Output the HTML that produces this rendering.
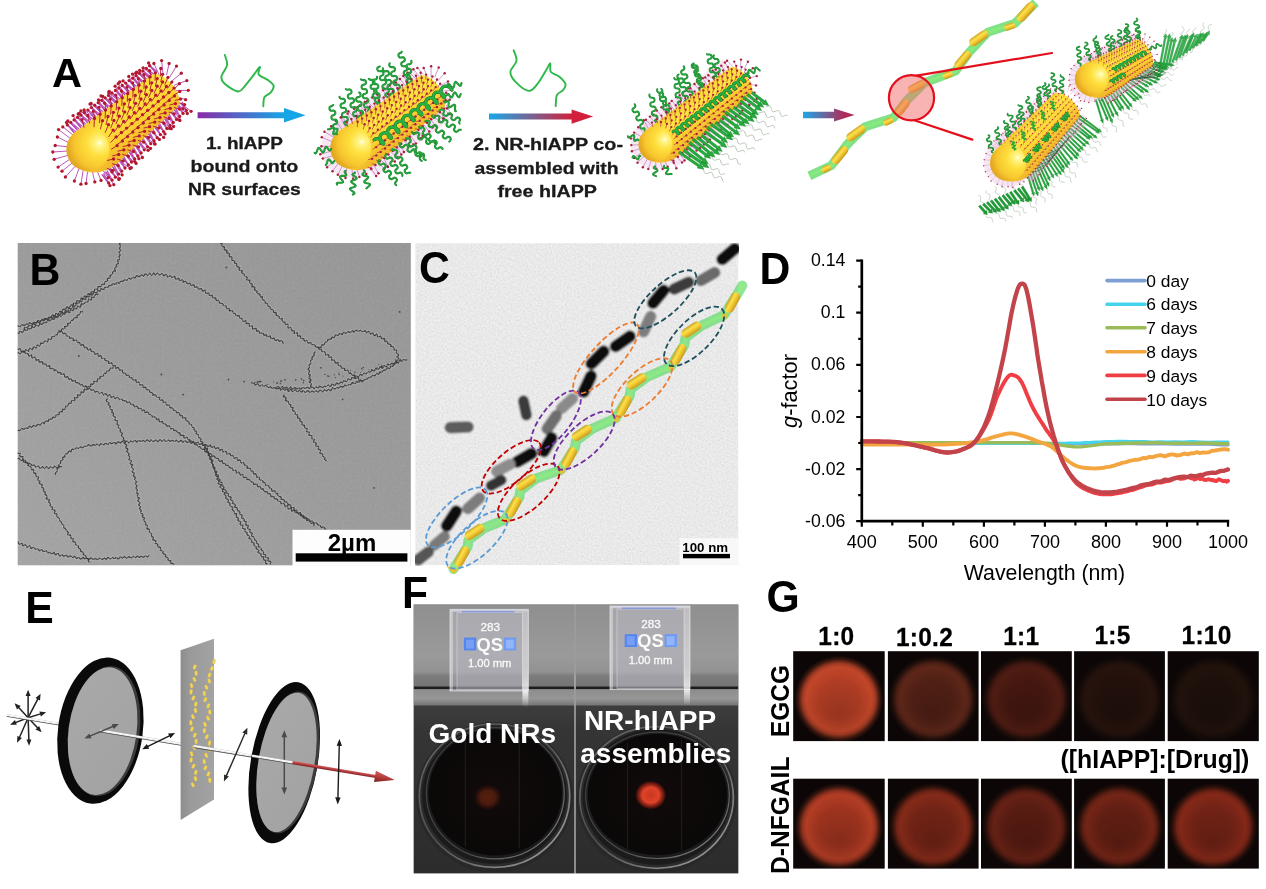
<!DOCTYPE html>
<html lang="en"><head><meta charset="utf-8"><title>Figure</title>
<style>
html,body{margin:0;padding:0;background:#fff;}
body{width:1266px;height:889px;overflow:hidden;}
svg{display:block;font-family:"Liberation Sans", Arial, Helvetica, sans-serif;}
</style></head><body>
<svg width="1266" height="889" viewBox="0 0 1266 889">
<rect width="1266" height="889" fill="#fff"/>
<g id="panelA">
<path d="M74.3,133.1 L67.3,124.9 L75.8,131.8 M77.6,130.5 L70.7,122.3 L79.2,129.2 M81,128 L74.1,119.9 L82.6,126.7 M84.4,125.5 L77.5,117.4 L86,124.2 M87.8,123 L81,115 L89.4,121.7 M91.2,120.5 L84.4,112.5 L92.8,119.2 M94.6,118 L87.9,110.1 L96.2,116.7 M98,115.5 L91.3,107.6 L99.6,114.2 M101.4,113 L94.7,105.2 L103,111.7 M104.8,110.5 L98.2,102.7 L106.4,109.2 M108.2,108 L101.6,100.3 L109.8,106.7 M111.6,105.5 L105.1,97.8 L113.2,104.2 M115,103 L108.5,95.4 L116.6,101.7 M118.4,100.5 L111.9,92.9 L120,99.2 M121.8,98 L115.4,90.4 L123.4,96.7 M125.2,95.5 L118.8,88 L126.8,94.2 M128.6,93 L122.3,85.5 L130.2,91.7 M132,90.5 L125.7,83.1 L133.6,89.2 M135.4,88 L129.1,80.6 L137,86.7 M138.9,85.5 L132.6,78.2 L140.4,84.2 M142.3,83 L136,75.7 L143.8,81.7 M145.7,80.5 L139.5,73.3 L147.2,79.2 M149.1,78 L142.9,70.8 L150.6,76.7 M152.4,75.5 L146.3,68.3 L154,74.2 M155.7,72.8 L149.6,65.7 L157.3,71.5 M102,174.5 L108.7,183 L103.6,173.2 M105.4,171.7 L112.1,180.1 L107,170.4 M108.7,168.8 L115.4,177.2 L110.3,167.5 M112,165.8 L118.6,174.1 L113.6,164.5 M115.2,162.8 L121.8,171.1 L116.8,161.5 M118.5,159.8 L125,168 L120.1,158.5 M121.8,156.8 L128.3,165 L123.3,155.5 M125,153.8 L131.5,162 L126.6,152.5 M128.3,150.8 L134.7,158.9 L129.8,149.5 M131.5,147.8 L137.9,155.9 L133.1,146.6 M134.8,144.8 L141.1,152.9 L136.3,143.6 M138,141.9 L144.3,149.8 L139.6,140.6 M141.3,138.9 L147.6,146.8 L142.8,137.6 M144.5,135.9 L150.8,143.7 L146.1,134.6 M147.8,132.9 L154,140.7 L149.4,131.6 M151,129.9 L157.2,137.7 L152.6,128.6 M154.3,126.9 L160.4,134.6 L155.9,125.6 M157.6,123.9 L163.6,131.6 L159.1,122.6 M160.8,120.9 L166.9,128.5 L162.4,119.6 M164.1,117.9 L170.1,125.5 L165.6,116.6 M167.3,114.9 L173.3,122.5 L168.9,113.6 M170.6,111.9 L176.5,119.4 L172.1,110.6 M173.8,108.9 L179.7,116.4 L175.4,107.6 M177.1,106 L183,113.4 L178.7,104.7 M180.5,103.2 L186.3,110.5 L182.1,101.9" fill="none" stroke="#b545b5" stroke-width="1.35" opacity="0.9" stroke-linejoin="round"/><path d="M74.3,133.1 L66.6,122.4 M77.6,130.5 L67.8,121 M81,128 L73.1,115.6 M84.4,125.5 L78.2,114 M87.8,123 L79.2,113.4 M91.2,120.5 L80.9,111 M94.6,118 L84.1,110 M98,115.5 L90,104.1 M101.4,113 L91.1,103.5 M104.8,110.5 L98.5,99.8 M108.2,108 L101,95.9 M111.6,105.5 L102.8,96.4 M115,103 L109.2,91.3 M118.4,100.5 L108.8,92.7 M121.8,98 L115.1,86.2 M125.2,95.5 L118.2,83.7 M128.6,93 L119.8,81.8 M132,90.5 L123.1,80.9 M135.4,88 L128.8,76.5 M138.9,85.5 L132.5,74.1 M142.3,83 L135.7,73.2 M145.7,80.5 L136.6,72.2 M149.1,78 L139.6,70.5 M152.4,75.5 L143.1,67.8 M155.7,72.8 L148.6,62.9 M102,174.5 L110,185.6 M105.4,171.7 L113.8,184.7 M108.7,168.8 L118.8,179.4 M112,165.8 L119.4,178.6 M115.2,162.8 L122.1,174.8 M118.5,159.8 L130.1,168.5 M121.8,156.8 L131.3,167.7 M125,153.8 L136.1,163.4 M128.3,150.8 L134.9,161.6 M131.5,147.8 L138.9,158.7 M134.8,144.8 L142.4,157.5 M138,141.9 L148.1,150.3 M141.3,138.9 L150.5,148.4 M144.5,135.9 L154.9,144.2 M147.8,132.9 L154.7,143.6 M151,129.9 L159.4,139.4 M154.3,126.9 L163.7,137.4 M157.6,123.9 L165,133.9 M160.8,120.9 L171.3,128.7 M164.1,117.9 L169.6,128.4 M167.3,114.9 L173.6,126.5 M170.6,111.9 L179.9,120.4 M173.8,108.9 L179.5,120 M177.1,106 L187.3,113.5 M180.5,103.2 L191.1,111.3 M103.1,163.1 L111.9,171.8 M99.9,166.1 L108.2,177.7 M96.1,168.2 L101,180.4 M92,169.6 L94.8,181.9 M87.7,170 L86.1,183.5 M83.3,169.5 L80.9,184.2 M79.2,168.1 L74.4,181 M75.5,165.9 L65.4,177 M72.3,162.9 L62,171.2 M69.8,159.3 L58.1,167.1 M68.1,155.3 L54.2,159.3 M67.4,151 L52.8,152 M67.5,146.7 L55.2,145.5 M68.5,142.5 L57.4,137 M70.5,138.6 L58.6,129.6 M73.2,135.1 L62.8,126.9 M159.8,76.3 L153.9,63.5 M163.1,74.8 L161.6,60.6 M166.5,75.1 L169.1,63.5 M169.6,77.2 L176.5,66.1 M172.2,80.7 L181.3,73.2 M173.8,85.4 L186.8,80.6 M174.5,90.7 L188.3,90.3 M174,96.1 L185.6,99.7 M172.5,100.9 L183,108.6" fill="none" stroke="#b545b5" stroke-width="0.9"/><g fill="#b3182e"><circle cx="66.6" cy="122.4" r="1.65"/><circle cx="67.3" cy="124.9" r="1.65"/><circle cx="67.8" cy="121" r="1.65"/><circle cx="70.7" cy="122.3" r="1.65"/><circle cx="73.1" cy="115.6" r="1.65"/><circle cx="74.1" cy="119.9" r="1.65"/><circle cx="78.2" cy="114" r="1.65"/><circle cx="77.5" cy="117.4" r="1.65"/><circle cx="79.2" cy="113.4" r="1.65"/><circle cx="81" cy="115" r="1.65"/><circle cx="80.9" cy="111" r="1.65"/><circle cx="84.4" cy="112.5" r="1.65"/><circle cx="84.1" cy="110" r="1.65"/><circle cx="87.9" cy="110.1" r="1.65"/><circle cx="90" cy="104.1" r="1.65"/><circle cx="91.3" cy="107.6" r="1.65"/><circle cx="91.1" cy="103.5" r="1.65"/><circle cx="94.7" cy="105.2" r="1.65"/><circle cx="98.5" cy="99.8" r="1.65"/><circle cx="98.2" cy="102.7" r="1.65"/><circle cx="101" cy="95.9" r="1.65"/><circle cx="101.6" cy="100.3" r="1.65"/><circle cx="102.8" cy="96.4" r="1.65"/><circle cx="105.1" cy="97.8" r="1.65"/><circle cx="109.2" cy="91.3" r="1.65"/><circle cx="108.5" cy="95.4" r="1.65"/><circle cx="108.8" cy="92.7" r="1.65"/><circle cx="111.9" cy="92.9" r="1.65"/><circle cx="115.1" cy="86.2" r="1.65"/><circle cx="115.4" cy="90.4" r="1.65"/><circle cx="118.2" cy="83.7" r="1.65"/><circle cx="118.8" cy="88" r="1.65"/><circle cx="119.8" cy="81.8" r="1.65"/><circle cx="122.3" cy="85.5" r="1.65"/><circle cx="123.1" cy="80.9" r="1.65"/><circle cx="125.7" cy="83.1" r="1.65"/><circle cx="128.8" cy="76.5" r="1.65"/><circle cx="129.1" cy="80.6" r="1.65"/><circle cx="132.5" cy="74.1" r="1.65"/><circle cx="132.6" cy="78.2" r="1.65"/><circle cx="135.7" cy="73.2" r="1.65"/><circle cx="136" cy="75.7" r="1.65"/><circle cx="136.6" cy="72.2" r="1.65"/><circle cx="139.5" cy="73.3" r="1.65"/><circle cx="139.6" cy="70.5" r="1.65"/><circle cx="142.9" cy="70.8" r="1.65"/><circle cx="143.1" cy="67.8" r="1.65"/><circle cx="146.3" cy="68.3" r="1.65"/><circle cx="148.6" cy="62.9" r="1.65"/><circle cx="149.6" cy="65.7" r="1.65"/><circle cx="110" cy="185.6" r="1.65"/><circle cx="108.7" cy="183" r="1.65"/><circle cx="113.8" cy="184.7" r="1.65"/><circle cx="112.1" cy="180.1" r="1.65"/><circle cx="118.8" cy="179.4" r="1.65"/><circle cx="115.4" cy="177.2" r="1.65"/><circle cx="119.4" cy="178.6" r="1.65"/><circle cx="118.6" cy="174.1" r="1.65"/><circle cx="122.1" cy="174.8" r="1.65"/><circle cx="121.8" cy="171.1" r="1.65"/><circle cx="130.1" cy="168.5" r="1.65"/><circle cx="125" cy="168" r="1.65"/><circle cx="131.3" cy="167.7" r="1.65"/><circle cx="128.3" cy="165" r="1.65"/><circle cx="136.1" cy="163.4" r="1.65"/><circle cx="131.5" cy="162" r="1.65"/><circle cx="134.9" cy="161.6" r="1.65"/><circle cx="134.7" cy="158.9" r="1.65"/><circle cx="138.9" cy="158.7" r="1.65"/><circle cx="137.9" cy="155.9" r="1.65"/><circle cx="142.4" cy="157.5" r="1.65"/><circle cx="141.1" cy="152.9" r="1.65"/><circle cx="148.1" cy="150.3" r="1.65"/><circle cx="144.3" cy="149.8" r="1.65"/><circle cx="150.5" cy="148.4" r="1.65"/><circle cx="147.6" cy="146.8" r="1.65"/><circle cx="154.9" cy="144.2" r="1.65"/><circle cx="150.8" cy="143.7" r="1.65"/><circle cx="154.7" cy="143.6" r="1.65"/><circle cx="154" cy="140.7" r="1.65"/><circle cx="159.4" cy="139.4" r="1.65"/><circle cx="157.2" cy="137.7" r="1.65"/><circle cx="163.7" cy="137.4" r="1.65"/><circle cx="160.4" cy="134.6" r="1.65"/><circle cx="165" cy="133.9" r="1.65"/><circle cx="163.6" cy="131.6" r="1.65"/><circle cx="171.3" cy="128.7" r="1.65"/><circle cx="166.9" cy="128.5" r="1.65"/><circle cx="169.6" cy="128.4" r="1.65"/><circle cx="170.1" cy="125.5" r="1.65"/><circle cx="173.6" cy="126.5" r="1.65"/><circle cx="173.3" cy="122.5" r="1.65"/><circle cx="179.9" cy="120.4" r="1.65"/><circle cx="176.5" cy="119.4" r="1.65"/><circle cx="179.5" cy="120" r="1.65"/><circle cx="179.7" cy="116.4" r="1.65"/><circle cx="187.3" cy="113.5" r="1.65"/><circle cx="183" cy="113.4" r="1.65"/><circle cx="191.1" cy="111.3" r="1.65"/><circle cx="186.3" cy="110.5" r="1.65"/><circle cx="111.9" cy="171.8" r="1.65"/><circle cx="108.2" cy="177.7" r="1.65"/><circle cx="101" cy="180.4" r="1.65"/><circle cx="94.8" cy="181.9" r="1.65"/><circle cx="86.1" cy="183.5" r="1.65"/><circle cx="80.9" cy="184.2" r="1.65"/><circle cx="74.4" cy="181" r="1.65"/><circle cx="65.4" cy="177" r="1.65"/><circle cx="62" cy="171.2" r="1.65"/><circle cx="58.1" cy="167.1" r="1.65"/><circle cx="54.2" cy="159.3" r="1.65"/><circle cx="52.8" cy="152" r="1.65"/><circle cx="55.2" cy="145.5" r="1.65"/><circle cx="57.4" cy="137" r="1.65"/><circle cx="58.6" cy="129.6" r="1.65"/><circle cx="62.8" cy="126.9" r="1.65"/><circle cx="153.9" cy="63.5" r="1.65"/><circle cx="161.6" cy="60.6" r="1.65"/><circle cx="169.1" cy="63.5" r="1.65"/><circle cx="176.5" cy="66.1" r="1.65"/><circle cx="181.3" cy="73.2" r="1.65"/><circle cx="186.8" cy="80.6" r="1.65"/><circle cx="188.3" cy="90.3" r="1.65"/><circle cx="185.6" cy="99.7" r="1.65"/><circle cx="183" cy="108.6" r="1.65"/></g>
<linearGradient id="rb1" gradientUnits="userSpaceOnUse" x1="75.1" y1="131.1" x2="107.9" y2="170.9"><stop offset="0" stop-color="#f7c832"/><stop offset="0.28" stop-color="#ffe541"/><stop offset="0.6" stop-color="#fdd334"/><stop offset="1" stop-color="#efb42a"/></linearGradient><radialGradient id="rs1" gradientUnits="userSpaceOnUse" cx="99.6" cy="143.1" r="32.2"><stop offset="0" stop-color="#fffef0"/><stop offset="0.1" stop-color="#fff68c"/><stop offset="0.4" stop-color="#fedf3c"/><stop offset="0.78" stop-color="#f7c62e"/><stop offset="1" stop-color="#e3a922"/></radialGradient><path d="M82.7,170.4 L74.1,132.9 L151.1,75.3 A10.3,20.6 -39.4 0 1 177.3,107.1 L117,163.4 Q100.4,177.1 82.7,170.4 Z" fill="url(#rb1)"/><circle cx="87.8" cy="149.5" r="21.5" fill="url(#rs1)"/>
<path d="M84.1,127.6 L82.1,119.6 M89.7,123.4 L87.7,115.5 M95.3,119.3 L93.3,111.4 M100.9,115.1 L98.9,107.3 M106.5,111 L104.6,103.2 M112.1,106.8 L110.2,99.2 M117.7,102.6 L115.8,95.1 M123.3,98.5 L121.4,91 M128.9,94.3 L127,86.9 M134.5,90.2 L132.6,82.8 M140.1,86 L138.3,78.7 M145.7,81.9 L143.9,74.6 M151.3,77.7 L149.5,70.6 M94,127.2 L94.4,118.4 M99.6,123 L100,114.2 M105.1,118.7 L105.5,110.1 M110.7,114.5 L111.1,105.9 M116.2,110.3 L116.6,101.8 M121.8,106.1 L122.1,97.7 M127.3,101.8 L127.7,93.5 M132.8,97.6 L133.2,89.4 M138.4,93.4 L138.8,85.2 M143.9,89.2 L144.3,81.1 M149.5,84.9 L149.8,76.9 M155,80.7 L155.4,72.8 M160.4,76.3 L160.8,68.5 M100.4,129.3 L102.5,120.7 M105.9,125 L108,116.5 M111.4,120.7 L113.4,112.3 M116.9,116.4 L118.9,108.1 M122.3,112.2 L124.4,103.8 M127.8,107.9 L129.8,99.6 M133.3,103.6 L135.3,95.4 M138.8,99.3 L140.8,91.2 M144.3,95 L146.2,87 M149.8,90.7 L151.7,82.8 M155.3,86.4 L157.2,78.6 M160.7,82.1 L162.6,74.3 M105.1,132.7 L108.5,124.7 M110.5,128.3 L113.9,120.4 M115.9,124 L119.3,116.2 M121.4,119.6 L124.7,111.9 M126.8,115.2 L130.1,107.6 M132.2,110.9 L135.6,103.3 M137.7,106.5 L141,99 M143.1,102.2 L146.4,94.7 M148.5,97.8 L151.8,90.4 M154,93.5 L157.2,86.2 M159.4,89.1 L162.6,81.9 M164.8,84.7 L167.9,77.5 M108.5,137 L113.1,130.1 M113.9,132.6 L118.4,125.8 M119.2,128.2 L123.7,121.4 M124.6,123.8 L129.1,117 M130,119.3 L134.4,112.7 M135.4,114.9 L139.7,108.3 M140.7,110.5 L145.1,104 M146.1,106.1 L150.4,99.6 M151.5,101.6 L155.8,95.2 M156.9,97.2 L161.1,90.9 M162.3,92.8 L166.4,86.5 M167.6,88.4 L171.8,82.1 M110.6,142.5 L116.1,136.9 M115.9,138 L121.4,132.5 M121.2,133.5 L126.6,128.1 M126.6,129 L131.9,123.6 M131.9,124.5 L137.2,119.2 M137.2,120 L142.5,114.7 M142.5,115.5 L147.7,110.3 M147.9,111 L153,105.9 M153.2,106.6 L158.3,101.4 M158.5,102.1 L163.5,97 M163.8,97.6 L168.8,92.5 M169.2,93.1 L174.1,88.1 M174.6,88.7 L179.4,83.7 M111.1,149.4 L117.2,145.6 M116.3,144.9 L122.4,141.1 M121.6,140.3 L127.6,136.6 M126.9,135.8 L132.8,132.1 M132.1,131.2 L138.1,127.6 M137.4,126.6 L143.3,123 M142.7,122.1 L148.5,118.5 M147.9,117.5 L153.7,114 M153.2,113 L158.9,109.5 M158.5,108.4 L164.1,104.9 M163.7,103.8 L169.3,100.4 M169,99.3 L174.5,95.9 M174.4,94.8 L179.8,91.5 M107,160.5 L113.6,159 M112.3,155.9 L118.7,154.4 M117.5,151.2 L123.9,149.8 M122.7,146.6 L129,145.2 M127.9,142 L134.2,140.5 M133.1,137.4 L139.3,135.9 M138.3,132.7 L144.5,131.3 M143.5,128.1 L149.6,126.7 M148.7,123.5 L154.8,122.1 M154,118.9 L160,117.5 M159.2,114.2 L165.1,112.9 M164.4,109.6 L170.3,108.3 M169.6,105 L175.4,103.6 M174.9,100.4 L180.6,99.1 M106.8,168.4 L113,170.3 M112,163.7 L118.1,165.6 M117.1,159 L123.2,160.9 M122.3,154.3 L128.3,156.2 M127.4,149.7 L133.4,151.5 M132.6,145 L138.5,146.8 M137.8,140.3 L143.6,142.1 M142.9,135.6 L148.7,137.4 M148.1,130.9 L153.8,132.7 M153.2,126.2 L158.9,127.9 M158.4,121.5 L164,123.2 M163.6,116.8 L169.1,118.5 M168.7,112.1 L174.2,113.8 M173.9,107.4 L179.3,109.1 M179.2,102.9 L184.6,104.6" fill="none" stroke="#b3182e" stroke-width="1.0" opacity="0.9"/><g fill="#b3182e"><circle cx="82.1" cy="119.6" r="1.65"/><circle cx="87.7" cy="115.5" r="1.65"/><circle cx="93.3" cy="111.4" r="1.65"/><circle cx="98.9" cy="107.3" r="1.65"/><circle cx="104.6" cy="103.2" r="1.65"/><circle cx="110.2" cy="99.2" r="1.65"/><circle cx="115.8" cy="95.1" r="1.65"/><circle cx="121.4" cy="91" r="1.65"/><circle cx="127" cy="86.9" r="1.65"/><circle cx="132.6" cy="82.8" r="1.65"/><circle cx="138.3" cy="78.7" r="1.65"/><circle cx="143.9" cy="74.6" r="1.65"/><circle cx="149.5" cy="70.6" r="1.65"/><circle cx="94.4" cy="118.4" r="1.65"/><circle cx="100" cy="114.2" r="1.65"/><circle cx="105.5" cy="110.1" r="1.65"/><circle cx="111.1" cy="105.9" r="1.65"/><circle cx="116.6" cy="101.8" r="1.65"/><circle cx="122.1" cy="97.7" r="1.65"/><circle cx="127.7" cy="93.5" r="1.65"/><circle cx="133.2" cy="89.4" r="1.65"/><circle cx="138.8" cy="85.2" r="1.65"/><circle cx="144.3" cy="81.1" r="1.65"/><circle cx="149.8" cy="76.9" r="1.65"/><circle cx="155.4" cy="72.8" r="1.65"/><circle cx="160.8" cy="68.5" r="1.65"/><circle cx="102.5" cy="120.7" r="1.65"/><circle cx="108" cy="116.5" r="1.65"/><circle cx="113.4" cy="112.3" r="1.65"/><circle cx="118.9" cy="108.1" r="1.65"/><circle cx="124.4" cy="103.8" r="1.65"/><circle cx="129.8" cy="99.6" r="1.65"/><circle cx="135.3" cy="95.4" r="1.65"/><circle cx="140.8" cy="91.2" r="1.65"/><circle cx="146.2" cy="87" r="1.65"/><circle cx="151.7" cy="82.8" r="1.65"/><circle cx="157.2" cy="78.6" r="1.65"/><circle cx="162.6" cy="74.3" r="1.65"/><circle cx="108.5" cy="124.7" r="1.65"/><circle cx="113.9" cy="120.4" r="1.65"/><circle cx="119.3" cy="116.2" r="1.65"/><circle cx="124.7" cy="111.9" r="1.65"/><circle cx="130.1" cy="107.6" r="1.65"/><circle cx="135.6" cy="103.3" r="1.65"/><circle cx="141" cy="99" r="1.65"/><circle cx="146.4" cy="94.7" r="1.65"/><circle cx="151.8" cy="90.4" r="1.65"/><circle cx="157.2" cy="86.2" r="1.65"/><circle cx="162.6" cy="81.9" r="1.65"/><circle cx="167.9" cy="77.5" r="1.65"/><circle cx="113.1" cy="130.1" r="1.65"/><circle cx="118.4" cy="125.8" r="1.65"/><circle cx="123.7" cy="121.4" r="1.65"/><circle cx="129.1" cy="117" r="1.65"/><circle cx="134.4" cy="112.7" r="1.65"/><circle cx="139.7" cy="108.3" r="1.65"/><circle cx="145.1" cy="104" r="1.65"/><circle cx="150.4" cy="99.6" r="1.65"/><circle cx="155.8" cy="95.2" r="1.65"/><circle cx="161.1" cy="90.9" r="1.65"/><circle cx="166.4" cy="86.5" r="1.65"/><circle cx="171.8" cy="82.1" r="1.65"/><circle cx="116.1" cy="136.9" r="1.65"/><circle cx="121.4" cy="132.5" r="1.65"/><circle cx="126.6" cy="128.1" r="1.65"/><circle cx="131.9" cy="123.6" r="1.65"/><circle cx="137.2" cy="119.2" r="1.65"/><circle cx="142.5" cy="114.7" r="1.65"/><circle cx="147.7" cy="110.3" r="1.65"/><circle cx="153" cy="105.9" r="1.65"/><circle cx="158.3" cy="101.4" r="1.65"/><circle cx="163.5" cy="97" r="1.65"/><circle cx="168.8" cy="92.5" r="1.65"/><circle cx="174.1" cy="88.1" r="1.65"/><circle cx="179.4" cy="83.7" r="1.65"/><circle cx="117.2" cy="145.6" r="1.65"/><circle cx="122.4" cy="141.1" r="1.65"/><circle cx="127.6" cy="136.6" r="1.65"/><circle cx="132.8" cy="132.1" r="1.65"/><circle cx="138.1" cy="127.6" r="1.65"/><circle cx="143.3" cy="123" r="1.65"/><circle cx="148.5" cy="118.5" r="1.65"/><circle cx="153.7" cy="114" r="1.65"/><circle cx="158.9" cy="109.5" r="1.65"/><circle cx="164.1" cy="104.9" r="1.65"/><circle cx="169.3" cy="100.4" r="1.65"/><circle cx="174.5" cy="95.9" r="1.65"/><circle cx="179.8" cy="91.5" r="1.65"/><circle cx="113.6" cy="159" r="1.65"/><circle cx="118.7" cy="154.4" r="1.65"/><circle cx="123.9" cy="149.8" r="1.65"/><circle cx="129" cy="145.2" r="1.65"/><circle cx="134.2" cy="140.5" r="1.65"/><circle cx="139.3" cy="135.9" r="1.65"/><circle cx="144.5" cy="131.3" r="1.65"/><circle cx="149.6" cy="126.7" r="1.65"/><circle cx="154.8" cy="122.1" r="1.65"/><circle cx="160" cy="117.5" r="1.65"/><circle cx="165.1" cy="112.9" r="1.65"/><circle cx="170.3" cy="108.3" r="1.65"/><circle cx="175.4" cy="103.6" r="1.65"/><circle cx="180.6" cy="99.1" r="1.65"/><circle cx="113" cy="170.3" r="1.65"/><circle cx="118.1" cy="165.6" r="1.65"/><circle cx="123.2" cy="160.9" r="1.65"/><circle cx="128.3" cy="156.2" r="1.65"/><circle cx="133.4" cy="151.5" r="1.65"/><circle cx="138.5" cy="146.8" r="1.65"/><circle cx="143.6" cy="142.1" r="1.65"/><circle cx="148.7" cy="137.4" r="1.65"/><circle cx="153.8" cy="132.7" r="1.65"/><circle cx="158.9" cy="127.9" r="1.65"/><circle cx="164" cy="123.2" r="1.65"/><circle cx="169.1" cy="118.5" r="1.65"/><circle cx="174.2" cy="113.8" r="1.65"/><circle cx="179.3" cy="109.1" r="1.65"/><circle cx="184.6" cy="104.6" r="1.65"/></g>
<linearGradient id="ga1" gradientUnits="userSpaceOnUse" x1="197.6" y1="0" x2="305.6" y2="0"><stop offset="0" stop-color="#8a2aa8"/><stop offset="0.8" stop-color="#16a6e6"/><stop offset="1" stop-color="#16a6e6"/></linearGradient><path d="M197.6,112.2 H284 V108.0 L305.6,115.2 L284,122.4 V118.2 H197.6 Z" fill="url(#ga1)"/>
<path d="M224.8,54.9 C225.2,56.6 227.7,61.6 227.1,65.2 C226.5,68.8 221.8,73.6 221.4,76.6 C220.9,79.7 221.6,81 224.4,83.5 C227.1,86 234.7,91.2 238.1,91.5 C241.5,91.9 242.3,88.7 245,85.8 C247.6,82.9 251.7,77.5 254.1,74.4 C256.6,71.2 259.1,67 259.9,67 C260.6,67 257.4,72.2 258.7,74.4 C260,76.5 265.4,78.2 267.9,80.1 C270.4,82 273.1,83.7 273.6,85.8 C274.1,87.9 272.1,90.8 270.6,92.7 C269.1,94.6 265.7,95 264.4,97.3 C263.2,99.6 263.5,104.9 263.3,106.4" fill="none" stroke="#2db84a" stroke-width="1.9" stroke-linecap="round"/>
<text x="244.4" y="149.2" font-size="17.2" font-weight="bold" text-anchor="middle" fill="#1a1a1a" stroke="#1a1a1a" stroke-width="0.3" textLength="77" lengthAdjust="spacingAndGlyphs">1. hIAPP</text>
<text x="244.4" y="172.0" font-size="17.2" font-weight="bold" text-anchor="middle" fill="#1a1a1a" stroke="#1a1a1a" stroke-width="0.3" textLength="107.8" lengthAdjust="spacingAndGlyphs">bound onto</text>
<text x="244.4" y="195.2" font-size="17.2" font-weight="bold" text-anchor="middle" fill="#1a1a1a" stroke="#1a1a1a" stroke-width="0.3" textLength="112.6" lengthAdjust="spacingAndGlyphs">NR surfaces</text>
<path d="M354.2,149.6 L431,92.5" stroke="#e7b7dc" stroke-width="66.8" opacity="0.33" fill="none"/><circle cx="350.7" cy="148" r="29.3" fill="#e7b7dc" opacity="0.33"/>
<path d="M341.9,129.4 L335.9,120.9 M345.5,127 L340.8,117.5 M349,124.7 L341.4,117 M352.6,122.3 L347.5,113.5 M356.1,119.9 L348.4,111.3 M359.7,117.5 L354.1,108.7 M363.3,115.1 L357.5,107.2 M366.8,112.7 L359.7,105.5 M370.4,110.3 L364.8,102.1 M373.9,107.9 L367.2,101.2 M377.5,105.6 L372.2,97.4 M381,103.2 L376.4,93.3 M384.6,100.8 L377.3,94.4 M388.1,98.4 L383.1,90.3 M391.7,96 L383.8,88.6 M395.3,93.6 L389.6,85.4 M398.8,91.2 L393.8,82 M402.4,88.9 L395.9,82.4 M405.9,86.5 L399.9,78.9 M409.5,84.1 L403.3,76 M413,81.7 L407.5,72.7 M416.6,79.3 L409.6,73 M420.1,76.9 L413.4,69.2 M423.6,74.4 L417.4,67.9 M369.9,167.1 L376.1,175.9 M373.3,164.4 L378.5,173.3 M376.6,161.7 L384.5,168.7 M379.9,159 L387.7,166.4 M383.2,156.3 L387.9,166.9 M386.5,153.6 L394.8,161.5 M389.8,150.8 L398.2,158.2 M393.1,148.1 L397.9,157.4 M396.4,145.4 L401.3,154.4 M399.7,142.7 L403.9,151.9 M403.1,140 L410.6,146.3 M406.4,137.3 L413.5,144.5 M409.7,134.5 L415.9,143.6 M413,131.8 L420.9,138.3 M416.3,129.1 L422.7,136 M419.6,126.4 L425.2,135.7 M422.9,123.7 L429.2,131.5 M426.2,121 L432.5,127.5 M429.5,118.2 L435.7,125.9 M432.9,115.5 L439.5,121.8 M436.2,112.8 L443,118.6 M439.5,110.1 L444,118.8 M442.8,107.4 L448.9,114.2 M446.2,104.9 L450.7,114 M364.4,161.9 L371.2,169.1 M360.7,164.8 L366.3,173.9 M356.3,166.7 L359.4,176.9 M351.7,167.5 L353.1,178.8 M347,167.1 L345.5,178 M342.5,165.7 L337.8,174.8 M338.4,163.2 L332.5,171.2 M335.2,159.8 L327.1,167.3 M332.8,155.7 L322.8,158.6 M331.5,151.1 L320.3,154.2 M331.3,146.4 L321.4,146.2 M332.2,141.8 L321.8,137.2 M334.3,137.5 L324.5,131.8 M337.3,133.9 L331.2,126.3 M427.4,77.6 L423.7,67.9 M431,76.5 L431.1,66.3 M434.7,77.6 L438.7,67.4 M437.8,80.8 L444.7,73.2 M440,85.5 L448,81.6 M441,91.2 L451.5,90.3 M440.6,97 L449.7,99.7 M438.9,102.3 L447,108.6" fill="none" stroke="#b973c0" stroke-width="0.7"/><g fill="#a8203c"><circle cx="335.9" cy="120.9" r="1.25"/><circle cx="340.8" cy="117.5" r="1.25"/><circle cx="341.4" cy="117" r="1.25"/><circle cx="347.5" cy="113.5" r="1.25"/><circle cx="348.4" cy="111.3" r="1.25"/><circle cx="354.1" cy="108.7" r="1.25"/><circle cx="357.5" cy="107.2" r="1.25"/><circle cx="359.7" cy="105.5" r="1.25"/><circle cx="364.8" cy="102.1" r="1.25"/><circle cx="367.2" cy="101.2" r="1.25"/><circle cx="372.2" cy="97.4" r="1.25"/><circle cx="376.4" cy="93.3" r="1.25"/><circle cx="377.3" cy="94.4" r="1.25"/><circle cx="383.1" cy="90.3" r="1.25"/><circle cx="383.8" cy="88.6" r="1.25"/><circle cx="389.6" cy="85.4" r="1.25"/><circle cx="393.8" cy="82" r="1.25"/><circle cx="395.9" cy="82.4" r="1.25"/><circle cx="399.9" cy="78.9" r="1.25"/><circle cx="403.3" cy="76" r="1.25"/><circle cx="407.5" cy="72.7" r="1.25"/><circle cx="409.6" cy="73" r="1.25"/><circle cx="413.4" cy="69.2" r="1.25"/><circle cx="417.4" cy="67.9" r="1.25"/><circle cx="376.1" cy="175.9" r="1.25"/><circle cx="378.5" cy="173.3" r="1.25"/><circle cx="384.5" cy="168.7" r="1.25"/><circle cx="387.7" cy="166.4" r="1.25"/><circle cx="387.9" cy="166.9" r="1.25"/><circle cx="394.8" cy="161.5" r="1.25"/><circle cx="398.2" cy="158.2" r="1.25"/><circle cx="397.9" cy="157.4" r="1.25"/><circle cx="401.3" cy="154.4" r="1.25"/><circle cx="403.9" cy="151.9" r="1.25"/><circle cx="410.6" cy="146.3" r="1.25"/><circle cx="413.5" cy="144.5" r="1.25"/><circle cx="415.9" cy="143.6" r="1.25"/><circle cx="420.9" cy="138.3" r="1.25"/><circle cx="422.7" cy="136" r="1.25"/><circle cx="425.2" cy="135.7" r="1.25"/><circle cx="429.2" cy="131.5" r="1.25"/><circle cx="432.5" cy="127.5" r="1.25"/><circle cx="435.7" cy="125.9" r="1.25"/><circle cx="439.5" cy="121.8" r="1.25"/><circle cx="443" cy="118.6" r="1.25"/><circle cx="444" cy="118.8" r="1.25"/><circle cx="448.9" cy="114.2" r="1.25"/><circle cx="450.7" cy="114" r="1.25"/><circle cx="371.2" cy="169.1" r="1.25"/><circle cx="366.3" cy="173.9" r="1.25"/><circle cx="359.4" cy="176.9" r="1.25"/><circle cx="353.1" cy="178.8" r="1.25"/><circle cx="345.5" cy="178" r="1.25"/><circle cx="337.8" cy="174.8" r="1.25"/><circle cx="332.5" cy="171.2" r="1.25"/><circle cx="327.1" cy="167.3" r="1.25"/><circle cx="322.8" cy="158.6" r="1.25"/><circle cx="320.3" cy="154.2" r="1.25"/><circle cx="321.4" cy="146.2" r="1.25"/><circle cx="321.8" cy="137.2" r="1.25"/><circle cx="324.5" cy="131.8" r="1.25"/><circle cx="331.2" cy="126.3" r="1.25"/><circle cx="423.7" cy="67.9" r="1.25"/><circle cx="431.1" cy="66.3" r="1.25"/><circle cx="438.7" cy="67.4" r="1.25"/><circle cx="444.7" cy="73.2" r="1.25"/><circle cx="448" cy="81.6" r="1.25"/><circle cx="451.5" cy="90.3" r="1.25"/><circle cx="449.7" cy="99.7" r="1.25"/><circle cx="447" cy="108.6" r="1.25"/></g>
<path d="M336.4,132.9 337,131.6 337.6,130 337.5,128.8 336.2,128.7 334.9,128.8 333.7,128.3 333,127 333.1,125.5 333.9,124.5 335.2,124.1 336.5,123.7 337.1,122.5 337,121 336.2,119.8 335,119.5 333.6,119.7 332.3,119.4 331.5,118.3 331.4,116.8 332,115.7 333.2,115.2 334.5,114.7 335.3,113.7 335.3,112.2 334.6,110.9 333.4,110.5 332,110.7 330.7,110.6 329.7,109.7 329.4,108.2 329.8,106.9 331,106.3 332.3,105.8 333.2,104.9 M346.8,125.7 345.8,124.9 344.7,123.6 344.2,122.4 345.1,121.7 346.4,121.4 347.5,120.7 347.8,119.4 347.5,117.9 346.5,117 345.2,117 343.9,117.1 342.7,116.7 342,115.4 342.1,113.9 342.8,112.9 344.1,112.5 345.3,112.1 346.1,111.1 346.1,109.6 345.5,108.4 344.3,107.9 343,108 341.7,107.8 340.8,106.9 340.5,105.4 341,104.1 342.1,103.5 343.5,103.2 344.5,102.6 345,101.3 344.7,99.8 343.7,98.9 342.5,98.8 341.1,98.8 340,98.2 339.5,96.8 M357,118 357.2,116.5 356.9,115.9 355.9,116.1 354.6,116.2 353.6,115.4 353.1,113.9 353.4,112.6 354.4,111.8 355.7,111.4 356.6,110.5 356.7,109.1 356.1,107.7 355,107.1 353.7,107.2 352.4,107.5 351.2,107 350.5,105.7 350.5,104.3 351.2,103.3 352.5,102.8 353.6,102.1 354.1,100.9 353.8,99.5 352.9,98.4 351.6,98.3 350.3,98.6 349,98.5 348.1,97.5 347.8,96 348.2,94.8 349.4,94.1 350.6,93.6 351.4,92.7 351.5,91.3 350.8,89.9 349.6,89.4 348.3,89.6 347,89.7 345.9,89.1 M367.5,111.8 368.1,110.8 368.7,109.2 368.8,107.8 367.8,107.4 366.4,107.5 365.1,107.3 364.3,106.3 364,104.8 364.5,103.5 365.7,103 367,102.7 368,102 368.4,100.6 368,99.2 367,98.4 365.7,98.3 364.4,98.3 363.3,97.7 362.8,96.4 363,94.9 363.8,94 365.1,93.7 366.4,93.3 367.1,92.2 367,90.7 366.3,89.5 365.1,89.1 363.8,89.2 362.6,89 361.7,87.9 361.6,86.4 362.2,85.2 363.3,84.7 364.7,84.4 365.7,83.7 366,82.3 365.6,80.9 364.6,80.1 363.2,80.1 361.9,80 360.9,79.3 M377.7,104 376.7,102.9 376.7,102.3 377.7,101.9 378.7,101.2 379,99.8 378.5,98.4 377.5,97.6 376.2,97.7 374.8,97.9 373.6,97.5 372.9,96.2 372.9,94.7 373.7,93.7 374.9,93.2 376.1,92.6 376.6,91.4 376.3,89.9 375.4,88.8 374.1,88.7 372.8,88.9 371.5,88.7 370.7,87.5 370.6,86 371.2,84.9 372.5,84.4 373.7,83.9 374.5,82.8 374.4,81.3 373.6,80.1 372.4,79.7 371.1,79.9 369.8,79.8 368.9,78.8 M388.3,97.6 387.5,97.2 386.2,96.3 385.2,95.1 385.6,93.9 386.8,93.3 388,92.8 388.7,91.8 388.7,90.3 387.9,89 386.7,88.6 385.4,88.9 384.1,89 383,88.3 382.4,86.9 382.6,85.5 383.6,84.7 384.8,84.2 385.8,83.5 386.1,82.2 385.6,80.7 384.6,79.9 383.3,79.9 382,80.2 380.8,79.9 380,78.7 379.8,77.3 380.5,76.2 381.7,75.6 382.9,75.1 383.5,74 383.3,72.5 382.5,71.3 381.3,71 380,71.3 378.7,71.3 377.7,70.5 377.2,69 377.5,67.7 378.5,67 379.8,66.5 M398.3,89.6 398.1,89.3 398.7,88.9 399.8,87.9 399.8,86.5 399.1,85.1 398,84.6 396.7,84.8 395.4,85.1 394.2,84.5 393.5,83.2 393.6,81.7 394.4,80.8 395.7,80.3 396.8,79.7 397.2,78.4 396.8,76.9 395.8,76 394.6,75.9 393.2,76.2 392,75.9 391.2,74.7 391.1,73.2 391.7,72.1 392.9,71.6 394.2,71.1 395,70.1 394.9,68.6 394.2,67.4 393.1,67 391.7,67.1 390.5,67 389.5,66.1 389.2,64.6 389.7,63.3 M409.1,83.8 408.2,83.2 407,82 406.3,80.8 407,79.9 408.3,79.4 409.4,78.8 410,77.7 409.7,76.2 408.8,75.1 407.6,74.9 406.3,75.2 405,75.1 404.1,74.1 403.8,72.6 404.2,71.4 405.3,70.7 406.6,70.3 407.4,69.4 407.5,67.9 406.8,66.6 405.7,66 404.4,66.2 403.1,66.4 402,65.9 401.3,64.6 401.3,63.1 402.1,62.2 403.3,61.7 404.4,61 404.9,59.8 404.5,58.3 403.5,57.4 402.3,57.2 401,57.6 399.7,57.5 398.8,56.6 398.4,55.1 398.7,53.9 399.8,53.2 401,52.7 401.8,51.7 M363.3,124.5 363.1,124.2 363.9,123.9 365,122.8 365.1,121.3 364.3,120.1 363.2,119.6 361.8,119.8 360.5,119.8 359.5,119 359.1,117.5 359.4,116.1 360.5,115.4 361.8,115.1 362.8,114.3 363.2,113 362.7,111.5 361.7,110.7 360.4,110.7 359.1,110.8 358,110.2 357.4,108.9 357.5,107.4 358.4,106.5 359.7,106.1 360.9,105.7 361.6,104.6 361.5,103 360.7,101.9 359.5,101.6 358.2,101.7 357,101.3 356.2,100.1 356.2,98.6 356.9,97.5 358.1,97.1 359.5,96.8 360.4,96 360.6,94.5 360.2,93.2 359.1,92.5 M379,114.5 379.7,112.9 379.9,111.8 379.2,111.5 377.8,111.6 376.7,111 376.1,109.7 376.2,108.2 377.1,107.3 378.4,107 379.6,106.6 380.5,105.7 380.6,104.2 379.9,102.9 378.8,102.4 377.4,102.4 376.2,102.2 375.3,101.2 375.1,99.7 375.7,98.4 376.9,97.9 378.2,97.7 379.2,97 379.6,95.6 379.2,94.1 378.2,93.3 376.9,93.3 375.5,93.2 374.5,92.6 374,91.1 374.3,89.7 375.2,88.9 376.6,88.6 377.7,88.2 378.4,87 378.2,85.5 377.4,84.4 376.2,84.1 374.8,84.2 373.6,83.8 372.9,82.6 372.8,81.1 373.5,80.1 374.8,79.6 376.1,79.3 376.9,78.4 377,76.9 M394.4,102.7 394.2,102.3 394.9,102.1 396,101.1 396.2,99.7 395.5,98.3 394.4,97.7 393.1,97.8 391.8,98 390.7,97.5 390,96.1 390.1,94.7 390.9,93.8 392.2,93.3 393.3,92.7 393.8,91.5 393.5,90 392.5,89 391.3,88.8 389.9,89.1 388.7,88.9 387.8,87.9 387.5,86.4 388.1,85.2 389.2,84.6 390.5,84.1 391.3,83.2 391.3,81.7 390.6,80.4 389.4,79.9 388.1,80.1 386.8,80.2 385.7,79.5 385.2,78.1 385.4,76.7 386.3,75.9 387.6,75.5 388.7,74.8 389,73.5 388.6,72 387.6,71.1 386.3,71.1 385,71.4 383.8,71 383,69.9 382.9,68.4 M410.1,91.9 410.2,91.8 411,91.4 412.1,90.2 412.2,88.7 411.4,87.6 410.3,87.2 408.9,87.2 407.7,86.9 406.9,85.8 406.9,84.3 407.5,83.1 408.7,82.7 410,82.5 411.1,81.8 411.5,80.4 411.1,79 410.2,78.2 408.9,78 407.6,77.9 406.6,77.1 406.3,75.7 406.6,74.3 407.7,73.6 409,73.4 410.2,73.1 411,72.1 411.2,70.6 410.6,69.4 409.4,68.9 408.1,68.8 406.9,68.3 406.3,67.1 406.5,65.6 407.3,64.5 408.5,64.2 409.9,64.2 410.9,63.6 411.5,62.3 411.3,60.9" fill="none" stroke="#1c8f31" stroke-width="2.1" stroke-linecap="round" stroke-linejoin="round"/><path d="M336.4,132.9 337,131.6 337.6,130 337.5,128.8 336.2,128.7 334.9,128.8 333.7,128.3 333,127 333.1,125.5 333.9,124.5 335.2,124.1 336.5,123.7 337.1,122.5 337,121 336.2,119.8 335,119.5 333.6,119.7 332.3,119.4 331.5,118.3 331.4,116.8 332,115.7 333.2,115.2 334.5,114.7 335.3,113.7 335.3,112.2 334.6,110.9 333.4,110.5 332,110.7 330.7,110.6 329.7,109.7 329.4,108.2 329.8,106.9 331,106.3 332.3,105.8 333.2,104.9 M346.8,125.7 345.8,124.9 344.7,123.6 344.2,122.4 345.1,121.7 346.4,121.4 347.5,120.7 347.8,119.4 347.5,117.9 346.5,117 345.2,117 343.9,117.1 342.7,116.7 342,115.4 342.1,113.9 342.8,112.9 344.1,112.5 345.3,112.1 346.1,111.1 346.1,109.6 345.5,108.4 344.3,107.9 343,108 341.7,107.8 340.8,106.9 340.5,105.4 341,104.1 342.1,103.5 343.5,103.2 344.5,102.6 345,101.3 344.7,99.8 343.7,98.9 342.5,98.8 341.1,98.8 340,98.2 339.5,96.8 M357,118 357.2,116.5 356.9,115.9 355.9,116.1 354.6,116.2 353.6,115.4 353.1,113.9 353.4,112.6 354.4,111.8 355.7,111.4 356.6,110.5 356.7,109.1 356.1,107.7 355,107.1 353.7,107.2 352.4,107.5 351.2,107 350.5,105.7 350.5,104.3 351.2,103.3 352.5,102.8 353.6,102.1 354.1,100.9 353.8,99.5 352.9,98.4 351.6,98.3 350.3,98.6 349,98.5 348.1,97.5 347.8,96 348.2,94.8 349.4,94.1 350.6,93.6 351.4,92.7 351.5,91.3 350.8,89.9 349.6,89.4 348.3,89.6 347,89.7 345.9,89.1 M367.5,111.8 368.1,110.8 368.7,109.2 368.8,107.8 367.8,107.4 366.4,107.5 365.1,107.3 364.3,106.3 364,104.8 364.5,103.5 365.7,103 367,102.7 368,102 368.4,100.6 368,99.2 367,98.4 365.7,98.3 364.4,98.3 363.3,97.7 362.8,96.4 363,94.9 363.8,94 365.1,93.7 366.4,93.3 367.1,92.2 367,90.7 366.3,89.5 365.1,89.1 363.8,89.2 362.6,89 361.7,87.9 361.6,86.4 362.2,85.2 363.3,84.7 364.7,84.4 365.7,83.7 366,82.3 365.6,80.9 364.6,80.1 363.2,80.1 361.9,80 360.9,79.3 M377.7,104 376.7,102.9 376.7,102.3 377.7,101.9 378.7,101.2 379,99.8 378.5,98.4 377.5,97.6 376.2,97.7 374.8,97.9 373.6,97.5 372.9,96.2 372.9,94.7 373.7,93.7 374.9,93.2 376.1,92.6 376.6,91.4 376.3,89.9 375.4,88.8 374.1,88.7 372.8,88.9 371.5,88.7 370.7,87.5 370.6,86 371.2,84.9 372.5,84.4 373.7,83.9 374.5,82.8 374.4,81.3 373.6,80.1 372.4,79.7 371.1,79.9 369.8,79.8 368.9,78.8 M388.3,97.6 387.5,97.2 386.2,96.3 385.2,95.1 385.6,93.9 386.8,93.3 388,92.8 388.7,91.8 388.7,90.3 387.9,89 386.7,88.6 385.4,88.9 384.1,89 383,88.3 382.4,86.9 382.6,85.5 383.6,84.7 384.8,84.2 385.8,83.5 386.1,82.2 385.6,80.7 384.6,79.9 383.3,79.9 382,80.2 380.8,79.9 380,78.7 379.8,77.3 380.5,76.2 381.7,75.6 382.9,75.1 383.5,74 383.3,72.5 382.5,71.3 381.3,71 380,71.3 378.7,71.3 377.7,70.5 377.2,69 377.5,67.7 378.5,67 379.8,66.5 M398.3,89.6 398.1,89.3 398.7,88.9 399.8,87.9 399.8,86.5 399.1,85.1 398,84.6 396.7,84.8 395.4,85.1 394.2,84.5 393.5,83.2 393.6,81.7 394.4,80.8 395.7,80.3 396.8,79.7 397.2,78.4 396.8,76.9 395.8,76 394.6,75.9 393.2,76.2 392,75.9 391.2,74.7 391.1,73.2 391.7,72.1 392.9,71.6 394.2,71.1 395,70.1 394.9,68.6 394.2,67.4 393.1,67 391.7,67.1 390.5,67 389.5,66.1 389.2,64.6 389.7,63.3 M409.1,83.8 408.2,83.2 407,82 406.3,80.8 407,79.9 408.3,79.4 409.4,78.8 410,77.7 409.7,76.2 408.8,75.1 407.6,74.9 406.3,75.2 405,75.1 404.1,74.1 403.8,72.6 404.2,71.4 405.3,70.7 406.6,70.3 407.4,69.4 407.5,67.9 406.8,66.6 405.7,66 404.4,66.2 403.1,66.4 402,65.9 401.3,64.6 401.3,63.1 402.1,62.2 403.3,61.7 404.4,61 404.9,59.8 404.5,58.3 403.5,57.4 402.3,57.2 401,57.6 399.7,57.5 398.8,56.6 398.4,55.1 398.7,53.9 399.8,53.2 401,52.7 401.8,51.7 M363.3,124.5 363.1,124.2 363.9,123.9 365,122.8 365.1,121.3 364.3,120.1 363.2,119.6 361.8,119.8 360.5,119.8 359.5,119 359.1,117.5 359.4,116.1 360.5,115.4 361.8,115.1 362.8,114.3 363.2,113 362.7,111.5 361.7,110.7 360.4,110.7 359.1,110.8 358,110.2 357.4,108.9 357.5,107.4 358.4,106.5 359.7,106.1 360.9,105.7 361.6,104.6 361.5,103 360.7,101.9 359.5,101.6 358.2,101.7 357,101.3 356.2,100.1 356.2,98.6 356.9,97.5 358.1,97.1 359.5,96.8 360.4,96 360.6,94.5 360.2,93.2 359.1,92.5 M379,114.5 379.7,112.9 379.9,111.8 379.2,111.5 377.8,111.6 376.7,111 376.1,109.7 376.2,108.2 377.1,107.3 378.4,107 379.6,106.6 380.5,105.7 380.6,104.2 379.9,102.9 378.8,102.4 377.4,102.4 376.2,102.2 375.3,101.2 375.1,99.7 375.7,98.4 376.9,97.9 378.2,97.7 379.2,97 379.6,95.6 379.2,94.1 378.2,93.3 376.9,93.3 375.5,93.2 374.5,92.6 374,91.1 374.3,89.7 375.2,88.9 376.6,88.6 377.7,88.2 378.4,87 378.2,85.5 377.4,84.4 376.2,84.1 374.8,84.2 373.6,83.8 372.9,82.6 372.8,81.1 373.5,80.1 374.8,79.6 376.1,79.3 376.9,78.4 377,76.9 M394.4,102.7 394.2,102.3 394.9,102.1 396,101.1 396.2,99.7 395.5,98.3 394.4,97.7 393.1,97.8 391.8,98 390.7,97.5 390,96.1 390.1,94.7 390.9,93.8 392.2,93.3 393.3,92.7 393.8,91.5 393.5,90 392.5,89 391.3,88.8 389.9,89.1 388.7,88.9 387.8,87.9 387.5,86.4 388.1,85.2 389.2,84.6 390.5,84.1 391.3,83.2 391.3,81.7 390.6,80.4 389.4,79.9 388.1,80.1 386.8,80.2 385.7,79.5 385.2,78.1 385.4,76.7 386.3,75.9 387.6,75.5 388.7,74.8 389,73.5 388.6,72 387.6,71.1 386.3,71.1 385,71.4 383.8,71 383,69.9 382.9,68.4 M410.1,91.9 410.2,91.8 411,91.4 412.1,90.2 412.2,88.7 411.4,87.6 410.3,87.2 408.9,87.2 407.7,86.9 406.9,85.8 406.9,84.3 407.5,83.1 408.7,82.7 410,82.5 411.1,81.8 411.5,80.4 411.1,79 410.2,78.2 408.9,78 407.6,77.9 406.6,77.1 406.3,75.7 406.6,74.3 407.7,73.6 409,73.4 410.2,73.1 411,72.1 411.2,70.6 410.6,69.4 409.4,68.9 408.1,68.8 406.9,68.3 406.3,67.1 406.5,65.6 407.3,64.5 408.5,64.2 409.9,64.2 410.9,63.6 411.5,62.3 411.3,60.9" fill="none" stroke="#35b84e" stroke-width="0.84" stroke-linecap="round" stroke-linejoin="round" opacity="0.7"/>
<linearGradient id="rb2" gradientUnits="userSpaceOnUse" x1="339.5" y1="129.8" x2="368.9" y2="169.3"><stop offset="0" stop-color="#f7c832"/><stop offset="0.28" stop-color="#ffe541"/><stop offset="0.6" stop-color="#fdd334"/><stop offset="1" stop-color="#efb42a"/></linearGradient><radialGradient id="rs2" gradientUnits="userSpaceOnUse" cx="362" cy="141.8" r="30.8"><stop offset="0" stop-color="#fffef0"/><stop offset="0.1" stop-color="#fff68c"/><stop offset="0.4" stop-color="#fedf3c"/><stop offset="0.78" stop-color="#f7c62e"/><stop offset="1" stop-color="#e3a922"/></radialGradient><path d="M344.9,167.7 L338.5,131.5 L419.1,76.4 A10,20 -36.6 0 1 442.9,108.6 L377.9,162.6 Q361.5,174.8 344.9,167.7 Z" fill="url(#rb2)"/><circle cx="350.7" cy="148" r="20.5" fill="url(#rs2)"/>
<path d="M347.8,127.2 L346.8,122.1 M352.5,124 L351.4,119 M357.1,120.9 L356,115.9 M361.7,117.8 L360.6,112.9 M366.3,114.7 L365.2,109.8 M370.9,111.5 L369.8,106.7 M375.5,108.4 L374.4,103.6 M380.1,105.3 L379.1,100.5 M384.7,102.2 L383.7,97.4 M389.3,99 L388.3,94.3 M393.9,95.9 L392.9,91.2 M398.5,92.8 L397.5,88.2 M403.1,89.7 L402.1,85.1 M407.7,86.5 L406.8,82 M412.4,83.4 L411.4,78.9 M417,80.3 L416,75.8 M421.5,77.1 L420.6,72.7 M357.3,127.2 L357.6,121.7 M361.9,124 L362.2,118.6 M366.4,120.9 L366.8,115.5 M371,117.7 L371.4,112.3 M375.6,114.5 L375.9,109.2 M380.2,111.4 L380.5,106.1 M384.7,108.2 L385.1,102.9 M389.3,105 L389.6,99.8 M393.9,101.8 L394.2,96.7 M398.4,98.7 L398.8,93.5 M403,95.5 L403.3,90.4 M407.6,92.3 L407.9,87.3 M412.2,89.2 L412.5,84.1 M416.7,86 L417,81 M421.3,82.8 L421.6,77.9 M425.8,79.5 L426.1,74.6 M363.3,129.6 L364.6,124.2 M367.8,126.3 L369.1,121 M372.3,123.1 L373.7,117.9 M376.9,119.9 L378.2,114.7 M381.4,116.7 L382.7,111.5 M385.9,113.5 L387.2,108.3 M390.5,110.2 L391.8,105.1 M395,107 L396.3,101.9 M399.5,103.8 L400.8,98.8 M404.1,100.6 L405.4,95.6 M408.6,97.4 L409.9,92.4 M413.1,94.1 L414.4,89.2 M417.7,90.9 L418.9,86 M422.2,87.7 L423.5,82.8 M426.7,84.5 L428,79.6 M431.2,81.1 L432.4,76.4 M367.6,133 L369.7,128.1 M372.1,129.7 L374.2,124.9 M376.6,126.5 L378.7,121.6 M381.1,123.2 L383.2,118.4 M385.6,119.9 L387.7,115.2 M390.1,116.7 L392.2,111.9 M394.6,113.4 L396.6,108.7 M399.1,110.1 L401.1,105.5 M403.6,106.9 L405.6,102.2 M408.1,103.6 L410.1,99 M412.6,100.3 L414.6,95.8 M417.1,97.1 L419.1,92.5 M421.6,93.8 L423.6,89.3 M426.1,90.5 L428,86.1 M430.6,87.2 L432.5,82.8 M435,83.9 L437,79.5 M370.6,137.4 L373.4,133.1 M375.1,134 L377.9,129.8 M379.6,130.7 L382.3,126.5 M384,127.4 L386.8,123.3 M388.5,124.1 L391.2,120 M393,120.8 L395.7,116.7 M397.4,117.5 L400.1,113.4 M401.9,114.1 L404.6,110.1 M406.3,110.8 L409,106.8 M410.8,107.5 L413.4,103.5 M415.3,104.2 L417.9,100.2 M419.7,100.9 L422.3,97 M424.2,97.6 L426.8,93.7 M428.7,94.2 L431.2,90.4 M433.1,90.9 L435.7,87.1 M437.6,87.6 L440.1,83.8 M372.4,142.7 L375.7,139.3 M376.9,139.3 L380.2,136 M381.3,135.9 L384.6,132.6 M385.7,132.6 L389,129.3 M390.1,129.2 L393.4,125.9 M394.6,125.8 L397.8,122.6 M399,122.5 L402.2,119.3 M403.4,119.1 L406.6,115.9 M407.9,115.7 L411,112.6 M412.3,112.4 L415.4,109.2 M416.7,109 L419.8,105.9 M421.1,105.6 L424.2,102.5 M425.6,102.3 L428.6,99.2 M430,98.9 L433,95.9 M434.4,95.6 L437.4,92.5 M438.9,92.2 L441.9,89.2 M372.6,149.3 L376.2,147.1 M376.9,145.9 L380.6,143.7 M381.3,142.5 L385,140.3 M385.7,139.1 L389.3,136.9 M390.1,135.7 L393.7,133.5 M394.5,132.3 L398.1,130.1 M398.9,128.8 L402.4,126.7 M403.3,125.4 L406.8,123.3 M407.7,122 L411.2,119.9 M412.1,118.6 L415.5,116.5 M416.5,115.2 L419.9,113.1 M420.9,111.8 L424.3,109.7 M425.3,108.4 L428.6,106.3 M429.7,104.9 L433,102.9 M434,101.5 L437.4,99.5 M438.5,98.2 L441.8,96.1 M442.9,94.8 L446.2,92.8 M368.2,159.6 L372.1,158.8 M372.6,156.2 L376.4,155.4 M376.9,152.7 L380.7,151.9 M381.3,149.3 L385.1,148.5 M385.6,145.8 L389.4,145 M390,142.3 L393.7,141.5 M394.3,138.9 L398,138.1 M398.7,135.4 L402.4,134.6 M403,132 L406.7,131.2 M407.4,128.5 L411,127.7 M411.8,125 L415.4,124.3 M416.1,121.6 L419.7,120.8 M420.5,118.1 L424,117.3 M424.8,114.6 L428.3,113.9 M429.2,111.2 L432.7,110.4 M433.5,107.7 L437,107 M437.9,104.3 L441.3,103.5 M442.3,100.9 L445.7,100.2 M367.6,167.2 L371.2,168.5 M371.9,163.7 L375.5,165 M376.2,160.2 L379.8,161.4 M380.6,156.7 L384.1,157.9 M384.9,153.1 L388.4,154.4 M389.2,149.6 L392.7,150.9 M393.5,146.1 L397,147.4 M397.8,142.6 L401.3,143.8 M402.2,139.1 L405.6,140.3 M406.5,135.6 L409.9,136.8 M410.8,132.1 L414.2,133.3 M415.1,128.6 L418.5,129.8 M419.4,125.1 L422.8,126.2 M423.8,121.6 L427,122.7 M428.1,118 L431.3,119.2 M432.4,114.5 L435.6,115.7 M436.7,111 L439.9,112.2 M441,107.5 L444.2,108.6" fill="none" stroke="#a8203c" stroke-width="0.7" opacity="0.9"/><g fill="#a8203c"><circle cx="346.8" cy="122.1" r="1.2"/><circle cx="351.4" cy="119" r="1.2"/><circle cx="356" cy="115.9" r="1.2"/><circle cx="360.6" cy="112.9" r="1.2"/><circle cx="365.2" cy="109.8" r="1.2"/><circle cx="369.8" cy="106.7" r="1.2"/><circle cx="374.4" cy="103.6" r="1.2"/><circle cx="379.1" cy="100.5" r="1.2"/><circle cx="383.7" cy="97.4" r="1.2"/><circle cx="388.3" cy="94.3" r="1.2"/><circle cx="392.9" cy="91.2" r="1.2"/><circle cx="397.5" cy="88.2" r="1.2"/><circle cx="402.1" cy="85.1" r="1.2"/><circle cx="406.8" cy="82" r="1.2"/><circle cx="411.4" cy="78.9" r="1.2"/><circle cx="416" cy="75.8" r="1.2"/><circle cx="420.6" cy="72.7" r="1.2"/><circle cx="357.6" cy="121.7" r="1.2"/><circle cx="362.2" cy="118.6" r="1.2"/><circle cx="366.8" cy="115.5" r="1.2"/><circle cx="371.4" cy="112.3" r="1.2"/><circle cx="375.9" cy="109.2" r="1.2"/><circle cx="380.5" cy="106.1" r="1.2"/><circle cx="385.1" cy="102.9" r="1.2"/><circle cx="389.6" cy="99.8" r="1.2"/><circle cx="394.2" cy="96.7" r="1.2"/><circle cx="398.8" cy="93.5" r="1.2"/><circle cx="403.3" cy="90.4" r="1.2"/><circle cx="407.9" cy="87.3" r="1.2"/><circle cx="412.5" cy="84.1" r="1.2"/><circle cx="417" cy="81" r="1.2"/><circle cx="421.6" cy="77.9" r="1.2"/><circle cx="426.1" cy="74.6" r="1.2"/><circle cx="364.6" cy="124.2" r="1.2"/><circle cx="369.1" cy="121" r="1.2"/><circle cx="373.7" cy="117.9" r="1.2"/><circle cx="378.2" cy="114.7" r="1.2"/><circle cx="382.7" cy="111.5" r="1.2"/><circle cx="387.2" cy="108.3" r="1.2"/><circle cx="391.8" cy="105.1" r="1.2"/><circle cx="396.3" cy="101.9" r="1.2"/><circle cx="400.8" cy="98.8" r="1.2"/><circle cx="405.4" cy="95.6" r="1.2"/><circle cx="409.9" cy="92.4" r="1.2"/><circle cx="414.4" cy="89.2" r="1.2"/><circle cx="418.9" cy="86" r="1.2"/><circle cx="423.5" cy="82.8" r="1.2"/><circle cx="428" cy="79.6" r="1.2"/><circle cx="432.4" cy="76.4" r="1.2"/><circle cx="369.7" cy="128.1" r="1.2"/><circle cx="374.2" cy="124.9" r="1.2"/><circle cx="378.7" cy="121.6" r="1.2"/><circle cx="383.2" cy="118.4" r="1.2"/><circle cx="387.7" cy="115.2" r="1.2"/><circle cx="392.2" cy="111.9" r="1.2"/><circle cx="396.6" cy="108.7" r="1.2"/><circle cx="401.1" cy="105.5" r="1.2"/><circle cx="405.6" cy="102.2" r="1.2"/><circle cx="410.1" cy="99" r="1.2"/><circle cx="414.6" cy="95.8" r="1.2"/><circle cx="419.1" cy="92.5" r="1.2"/><circle cx="423.6" cy="89.3" r="1.2"/><circle cx="428" cy="86.1" r="1.2"/><circle cx="432.5" cy="82.8" r="1.2"/><circle cx="437" cy="79.5" r="1.2"/><circle cx="373.4" cy="133.1" r="1.2"/><circle cx="377.9" cy="129.8" r="1.2"/><circle cx="382.3" cy="126.5" r="1.2"/><circle cx="386.8" cy="123.3" r="1.2"/><circle cx="391.2" cy="120" r="1.2"/><circle cx="395.7" cy="116.7" r="1.2"/><circle cx="400.1" cy="113.4" r="1.2"/><circle cx="404.6" cy="110.1" r="1.2"/><circle cx="409" cy="106.8" r="1.2"/><circle cx="413.4" cy="103.5" r="1.2"/><circle cx="417.9" cy="100.2" r="1.2"/><circle cx="422.3" cy="97" r="1.2"/><circle cx="426.8" cy="93.7" r="1.2"/><circle cx="431.2" cy="90.4" r="1.2"/><circle cx="435.7" cy="87.1" r="1.2"/><circle cx="440.1" cy="83.8" r="1.2"/><circle cx="375.7" cy="139.3" r="1.2"/><circle cx="380.2" cy="136" r="1.2"/><circle cx="384.6" cy="132.6" r="1.2"/><circle cx="389" cy="129.3" r="1.2"/><circle cx="393.4" cy="125.9" r="1.2"/><circle cx="397.8" cy="122.6" r="1.2"/><circle cx="402.2" cy="119.3" r="1.2"/><circle cx="406.6" cy="115.9" r="1.2"/><circle cx="411" cy="112.6" r="1.2"/><circle cx="415.4" cy="109.2" r="1.2"/><circle cx="419.8" cy="105.9" r="1.2"/><circle cx="424.2" cy="102.5" r="1.2"/><circle cx="428.6" cy="99.2" r="1.2"/><circle cx="433" cy="95.9" r="1.2"/><circle cx="437.4" cy="92.5" r="1.2"/><circle cx="441.9" cy="89.2" r="1.2"/><circle cx="376.2" cy="147.1" r="1.2"/><circle cx="380.6" cy="143.7" r="1.2"/><circle cx="385" cy="140.3" r="1.2"/><circle cx="389.3" cy="136.9" r="1.2"/><circle cx="393.7" cy="133.5" r="1.2"/><circle cx="398.1" cy="130.1" r="1.2"/><circle cx="402.4" cy="126.7" r="1.2"/><circle cx="406.8" cy="123.3" r="1.2"/><circle cx="411.2" cy="119.9" r="1.2"/><circle cx="415.5" cy="116.5" r="1.2"/><circle cx="419.9" cy="113.1" r="1.2"/><circle cx="424.3" cy="109.7" r="1.2"/><circle cx="428.6" cy="106.3" r="1.2"/><circle cx="433" cy="102.9" r="1.2"/><circle cx="437.4" cy="99.5" r="1.2"/><circle cx="441.8" cy="96.1" r="1.2"/><circle cx="446.2" cy="92.8" r="1.2"/><circle cx="372.1" cy="158.8" r="1.2"/><circle cx="376.4" cy="155.4" r="1.2"/><circle cx="380.7" cy="151.9" r="1.2"/><circle cx="385.1" cy="148.5" r="1.2"/><circle cx="389.4" cy="145" r="1.2"/><circle cx="393.7" cy="141.5" r="1.2"/><circle cx="398" cy="138.1" r="1.2"/><circle cx="402.4" cy="134.6" r="1.2"/><circle cx="406.7" cy="131.2" r="1.2"/><circle cx="411" cy="127.7" r="1.2"/><circle cx="415.4" cy="124.3" r="1.2"/><circle cx="419.7" cy="120.8" r="1.2"/><circle cx="424" cy="117.3" r="1.2"/><circle cx="428.3" cy="113.9" r="1.2"/><circle cx="432.7" cy="110.4" r="1.2"/><circle cx="437" cy="107" r="1.2"/><circle cx="441.3" cy="103.5" r="1.2"/><circle cx="445.7" cy="100.2" r="1.2"/><circle cx="371.2" cy="168.5" r="1.2"/><circle cx="375.5" cy="165" r="1.2"/><circle cx="379.8" cy="161.4" r="1.2"/><circle cx="384.1" cy="157.9" r="1.2"/><circle cx="388.4" cy="154.4" r="1.2"/><circle cx="392.7" cy="150.9" r="1.2"/><circle cx="397" cy="147.4" r="1.2"/><circle cx="401.3" cy="143.8" r="1.2"/><circle cx="405.6" cy="140.3" r="1.2"/><circle cx="409.9" cy="136.8" r="1.2"/><circle cx="414.2" cy="133.3" r="1.2"/><circle cx="418.5" cy="129.8" r="1.2"/><circle cx="422.8" cy="126.2" r="1.2"/><circle cx="427" cy="122.7" r="1.2"/><circle cx="431.3" cy="119.2" r="1.2"/><circle cx="435.6" cy="115.7" r="1.2"/><circle cx="439.9" cy="112.2" r="1.2"/><circle cx="444.2" cy="108.6" r="1.2"/></g>
<path d="M374.1,139.6 375.1,139 376.2,138.7 377.5,138.7 378.7,139 379.9,139.4 381.1,140.1 382,140.8 382.8,141.7 383.3,142.4 383.6,143.1 383.7,143.7 383.5,144 383.2,144.1 382.7,143.9 382.1,143.4 381.5,142.7 380.9,141.7 380.4,140.6 380.1,139.3 380,138 380,136.8 380.4,135.6 381,134.6 381.8,133.8 382.7,133.2 383.9,132.9 385.1,132.9 386.3,133.1 387.6,133.6 388.7,134.2 389.6,135 390.4,135.8 391,136.6 391.3,137.3 391.3,137.8 391.2,138.1 390.8,138.2 390.3,138 389.7,137.5 389.1,136.8 388.5,135.9 388,134.7 387.7,133.5 387.6,132.2 387.7,130.9 388,129.7 388.6,128.7 389.4,127.9 390.4,127.4 391.5,127.1 392.7,127.1 394,127.3 395.2,127.8 396.3,128.4 397.3,129.2 398,130 398.6,130.8 398.9,131.5 398.9,132 398.8,132.3 398.4,132.4 397.9,132.2 397.3,131.7 396.7,131 396.1,130 395.7,128.9 395.3,127.6 395.2,126.3 395.3,125.1 395.6,123.9 396.2,122.9 397,122.1 398,121.5 399.1,121.2 400.4,121.2 401.6,121.5 402.8,121.9 403.9,122.6 404.9,123.3 405.7,124.2 406.2,124.9 406.5,125.6 406.6,126.2 406.4,126.5 406,126.5 405.5,126.3 405,125.9 404.3,125.1 403.8,124.2 403.3,123.1 403,121.8 402.8,120.5 402.9,119.2 403.3,118.1 403.8,117.1 404.6,116.2 405.6,115.7 406.8,115.4 408,115.4 409.2,115.6 410.4,116.1 411.6,116.8 412.5,117.5 413.3,118.3 413.8,119.1 414.1,119.8 414.2,120.3 414,120.6 413.7,120.7 413.2,120.5 412.6,120 412,119.3 411.4,118.3 410.9,117.2 410.6,116 410.4,114.7 410.5,113.4 410.9,112.2 411.5,111.2 412.3,110.4 413.2,109.9 414.4,109.6 415.6,109.6 416.9,109.8 418.1,110.3 419.2,110.9 420.1,111.7 420.9,112.5 421.5,113.3 421.8,114 421.8,114.5 421.6,114.8 421.3,114.9 420.8,114.7 420.2,114.2 419.6,113.5 419,112.5 418.5,111.4 418.2,110.1 418.1,108.8 418.2,107.6 418.5,106.4 419.1,105.4 419.9,104.6 420.9,104 422,103.7 423.2,103.7 424.5,104 425.7,104.4 426.8,105.1 427.8,105.8 428.5,106.7 429.1,107.4 429.4,108.1 429.4,108.7 429.3,109 428.9,109 428.4,108.8 427.8,108.4 427.2,107.6 426.6,106.7 426.2,105.5 425.8,104.3 425.7,103 425.8,101.7 426.1,100.6 426.7,99.5 427.5,98.7 428.5,98.2 429.6,97.9 430.9,97.9 432.1,98.1 433.3,98.6 434.4,99.3 435.4,100 436.2,100.8 436.7,101.6 437,102.3 437.1,102.8 436.9,103.1 436.5,103.2 436,103 435.4,102.5 434.8,101.8 434.3,100.8 433.8,99.7 433.4,98.5 433.3,97.2 433.4,95.9 433.8,94.7 434.3,93.7 435.1,92.9 436.1,92.3 437.3,92.1 438.5,92.1 439.7,92.3 440.9,92.8 442.1,93.4 443,94.2 443.8,95 444.3,95.8 444.6,96.5 444.7,97 444.5,97.3 444.2,97.4 443.7,97.2 443.1,96.7 442.5,96 441.9,95 441.4,93.9 441.1,92.6 440.9,91.3 441,90.1 441.4,88.9 442,87.9 442.8,87.1 443.8,86.5 444.9,86.2 446.1,86.2 447.4,86.5 448.6,86.9 449.7,87.6 450.7,88.4 451.4,89.2 452,89.9" fill="none" stroke="#14762a" stroke-width="3.3" stroke-linecap="round"/><path d="M374.1,139.6 375.1,139 376.2,138.7 377.5,138.7 378.7,139 379.9,139.4 381.1,140.1 382,140.8 382.8,141.7 383.3,142.4 383.6,143.1 383.7,143.7 383.5,144 383.2,144.1 382.7,143.9 382.1,143.4 381.5,142.7 380.9,141.7 380.4,140.6 380.1,139.3 380,138 380,136.8 380.4,135.6 381,134.6 381.8,133.8 382.7,133.2 383.9,132.9 385.1,132.9 386.3,133.1 387.6,133.6 388.7,134.2 389.6,135 390.4,135.8 391,136.6 391.3,137.3 391.3,137.8 391.2,138.1 390.8,138.2 390.3,138 389.7,137.5 389.1,136.8 388.5,135.9 388,134.7 387.7,133.5 387.6,132.2 387.7,130.9 388,129.7 388.6,128.7 389.4,127.9 390.4,127.4 391.5,127.1 392.7,127.1 394,127.3 395.2,127.8 396.3,128.4 397.3,129.2 398,130 398.6,130.8 398.9,131.5 398.9,132 398.8,132.3 398.4,132.4 397.9,132.2 397.3,131.7 396.7,131 396.1,130 395.7,128.9 395.3,127.6 395.2,126.3 395.3,125.1 395.6,123.9 396.2,122.9 397,122.1 398,121.5 399.1,121.2 400.4,121.2 401.6,121.5 402.8,121.9 403.9,122.6 404.9,123.3 405.7,124.2 406.2,124.9 406.5,125.6 406.6,126.2 406.4,126.5 406,126.5 405.5,126.3 405,125.9 404.3,125.1 403.8,124.2 403.3,123.1 403,121.8 402.8,120.5 402.9,119.2 403.3,118.1 403.8,117.1 404.6,116.2 405.6,115.7 406.8,115.4 408,115.4 409.2,115.6 410.4,116.1 411.6,116.8 412.5,117.5 413.3,118.3 413.8,119.1 414.1,119.8 414.2,120.3 414,120.6 413.7,120.7 413.2,120.5 412.6,120 412,119.3 411.4,118.3 410.9,117.2 410.6,116 410.4,114.7 410.5,113.4 410.9,112.2 411.5,111.2 412.3,110.4 413.2,109.9 414.4,109.6 415.6,109.6 416.9,109.8 418.1,110.3 419.2,110.9 420.1,111.7 420.9,112.5 421.5,113.3 421.8,114 421.8,114.5 421.6,114.8 421.3,114.9 420.8,114.7 420.2,114.2 419.6,113.5 419,112.5 418.5,111.4 418.2,110.1 418.1,108.8 418.2,107.6 418.5,106.4 419.1,105.4 419.9,104.6 420.9,104 422,103.7 423.2,103.7 424.5,104 425.7,104.4 426.8,105.1 427.8,105.8 428.5,106.7 429.1,107.4 429.4,108.1 429.4,108.7 429.3,109 428.9,109 428.4,108.8 427.8,108.4 427.2,107.6 426.6,106.7 426.2,105.5 425.8,104.3 425.7,103 425.8,101.7 426.1,100.6 426.7,99.5 427.5,98.7 428.5,98.2 429.6,97.9 430.9,97.9 432.1,98.1 433.3,98.6 434.4,99.3 435.4,100 436.2,100.8 436.7,101.6 437,102.3 437.1,102.8 436.9,103.1 436.5,103.2 436,103 435.4,102.5 434.8,101.8 434.3,100.8 433.8,99.7 433.4,98.5 433.3,97.2 433.4,95.9 433.8,94.7 434.3,93.7 435.1,92.9 436.1,92.3 437.3,92.1 438.5,92.1 439.7,92.3 440.9,92.8 442.1,93.4 443,94.2 443.8,95 444.3,95.8 444.6,96.5 444.7,97 444.5,97.3 444.2,97.4 443.7,97.2 443.1,96.7 442.5,96 441.9,95 441.4,93.9 441.1,92.6 440.9,91.3 441,90.1 441.4,88.9 442,87.9 442.8,87.1 443.8,86.5 444.9,86.2 446.1,86.2 447.4,86.5 448.6,86.9 449.7,87.6 450.7,88.4 451.4,89.2 452,89.9" fill="none" stroke="#2ab040" stroke-width="2.4" stroke-linecap="round"/>
<path d="M379.3,160 379.7,160.3 379.1,160.7 378.3,161.9 378.6,163.4 379.6,164.5 380.9,164.7 382,164.1 383.2,163.6 384.4,163.9 385.4,165 385.7,166.4 385.1,167.4 384,168.3 383.4,169.3 383.6,170.7 384.6,171.8 385.9,172.2 387,171.6 388.1,170.9 389.4,170.9 390.5,171.8 391.1,173.1 390.7,174.3 389.8,175.2 389.1,176.2 389.2,177.5 390.1,178.7 391.4,179.2 392.6,178.7 393.6,177.9 394.8,177.6 396,178.2 396.9,179.5 396.8,180.7 396,181.7 395.2,182.7 395.2,184 396.2,185.2 M386,154.4 386,154.6 385.5,155.4 385.2,157 386,158.2 387.2,158.7 388.4,158.3 389.5,157.6 390.8,157.5 391.9,158.3 392.6,159.7 392.3,160.9 391.3,161.8 390.4,162.7 390.3,164 391,165.3 392.2,166 393.4,165.8 394.6,165.1 395.8,164.9 397,165.6 397.7,167 397.5,168.3 396.5,169.1 395.5,170 395.2,171.2 395.8,172.6 396.9,173.4 398.1,173.4 399.3,172.8 400.5,172.5 401.7,173.2 402.4,174.6 402.3,175.9 M392.4,148.7 392.7,150.1 393.1,150.5 394,150 395.2,149.6 396.4,150.2 397.3,151.4 397.3,152.7 396.5,153.7 395.5,154.6 395.1,155.7 395.5,157.1 396.6,158 397.8,158.1 399,157.5 400.2,157 401.4,157.4 402.3,158.6 402.5,160 401.7,161 400.7,161.8 400,162.8 400.3,164.2 401.2,165.4 402.4,165.7 403.6,165.2 404.8,164.7 406,164.9 407,166.1 407.3,167.5 406.7,168.5 405.6,169.3 404.7,170.2 404.7,171.5 405.5,172.8 406.6,173.4 407.8,173.1 409,172.6 410.3,172.7 M399.6,143.5 400.2,143.6 399.9,144.1 399.6,145.5 400.3,146.7 401.7,147.4 403,147.2 403.9,146.3 404.7,145.2 405.9,144.8 407.3,145.4 408.2,146.5 408.2,147.7 407.6,148.9 407.4,150.1 408.1,151.3 409.5,152 410.8,151.7 411.7,150.8 412.4,149.7 413.6,149.2 415,149.6 416,150.7 416.1,151.9 415.5,153.1 415.4,154.4 416.1,155.5 417.5,156.1 418.8,155.9 419.7,154.9 420.4,153.8 421.5,153.2 422.9,153.6 424,154.5 424.1,155.8 423.7,157 423.5,158.3 424.3,159.4 425.7,160 M406,138 406.3,139.1 406.7,139.1 407.8,138.4 409,138.3 410.2,139.2 410.8,140.5 410.4,141.7 409.5,142.7 408.8,143.7 409,145.1 410,146.2 411.3,146.5 412.5,146 413.6,145.3 414.8,145.2 416,146.1 416.6,147.5 416.2,148.7 415.2,149.6 414.5,150.6 414.6,151.9 415.5,153.1 416.7,153.6 417.9,153.1 419,152.4 420.3,152.4 421.4,153.3 422,154.7 421.6,155.9 420.6,156.8 419.8,157.7 419.8,159 420.6,160.3 421.8,160.9 M412,132 412.9,133.4 413.7,134.4 414.4,134.1 415.2,133 416.2,132.4 417.6,132.6 418.7,133.5 419.1,134.7 418.6,135.9 418.1,137.1 418.4,138.4 419.6,139.3 421,139.5 422.1,138.8 422.8,137.7 423.7,136.9 425.1,136.9 426.4,137.8 426.9,138.9 426.5,140.2 426,141.4 426.2,142.6 427.3,143.6 428.8,143.9 429.8,143.3 430.6,142.2 431.4,141.3 432.7,141.1 434.1,141.8 434.8,142.9 M419.2,127 419.7,128.2 420.1,128.4 421,127.7 422.2,127.3 423.5,127.9 424.4,129.1 424.4,130.4 423.6,131.4 422.8,132.5 422.8,133.7 423.7,135 425,135.5 426.2,135.1 427.2,134.2 428.4,133.8 429.7,134.3 430.6,135.6 430.6,136.8 429.8,137.9 429,138.9 428.9,140.2 429.8,141.4 431.1,142 432.3,141.7 433.3,140.8 434.5,140.4 435.8,140.9 436.7,142.1 436.7,143.4 436,144.5 435.1,145.5 434.9,146.7 435.7,148 437,148.7 438.2,148.4 439.2,147.6 440.4,147.2 441.7,147.6 442.6,148.9 M425.4,121.2 426.1,120.9 427.7,120.8 429.3,121 429.8,122.3 429.3,123.5 428.7,124.6 428.8,125.9 429.9,127 431.3,127.3 432.4,126.8 433.2,125.8 434.3,125 435.6,125.2 436.8,126.2 437.2,127.5 436.6,128.7 435.9,129.8 436,131.1 436.9,132.2 438.3,132.7 439.4,132.3 440.4,131.3 441.4,130.6 442.8,130.9 443.9,132 444.2,133.3 443.6,134.4 442.8,135.5 442.8,136.7 443.6,137.9 444.9,138.5 446.1,138.2 447.1,137.3 448.2,136.7 449.5,137 450.6,138.2 450.8,139.5 450.2,140.6 449.3,141.6 M431.9,115.7 432.9,117 434,117.9 434.7,117.7 435.3,116.5 436.2,115.7 437.6,115.7 438.9,116.4 439.5,117.6 439.1,118.9 438.7,120.1 439,121.3 440.2,122.2 441.6,122.4 442.6,121.7 443.3,120.6 444.3,119.8 445.7,119.8 447,120.7 447.5,121.9 447.1,123.1 446.5,124.3 446.7,125.6 447.8,126.6 449.2,126.9 450.3,126.3 451.1,125.2 452.1,124.5 453.4,124.6 454.7,125.5 455.1,126.7 454.7,127.9 454,129.1 454.1,130.3 455.1,131.4 456.4,131.9 457.6,131.4 458.5,130.4 459.5,129.7 460.8,129.8 M439.5,110.7 439.6,110.6 440.3,109.9 441.8,109.3 443.2,109.8 444,110.9 443.8,112.2 443.3,113.4 443.4,114.6 444.4,115.6 445.8,116 447,115.6 447.7,114.5 448.5,113.5 449.7,113.2 451.1,113.7 452,114.7 452,116 451.4,117.2 451.3,118.4 452.1,119.5 453.4,120.1 454.7,119.9 455.5,119 456.3,117.9 457.4,117.4 458.8,117.8 459.8,118.8 460,120 459.4,121.2 459.1,122.4 459.6,123.6 M331.2,148.8 330.5,149.7 329.8,150.5 329,150.1 327.9,148.6 326.9,147.2 326.1,146.8 325.4,147.5 324.7,149.1 324.2,150.9 323.5,152.2 322.7,152.4 321.8,151.5 320.8,150 319.8,148.5 318.9,147.8 318.1,148.2 317.5,149.6 316.9,151.4 316.2,152.9 315.5,153.4 314.6,152.8 M337.1,134.2 336.5,133.6 335.2,133.8 333.6,134.4 333.1,133.6 333.4,132.1 334,130.2 334.3,128.6 333.9,127.8 332.8,127.8 331,128.5 329.3,129.2 328,129.3 M345.6,170.9 344.7,171.3 344.6,172.2 345.6,173.5 346.3,174.8 346.1,175.6 344.9,175.9 343.1,175.9 341.3,175.9 340.2,176.3 340,177.1 340.7,178.3 341.9,179.8 342.9,181.1 343.1,182.1 342.2,182.6 340.6,182.7 338.7,182.7 337.2,182.8 336.7,183.5 337.1,184.6 M355,172.5 354.4,173.3 353.1,173.9 352.4,174.6 353.5,175.6 355.1,176.7 356.4,177.7 356.7,178.6 355.9,179.3 354.3,179.9 352.5,180.4 351.3,181.1 351.2,181.9 352.1,182.8 353.7,183.9 355.1,184.9 355.7,185.8 355.1,186.6 353.5,187.2 351.7,187.7 350.3,188.3 350,189.1 350.8,190 352.3,191.1 353.8,192.1 354.5,193.1 354.2,193.8 352.8,194.5 M334.3,161.1 333.6,161.9 332.9,163 332.2,163.3 331.1,162 330.1,160.4 329.1,159.4 328.3,159.5 327.6,160.7 327.1,162.5 326.5,164.2 325.8,165 M363.9,170.4 364.8,171 364.7,171.9 363.5,173 362.5,174.1 362.5,175 363.6,175.6 365.4,175.9 367.2,176.3 368.2,176.9 368.1,177.8 367,178.9 365.5,180.1 364.4,181.3 364.2,182.1 365.2,182.8 366.9,183.2 368.7,183.5 369.9,184.1 370,184.9 369.1,186 367.6,187.2 366.3,188.4 M446,87 446.8,87 447.4,85.9 447.8,84.2 448.5,83.8 449.5,84.5 450.7,85.9 451.9,87.2 452.9,87.8 453.6,87.4 454,86 454.4,84.2 454.8,82.6 455.4,81.8 456.3,82.2 457.5,83.4 458.7,84.8 459.8,85.8 460.6,85.8 461.1,84.7 461.5,83 M446.8,95.3 447.5,94.4 448.3,94.1 449.2,95 450.1,96.7 451,97.6 451.8,97.4 452.6,96.1 453.3,94.3 454.1,92.8 454.9,92.3 455.7,92.9 456.6,94.5 457.5,96.1 458.4,97.2 459.2,97.1 460,95.9 460.7,94.1 M444.1,101.7 444.6,102.4 445.7,102.2 447.3,101.1 448.3,101.1 448.7,102.1 448.6,103.9 448.5,105.8 448.6,107.2 449.4,107.5 450.7,106.9 452.3,105.7 453.8,104.9 454.8,104.8 455.2,105.8 455.1,107.6 455,109.6 455.1,110.9 455.9,111.2" fill="none" stroke="#1c8f31" stroke-width="2.1" stroke-linecap="round" stroke-linejoin="round"/><path d="M379.3,160 379.7,160.3 379.1,160.7 378.3,161.9 378.6,163.4 379.6,164.5 380.9,164.7 382,164.1 383.2,163.6 384.4,163.9 385.4,165 385.7,166.4 385.1,167.4 384,168.3 383.4,169.3 383.6,170.7 384.6,171.8 385.9,172.2 387,171.6 388.1,170.9 389.4,170.9 390.5,171.8 391.1,173.1 390.7,174.3 389.8,175.2 389.1,176.2 389.2,177.5 390.1,178.7 391.4,179.2 392.6,178.7 393.6,177.9 394.8,177.6 396,178.2 396.9,179.5 396.8,180.7 396,181.7 395.2,182.7 395.2,184 396.2,185.2 M386,154.4 386,154.6 385.5,155.4 385.2,157 386,158.2 387.2,158.7 388.4,158.3 389.5,157.6 390.8,157.5 391.9,158.3 392.6,159.7 392.3,160.9 391.3,161.8 390.4,162.7 390.3,164 391,165.3 392.2,166 393.4,165.8 394.6,165.1 395.8,164.9 397,165.6 397.7,167 397.5,168.3 396.5,169.1 395.5,170 395.2,171.2 395.8,172.6 396.9,173.4 398.1,173.4 399.3,172.8 400.5,172.5 401.7,173.2 402.4,174.6 402.3,175.9 M392.4,148.7 392.7,150.1 393.1,150.5 394,150 395.2,149.6 396.4,150.2 397.3,151.4 397.3,152.7 396.5,153.7 395.5,154.6 395.1,155.7 395.5,157.1 396.6,158 397.8,158.1 399,157.5 400.2,157 401.4,157.4 402.3,158.6 402.5,160 401.7,161 400.7,161.8 400,162.8 400.3,164.2 401.2,165.4 402.4,165.7 403.6,165.2 404.8,164.7 406,164.9 407,166.1 407.3,167.5 406.7,168.5 405.6,169.3 404.7,170.2 404.7,171.5 405.5,172.8 406.6,173.4 407.8,173.1 409,172.6 410.3,172.7 M399.6,143.5 400.2,143.6 399.9,144.1 399.6,145.5 400.3,146.7 401.7,147.4 403,147.2 403.9,146.3 404.7,145.2 405.9,144.8 407.3,145.4 408.2,146.5 408.2,147.7 407.6,148.9 407.4,150.1 408.1,151.3 409.5,152 410.8,151.7 411.7,150.8 412.4,149.7 413.6,149.2 415,149.6 416,150.7 416.1,151.9 415.5,153.1 415.4,154.4 416.1,155.5 417.5,156.1 418.8,155.9 419.7,154.9 420.4,153.8 421.5,153.2 422.9,153.6 424,154.5 424.1,155.8 423.7,157 423.5,158.3 424.3,159.4 425.7,160 M406,138 406.3,139.1 406.7,139.1 407.8,138.4 409,138.3 410.2,139.2 410.8,140.5 410.4,141.7 409.5,142.7 408.8,143.7 409,145.1 410,146.2 411.3,146.5 412.5,146 413.6,145.3 414.8,145.2 416,146.1 416.6,147.5 416.2,148.7 415.2,149.6 414.5,150.6 414.6,151.9 415.5,153.1 416.7,153.6 417.9,153.1 419,152.4 420.3,152.4 421.4,153.3 422,154.7 421.6,155.9 420.6,156.8 419.8,157.7 419.8,159 420.6,160.3 421.8,160.9 M412,132 412.9,133.4 413.7,134.4 414.4,134.1 415.2,133 416.2,132.4 417.6,132.6 418.7,133.5 419.1,134.7 418.6,135.9 418.1,137.1 418.4,138.4 419.6,139.3 421,139.5 422.1,138.8 422.8,137.7 423.7,136.9 425.1,136.9 426.4,137.8 426.9,138.9 426.5,140.2 426,141.4 426.2,142.6 427.3,143.6 428.8,143.9 429.8,143.3 430.6,142.2 431.4,141.3 432.7,141.1 434.1,141.8 434.8,142.9 M419.2,127 419.7,128.2 420.1,128.4 421,127.7 422.2,127.3 423.5,127.9 424.4,129.1 424.4,130.4 423.6,131.4 422.8,132.5 422.8,133.7 423.7,135 425,135.5 426.2,135.1 427.2,134.2 428.4,133.8 429.7,134.3 430.6,135.6 430.6,136.8 429.8,137.9 429,138.9 428.9,140.2 429.8,141.4 431.1,142 432.3,141.7 433.3,140.8 434.5,140.4 435.8,140.9 436.7,142.1 436.7,143.4 436,144.5 435.1,145.5 434.9,146.7 435.7,148 437,148.7 438.2,148.4 439.2,147.6 440.4,147.2 441.7,147.6 442.6,148.9 M425.4,121.2 426.1,120.9 427.7,120.8 429.3,121 429.8,122.3 429.3,123.5 428.7,124.6 428.8,125.9 429.9,127 431.3,127.3 432.4,126.8 433.2,125.8 434.3,125 435.6,125.2 436.8,126.2 437.2,127.5 436.6,128.7 435.9,129.8 436,131.1 436.9,132.2 438.3,132.7 439.4,132.3 440.4,131.3 441.4,130.6 442.8,130.9 443.9,132 444.2,133.3 443.6,134.4 442.8,135.5 442.8,136.7 443.6,137.9 444.9,138.5 446.1,138.2 447.1,137.3 448.2,136.7 449.5,137 450.6,138.2 450.8,139.5 450.2,140.6 449.3,141.6 M431.9,115.7 432.9,117 434,117.9 434.7,117.7 435.3,116.5 436.2,115.7 437.6,115.7 438.9,116.4 439.5,117.6 439.1,118.9 438.7,120.1 439,121.3 440.2,122.2 441.6,122.4 442.6,121.7 443.3,120.6 444.3,119.8 445.7,119.8 447,120.7 447.5,121.9 447.1,123.1 446.5,124.3 446.7,125.6 447.8,126.6 449.2,126.9 450.3,126.3 451.1,125.2 452.1,124.5 453.4,124.6 454.7,125.5 455.1,126.7 454.7,127.9 454,129.1 454.1,130.3 455.1,131.4 456.4,131.9 457.6,131.4 458.5,130.4 459.5,129.7 460.8,129.8 M439.5,110.7 439.6,110.6 440.3,109.9 441.8,109.3 443.2,109.8 444,110.9 443.8,112.2 443.3,113.4 443.4,114.6 444.4,115.6 445.8,116 447,115.6 447.7,114.5 448.5,113.5 449.7,113.2 451.1,113.7 452,114.7 452,116 451.4,117.2 451.3,118.4 452.1,119.5 453.4,120.1 454.7,119.9 455.5,119 456.3,117.9 457.4,117.4 458.8,117.8 459.8,118.8 460,120 459.4,121.2 459.1,122.4 459.6,123.6 M331.2,148.8 330.5,149.7 329.8,150.5 329,150.1 327.9,148.6 326.9,147.2 326.1,146.8 325.4,147.5 324.7,149.1 324.2,150.9 323.5,152.2 322.7,152.4 321.8,151.5 320.8,150 319.8,148.5 318.9,147.8 318.1,148.2 317.5,149.6 316.9,151.4 316.2,152.9 315.5,153.4 314.6,152.8 M337.1,134.2 336.5,133.6 335.2,133.8 333.6,134.4 333.1,133.6 333.4,132.1 334,130.2 334.3,128.6 333.9,127.8 332.8,127.8 331,128.5 329.3,129.2 328,129.3 M345.6,170.9 344.7,171.3 344.6,172.2 345.6,173.5 346.3,174.8 346.1,175.6 344.9,175.9 343.1,175.9 341.3,175.9 340.2,176.3 340,177.1 340.7,178.3 341.9,179.8 342.9,181.1 343.1,182.1 342.2,182.6 340.6,182.7 338.7,182.7 337.2,182.8 336.7,183.5 337.1,184.6 M355,172.5 354.4,173.3 353.1,173.9 352.4,174.6 353.5,175.6 355.1,176.7 356.4,177.7 356.7,178.6 355.9,179.3 354.3,179.9 352.5,180.4 351.3,181.1 351.2,181.9 352.1,182.8 353.7,183.9 355.1,184.9 355.7,185.8 355.1,186.6 353.5,187.2 351.7,187.7 350.3,188.3 350,189.1 350.8,190 352.3,191.1 353.8,192.1 354.5,193.1 354.2,193.8 352.8,194.5 M334.3,161.1 333.6,161.9 332.9,163 332.2,163.3 331.1,162 330.1,160.4 329.1,159.4 328.3,159.5 327.6,160.7 327.1,162.5 326.5,164.2 325.8,165 M363.9,170.4 364.8,171 364.7,171.9 363.5,173 362.5,174.1 362.5,175 363.6,175.6 365.4,175.9 367.2,176.3 368.2,176.9 368.1,177.8 367,178.9 365.5,180.1 364.4,181.3 364.2,182.1 365.2,182.8 366.9,183.2 368.7,183.5 369.9,184.1 370,184.9 369.1,186 367.6,187.2 366.3,188.4 M446,87 446.8,87 447.4,85.9 447.8,84.2 448.5,83.8 449.5,84.5 450.7,85.9 451.9,87.2 452.9,87.8 453.6,87.4 454,86 454.4,84.2 454.8,82.6 455.4,81.8 456.3,82.2 457.5,83.4 458.7,84.8 459.8,85.8 460.6,85.8 461.1,84.7 461.5,83 M446.8,95.3 447.5,94.4 448.3,94.1 449.2,95 450.1,96.7 451,97.6 451.8,97.4 452.6,96.1 453.3,94.3 454.1,92.8 454.9,92.3 455.7,92.9 456.6,94.5 457.5,96.1 458.4,97.2 459.2,97.1 460,95.9 460.7,94.1 M444.1,101.7 444.6,102.4 445.7,102.2 447.3,101.1 448.3,101.1 448.7,102.1 448.6,103.9 448.5,105.8 448.6,107.2 449.4,107.5 450.7,106.9 452.3,105.7 453.8,104.9 454.8,104.8 455.2,105.8 455.1,107.6 455,109.6 455.1,110.9 455.9,111.2" fill="none" stroke="#35b84e" stroke-width="0.84" stroke-linecap="round" stroke-linejoin="round" opacity="0.7"/>
<linearGradient id="ga2" gradientUnits="userSpaceOnUse" x1="489" y1="0" x2="593.2" y2="0"><stop offset="0" stop-color="#19a8e8"/><stop offset="0.8" stop-color="#d2203c"/><stop offset="1" stop-color="#d2203c"/></linearGradient><path d="M489,113.6 H571.6 V109.39999999999999 L593.2,116.6 L571.6,123.8 V119.6 H489 Z" fill="url(#ga2)"/>
<path d="M513.6,50.3 C514.1,52 517.1,57.2 516.5,60.8 C516,64.4 510.6,68.4 510.4,71.8 C510.2,75.3 512.2,78.4 515.3,81.6 C518.4,84.8 525.1,90.5 528.8,90.9 C532.4,91.3 534.5,87.5 537.3,84.1 C540.2,80.7 543.7,74.1 545.9,70.6 C548.1,67.1 549.5,63.1 550.3,63.3 C551.1,63.5 549.3,69.6 550.8,71.8 C552.3,74.1 556.9,74.7 559.4,76.7 C561.8,78.8 564.9,81.8 565.5,84.1 C566.1,86.3 564.5,88.4 563,90.2 C561.6,92 558.1,92.4 556.9,95.1 C555.7,97.7 555.9,104.3 555.7,106.1" fill="none" stroke="#2db84a" stroke-width="1.9" stroke-linecap="round"/>
<text x="548" y="150.2" font-size="17.2" font-weight="bold" text-anchor="middle" fill="#1a1a1a" stroke="#1a1a1a" stroke-width="0.3" textLength="150" lengthAdjust="spacingAndGlyphs">2. NR-hIAPP co-</text>
<text x="546.5" y="173.6" font-size="17.2" font-weight="bold" text-anchor="middle" fill="#1a1a1a" stroke="#1a1a1a" stroke-width="0.3" textLength="144.2" lengthAdjust="spacingAndGlyphs">assembled with</text>
<text x="547.2" y="196.9" font-size="17.2" font-weight="bold" text-anchor="middle" fill="#1a1a1a" stroke="#1a1a1a" stroke-width="0.3" textLength="99.6" lengthAdjust="spacingAndGlyphs">free hIAPP</text>
<path d="M658.6,145.5 L740,81.5" stroke="#e7b7dc" stroke-width="56" opacity="0.33" fill="none"/><circle cx="655.4" cy="144.5" r="24.6" fill="#e7b7dc" opacity="0.33"/>
<path d="M648.5,128.9 L643.8,120.3 M652.2,126.2 L645.9,119.7 M655.8,123.5 L649.9,116.6 M659.5,120.8 L653.5,114.6 M663.2,118.1 L656.8,110.5 M666.9,115.4 L661.5,107.2 M670.5,112.7 L665.5,105.5 M674.2,110 L669.3,103.4 M677.9,107.3 L671.7,100.9 M681.6,104.6 L676.2,97.1 M685.3,101.9 L679.7,95.1 M688.9,99.2 L682.6,93.1 M692.6,96.5 L688.4,88.2 M696.3,93.8 L690.3,88.3 M700,91.1 L694.5,84 M703.6,88.4 L697.4,81.7 M707.3,85.7 L702.8,78.1 M711,83 L705.2,77.4 M714.7,80.3 L708.3,75.2 M718.4,77.6 L712.7,70.6 M722,74.9 L715.7,69.6 M725.7,72.2 L721.3,65.7 M729.4,69.5 L724.9,62.5 M733,66.7 L727,60.7 M672.4,159.3 L676.4,168.2 M675.9,156.3 L682.1,162.4 M679.4,153.4 L684.5,160.5 M682.8,150.5 L690.1,156.3 M686.3,147.5 L690.1,155.4 M689.8,144.6 L696.6,150.6 M693.3,141.6 L700.1,148.1 M696.8,138.7 L704,144.4 M700.3,135.8 L707.8,141.8 M703.8,132.8 L709.9,139.8 M707.3,129.9 L713.1,137.3 M710.8,127 L716.8,134.3 M714.3,124 L720.5,130.2 M717.8,121.1 L722.1,128.2 M721.3,118.1 L727.4,124.9 M724.8,115.2 L730.3,122.1 M728.3,112.3 L732.4,119 M731.7,109.3 L736.1,116.3 M735.2,106.4 L739.9,113.6 M738.7,103.5 L742.5,110.6 M742.2,100.5 L748.2,106.8 M745.7,97.6 L749.3,105 M749.2,94.7 L754.4,101 M752.8,91.8 L756.8,98.8 M666.8,155.7 L673.7,162.7 M663.6,158.3 L667.6,166.7 M659.7,159.9 L662.6,169 M655.6,160.5 L656,168.6 M651.4,160 L648.3,169 M647.6,158.5 L642.9,167.2 M644.2,155.9 L637.5,162.7 M641.6,152.7 L634,157.9 M640,148.8 L631.9,151.2 M639.4,144.7 L631.3,145.1 M639.9,140.5 L630.8,138.4 M641.4,136.7 L634.1,132.6 M644,133.3 L638.2,127.3 M736.9,68.8 L734.2,61.6 M740.5,67.9 L741,59.6 M743.9,69.4 L747.9,61.7 M746.7,73.1 L752.8,68.3 M748.3,78.2 L756.8,76.1 M748.4,84 L756.1,85.4 M747,89.2 L754,94.1" fill="none" stroke="#b973c0" stroke-width="0.65"/><g fill="#a8203c"><circle cx="643.8" cy="120.3" r="1.2"/><circle cx="645.9" cy="119.7" r="1.2"/><circle cx="649.9" cy="116.6" r="1.2"/><circle cx="653.5" cy="114.6" r="1.2"/><circle cx="656.8" cy="110.5" r="1.2"/><circle cx="661.5" cy="107.2" r="1.2"/><circle cx="665.5" cy="105.5" r="1.2"/><circle cx="669.3" cy="103.4" r="1.2"/><circle cx="671.7" cy="100.9" r="1.2"/><circle cx="676.2" cy="97.1" r="1.2"/><circle cx="679.7" cy="95.1" r="1.2"/><circle cx="682.6" cy="93.1" r="1.2"/><circle cx="688.4" cy="88.2" r="1.2"/><circle cx="690.3" cy="88.3" r="1.2"/><circle cx="694.5" cy="84" r="1.2"/><circle cx="697.4" cy="81.7" r="1.2"/><circle cx="702.8" cy="78.1" r="1.2"/><circle cx="705.2" cy="77.4" r="1.2"/><circle cx="708.3" cy="75.2" r="1.2"/><circle cx="712.7" cy="70.6" r="1.2"/><circle cx="715.7" cy="69.6" r="1.2"/><circle cx="721.3" cy="65.7" r="1.2"/><circle cx="724.9" cy="62.5" r="1.2"/><circle cx="727" cy="60.7" r="1.2"/><circle cx="676.4" cy="168.2" r="1.2"/><circle cx="682.1" cy="162.4" r="1.2"/><circle cx="684.5" cy="160.5" r="1.2"/><circle cx="690.1" cy="156.3" r="1.2"/><circle cx="690.1" cy="155.4" r="1.2"/><circle cx="696.6" cy="150.6" r="1.2"/><circle cx="700.1" cy="148.1" r="1.2"/><circle cx="704" cy="144.4" r="1.2"/><circle cx="707.8" cy="141.8" r="1.2"/><circle cx="709.9" cy="139.8" r="1.2"/><circle cx="713.1" cy="137.3" r="1.2"/><circle cx="716.8" cy="134.3" r="1.2"/><circle cx="720.5" cy="130.2" r="1.2"/><circle cx="722.1" cy="128.2" r="1.2"/><circle cx="727.4" cy="124.9" r="1.2"/><circle cx="730.3" cy="122.1" r="1.2"/><circle cx="732.4" cy="119" r="1.2"/><circle cx="736.1" cy="116.3" r="1.2"/><circle cx="739.9" cy="113.6" r="1.2"/><circle cx="742.5" cy="110.6" r="1.2"/><circle cx="748.2" cy="106.8" r="1.2"/><circle cx="749.3" cy="105" r="1.2"/><circle cx="754.4" cy="101" r="1.2"/><circle cx="756.8" cy="98.8" r="1.2"/><circle cx="673.7" cy="162.7" r="1.2"/><circle cx="667.6" cy="166.7" r="1.2"/><circle cx="662.6" cy="169" r="1.2"/><circle cx="656" cy="168.6" r="1.2"/><circle cx="648.3" cy="169" r="1.2"/><circle cx="642.9" cy="167.2" r="1.2"/><circle cx="637.5" cy="162.7" r="1.2"/><circle cx="634" cy="157.9" r="1.2"/><circle cx="631.9" cy="151.2" r="1.2"/><circle cx="631.3" cy="145.1" r="1.2"/><circle cx="630.8" cy="138.4" r="1.2"/><circle cx="634.1" cy="132.6" r="1.2"/><circle cx="638.2" cy="127.3" r="1.2"/><circle cx="734.2" cy="61.6" r="1.2"/><circle cx="741" cy="59.6" r="1.2"/><circle cx="747.9" cy="61.7" r="1.2"/><circle cx="752.8" cy="68.3" r="1.2"/><circle cx="756.8" cy="76.1" r="1.2"/><circle cx="756.1" cy="85.4" r="1.2"/><circle cx="754" cy="94.1" r="1.2"/></g>
<path d="M644.6,131 644.6,129.3 644.4,128.2 643.6,128.2 642.4,128.7 641.1,128.4 640.2,127.2 640,125.8 640.7,124.7 641.8,124.1 642.8,123.2 643,121.9 642.3,120.5 641.2,119.8 640,120 638.7,120.5 637.5,120.3 636.5,119.1 636.2,117.7 636.8,116.6 638,115.9 639,115.1 639.2,113.8 638.6,112.4 637.5,111.6 636.2,111.8 635,112.3 633.8,112.2 632.8,111.1 632.4,109.6 633,108.5 634.1,107.8 635.1,107 635.4,105.8 634.8,104.3 M656.1,122 655.1,120.8 655,120.1 655.9,119.8 657,119.2 657.5,117.9 657.2,116.5 656.2,115.5 655,115.4 653.6,115.6 652.5,115.1 651.8,113.8 651.9,112.3 652.7,111.4 654,111 655.2,110.5 655.7,109.3 655.6,107.8 654.7,106.8 653.5,106.6 652.1,106.7 651,106.2 650.3,104.9 650.4,103.4 651.3,102.5 652.6,102.1 653.8,101.7 654.5,100.7 654.4,99.1 653.7,98 652.5,97.7 651.2,97.7 650,97.2 649.4,95.9 649.5,94.4 M667.9,113.6 668.2,113.1 668.7,111.7 668.9,110 667.8,109.2 666.5,109.3 665.2,109.7 664,109.4 663.2,108.1 663.1,106.6 663.8,105.6 665,105 666,104.3 666.3,102.9 665.7,101.5 664.6,100.8 663.3,100.9 662,101.2 660.8,100.8 660,99.5 660,98 660.9,97.1 662.1,96.5 663.1,95.7 663.3,94.3 662.7,92.9 661.6,92.3 660.3,92.4 658.9,92.7 657.8,92.1 657.1,90.8 657.2,89.3 M679.6,105.5 678.6,104.3 677.7,103 677.8,102.1 679,101.7 680.2,101.3 680.9,100.2 680.8,98.7 680,97.6 678.8,97.3 677.5,97.4 676.3,97 675.6,95.8 675.6,94.3 676.3,93.3 677.5,92.9 678.8,92.5 679.6,91.6 679.7,90.1 679.1,88.9 677.9,88.4 676.6,88.4 675.4,88.1 674.6,87 674.6,85.5 675.3,84.3 676.5,83.9 677.8,83.7 678.7,82.9 679,81.5 678.5,80.1 677.5,79.5 676.2,79.4 674.9,79.2 674.2,78.1 M691.1,95.9 691.2,95.8 692,95 692.8,93.5 692.3,92.1 691.2,91.4 689.9,91.5 688.6,91.7 687.4,91.1 686.8,89.8 686.9,88.3 687.8,87.5 689,87 690,86.2 690.2,84.8 689.6,83.4 688.5,82.7 687.2,82.9 685.9,83.1 684.7,82.6 684.1,81.2 684.1,79.8 685,78.9 686.3,78.4 687.2,77.6 687.4,76.2 686.7,74.8 685.6,74.2 684.3,74.4 683,74.6 681.9,74.1 681.2,72.8 681.2,71.3 682.1,70.5 683.3,69.9 684.2,69.1 684.4,67.7 683.7,66.3 M703.2,88.3 703.3,86.9 703.3,85.2 702.9,84.3 701.7,84.6 700.4,85 699.2,84.6 698.3,83.4 698.2,81.9 698.9,80.9 700.1,80.3 701.1,79.5 701.2,78.1 700.6,76.7 699.5,76 698.2,76.2 697,76.6 695.8,76.3 694.9,75 694.8,73.6 695.5,72.5 696.8,72 697.8,71.2 698,69.9 697.5,68.5 696.4,67.7 695.1,67.8 693.8,68.1 692.6,67.8 691.8,66.6 691.7,65.1 692.5,64.1 693.7,63.5 M714.7,79.5 713.5,78.3 712.9,77.2 713.3,76.7 714.6,76.2 715.4,75.4 715.5,74 714.9,72.6 713.8,72 712.5,72.2 711.3,72.3 710.2,71.6 709.6,70.2 709.8,68.8 710.8,68 712.1,67.6 713.1,66.9 713.4,65.6 713,64.2 712,63.4 710.7,63.4 709.4,63.5 708.3,63 707.7,61.6 707.8,60.2 708.7,59.3 710,58.9 711.1,58.4 711.6,57.2 711.4,55.7 710.6,54.7 709.4,54.5 708,54.6 706.9,54.2 M671.8,120.2 670.7,119.1 670.5,118.4 671.3,118 672.4,117.3 672.8,116 672.3,114.6 671.3,113.7 670.1,113.7 668.8,114 667.6,113.9 666.6,112.8 666.3,111.4 666.9,110.2 668,109.6 669.1,108.9 669.6,107.8 669.2,106.3 668.3,105.3 667,105.2 665.8,105.6 664.5,105.6 663.5,104.7 663,103.3 663.4,102.1 664.4,101.3 665.6,100.7 666.2,99.6 665.9,98.1 664.9,97 663.7,96.8 662.5,97.3 661.2,97.4 660.1,96.7 659.5,95.4 659.7,94 660.6,93.2 661.8,92.6 662.4,91.5 662.2,90.1 661.3,88.9 M687.9,108.8 688.4,107.6 688.9,106 688.8,104.8 687.6,104.6 686.3,104.8 685.2,104.4 684.4,103.2 684.4,101.7 685.1,100.7 686.4,100.2 687.6,99.7 688.2,98.6 688,97.1 687.2,96 686,95.8 684.6,96 683.4,95.8 682.6,94.7 682.4,93.2 683,92 684.1,91.5 685.4,91 686,90 685.9,88.5 685.1,87.3 683.9,87 682.6,87.3 681.3,87.2 680.4,86.3 680,84.8 680.5,83.6 681.5,82.9 682.8,82.4 683.5,81.4 683.4,79.9 682.6,78.7 681.4,78.3 680.2,78.6 678.9,78.7 677.8,77.9 677.3,76.5 677.6,75.2 678.6,74.5 M703.6,95.8 703.9,95.6 704.6,94.8 705.3,93.2 704.7,91.8 703.6,91.2 702.3,91.4 701,91.6 699.9,90.9 699.3,89.5 699.5,88.1 700.5,87.3 701.8,86.8 702.7,86 702.8,84.6 702.2,83.2 701.1,82.6 699.7,82.8 698.4,82.9 697.4,82.3 696.8,80.8 697,79.5 698,78.7 699.2,78.2 700.1,77.4 700.3,75.9 699.6,74.6 698.5,74 697.2,74.2 695.9,74.3 694.8,73.6 694.2,72.2 694.5,70.8 695.4,70 696.7,69.6 697.6,68.7 697.8,67.3 697.1,65.9 696,65.3 694.7,65.5 693.4,65.7 M719.8,84.5 718.8,83.1 718.2,82 718.7,81.4 720,81.1 720.9,80.3 721.2,78.9 720.7,77.5 719.7,76.8 718.3,76.9 717,76.9 716,76 715.7,74.5 716,73.2 717.1,72.6 718.4,72.3 719.5,71.6 719.8,70.2 719.4,68.7 718.4,68 717.1,68 715.8,67.9 714.8,67.1 714.4,65.6 714.8,64.3 715.9,63.6 717.2,63.4 718.3,62.7 718.7,61.4 718.3,59.9 717.4,59.1 716.1,59 714.8,59 713.8,58.2 713.4,56.7 713.8,55.3" fill="none" stroke="#1c8f31" stroke-width="2.0" stroke-linecap="round" stroke-linejoin="round"/><path d="M644.6,131 644.6,129.3 644.4,128.2 643.6,128.2 642.4,128.7 641.1,128.4 640.2,127.2 640,125.8 640.7,124.7 641.8,124.1 642.8,123.2 643,121.9 642.3,120.5 641.2,119.8 640,120 638.7,120.5 637.5,120.3 636.5,119.1 636.2,117.7 636.8,116.6 638,115.9 639,115.1 639.2,113.8 638.6,112.4 637.5,111.6 636.2,111.8 635,112.3 633.8,112.2 632.8,111.1 632.4,109.6 633,108.5 634.1,107.8 635.1,107 635.4,105.8 634.8,104.3 M656.1,122 655.1,120.8 655,120.1 655.9,119.8 657,119.2 657.5,117.9 657.2,116.5 656.2,115.5 655,115.4 653.6,115.6 652.5,115.1 651.8,113.8 651.9,112.3 652.7,111.4 654,111 655.2,110.5 655.7,109.3 655.6,107.8 654.7,106.8 653.5,106.6 652.1,106.7 651,106.2 650.3,104.9 650.4,103.4 651.3,102.5 652.6,102.1 653.8,101.7 654.5,100.7 654.4,99.1 653.7,98 652.5,97.7 651.2,97.7 650,97.2 649.4,95.9 649.5,94.4 M667.9,113.6 668.2,113.1 668.7,111.7 668.9,110 667.8,109.2 666.5,109.3 665.2,109.7 664,109.4 663.2,108.1 663.1,106.6 663.8,105.6 665,105 666,104.3 666.3,102.9 665.7,101.5 664.6,100.8 663.3,100.9 662,101.2 660.8,100.8 660,99.5 660,98 660.9,97.1 662.1,96.5 663.1,95.7 663.3,94.3 662.7,92.9 661.6,92.3 660.3,92.4 658.9,92.7 657.8,92.1 657.1,90.8 657.2,89.3 M679.6,105.5 678.6,104.3 677.7,103 677.8,102.1 679,101.7 680.2,101.3 680.9,100.2 680.8,98.7 680,97.6 678.8,97.3 677.5,97.4 676.3,97 675.6,95.8 675.6,94.3 676.3,93.3 677.5,92.9 678.8,92.5 679.6,91.6 679.7,90.1 679.1,88.9 677.9,88.4 676.6,88.4 675.4,88.1 674.6,87 674.6,85.5 675.3,84.3 676.5,83.9 677.8,83.7 678.7,82.9 679,81.5 678.5,80.1 677.5,79.5 676.2,79.4 674.9,79.2 674.2,78.1 M691.1,95.9 691.2,95.8 692,95 692.8,93.5 692.3,92.1 691.2,91.4 689.9,91.5 688.6,91.7 687.4,91.1 686.8,89.8 686.9,88.3 687.8,87.5 689,87 690,86.2 690.2,84.8 689.6,83.4 688.5,82.7 687.2,82.9 685.9,83.1 684.7,82.6 684.1,81.2 684.1,79.8 685,78.9 686.3,78.4 687.2,77.6 687.4,76.2 686.7,74.8 685.6,74.2 684.3,74.4 683,74.6 681.9,74.1 681.2,72.8 681.2,71.3 682.1,70.5 683.3,69.9 684.2,69.1 684.4,67.7 683.7,66.3 M703.2,88.3 703.3,86.9 703.3,85.2 702.9,84.3 701.7,84.6 700.4,85 699.2,84.6 698.3,83.4 698.2,81.9 698.9,80.9 700.1,80.3 701.1,79.5 701.2,78.1 700.6,76.7 699.5,76 698.2,76.2 697,76.6 695.8,76.3 694.9,75 694.8,73.6 695.5,72.5 696.8,72 697.8,71.2 698,69.9 697.5,68.5 696.4,67.7 695.1,67.8 693.8,68.1 692.6,67.8 691.8,66.6 691.7,65.1 692.5,64.1 693.7,63.5 M714.7,79.5 713.5,78.3 712.9,77.2 713.3,76.7 714.6,76.2 715.4,75.4 715.5,74 714.9,72.6 713.8,72 712.5,72.2 711.3,72.3 710.2,71.6 709.6,70.2 709.8,68.8 710.8,68 712.1,67.6 713.1,66.9 713.4,65.6 713,64.2 712,63.4 710.7,63.4 709.4,63.5 708.3,63 707.7,61.6 707.8,60.2 708.7,59.3 710,58.9 711.1,58.4 711.6,57.2 711.4,55.7 710.6,54.7 709.4,54.5 708,54.6 706.9,54.2 M671.8,120.2 670.7,119.1 670.5,118.4 671.3,118 672.4,117.3 672.8,116 672.3,114.6 671.3,113.7 670.1,113.7 668.8,114 667.6,113.9 666.6,112.8 666.3,111.4 666.9,110.2 668,109.6 669.1,108.9 669.6,107.8 669.2,106.3 668.3,105.3 667,105.2 665.8,105.6 664.5,105.6 663.5,104.7 663,103.3 663.4,102.1 664.4,101.3 665.6,100.7 666.2,99.6 665.9,98.1 664.9,97 663.7,96.8 662.5,97.3 661.2,97.4 660.1,96.7 659.5,95.4 659.7,94 660.6,93.2 661.8,92.6 662.4,91.5 662.2,90.1 661.3,88.9 M687.9,108.8 688.4,107.6 688.9,106 688.8,104.8 687.6,104.6 686.3,104.8 685.2,104.4 684.4,103.2 684.4,101.7 685.1,100.7 686.4,100.2 687.6,99.7 688.2,98.6 688,97.1 687.2,96 686,95.8 684.6,96 683.4,95.8 682.6,94.7 682.4,93.2 683,92 684.1,91.5 685.4,91 686,90 685.9,88.5 685.1,87.3 683.9,87 682.6,87.3 681.3,87.2 680.4,86.3 680,84.8 680.5,83.6 681.5,82.9 682.8,82.4 683.5,81.4 683.4,79.9 682.6,78.7 681.4,78.3 680.2,78.6 678.9,78.7 677.8,77.9 677.3,76.5 677.6,75.2 678.6,74.5 M703.6,95.8 703.9,95.6 704.6,94.8 705.3,93.2 704.7,91.8 703.6,91.2 702.3,91.4 701,91.6 699.9,90.9 699.3,89.5 699.5,88.1 700.5,87.3 701.8,86.8 702.7,86 702.8,84.6 702.2,83.2 701.1,82.6 699.7,82.8 698.4,82.9 697.4,82.3 696.8,80.8 697,79.5 698,78.7 699.2,78.2 700.1,77.4 700.3,75.9 699.6,74.6 698.5,74 697.2,74.2 695.9,74.3 694.8,73.6 694.2,72.2 694.5,70.8 695.4,70 696.7,69.6 697.6,68.7 697.8,67.3 697.1,65.9 696,65.3 694.7,65.5 693.4,65.7 M719.8,84.5 718.8,83.1 718.2,82 718.7,81.4 720,81.1 720.9,80.3 721.2,78.9 720.7,77.5 719.7,76.8 718.3,76.9 717,76.9 716,76 715.7,74.5 716,73.2 717.1,72.6 718.4,72.3 719.5,71.6 719.8,70.2 719.4,68.7 718.4,68 717.1,68 715.8,67.9 714.8,67.1 714.4,65.6 714.8,64.3 715.9,63.6 717.2,63.4 718.3,62.7 718.7,61.4 718.3,59.9 717.4,59.1 716.1,59 714.8,59 713.8,58.2 713.4,56.7 713.8,55.3" fill="none" stroke="#35b84e" stroke-width="0.80" stroke-linecap="round" stroke-linejoin="round" opacity="0.7"/>
<linearGradient id="rb3" gradientUnits="userSpaceOnUse" x1="646" y1="129.5" x2="671.2" y2="161.5"><stop offset="0" stop-color="#f7c832"/><stop offset="0.28" stop-color="#ffe541"/><stop offset="0.6" stop-color="#fdd334"/><stop offset="1" stop-color="#efb42a"/></linearGradient><radialGradient id="rs3" gradientUnits="userSpaceOnUse" cx="664.8" cy="139.4" r="25.5"><stop offset="0" stop-color="#fffef0"/><stop offset="0.1" stop-color="#fff68c"/><stop offset="0.4" stop-color="#fedf3c"/><stop offset="0.78" stop-color="#f7c62e"/><stop offset="1" stop-color="#e3a922"/></radialGradient><path d="M651,160.9 L644.9,131.1 L729.5,68.1 A8.5,17 -38.2 0 1 750.5,94.9 L678.6,155.7 Q665.2,166.3 651,160.9 Z" fill="url(#rb3)"/><circle cx="655.4" cy="144.5" r="17" fill="url(#rs3)"/>
<path d="M652.9,126.9 L651.9,122.6 M657.7,123.4 L656.7,119.1 M662.4,119.9 L661.4,115.6 M667.2,116.4 L666.2,112.2 M671.9,112.8 L670.9,108.7 M676.6,109.3 L675.7,105.2 M681.4,105.8 L680.4,101.7 M686.1,102.3 L685.2,98.2 M690.9,98.8 L689.9,94.8 M695.6,95.3 L694.6,91.3 M700.3,91.8 L699.4,87.8 M705.1,88.3 L704.1,84.3 M709.8,84.8 L708.9,80.9 M714.6,81.3 L713.6,77.4 M719.3,77.8 L718.4,73.9 M724.1,74.3 L723.1,70.4 M728.8,70.8 L727.9,66.9 M660.7,126.7 L661,122 M665.5,123.1 L665.7,118.5 M670.2,119.6 L670.4,115 M674.9,116.1 L675.1,111.4 M679.6,112.5 L679.8,107.9 M684.3,109 L684.6,104.4 M689,105.4 L689.3,100.9 M693.7,101.9 L694,97.4 M698.5,98.4 L698.7,93.9 M703.2,94.8 L703.4,90.4 M707.9,91.3 L708.1,86.9 M712.6,87.7 L712.8,83.4 M717.3,84.2 L717.5,79.9 M722,80.6 L722.3,76.4 M726.7,77.1 L727,72.8 M731.5,73.6 L731.7,69.3 M736.1,70 L736.3,65.8 M665.7,128.5 L666.9,123.9 M670.4,124.9 L671.6,120.4 M675.1,121.4 L676.3,116.8 M679.8,117.8 L680.9,113.3 M684.5,114.2 L685.6,109.7 M689.2,110.6 L690.3,106.2 M693.9,107.1 L695,102.6 M698.6,103.5 L699.7,99.1 M703.2,99.9 L704.3,95.6 M707.9,96.3 L709,92 M712.6,92.8 L713.7,88.5 M717.3,89.2 L718.4,84.9 M722,85.6 L723.1,81.4 M726.7,82 L727.7,77.8 M731.4,78.5 L732.4,74.3 M736.1,74.9 L737.1,70.7 M740.7,71.2 L741.7,67.1 M669.4,131.3 L671.3,127.1 M674.1,127.7 L675.9,123.5 M678.8,124.1 L680.6,119.9 M683.4,120.5 L685.2,116.3 M688.1,116.9 L689.9,112.7 M692.7,113.3 L694.5,109.2 M697.4,109.7 L699.2,105.6 M702.1,106 L703.8,102 M706.7,102.4 L708.5,98.4 M711.4,98.8 L713.1,94.8 M716,95.2 L717.8,91.3 M720.7,91.6 L722.4,87.7 M725.4,88 L727.1,84.1 M730,84.4 L731.7,80.5 M734.7,80.8 L736.4,76.9 M739.3,77.2 L741,73.3 M744,73.5 L745.6,69.7 M672.1,134.9 L674.5,131.2 M676.7,131.2 L679.2,127.6 M681.4,127.6 L683.8,124 M686,124 L688.4,120.4 M690.6,120.3 L693,116.7 M695.3,116.7 L697.6,113.1 M699.9,113 L702.2,109.5 M704.5,109.4 L706.9,105.9 M709.2,105.7 L711.5,102.3 M713.8,102.1 L716.1,98.6 M718.4,98.4 L720.7,95 M723.1,94.8 L725.3,91.4 M727.7,91.2 L730,87.8 M732.3,87.5 L734.6,84.2 M737,83.9 L739.2,80.5 M741.6,80.2 L743.8,76.9 M746.3,76.6 L748.4,73.3 M673.7,139.3 L676.6,136.4 M678.3,135.6 L681.2,132.7 M683,131.9 L685.8,129 M687.6,128.3 L690.4,125.4 M692.2,124.6 L695,121.7 M696.8,120.9 L699.6,118.1 M701.4,117.2 L704.2,114.4 M706,113.5 L708.8,110.8 M710.6,109.9 L713.3,107.1 M715.2,106.2 L717.9,103.4 M719.8,102.5 L722.5,99.8 M724.4,98.8 L727.1,96.1 M729,95.2 L731.7,92.5 M733.6,91.5 L736.3,88.8 M738.2,87.8 L740.9,85.1 M742.9,84.1 L745.5,81.5 M747.5,80.5 L750.1,77.9 M674,144.8 L677.2,142.8 M678.6,141.1 L681.8,139.1 M683.2,137.4 L686.4,135.4 M687.8,133.7 L690.9,131.7 M692.3,130 L695.5,128.1 M696.9,126.3 L700,124.4 M701.5,122.6 L704.6,120.7 M706.1,118.8 L709.2,117 M710.7,115.1 L713.7,113.3 M715.2,111.4 L718.3,109.6 M719.8,107.7 L722.8,105.9 M724.4,104 L727.4,102.2 M729,100.3 L731.9,98.5 M733.6,96.6 L736.5,94.8 M738.1,92.9 L741.1,91.1 M742.7,89.1 L745.6,87.4 M747.3,85.5 L750.2,83.7 M670.6,153.5 L674,152.7 M675.2,149.7 L678.5,149 M679.7,146 L683.1,145.2 M684.3,142.2 L687.6,141.5 M688.8,138.5 L692.1,137.7 M693.4,134.7 L696.7,134 M697.9,131 L701.2,130.3 M702.5,127.2 L705.7,126.5 M707,123.5 L710.3,122.8 M711.6,119.7 L714.8,119 M716.1,116 L719.3,115.3 M720.7,112.2 L723.8,111.5 M725.3,108.5 L728.4,107.8 M729.8,104.7 L732.9,104.1 M734.4,101 L737.4,100.3 M738.9,97.3 L742,96.6 M743.5,93.5 L746.5,92.8 M748,89.8 L751,89.1 M670.3,159.7 L673.5,160.7 M674.8,155.9 L678,156.9 M679.3,152.1 L682.5,153.2 M683.8,148.3 L687,149.4 M688.4,144.6 L691.5,145.6 M692.9,140.8 L696,141.8 M697.4,137 L700.5,138 M701.9,133.2 L705,134.2 M706.5,129.4 L709.5,130.4 M711,125.7 L714,126.6 M715.5,121.9 L718.5,122.9 M720,118.1 L723,119.1 M724.6,114.3 L727.5,115.3 M729.1,110.5 L732,111.5 M733.6,106.8 L736.5,107.7 M738.2,103 L741,103.9 M742.7,99.2 L745.5,100.1 M747.2,95.4 L750,96.3 M751.8,91.7 L754.6,92.6" fill="none" stroke="#a8203c" stroke-width="0.65" opacity="0.9"/><g fill="#a8203c"><circle cx="651.9" cy="122.6" r="1.15"/><circle cx="656.7" cy="119.1" r="1.15"/><circle cx="661.4" cy="115.6" r="1.15"/><circle cx="666.2" cy="112.2" r="1.15"/><circle cx="670.9" cy="108.7" r="1.15"/><circle cx="675.7" cy="105.2" r="1.15"/><circle cx="680.4" cy="101.7" r="1.15"/><circle cx="685.2" cy="98.2" r="1.15"/><circle cx="689.9" cy="94.8" r="1.15"/><circle cx="694.6" cy="91.3" r="1.15"/><circle cx="699.4" cy="87.8" r="1.15"/><circle cx="704.1" cy="84.3" r="1.15"/><circle cx="708.9" cy="80.9" r="1.15"/><circle cx="713.6" cy="77.4" r="1.15"/><circle cx="718.4" cy="73.9" r="1.15"/><circle cx="723.1" cy="70.4" r="1.15"/><circle cx="727.9" cy="66.9" r="1.15"/><circle cx="661" cy="122" r="1.15"/><circle cx="665.7" cy="118.5" r="1.15"/><circle cx="670.4" cy="115" r="1.15"/><circle cx="675.1" cy="111.4" r="1.15"/><circle cx="679.8" cy="107.9" r="1.15"/><circle cx="684.6" cy="104.4" r="1.15"/><circle cx="689.3" cy="100.9" r="1.15"/><circle cx="694" cy="97.4" r="1.15"/><circle cx="698.7" cy="93.9" r="1.15"/><circle cx="703.4" cy="90.4" r="1.15"/><circle cx="708.1" cy="86.9" r="1.15"/><circle cx="712.8" cy="83.4" r="1.15"/><circle cx="717.5" cy="79.9" r="1.15"/><circle cx="722.3" cy="76.4" r="1.15"/><circle cx="727" cy="72.8" r="1.15"/><circle cx="731.7" cy="69.3" r="1.15"/><circle cx="736.3" cy="65.8" r="1.15"/><circle cx="666.9" cy="123.9" r="1.15"/><circle cx="671.6" cy="120.4" r="1.15"/><circle cx="676.3" cy="116.8" r="1.15"/><circle cx="680.9" cy="113.3" r="1.15"/><circle cx="685.6" cy="109.7" r="1.15"/><circle cx="690.3" cy="106.2" r="1.15"/><circle cx="695" cy="102.6" r="1.15"/><circle cx="699.7" cy="99.1" r="1.15"/><circle cx="704.3" cy="95.6" r="1.15"/><circle cx="709" cy="92" r="1.15"/><circle cx="713.7" cy="88.5" r="1.15"/><circle cx="718.4" cy="84.9" r="1.15"/><circle cx="723.1" cy="81.4" r="1.15"/><circle cx="727.7" cy="77.8" r="1.15"/><circle cx="732.4" cy="74.3" r="1.15"/><circle cx="737.1" cy="70.7" r="1.15"/><circle cx="741.7" cy="67.1" r="1.15"/><circle cx="671.3" cy="127.1" r="1.15"/><circle cx="675.9" cy="123.5" r="1.15"/><circle cx="680.6" cy="119.9" r="1.15"/><circle cx="685.2" cy="116.3" r="1.15"/><circle cx="689.9" cy="112.7" r="1.15"/><circle cx="694.5" cy="109.2" r="1.15"/><circle cx="699.2" cy="105.6" r="1.15"/><circle cx="703.8" cy="102" r="1.15"/><circle cx="708.5" cy="98.4" r="1.15"/><circle cx="713.1" cy="94.8" r="1.15"/><circle cx="717.8" cy="91.3" r="1.15"/><circle cx="722.4" cy="87.7" r="1.15"/><circle cx="727.1" cy="84.1" r="1.15"/><circle cx="731.7" cy="80.5" r="1.15"/><circle cx="736.4" cy="76.9" r="1.15"/><circle cx="741" cy="73.3" r="1.15"/><circle cx="745.6" cy="69.7" r="1.15"/><circle cx="674.5" cy="131.2" r="1.15"/><circle cx="679.2" cy="127.6" r="1.15"/><circle cx="683.8" cy="124" r="1.15"/><circle cx="688.4" cy="120.4" r="1.15"/><circle cx="693" cy="116.7" r="1.15"/><circle cx="697.6" cy="113.1" r="1.15"/><circle cx="702.2" cy="109.5" r="1.15"/><circle cx="706.9" cy="105.9" r="1.15"/><circle cx="711.5" cy="102.3" r="1.15"/><circle cx="716.1" cy="98.6" r="1.15"/><circle cx="720.7" cy="95" r="1.15"/><circle cx="725.3" cy="91.4" r="1.15"/><circle cx="730" cy="87.8" r="1.15"/><circle cx="734.6" cy="84.2" r="1.15"/><circle cx="739.2" cy="80.5" r="1.15"/><circle cx="743.8" cy="76.9" r="1.15"/><circle cx="748.4" cy="73.3" r="1.15"/><circle cx="676.6" cy="136.4" r="1.15"/><circle cx="681.2" cy="132.7" r="1.15"/><circle cx="685.8" cy="129" r="1.15"/><circle cx="690.4" cy="125.4" r="1.15"/><circle cx="695" cy="121.7" r="1.15"/><circle cx="699.6" cy="118.1" r="1.15"/><circle cx="704.2" cy="114.4" r="1.15"/><circle cx="708.8" cy="110.8" r="1.15"/><circle cx="713.3" cy="107.1" r="1.15"/><circle cx="717.9" cy="103.4" r="1.15"/><circle cx="722.5" cy="99.8" r="1.15"/><circle cx="727.1" cy="96.1" r="1.15"/><circle cx="731.7" cy="92.5" r="1.15"/><circle cx="736.3" cy="88.8" r="1.15"/><circle cx="740.9" cy="85.1" r="1.15"/><circle cx="745.5" cy="81.5" r="1.15"/><circle cx="750.1" cy="77.9" r="1.15"/><circle cx="677.2" cy="142.8" r="1.15"/><circle cx="681.8" cy="139.1" r="1.15"/><circle cx="686.4" cy="135.4" r="1.15"/><circle cx="690.9" cy="131.7" r="1.15"/><circle cx="695.5" cy="128.1" r="1.15"/><circle cx="700" cy="124.4" r="1.15"/><circle cx="704.6" cy="120.7" r="1.15"/><circle cx="709.2" cy="117" r="1.15"/><circle cx="713.7" cy="113.3" r="1.15"/><circle cx="718.3" cy="109.6" r="1.15"/><circle cx="722.8" cy="105.9" r="1.15"/><circle cx="727.4" cy="102.2" r="1.15"/><circle cx="731.9" cy="98.5" r="1.15"/><circle cx="736.5" cy="94.8" r="1.15"/><circle cx="741.1" cy="91.1" r="1.15"/><circle cx="745.6" cy="87.4" r="1.15"/><circle cx="750.2" cy="83.7" r="1.15"/><circle cx="674" cy="152.7" r="1.15"/><circle cx="678.5" cy="149" r="1.15"/><circle cx="683.1" cy="145.2" r="1.15"/><circle cx="687.6" cy="141.5" r="1.15"/><circle cx="692.1" cy="137.7" r="1.15"/><circle cx="696.7" cy="134" r="1.15"/><circle cx="701.2" cy="130.3" r="1.15"/><circle cx="705.7" cy="126.5" r="1.15"/><circle cx="710.3" cy="122.8" r="1.15"/><circle cx="714.8" cy="119" r="1.15"/><circle cx="719.3" cy="115.3" r="1.15"/><circle cx="723.8" cy="111.5" r="1.15"/><circle cx="728.4" cy="107.8" r="1.15"/><circle cx="732.9" cy="104.1" r="1.15"/><circle cx="737.4" cy="100.3" r="1.15"/><circle cx="742" cy="96.6" r="1.15"/><circle cx="746.5" cy="92.8" r="1.15"/><circle cx="751" cy="89.1" r="1.15"/><circle cx="673.5" cy="160.7" r="1.15"/><circle cx="678" cy="156.9" r="1.15"/><circle cx="682.5" cy="153.2" r="1.15"/><circle cx="687" cy="149.4" r="1.15"/><circle cx="691.5" cy="145.6" r="1.15"/><circle cx="696" cy="141.8" r="1.15"/><circle cx="700.5" cy="138" r="1.15"/><circle cx="705" cy="134.2" r="1.15"/><circle cx="709.5" cy="130.4" r="1.15"/><circle cx="714" cy="126.6" r="1.15"/><circle cx="718.5" cy="122.9" r="1.15"/><circle cx="723" cy="119.1" r="1.15"/><circle cx="727.5" cy="115.3" r="1.15"/><circle cx="732" cy="111.5" r="1.15"/><circle cx="736.5" cy="107.7" r="1.15"/><circle cx="741" cy="103.9" r="1.15"/><circle cx="745.5" cy="100.1" r="1.15"/><circle cx="750" cy="96.3" r="1.15"/><circle cx="754.6" cy="92.6" r="1.15"/></g>
<path d="M673,131.4 674,130.8 675.3,130.7 676.5,130.9 677.5,131.5 678.3,132.2 678.7,132.9 678.7,133.5 678.4,133.7 677.8,133.6 677.2,133 676.7,132.1 676.4,131 676.5,129.7 676.9,128.6 677.7,127.7 678.8,127.1 680,127 681.2,127.2 682.2,127.8 683,128.5 683.4,129.2 683.4,129.7 683.1,130 682.6,129.8 682,129.3 681.4,128.4 681.2,127.2 681.2,126 681.6,124.9 682.4,124 683.5,123.4 684.7,123.3 685.9,123.5 686.9,124.1 687.7,124.8 688.1,125.5 688.1,126 687.8,126.3 687.3,126.1 686.7,125.6 686.2,124.7 685.9,123.5 685.9,122.3 686.3,121.2 687.1,120.3 688.2,119.7 689.4,119.6 690.6,119.8 691.6,120.4 692.4,121.1 692.8,121.8 692.8,122.3 692.5,122.6 692,122.4 691.4,121.9 690.9,121 690.6,119.8 690.6,118.6 691.1,117.4 691.8,116.5 692.9,116 694.1,115.9 695.3,116.1 696.4,116.6 697.1,117.4 697.5,118.1 697.5,118.6 697.2,118.9 696.7,118.7 696.1,118.2 695.6,117.2 695.3,116.1 695.4,114.9 695.8,113.7 696.6,112.8 697.6,112.3 698.8,112.1 700,112.4 701.1,112.9 701.8,113.6 702.2,114.4 702.2,114.9 701.9,115.1 701.4,115 700.8,114.4 700.3,113.5 700,112.4 700.1,111.2 700.5,110 701.3,109.1 702.3,108.6 703.5,108.4 704.7,108.7 705.8,109.2 706.5,109.9 706.9,110.6 707,111.2 706.7,111.4 706.1,111.3 705.5,110.7 705,109.8 704.7,108.7 704.8,107.5 705.2,106.3 706,105.4 707,104.9 708.3,104.7 709.5,105 710.5,105.5 711.3,106.2 711.7,106.9 711.7,107.5 711.4,107.7 710.8,107.6 710.2,107 709.7,106.1 709.4,105 709.5,103.7 709.9,102.6 710.7,101.7 711.8,101.2 713,101 714.2,101.3 715.2,101.8 716,102.5 716.4,103.2 716.4,103.8 716.1,104 715.6,103.9 715,103.3 714.4,102.4 714.2,101.3 714.2,100 714.6,98.9 715.4,98 716.5,97.4 717.7,97.3 718.9,97.5 719.9,98.1 720.7,98.8 721.1,99.5 721.1,100.1 720.8,100.3 720.3,100.1 719.7,99.6 719.2,98.7 718.9,97.5 718.9,96.3 719.3,95.2 720.1,94.3 721.2,93.7 722.4,93.6 723.6,93.8 724.6,94.4 725.4,95.1 725.8,95.8 725.8,96.3 725.5,96.6 725,96.4 724.4,95.9 723.9,95 723.6,93.8 723.6,92.6 724.1,91.5 724.8,90.6 725.9,90 727.1,89.9 728.3,90.1 729.4,90.7 730.1,91.4 730.5,92.1 730.5,92.6 730.2,92.9 729.7,92.7 729.1,92.2 728.6,91.3 728.3,90.1 728.4,88.9 728.8,87.8 729.6,86.9 730.6,86.3 731.8,86.2 733,86.4 734.1,87 734.8,87.7 735.2,88.4 735.2,88.9 734.9,89.2 734.4,89 733.8,88.5 733.3,87.6 733,86.4 733.1,85.2 733.5,84 734.3,83.1 735.3,82.6 736.5,82.4 737.7,82.7 738.8,83.2 739.5,84 739.9,84.7 740,85.2 739.7,85.4 739.1,85.3 738.5,84.7 738,83.8 737.7,82.7 737.8,81.5 738.2,80.3 739,79.4 740,78.9 741.3,78.7 742.5,79 743.5,79.5 744.3,80.2 744.7,80.9 744.7,81.5 744.4,81.7 743.8,81.6 743.2,81 742.7,80.1 742.4,79 742.5,77.8 742.9,76.6 743.7,75.7 744.8,75.2 746,75 747.2,75.3 748.2,75.8 749,76.5" fill="none" stroke="#14762a" stroke-width="2.9" stroke-linecap="round"/><path d="M673,131.4 674,130.8 675.3,130.7 676.5,130.9 677.5,131.5 678.3,132.2 678.7,132.9 678.7,133.5 678.4,133.7 677.8,133.6 677.2,133 676.7,132.1 676.4,131 676.5,129.7 676.9,128.6 677.7,127.7 678.8,127.1 680,127 681.2,127.2 682.2,127.8 683,128.5 683.4,129.2 683.4,129.7 683.1,130 682.6,129.8 682,129.3 681.4,128.4 681.2,127.2 681.2,126 681.6,124.9 682.4,124 683.5,123.4 684.7,123.3 685.9,123.5 686.9,124.1 687.7,124.8 688.1,125.5 688.1,126 687.8,126.3 687.3,126.1 686.7,125.6 686.2,124.7 685.9,123.5 685.9,122.3 686.3,121.2 687.1,120.3 688.2,119.7 689.4,119.6 690.6,119.8 691.6,120.4 692.4,121.1 692.8,121.8 692.8,122.3 692.5,122.6 692,122.4 691.4,121.9 690.9,121 690.6,119.8 690.6,118.6 691.1,117.4 691.8,116.5 692.9,116 694.1,115.9 695.3,116.1 696.4,116.6 697.1,117.4 697.5,118.1 697.5,118.6 697.2,118.9 696.7,118.7 696.1,118.2 695.6,117.2 695.3,116.1 695.4,114.9 695.8,113.7 696.6,112.8 697.6,112.3 698.8,112.1 700,112.4 701.1,112.9 701.8,113.6 702.2,114.4 702.2,114.9 701.9,115.1 701.4,115 700.8,114.4 700.3,113.5 700,112.4 700.1,111.2 700.5,110 701.3,109.1 702.3,108.6 703.5,108.4 704.7,108.7 705.8,109.2 706.5,109.9 706.9,110.6 707,111.2 706.7,111.4 706.1,111.3 705.5,110.7 705,109.8 704.7,108.7 704.8,107.5 705.2,106.3 706,105.4 707,104.9 708.3,104.7 709.5,105 710.5,105.5 711.3,106.2 711.7,106.9 711.7,107.5 711.4,107.7 710.8,107.6 710.2,107 709.7,106.1 709.4,105 709.5,103.7 709.9,102.6 710.7,101.7 711.8,101.2 713,101 714.2,101.3 715.2,101.8 716,102.5 716.4,103.2 716.4,103.8 716.1,104 715.6,103.9 715,103.3 714.4,102.4 714.2,101.3 714.2,100 714.6,98.9 715.4,98 716.5,97.4 717.7,97.3 718.9,97.5 719.9,98.1 720.7,98.8 721.1,99.5 721.1,100.1 720.8,100.3 720.3,100.1 719.7,99.6 719.2,98.7 718.9,97.5 718.9,96.3 719.3,95.2 720.1,94.3 721.2,93.7 722.4,93.6 723.6,93.8 724.6,94.4 725.4,95.1 725.8,95.8 725.8,96.3 725.5,96.6 725,96.4 724.4,95.9 723.9,95 723.6,93.8 723.6,92.6 724.1,91.5 724.8,90.6 725.9,90 727.1,89.9 728.3,90.1 729.4,90.7 730.1,91.4 730.5,92.1 730.5,92.6 730.2,92.9 729.7,92.7 729.1,92.2 728.6,91.3 728.3,90.1 728.4,88.9 728.8,87.8 729.6,86.9 730.6,86.3 731.8,86.2 733,86.4 734.1,87 734.8,87.7 735.2,88.4 735.2,88.9 734.9,89.2 734.4,89 733.8,88.5 733.3,87.6 733,86.4 733.1,85.2 733.5,84 734.3,83.1 735.3,82.6 736.5,82.4 737.7,82.7 738.8,83.2 739.5,84 739.9,84.7 740,85.2 739.7,85.4 739.1,85.3 738.5,84.7 738,83.8 737.7,82.7 737.8,81.5 738.2,80.3 739,79.4 740,78.9 741.3,78.7 742.5,79 743.5,79.5 744.3,80.2 744.7,80.9 744.7,81.5 744.4,81.7 743.8,81.6 743.2,81 742.7,80.1 742.4,79 742.5,77.8 742.9,76.6 743.7,75.7 744.8,75.2 746,75 747.2,75.3 748.2,75.8 749,76.5" fill="none" stroke="#2ab040" stroke-width="2.0" stroke-linecap="round"/>
<path d="M700.4,168.4 701.4,168.1 702.3,168.2 703,168.6 703.5,169.5 703.8,170.6 704.2,171.7 704.6,172.7 705.2,173.4 705.9,173.7 706.9,173.6 707.9,173.3 709,172.8 710.1,172.4 711,172.3 711.8,172.5 712.3,173.2 712.8,174.2 713.1,175.4 713.5,176.4 714,177.3 714.7,177.8 715.5,177.9 716.5,177.6 717.6,177.2 718.7,176.7 719.7,176.4 720.5,176.5 721.2,177 721.7,177.9 722.1,179 722.4,180.1 722.9,181.1 723.4,181.8 M704.2,165 705.2,164.7 706.4,164.3 707.5,164 708.5,163.9 709.3,164.1 709.9,164.8 710.3,165.8 710.6,167 710.9,168.2 711.3,169.1 712,169.6 712.8,169.8 713.9,169.6 715,169.2 716.2,168.8 717.2,168.6 718,168.9 718.6,169.5 719,170.5 719.3,171.7 719.6,172.9 720,173.8 720.6,174.4 721.5,174.6 722.5,174.4 723.7,174 724.8,173.6 M712,156.1 712.3,157.3 712.6,158.5 713,159.4 713.6,160 714.4,160.2 715.5,160.1 716.6,159.7 717.8,159.3 718.8,159.1 719.7,159.3 720.3,159.9 720.7,160.9 721,162 721.3,163.2 721.7,164.2 722.3,164.9 723.1,165.1 724.1,165 725.3,164.6 726.5,164.2 727.5,164 728.4,164.2 729,164.7 M719.5,150.8 719.8,151.9 720.1,153.1 720.5,154 721.2,154.6 722,154.8 723,154.7 724.1,154.3 725.3,153.9 726.3,153.7 727.2,153.8 727.8,154.3 728.3,155.2 728.6,156.4 728.9,157.6 729.2,158.6 729.8,159.3 730.6,159.5 731.6,159.5 732.7,159.1 733.8,158.7 734.9,158.4 735.8,158.5 736.5,158.9 737,159.7 737.3,160.8 737.6,162 738,163.1 738.5,163.9 739.2,164.3 740.1,164.2 741.2,163.9 M725.3,141.2 726.1,141.5 726.6,142.3 727,143.3 727.3,144.5 727.7,145.6 728.2,146.5 728.9,146.9 729.8,147 730.8,146.7 732,146.2 733.1,145.9 734.1,145.8 734.9,146.1 735.5,146.8 735.9,147.8 736.2,149 736.5,150.1 737,151 737.7,151.5 738.6,151.6 739.7,151.3 740.8,150.8 741.9,150.5 742.9,150.3 743.7,150.6 744.3,151.3 744.7,152.3 M730,138.9 730.8,139.2 731.8,139.1 732.9,138.8 734,138.4 735.1,138.1 736,138.2 736.7,138.6 737.1,139.5 737.5,140.6 737.7,141.8 738.1,142.8 738.6,143.6 739.3,144 740.2,144 741.3,143.8 742.4,143.4 743.5,143 744.5,143 745.2,143.3 745.8,144 746.1,145.1 746.4,146.2 746.7,147.4 747.1,148.3 747.8,148.8 748.6,148.9 749.7,148.7 750.8,148.3 751.9,148 753,147.8 753.8,148 754.4,148.6 754.8,149.6 M737,131.2 737.6,131.7 738.5,131.9 739.5,131.7 740.6,131.2 741.7,130.8 742.7,130.6 743.6,130.7 744.2,131.1 744.7,132 745,133.1 745.4,134.3 745.8,135.3 746.3,136 747,136.3 748,136.2 749,135.9 750.2,135.4 751.2,135.1 752.2,135 752.9,135.3 753.5,136 753.9,137 754.2,138.2 754.5,139.3 755,140.1 755.7,140.6 756.5,140.7 757.5,140.5 758.6,140.1 759.7,139.6 760.7,139.4 761.6,139.5 762.2,140.1 M745.4,125.8 746.3,125.9 747.3,125.7 748.4,125.2 749.5,124.8 750.5,124.6 751.3,124.7 752,125.3 752.4,126.2 752.8,127.3 753.1,128.5 753.5,129.4 754.1,130.1 754.9,130.3 755.8,130.2 756.9,129.8 758,129.3 759.1,129 760,129 760.7,129.4 761.2,130.2 761.6,131.2 761.9,132.4 762.3,133.5 762.8,134.3 763.5,134.7 764.4,134.7 765.5,134.4 766.6,133.9 767.7,133.5 768.7,133.4 769.4,133.6 M754.8,117.1 755.5,117.5 756,118.4 756.4,119.5 756.8,120.6 757.2,121.7 757.8,122.4 758.6,122.7 759.5,122.6 760.6,122.2 761.7,121.7 762.8,121.3 763.7,121.2 764.5,121.6 765,122.3 765.5,123.3 765.8,124.5 766.2,125.6 766.8,126.4 767.5,126.8 768.4,126.8 769.4,126.5 770.5,126 771.6,125.6 772.6,125.4 773.4,125.6 774,126.2 774.5,127.2 774.8,128.4 M758,112.6 758.7,113 759.7,112.9 760.8,112.6 761.9,112.1 763,111.8 764,111.7 764.7,112.1 765.3,112.9 765.6,113.9 766,115.1 766.3,116.2 766.8,117 767.5,117.5 768.5,117.5 769.5,117.2 770.7,116.7 771.8,116.4 772.8,116.3 773.5,116.5 774.1,117.3 774.5,118.3 774.8,119.5 775.2,120.6 M765.7,107 766.8,106.6 767.9,106.2 768.9,105.9 769.8,106 770.5,106.5 770.9,107.3 771.3,108.4 771.6,109.6 771.9,110.6 772.5,111.4 773.2,111.7 774.1,111.7 775.1,111.4 776.3,111 777.4,110.6 778.3,110.5 779.1,110.8 779.6,111.5 780,112.5 780.3,113.7 780.6,114.8 781.1,115.7 781.7,116.2 782.5,116.4 783.5,116.2 784.6,115.8 785.8,115.4 786.8,115.2 787.6,115.3" fill="none" stroke="#aebcae" stroke-width="0.85"/>
<path d="M678.5,153.3 L698.1,166.8 L697.3,168 L703.8,169.2 L700.4,163.5 L699.6,164.7 L679.9,151.2Z M683,151.5 L703.1,165.4 L702.3,166.6 L708.8,167.8 L705.4,162.1 L704.6,163.3 L684.5,149.3Z M686.1,147.8 L702.5,161 L701.7,162.1 L708,163.7 L705,157.9 L704.2,159 L687.7,145.8Z M688.6,143.4 L705.1,155.8 L704.2,156.9 L710.6,158.4 L707.5,152.6 L706.6,153.7 L690.1,141.3Z M692,140.1 L709.4,154.3 L708.5,155.4 L714.9,157.1 L711.9,151.2 L711.1,152.3 L693.6,138.1Z M696.6,138.4 L714.1,152 L713.3,153.1 L719.7,154.7 L716.6,148.8 L715.7,150 L698.2,136.4Z M701,136.4 L716.7,148.7 L715.8,149.8 L722.2,151.4 L719.1,145.6 L718.3,146.7 L702.6,134.3Z M704,132.6 L721.3,144.9 L720.4,146.1 L726.9,147.4 L723.6,141.7 L722.8,142.8 L705.5,130.4Z M706.5,128.2 L722,139.9 L721.1,141 L727.5,142.5 L724.4,136.7 L723.6,137.9 L708.1,126.1Z M710.2,125.3 L727,137.3 L726.2,138.4 L732.6,139.7 L729.3,134 L728.5,135.2 L711.7,123.1Z M714.8,123.6 L728.1,134.3 L727.2,135.4 L733.6,137 L730.6,131.2 L729.7,132.3 L716.5,121.6Z M719,121.2 L734.1,132.5 L733.2,133.6 L739.7,135.1 L736.5,129.3 L735.6,130.4 L720.6,119.2Z M721.8,117.2 L734.8,126.7 L734,127.9 L740.4,129.2 L737.2,123.5 L736.3,124.6 L723.4,115.1Z M724.5,113 L739.9,123.9 L739.1,125.1 L745.5,126.3 L742.2,120.6 L741.4,121.8 L726,110.9Z M728.4,110.4 L743.6,121.4 L742.7,122.6 L749.2,123.9 L745.9,118.2 L745.1,119.3 L729.9,108.3Z M733.1,108.8 L748.5,119.2 L747.7,120.3 L754.2,121.5 L750.8,115.9 L750,117 L734.6,106.6Z M737,106.1 L751.3,115.9 L750.5,117.1 L757,118.2 L753.5,112.6 L752.7,113.8 L738.5,103.9Z M739.6,101.9 L752.7,112.2 L751.9,113.3 L758.3,114.8 L755.2,109 L754.3,110.1 L741.2,99.8Z M742.5,97.9 L756,108 L755.1,109.2 L761.5,110.6 L758.4,104.8 L757.5,106 L744.1,95.9Z M746.6,95.5 L758.1,104.6 L757.3,105.7 L763.6,107.3 L760.6,101.4 L759.7,102.5 L748.2,93.5Z M751.3,93.8 L763.1,102.9 L762.2,104 L768.6,105.5 L765.5,99.7 L764.6,100.8 L752.8,91.8Z" fill="#25aa3b" stroke="#15852a" stroke-width="0.5"/>
<path d="M638.3,140.1 637.7,139.4 636.5,139.9 635.1,140.9 634.3,140.5 634.1,139 634.2,137 634.1,135.4 633.4,134.9 632.1,135.5 630.6,136.7 629.1,137.6 628.2,137.5 627.9,136.2 M640.4,156 639.5,155.8 638.9,156.5 638.7,158.2 638.2,159.3 637.4,159.2 636.1,158.2 634.8,156.9 633.7,156.1 632.9,156.3 632.5,157.5 M655,166.2 654.2,167 653.8,167.9 654.8,168.7 656.5,169.4 657.5,170.2 657.3,171.1 655.9,172 654.2,172.9 653.1,173.8 653.1,174.6 654.4,175.4 656.1,176.1 M664.1,165.8 663.8,166.9 663.8,167.9 665.1,168.1 667,168 668.2,168.2 668.3,169.1 667.5,170.6 666.4,172.2 665.9,173.5 666.5,174.1 668.1,174.2 670.1,174 671.6,174.1 M746,73.5 747,74 747.9,73.9 748.3,72.5 748.5,70.7 749,69.8 750,70.1 751.3,71.3 752.7,72.6 753.8,73.2 754.4,72.6 754.8,71.1 754.9,69.1 755.3,67.7 756.1,67.4 757.2,68.2 758.6,69.6 759.8,70.6" fill="none" stroke="#1c8f31" stroke-width="2.0" stroke-linecap="round" stroke-linejoin="round"/><path d="M638.3,140.1 637.7,139.4 636.5,139.9 635.1,140.9 634.3,140.5 634.1,139 634.2,137 634.1,135.4 633.4,134.9 632.1,135.5 630.6,136.7 629.1,137.6 628.2,137.5 627.9,136.2 M640.4,156 639.5,155.8 638.9,156.5 638.7,158.2 638.2,159.3 637.4,159.2 636.1,158.2 634.8,156.9 633.7,156.1 632.9,156.3 632.5,157.5 M655,166.2 654.2,167 653.8,167.9 654.8,168.7 656.5,169.4 657.5,170.2 657.3,171.1 655.9,172 654.2,172.9 653.1,173.8 653.1,174.6 654.4,175.4 656.1,176.1 M664.1,165.8 663.8,166.9 663.8,167.9 665.1,168.1 667,168 668.2,168.2 668.3,169.1 667.5,170.6 666.4,172.2 665.9,173.5 666.5,174.1 668.1,174.2 670.1,174 671.6,174.1 M746,73.5 747,74 747.9,73.9 748.3,72.5 748.5,70.7 749,69.8 750,70.1 751.3,71.3 752.7,72.6 753.8,73.2 754.4,72.6 754.8,71.1 754.9,69.1 755.3,67.7 756.1,67.4 757.2,68.2 758.6,69.6 759.8,70.6" fill="none" stroke="#35b84e" stroke-width="0.80" stroke-linecap="round" stroke-linejoin="round" opacity="0.7"/>
<linearGradient id="ga3" gradientUnits="userSpaceOnUse" x1="803" y1="0" x2="854.6" y2="0"><stop offset="0" stop-color="#19a8e8"/><stop offset="0.8" stop-color="#b22a5a"/><stop offset="1" stop-color="#b22a5a"/></linearGradient><path d="M803,111.7 H834 V108.4 L854.6,115 L834,121.6 V118.3 H803 Z" fill="url(#ga3)"/>
<path d="M809.4,175.8 L831.4,165.5 L846.9,144.8 L865,126.7 L893.4,117.7 L906.4,100.9 L924.5,82.8 L955.5,71.1 L969.7,51.7 L987.8,32.3 L1015,23.3 L1035.7,2.6" fill="none" stroke="#4fd657" stroke-width="9" stroke-linejoin="round" opacity="0.72"/>
<path d="M809.4,175.8 L831.4,165.5 L846.9,144.8 L865,126.7 L893.4,117.7 L906.4,100.9 L924.5,82.8 L955.5,71.1 L969.7,51.7 L987.8,32.3 L1015,23.3 L1035.7,2.6" fill="none" stroke="#8af07a" stroke-width="3.2" stroke-linejoin="round" opacity="0.6"/>
<linearGradient id="hgold" x1="0" y1="0" x2="0" y2="1"><stop offset="0" stop-color="#d0a524"/><stop offset="0.35" stop-color="#fbe24c"/><stop offset="0.65" stop-color="#f0c431"/><stop offset="1" stop-color="#c4961c"/></linearGradient>
<rect x="-10.6" y="-4.3" width="21.2" height="8.5" rx="4.3" transform="translate(839.9,155.2) rotate(-50)" fill="url(#hgold)"/>
<rect x="-10.9" y="-4.3" width="21.7" height="8.5" rx="4.3" transform="translate(855.9,133.2) rotate(-36)" fill="url(#hgold)"/>
<rect x="-9.1" y="-4.3" width="18.1" height="8.5" rx="4.3" transform="translate(902.5,107.3) rotate(-52)" fill="url(#hgold)"/>
<rect x="-9.3" y="-4" width="18.6" height="8" rx="4" transform="translate(916.7,86.6) rotate(-28)" fill="url(#hgold)"/>
<rect x="-10.6" y="-4.3" width="21.2" height="8.5" rx="4.3" transform="translate(962.7,60) rotate(-50)" fill="url(#hgold)"/>
<rect x="-10.9" y="-4.3" width="21.7" height="8.5" rx="4.3" transform="translate(978.8,38.3) rotate(-35)" fill="url(#hgold)"/>
<rect x="-11.6" y="-4.6" width="23.3" height="9.1" rx="4.6" transform="translate(1025.8,12.2) rotate(-48)" fill="url(#hgold)"/>
<rect x="-5.7" y="-3.1" width="11.4" height="6.3" rx="3.1" transform="translate(1009.8,26.6) rotate(-18)" fill="url(#hgold)"/>
<rect x="-5.2" y="-3.1" width="10.3" height="6.3" rx="3.1" transform="translate(826.2,168.6) rotate(-25)" fill="url(#hgold)"/>
<rect x="-5.2" y="-3.1" width="10.3" height="6.3" rx="3.1" transform="translate(888.3,121.5) rotate(-25)" fill="url(#hgold)"/>
<rect x="-5.2" y="-3.1" width="10.3" height="6.3" rx="3.1" transform="translate(947.7,75) rotate(-20)" fill="url(#hgold)"/>
<circle cx="911.5" cy="97.7" r="22.6" fill="#f26d6d" fill-opacity="0.52" stroke="#e3101c" stroke-width="2.2"/>
<path d="M916.7,75.6 L1052,53 M914.2,120.2 L972.3,139.6" stroke="#e3101c" stroke-width="2.2" fill="none" stroke-linecap="round"/>
<path d="M1166.5,39 1166.4,38.2 1165.9,37.3 1165,36.5 1164.3,35.6 1163.9,34.8 1164.1,33.9 1164.8,33.1 1165.6,32.3 1166.3,31.4 1166.5,30.6 1166.2,29.7 1165.5,28.9 M1162.4,69.6 1162.7,70.7 1162.8,71.7 1162.3,72.4 1161.4,72.9 1160.3,73.3 1159.2,73.7 1158.6,74.3 1158.4,75.2 1158.6,76.3 1159,77.4 1159.2,78.5 1159,79.3 1158.2,79.9 1157.2,80.3 M1172.8,42.1 1172.7,41.2 1172.1,40.3 1171.3,39.5 1170.6,38.6 1170.3,37.7 1170.6,36.9 1171.4,36.1 1172.2,35.3 1172.9,34.4 1173.1,33.6 1172.7,32.7 1172,31.9 M1168,64.2 1167.9,65.1 1168.1,66.1 1168.5,67.2 1168.6,68.2 1168.4,69 1167.7,69.6 1166.7,69.9 1165.6,70.3 1164.7,70.7 1164.2,71.3 1164.1,72.2 1164.4,73.3 M1182.3,39.3 1182.8,38.5 1182.8,37.7 1182.4,36.8 1181.7,35.8 1181.1,34.9 1180.9,34 1181.3,33.2 1182.1,32.5 1183,31.9 1183.8,31.2 1184.2,30.4 1184,29.5 1183.5,28.6 1182.8,27.7 1182.4,26.7 1182.3,25.9 M1176.2,60.3 1176.3,61.3 1176,62.2 1175.3,62.7 1174.3,62.9 1173.2,63.1 1172.2,63.4 1171.6,63.9 1171.3,64.8 1171.4,65.8 1171.6,67 1171.6,68 1171.3,68.7 1170.6,69.2 1169.5,69.5 M1187.3,38.4 1188.1,37.7 1188.5,36.9 1188.3,36 1187.7,35 1187,34 1186.6,33.1 1186.7,32.3 1187.3,31.5 1188.2,30.8 1189.1,30.1 1189.7,29.4 1189.8,28.6 M1182,54.8 1182.1,55.9 1182.2,57.1 1182,58.1 1181.5,58.7 1180.5,59 1179.3,59.1 1178.2,59.3 1177.3,59.8 1177,60.6 1177,61.7 1177.1,62.9 1177,63.9 1176.6,64.7 M1194,36.5 1194.5,35.7 1194.4,34.9 1193.8,33.9 1193.2,32.9 1192.7,31.9 1192.7,31.1 1193.3,30.3 1194.2,29.6 1195.2,29 1195.9,28.2 1196,27.4 M1188.8,50 1187.9,50.4 1187.5,51.1 1187.4,52.1 1187.5,53.3 1187.5,54.5 1187.1,55.3 1186.3,55.7 1185.2,55.9 1184,56 1183,56.3 1182.4,56.9 1182.2,57.8 1182.2,59 1182.3,60.2 M1201.5,36.3 1201.7,35.5 1201.4,34.6 1200.9,33.6 1200.5,32.6 1200.4,31.7 1200.7,31 1201.5,30.4 1202.5,29.9 1203.5,29.3 1204.1,28.7 1204.2,27.9 1203.9,26.9 1203.4,25.9 1203,24.9 1202.9,24 1203.3,23.3 1204.2,22.7 M1197.1,46.6 1196.1,46.8 1194.9,46.8 1193.8,46.9 1193,47.3 1192.6,48.1 1192.5,49.1 1192.5,50.3 1192.4,51.4 1192,52.1 1191.1,52.5 1190,52.6 M1205.2,35.2 1205,34.2 1205.3,33.4 1206.1,32.8 1207.2,32.4 1208.2,31.9 1209,31.3 1209.2,30.5 1209,29.5 1208.5,28.3 1208.2,27.3 1208.3,26.4 1208.9,25.7 1209.8,25.2 1211,24.8 1211.9,24.2 M1202.2,40.1 1201.6,40.6 1201.3,41.5 1201.2,42.6 1201.1,43.7 1200.8,44.6 1200.2,45.1 1199.3,45.3 1198.2,45.2 1197.1,45.2 1196.2,45.4" fill="none" stroke="#b4c2b4" stroke-width="0.7"/><path d="M1159.9,72.2 L1166.2,37.3 L1167.2,37.5 L1165.9,33.7 L1163.4,36.8 L1164.4,37 L1158.1,71.8Z M1163.3,69.8 L1170,37.4 L1170.9,37.6 L1169.7,33.8 L1167.2,36.8 L1168.1,37 L1161.5,69.4Z M1166.7,67.4 L1172.3,41.2 L1173.3,41.4 L1172.1,37.5 L1169.5,40.6 L1170.5,40.8 L1164.8,67Z M1170.1,65.1 L1175.7,41.2 L1176.6,41.4 L1175.5,37.6 L1172.9,40.6 L1173.8,40.8 L1168.2,64.6Z M1173.4,62.8 L1182.1,38.5 L1183,38.8 L1182.4,34.9 L1179.4,37.5 L1180.3,37.8 L1171.6,62.1Z M1176.8,60.4 L1185.1,38.5 L1186,38.8 L1185.4,34.9 L1182.4,37.5 L1183.3,37.8 L1175,59.7Z M1180.2,58 L1187.4,38.1 L1188.3,38.4 L1187.7,34.5 L1184.8,37.1 L1185.7,37.4 L1178.4,57.4Z M1183.6,55.7 L1191.6,38 L1192.5,38.4 L1192.2,34.5 L1189,36.9 L1189.9,37.3 L1181.8,54.9Z M1187,53.3 L1193.4,36.4 L1194.3,36.8 L1193.8,32.8 L1190.8,35.4 L1191.7,35.7 L1185.2,52.6Z M1190.3,50.9 L1196.7,37.6 L1197.6,38.1 L1197.4,34.1 L1194.1,36.4 L1195,36.8 L1188.6,50.1Z M1193.7,48.6 L1200.3,36.4 L1201.1,36.9 L1201.1,32.9 L1197.8,35.1 L1198.6,35.5 L1192,47.7Z M1197.1,46.2 L1202.5,36.3 L1203.4,36.7 L1203.4,32.7 L1200,34.9 L1200.9,35.4 L1195.4,45.3Z M1200.4,43.9 L1205.3,36.4 L1206.1,36.9 L1206.5,32.9 L1203,34.8 L1203.8,35.3 L1198.8,42.9Z M1203.8,41.5 L1208.5,34.4 L1209.3,35 L1209.6,31 L1206.1,32.9 L1206.9,33.4 L1202.2,40.5Z" fill="#3cb354" stroke="#17882c" stroke-width="0.35"/>
<path d="M986.2,215.8 986.5,216.8 987.1,217.4 988,217.6 989.1,217.5 990.3,217.4 991.2,217.6 991.9,218.1 992.2,219 992.3,220.2 992.5,221.3 992.9,222.1 993.6,222.6 M984.4,203.3 983.6,202.8 982.6,202.4 981.5,202.1 980.6,201.6 980.2,200.9 980.2,199.9 980.5,198.8 980.7,197.7 980.7,196.8 980.2,196.1 979.3,195.7 978.2,195.3 M995.4,213.5 996.5,213.4 997.6,213.3 998.5,213.6 999,214.3 999.2,215.3 999.4,216.5 999.6,217.5 1000.1,218.2 1001,218.4 1002.1,218.4 1003.2,218.2 1004.3,218.2 1005,218.6 1005.4,219.4 1005.6,220.5 1005.8,221.7 M990.4,200.8 989.6,200.2 989.2,199.4 989.4,198.5 989.8,197.4 990.2,196.3 990.2,195.4 989.7,194.6 988.8,194.1 987.6,193.7 986.7,193.2 986.1,192.6 986,191.7 986.3,190.6 M1003.6,210.9 1004.7,210.9 1005.6,211.2 1006.1,211.8 1006.3,212.8 1006.4,214 1006.5,215.1 1007,215.9 1007.7,216.2 1008.8,216.3 1009.9,216.2 1011,216.3 1011.8,216.6 1012.2,217.4 1012.3,218.5 M999.3,196.8 999.5,195.8 999.3,195 998.6,194.4 997.5,193.9 996.4,193.4 995.6,192.8 995.4,192 995.6,191 996,189.9 996.4,188.8 996.3,187.9 995.8,187.2 994.8,186.7 M1011.1,206.2 1012.2,206.3 1013,206.6 1013.4,207.4 1013.6,208.5 1013.7,209.6 1014,210.6 1014.6,211.3 1015.5,211.5 1016.6,211.4 1017.8,211.3 1018.8,211.5 1019.4,212.1 1019.7,213 1019.8,214.2 1020,215.3 1020.4,216.1 M1005.5,194.1 1005.1,193.4 1005,192.5 1005.4,191.5 1005.8,190.5 1006,189.5 1005.8,188.7 1005.2,188.1 1004.2,187.6 1003.1,187.2 1002.3,186.7 1001.8,186.1 1001.8,185.2 1002.1,184.2 M1017.7,205.1 1017.9,206.1 1018.4,206.8 1019.4,207.1 1020.5,207.1 1021.7,207.2 1022.6,207.5 1023.1,208.2 1023.3,209.2 1023.3,210.4 1023.4,211.5 1023.8,212.3 1024.6,212.7 1025.7,212.9 1026.9,212.9 M1015.5,189.7 1014.9,189 1014,188.5 1012.8,188 1011.9,187.5 1011.4,186.8 1011.4,185.8 1011.8,184.7 1012.2,183.6 1012.3,182.6 1011.9,181.8 M1028,201.8 1029.1,201.9 1029.8,202.3 1030.3,203 1030.4,204.1 1030.5,205.3 1030.7,206.3 1031.2,207 1032,207.2 1033.1,207.2 1034.3,207.2 1035.3,207.3 1035.9,207.8 1036.3,208.7 1036.4,209.8 1036.5,210.9 1036.7,211.9 1037.3,212.4 M1023.3,186.4 1022.8,185.6 1021.8,185 1020.7,184.5 1019.9,183.8 1019.6,183 1019.8,182 1020.4,181 1020.9,179.9 1021,179 1020.6,178.2 1019.7,177.6 1018.6,177" fill="none" stroke="#b4c2b4" stroke-width="0.7"/><path d="M978.5,206.4 L984.1,212.9 L983.2,213.7 L987.3,214.8 L986.9,210.6 L986,211.3 L980.3,204.9Z M982.4,204.8 L989.2,211.7 L988.3,212.5 L992.5,213.3 L991.7,209.1 L990.9,210 L984.1,203.1Z M986.3,203 L993.4,210.9 L992.5,211.7 L996.7,212.6 L996.1,208.4 L995.2,209.2 L988,201.4Z M990.1,201.2 L997.3,210.2 L996.4,210.9 L1000.5,212.1 L1000.1,207.9 L999.2,208.7 L992,199.7Z M994,199.5 L1001.3,208.8 L1000.4,209.5 L1004.4,210.8 L1004.2,206.5 L1003.2,207.3 L995.9,198Z M997.9,197.8 L1005.3,207.3 L1004.3,208 L1008.4,209.3 L1008.1,205.1 L1007.1,205.8 L999.7,196.3Z M1001.8,196.1 L1008.6,204.2 L1007.7,205 L1011.8,206.1 L1011.3,201.9 L1010.4,202.6 L1003.6,194.6Z M1005.6,194.4 L1012.1,202.4 L1011.1,203.1 L1015.2,204.4 L1014.9,200.1 L1013.9,200.9 L1007.5,192.9Z M1009.4,192.6 L1016,202.2 L1015,202.9 L1019,204.5 L1019,200.2 L1018,200.9 L1011.4,191.2Z M1013.4,190.9 L1020.8,200.1 L1019.9,200.8 L1023.9,202 L1023.6,197.8 L1022.6,198.6 L1015.3,189.4Z M1017.3,189.2 L1025.7,200 L1024.7,200.7 L1028.8,202 L1028.5,197.8 L1027.6,198.5 L1019.1,187.7Z M1021.1,187.4 L1028.6,199.3 L1027.6,200 L1031.5,201.6 L1031.6,197.4 L1030.6,198 L1023.1,186.1Z" fill="#1f9a35" stroke="#17882c" stroke-width="0.35"/>
<path d="M1103.3,121.8 1103.6,122.6 1103.5,123.5 1103.1,124.7 1102.9,125.7 1102.9,126.6 1103.4,127.3 1104.4,127.8 1105.5,128.1 1106.5,128.6 1107.1,129.2 1107.2,130 1107,131.1 1106.6,132.2 M1112.2,121.3 1112,122.4 1111.8,123.5 1111.8,124.5 1112.1,125.2 1112.9,125.7 1114,125.9 1115.1,126.2 1116,126.6 1116.5,127.2 1116.6,128.1 1116.4,129.2 1116.2,130.3 1116.2,131.3 1116.6,132 1117.5,132.4 M1117.8,114.5 1118.2,115.1 1118.3,116.1 1118.2,117.2 1118.1,118.3 1118.2,119.2 1118.8,119.8 1119.8,120.1 1120.9,120.3 1122,120.5 1122.8,120.9 1123.1,121.6 1123.1,122.7 1123,123.8 1122.9,124.9 1123.2,125.7 1123.8,126.2 1124.8,126.5 M1123.2,108.3 1123.4,109.3 1123.3,110.5 1123.3,111.6 1123.6,112.4 1124.3,112.9 1125.3,113.1 1126.5,113.1 1127.6,113.3 1128.3,113.7 1128.7,114.5 1128.7,115.5 1128.7,116.7 1128.8,117.7 1129.2,118.5 1130,118.9 1131,119 1132.2,119.1 1133.2,119.3 M1131.4,105.5 1131.8,106.3 1132,107.4 1132,108.6 1132.3,109.6 1132.9,110.3 1133.9,110.5 1135,110.4 1136.2,110.4 1137.1,110.7 1137.7,111.3 1137.9,112.4 1138,113.6 1138.1,114.7 M1137.5,99.5 1138.5,99.4 1139.3,99.7 1139.8,100.4 1140.1,101.5 1140.4,102.6 1140.7,103.5 1141.3,104.1 1142.2,104.2 1143.3,104.1 1144.4,103.8 1145.4,103.8 1146.2,104.2 1146.6,104.9 1146.9,106 1147.1,107.1 1147.5,108 M1142.6,91.9 1143.1,92.9 1143.5,94 1144,94.9 1144.6,95.5 1145.5,95.5 1146.6,95.2 1147.7,94.9 1148.7,94.7 1149.5,94.9 1150.1,95.6 1150.5,96.7 M1147.4,86.6 1147.9,87.6 1148.4,88.6 1148.9,89.4 1149.7,89.8 1150.6,89.7 1151.6,89.3 1152.7,88.9 1153.6,88.6 1154.4,88.9 1155,89.6 1155.5,90.6 1156,91.6 1156.6,92.3 1157.4,92.6 1158.3,92.4 1159.4,92 1160.4,91.5 M1155.5,83.8 1156.5,83.2 1157.5,82.9 1158.3,83 1159,83.6 1159.6,84.5 1160.2,85.5 1160.9,86.2 1161.7,86.4 1162.7,86.1 1163.7,85.5 1164.7,85 1165.6,84.8 1166.3,85.1 M1159.1,76.3 1159.9,76.5 1160.7,77.1 1161.3,78 1162,78.9 1162.8,79.4 1163.6,79.4 1164.5,79 1165.4,78.3 1166.3,77.7 1167.2,77.4 1168,77.7 1168.7,78.4 1169.4,79.3 1170.1,80.1 1170.8,80.6 1171.7,80.5 M1162.5,73.9 1163.2,74.4 1164,74.5 1164.9,74.1 1165.8,73.4 1166.7,72.8 1167.6,72.4 1168.4,72.5 1169.1,73.2 1169.9,74.1 1170.6,74.9 1171.4,75.4 1172.2,75.3 1173.1,74.8 1174,74.1 M1167,69.1 1167.8,68.3 1168.6,67.6 1169.4,67.3 1170.2,67.4 1171,68 1171.8,68.8 1172.6,69.6 1173.4,70 1174.2,69.9 1175,69.3 1175.8,68.5 1176.6,67.8 1177.4,67.5 1178.2,67.7" fill="none" stroke="#b4c2b4" stroke-width="0.7"/><path d="M1095.1,99.7 L1101.2,120.1 L1100.4,120.3 L1102.9,123.2 L1103.5,119.4 L1102.7,119.6 L1096.6,99.2Z M1097.7,98.3 L1105.9,117.8 L1105.2,118.2 L1108,120.8 L1108.1,116.9 L1107.4,117.2 L1099.2,97.7Z M1100.3,96.9 L1110.4,120 L1109.7,120.4 L1112.5,122.9 L1112.6,119.1 L1111.9,119.4 L1101.8,96.2Z M1102.9,95.3 L1111.8,114.6 L1111,114.9 L1113.9,117.5 L1113.9,113.6 L1113.2,113.9 L1104.4,94.7Z M1105.5,93.7 L1115.6,113.3 L1114.9,113.6 L1118,116 L1117.8,112.1 L1117.1,112.5 L1106.9,93Z M1108,92.1 L1118.9,108.7 L1118.2,109.1 L1121.5,111.2 L1120.9,107.4 L1120.2,107.8 L1109.3,91.3Z M1110.5,90.5 L1121,107.1 L1120.4,107.5 L1123.6,109.6 L1123.1,105.8 L1122.4,106.2 L1111.9,89.6Z M1113.1,88.9 L1127.1,107.7 L1126.4,108.1 L1129.8,110 L1129,106.2 L1128.4,106.7 L1114.4,87.9Z M1115.6,87.3 L1129.3,104.7 L1128.7,105.2 L1132.1,107 L1131.2,103.2 L1130.6,103.7 L1116.9,86.3Z M1118.2,85.7 L1133.2,99.8 L1132.6,100.4 L1136.3,101.6 L1134.8,98 L1134.3,98.6 L1119.3,84.5Z M1120.7,84.1 L1135.9,98.3 L1135.4,98.9 L1139,100.1 L1137.6,96.5 L1137,97.1 L1121.8,82.9Z M1123.2,82.4 L1139.3,97 L1138.7,97.6 L1142.4,98.8 L1140.9,95.3 L1140.4,95.9 L1124.3,81.2Z M1125.8,80.8 L1140.6,91.3 L1140.2,91.9 L1143.9,92.6 L1142,89.3 L1141.5,90 L1126.7,79.5Z M1128.3,79.2 L1145.4,91.2 L1144.9,91.8 L1148.7,92.5 L1146.8,89.2 L1146.3,89.8 L1129.3,77.9Z M1130.9,77.6 L1145.4,86 L1145,86.6 L1148.8,87 L1146.6,83.9 L1146.2,84.6 L1131.7,76.2Z M1133.5,75.9 L1149.3,84.3 L1148.9,85 L1152.8,85.2 L1150.4,82.1 L1150,82.8 L1134.2,74.5Z M1136,74.3 L1154.2,82.4 L1153.8,83.1 L1157.7,83 L1155.1,80.2 L1154.8,80.9 L1136.7,72.8Z M1138.6,72.7 L1156.5,79.5 L1156.3,80.2 L1160.1,80 L1157.4,77.3 L1157.1,78 L1139.1,71.2Z M1141.1,71 L1157.3,76.4 L1157.1,77.1 L1160.9,76.7 L1158.1,74.1 L1157.8,74.8 L1141.6,69.5Z M1143.6,69.4 L1159.2,75.1 L1158.9,75.8 L1162.7,75.5 L1160,72.8 L1159.7,73.6 L1144.2,67.9Z M1146.2,67.8 L1160.8,71.9 L1160.5,72.7 L1164.3,72.1 L1161.4,69.6 L1161.2,70.4 L1146.6,66.2Z M1148.8,66.1 L1164.3,69.3 L1164.1,70.1 L1167.9,69.2 L1164.8,67 L1164.6,67.8 L1149.1,64.6Z M1151.4,64.6 L1165.1,67.4 L1165,68.2 L1168.7,67.3 L1165.6,65.1 L1165.4,65.9 L1151.7,63Z M1154,63.2 L1170.7,65.7 L1170.5,66.5 L1174.3,65.4 L1171,63.3 L1170.9,64.1 L1154.3,61.6Z" fill="#24a53b" stroke="#17882c" stroke-width="0.35"/>
<path d="M1094.5,80.7 L1143,53.5" stroke="#e7b7dc" stroke-width="52.1" opacity="0.36" fill="none"/><circle cx="1091.5" cy="79.2" r="22.7" fill="#e7b7dc" opacity="0.36"/>
<path d="M1086.1,63.7 L1080.9,57.9 M1088,62.8 L1084.2,56.3 M1089.8,62 L1087.7,55.4 M1091.7,61.1 L1088.3,54.4 M1093.5,60.3 L1090.2,54.4 M1095.4,59.4 L1091.5,53.6 M1097.2,58.6 L1094.1,51.6 M1099.1,57.7 L1094.9,51.6 M1101,56.9 L1096.5,50.6 M1102.8,56 L1100.3,49.3 M1104.7,55.2 L1101.2,49.3 M1106.5,54.3 L1102.2,48 M1108.4,53.5 L1104.6,47.5 M1110.2,52.6 L1108.3,45.7 M1112.1,51.8 L1108.9,45.7 M1113.9,50.9 L1109.8,45.6 M1115.8,50.1 L1113.2,43.5 M1117.7,49.2 L1115.2,43.2 M1119.5,48.4 L1116.1,41.9 M1121.4,47.5 L1117.7,41.5 M1123.2,46.7 L1118.5,41 M1125.1,45.8 L1122.3,40.1 M1126.9,45 L1122.7,39.7 M1128.8,44.1 L1125.9,38.7 M1130.6,43.3 L1128.8,36.4 M1132.5,42.4 L1129.4,37.1 M1134.4,41.6 L1132.1,35.4 M1136.2,40.7 L1133.6,34.7 M1138,39.7 L1134,34.1 M1139.8,38.7 L1138.1,32.8 M1104.6,96.7 L1108.3,103 M1106.3,95.6 L1111.2,101.2 M1108,94.5 L1113.1,100.5 M1109.7,93.3 L1112.7,100.4 M1111.4,92.2 L1115,99.2 M1113.1,91 L1116.9,97.7 M1114.8,89.9 L1117.5,96.3 M1116.5,88.8 L1120.6,95.4 M1118.2,87.6 L1121.4,93.5 M1119.9,86.5 L1123.4,92.4 M1121.6,85.3 L1125.2,91.5 M1123.3,84.2 L1126.5,90.2 M1125,83.1 L1127.5,89.9 M1126.7,81.9 L1130.1,87.6 M1128.4,80.8 L1132.2,85.9 M1130,79.6 L1134.3,85.4 M1131.7,78.5 L1135.9,83.8 M1133.4,77.4 L1137.5,83.4 M1135.1,76.2 L1139.8,81.2 M1136.8,75.1 L1138.7,81.6 M1138.5,73.9 L1142.3,80.1 M1140.2,72.8 L1144.5,77.9 M1141.9,71.7 L1145.2,77.4 M1143.6,70.5 L1147.4,75.8 M1145.3,69.4 L1148.7,74.5 M1147,68.2 L1150.4,74.5 M1148.7,67.1 L1151.5,73.3 M1150.4,66 L1154.2,71.8 M1152.2,65 L1156.5,70.3 M1153.9,64 L1156.7,69.6 M1101,91.7 L1105.2,97.9 M1097.7,93.6 L1101.5,100.3 M1094.1,94.7 L1094.9,101.1 M1090.3,94.9 L1088.8,102.5 M1086.5,94.1 L1084.3,101.2 M1083.1,92.5 L1079.4,97.9 M1080.2,90.1 L1074.7,95.4 M1077.9,87 L1071.1,90.1 M1076.4,83.5 L1070.1,84.8 M1075.8,79.7 L1069,80.2 M1076.1,75.9 L1069.7,74.5 M1077.4,72.3 L1071.1,68.7 M1079.4,69.1 L1074,65.4 M1082.2,66.5 L1077.9,60.2 M1141.2,41.5 L1139.7,35.2 M1144,41.2 L1145,33.9 M1146.7,42.6 L1149.8,37.2 M1148.9,45.5 L1154.1,41.2 M1150.3,49.5 L1156.4,47.5 M1150.7,54.1 L1157.2,54.4 M1150.1,58.5 L1155.6,61 M1148.5,62.3 L1153.6,67.4" fill="none" stroke="#cf9ccf" stroke-width="0.4"/><g fill="#ad2d48"><circle cx="1080.9" cy="57.9" r="0.7"/><circle cx="1084.2" cy="56.3" r="0.7"/><circle cx="1087.7" cy="55.4" r="0.7"/><circle cx="1088.3" cy="54.4" r="0.7"/><circle cx="1090.2" cy="54.4" r="0.7"/><circle cx="1091.5" cy="53.6" r="0.7"/><circle cx="1094.1" cy="51.6" r="0.7"/><circle cx="1094.9" cy="51.6" r="0.7"/><circle cx="1096.5" cy="50.6" r="0.7"/><circle cx="1100.3" cy="49.3" r="0.7"/><circle cx="1101.2" cy="49.3" r="0.7"/><circle cx="1102.2" cy="48" r="0.7"/><circle cx="1104.6" cy="47.5" r="0.7"/><circle cx="1108.3" cy="45.7" r="0.7"/><circle cx="1108.9" cy="45.7" r="0.7"/><circle cx="1109.8" cy="45.6" r="0.7"/><circle cx="1113.2" cy="43.5" r="0.7"/><circle cx="1115.2" cy="43.2" r="0.7"/><circle cx="1116.1" cy="41.9" r="0.7"/><circle cx="1117.7" cy="41.5" r="0.7"/><circle cx="1118.5" cy="41" r="0.7"/><circle cx="1122.3" cy="40.1" r="0.7"/><circle cx="1122.7" cy="39.7" r="0.7"/><circle cx="1125.9" cy="38.7" r="0.7"/><circle cx="1128.8" cy="36.4" r="0.7"/><circle cx="1129.4" cy="37.1" r="0.7"/><circle cx="1132.1" cy="35.4" r="0.7"/><circle cx="1133.6" cy="34.7" r="0.7"/><circle cx="1134" cy="34.1" r="0.7"/><circle cx="1138.1" cy="32.8" r="0.7"/><circle cx="1108.3" cy="103" r="0.7"/><circle cx="1111.2" cy="101.2" r="0.7"/><circle cx="1113.1" cy="100.5" r="0.7"/><circle cx="1112.7" cy="100.4" r="0.7"/><circle cx="1115" cy="99.2" r="0.7"/><circle cx="1116.9" cy="97.7" r="0.7"/><circle cx="1117.5" cy="96.3" r="0.7"/><circle cx="1120.6" cy="95.4" r="0.7"/><circle cx="1121.4" cy="93.5" r="0.7"/><circle cx="1123.4" cy="92.4" r="0.7"/><circle cx="1125.2" cy="91.5" r="0.7"/><circle cx="1126.5" cy="90.2" r="0.7"/><circle cx="1127.5" cy="89.9" r="0.7"/><circle cx="1130.1" cy="87.6" r="0.7"/><circle cx="1132.2" cy="85.9" r="0.7"/><circle cx="1134.3" cy="85.4" r="0.7"/><circle cx="1135.9" cy="83.8" r="0.7"/><circle cx="1137.5" cy="83.4" r="0.7"/><circle cx="1139.8" cy="81.2" r="0.7"/><circle cx="1138.7" cy="81.6" r="0.7"/><circle cx="1142.3" cy="80.1" r="0.7"/><circle cx="1144.5" cy="77.9" r="0.7"/><circle cx="1145.2" cy="77.4" r="0.7"/><circle cx="1147.4" cy="75.8" r="0.7"/><circle cx="1148.7" cy="74.5" r="0.7"/><circle cx="1150.4" cy="74.5" r="0.7"/><circle cx="1151.5" cy="73.3" r="0.7"/><circle cx="1154.2" cy="71.8" r="0.7"/><circle cx="1156.5" cy="70.3" r="0.7"/><circle cx="1156.7" cy="69.6" r="0.7"/><circle cx="1105.2" cy="97.9" r="0.7"/><circle cx="1101.5" cy="100.3" r="0.7"/><circle cx="1094.9" cy="101.1" r="0.7"/><circle cx="1088.8" cy="102.5" r="0.7"/><circle cx="1084.3" cy="101.2" r="0.7"/><circle cx="1079.4" cy="97.9" r="0.7"/><circle cx="1074.7" cy="95.4" r="0.7"/><circle cx="1071.1" cy="90.1" r="0.7"/><circle cx="1070.1" cy="84.8" r="0.7"/><circle cx="1069" cy="80.2" r="0.7"/><circle cx="1069.7" cy="74.5" r="0.7"/><circle cx="1071.1" cy="68.7" r="0.7"/><circle cx="1074" cy="65.4" r="0.7"/><circle cx="1077.9" cy="60.2" r="0.7"/><circle cx="1139.7" cy="35.2" r="0.7"/><circle cx="1145" cy="33.9" r="0.7"/><circle cx="1149.8" cy="37.2" r="0.7"/><circle cx="1154.1" cy="41.2" r="0.7"/><circle cx="1156.4" cy="47.5" r="0.7"/><circle cx="1157.2" cy="54.4" r="0.7"/><circle cx="1155.6" cy="61" r="0.7"/><circle cx="1153.6" cy="67.4" r="0.7"/></g>
<path d="M1080.4,66 1080.8,64.7 1080.8,63.7 1079.7,63.4 1078.4,63 1077.8,61.8 1078.4,60.7 1079.8,60.1 1081.1,59.4 1081.4,58.2 1080.7,57.2 1079.2,56.9 1077.8,56.5 1077.1,55.4 1077.6,54.2 1078.9,53.6 1080.3,53 1080.8,51.9 1080.3,50.8 1078.9,50.3 1077.4,50 1076.6,49 1076.9,47.8 1078.1,47.1 1079.5,46.6 M1090.2,61 1089.3,60.1 1088.8,59.1 1089.6,58.3 1090.8,57.4 1090.9,56.2 1090,55.3 1088.4,55.3 1087,55.1 1086.2,54.1 1086.6,52.8 1087.9,52 1089,51.1 1089.2,49.8 1088.3,49 1086.8,48.9 1085.3,48.7 1084.5,47.7 1084.9,46.4 1086.2,45.6 1087.4,44.8 1087.6,43.5 1086.7,42.6 1085.2,42.5 M1100.3,56.3 1100.4,54.9 1100.1,54.2 1098.8,54.3 1097.5,53.8 1097.1,52.6 1097.9,51.5 1099.2,50.7 1100,49.7 1099.8,48.4 1098.6,47.9 1097,48 1095.7,47.6 1095.2,46.5 1095.8,45.3 1097.1,44.5 1098.1,43.6 1098,42.3 1096.9,41.6 1095.4,41.6 1094,41.4 1093.3,40.3 1093.8,39.1 1095.1,38.3 1096.2,37.4 1096.3,36.2 M1110.3,51.8 1109.5,51.1 1108.6,50 1108.9,49.1 1110.3,48.4 1111.1,47.3 1110.8,46.1 1109.6,45.6 1108,45.5 1106.8,44.9 1106.6,43.7 1107.4,42.7 1108.9,42 1109.8,41 1109.6,39.8 1108.4,39.1 1106.9,39 1105.6,38.5 1105.3,37.2 1106.2,36.2 1107.6,35.6 1108.7,34.7 M1120.2,46.8 1120.6,46.4 1121.4,45.2 1121.6,44 1120.2,43.5 1118.7,43.2 1117.9,42.2 1118.2,40.9 1119.6,40.2 1121,39.7 1121.6,38.6 1121.1,37.4 1119.7,36.9 1118.2,36.5 1117.6,35.4 1118.1,34.2 1119.5,33.6 1120.9,33.1 1121.5,32 1121,30.8 1119.6,30.3 1118.2,29.8 M1130.4,42.6 1129.4,41.5 1129.2,40.7 1130.3,40 1131.2,38.9 1130.9,37.7 1129.7,37.1 1128.1,37.2 1126.8,36.7 1126.4,35.5 1127.2,34.4 1128.6,33.7 1129.6,32.7 1129.4,31.5 1128.3,30.8 1126.8,30.7 1125.5,30.2 1125.1,29 1125.8,27.9 1127.2,27.3 1128.3,26.4 1128.3,25.1 1127.3,24.3 1125.8,24.2 M1140.1,37.3 1139.5,37 1138.3,36.3 1137.8,35.2 1139,34.2 1140.2,33.3 1140.4,32.1 1139.5,31.1 1138,31.1 1136.5,31 1135.6,30 1135.9,28.7 1137.1,27.9 1138.4,27.1 1138.7,25.8 1137.9,24.8 1136.4,24.7 1134.9,24.5 1134.1,23.4 1134.5,22.1 1135.8,21.4 1137.1,20.7 1137.5,19.5 1136.7,18.4 M1101.2,64.3 1100.4,63.4 1099.7,62.3 1100.3,61.6 1101.6,60.8 1102.2,59.7 1101.6,58.5 1100.2,58.2 1098.7,58.2 1097.6,57.4 1097.6,56.1 1098.7,55.2 1100,54.5 1100.7,53.4 1100.2,52.2 1098.9,51.8 1097.4,51.7 1096.3,51 1096.1,49.8 1097.1,48.8 1098.5,48.2 1099.3,47.1 1099,45.9 1097.7,45.3 1096.2,45.3 1095,44.7 1094.7,43.4 1095.6,42.4 1097,41.8 M1113.7,58 1113,56.8 1112.9,55.9 1113.9,55.4 1115.1,54.6 1115.2,53.4 1114.2,52.5 1112.7,52.3 1111.4,51.8 1111,50.6 1111.7,49.5 1113.1,49 1114.4,48.3 1114.8,47.2 1114.1,46.1 1112.6,45.7 1111.3,45.3 1110.7,44.1 1111.2,43 1112.6,42.4 1114,42 1114.7,40.9 1114.2,39.8 1112.9,39.2 1111.5,38.7 1110.8,37.7 1111.2,36.5 1112.5,35.9 M1126.3,51.8 1125.5,50.7 1125.1,49.6 1126,49 1127.4,48.4 1127.8,47.2 1127.2,46.1 1125.7,45.7 1124.3,45.3 1123.7,44.2 1124.2,43 1125.6,42.4 1127,41.9 1127.6,40.8 1127,39.7 1125.7,39.1 1124.3,38.6 1123.7,37.4 1124.3,36.3 1125.7,35.8 1127.2,35.5 1127.9,34.4 1127.4,33.2 1126.1,32.6 1124.7,32 1124.2,30.7 1124.9,29.6 1126.4,29.3 1127.9,29 M1138.8,45 1138.4,44.7 1137.4,43.9 1136.6,42.7 1137.6,41.8 1139.1,41.3 1140.1,40.3 1139.9,39 1138.7,38.3 1137.2,38.1 1136,37.3 1136,36 1137.1,35.2 1138.6,34.7 1139.6,33.8 1139.4,32.5 1138.2,31.8 1136.7,31.5 1135.6,30.7 1135.6,29.4 1136.8,28.5 1138.3,28.1 1139.3,27.2 1139.1,25.9 1138,25.2" fill="none" stroke="#1b8a30" stroke-width="1.7" stroke-linecap="round" stroke-linejoin="round"/><path d="M1080.4,66 1080.8,64.7 1080.8,63.7 1079.7,63.4 1078.4,63 1077.8,61.8 1078.4,60.7 1079.8,60.1 1081.1,59.4 1081.4,58.2 1080.7,57.2 1079.2,56.9 1077.8,56.5 1077.1,55.4 1077.6,54.2 1078.9,53.6 1080.3,53 1080.8,51.9 1080.3,50.8 1078.9,50.3 1077.4,50 1076.6,49 1076.9,47.8 1078.1,47.1 1079.5,46.6 M1090.2,61 1089.3,60.1 1088.8,59.1 1089.6,58.3 1090.8,57.4 1090.9,56.2 1090,55.3 1088.4,55.3 1087,55.1 1086.2,54.1 1086.6,52.8 1087.9,52 1089,51.1 1089.2,49.8 1088.3,49 1086.8,48.9 1085.3,48.7 1084.5,47.7 1084.9,46.4 1086.2,45.6 1087.4,44.8 1087.6,43.5 1086.7,42.6 1085.2,42.5 M1100.3,56.3 1100.4,54.9 1100.1,54.2 1098.8,54.3 1097.5,53.8 1097.1,52.6 1097.9,51.5 1099.2,50.7 1100,49.7 1099.8,48.4 1098.6,47.9 1097,48 1095.7,47.6 1095.2,46.5 1095.8,45.3 1097.1,44.5 1098.1,43.6 1098,42.3 1096.9,41.6 1095.4,41.6 1094,41.4 1093.3,40.3 1093.8,39.1 1095.1,38.3 1096.2,37.4 1096.3,36.2 M1110.3,51.8 1109.5,51.1 1108.6,50 1108.9,49.1 1110.3,48.4 1111.1,47.3 1110.8,46.1 1109.6,45.6 1108,45.5 1106.8,44.9 1106.6,43.7 1107.4,42.7 1108.9,42 1109.8,41 1109.6,39.8 1108.4,39.1 1106.9,39 1105.6,38.5 1105.3,37.2 1106.2,36.2 1107.6,35.6 1108.7,34.7 M1120.2,46.8 1120.6,46.4 1121.4,45.2 1121.6,44 1120.2,43.5 1118.7,43.2 1117.9,42.2 1118.2,40.9 1119.6,40.2 1121,39.7 1121.6,38.6 1121.1,37.4 1119.7,36.9 1118.2,36.5 1117.6,35.4 1118.1,34.2 1119.5,33.6 1120.9,33.1 1121.5,32 1121,30.8 1119.6,30.3 1118.2,29.8 M1130.4,42.6 1129.4,41.5 1129.2,40.7 1130.3,40 1131.2,38.9 1130.9,37.7 1129.7,37.1 1128.1,37.2 1126.8,36.7 1126.4,35.5 1127.2,34.4 1128.6,33.7 1129.6,32.7 1129.4,31.5 1128.3,30.8 1126.8,30.7 1125.5,30.2 1125.1,29 1125.8,27.9 1127.2,27.3 1128.3,26.4 1128.3,25.1 1127.3,24.3 1125.8,24.2 M1140.1,37.3 1139.5,37 1138.3,36.3 1137.8,35.2 1139,34.2 1140.2,33.3 1140.4,32.1 1139.5,31.1 1138,31.1 1136.5,31 1135.6,30 1135.9,28.7 1137.1,27.9 1138.4,27.1 1138.7,25.8 1137.9,24.8 1136.4,24.7 1134.9,24.5 1134.1,23.4 1134.5,22.1 1135.8,21.4 1137.1,20.7 1137.5,19.5 1136.7,18.4 M1101.2,64.3 1100.4,63.4 1099.7,62.3 1100.3,61.6 1101.6,60.8 1102.2,59.7 1101.6,58.5 1100.2,58.2 1098.7,58.2 1097.6,57.4 1097.6,56.1 1098.7,55.2 1100,54.5 1100.7,53.4 1100.2,52.2 1098.9,51.8 1097.4,51.7 1096.3,51 1096.1,49.8 1097.1,48.8 1098.5,48.2 1099.3,47.1 1099,45.9 1097.7,45.3 1096.2,45.3 1095,44.7 1094.7,43.4 1095.6,42.4 1097,41.8 M1113.7,58 1113,56.8 1112.9,55.9 1113.9,55.4 1115.1,54.6 1115.2,53.4 1114.2,52.5 1112.7,52.3 1111.4,51.8 1111,50.6 1111.7,49.5 1113.1,49 1114.4,48.3 1114.8,47.2 1114.1,46.1 1112.6,45.7 1111.3,45.3 1110.7,44.1 1111.2,43 1112.6,42.4 1114,42 1114.7,40.9 1114.2,39.8 1112.9,39.2 1111.5,38.7 1110.8,37.7 1111.2,36.5 1112.5,35.9 M1126.3,51.8 1125.5,50.7 1125.1,49.6 1126,49 1127.4,48.4 1127.8,47.2 1127.2,46.1 1125.7,45.7 1124.3,45.3 1123.7,44.2 1124.2,43 1125.6,42.4 1127,41.9 1127.6,40.8 1127,39.7 1125.7,39.1 1124.3,38.6 1123.7,37.4 1124.3,36.3 1125.7,35.8 1127.2,35.5 1127.9,34.4 1127.4,33.2 1126.1,32.6 1124.7,32 1124.2,30.7 1124.9,29.6 1126.4,29.3 1127.9,29 M1138.8,45 1138.4,44.7 1137.4,43.9 1136.6,42.7 1137.6,41.8 1139.1,41.3 1140.1,40.3 1139.9,39 1138.7,38.3 1137.2,38.1 1136,37.3 1136,36 1137.1,35.2 1138.6,34.7 1139.6,33.8 1139.4,32.5 1138.2,31.8 1136.7,31.5 1135.6,30.7 1135.6,29.4 1136.8,28.5 1138.3,28.1 1139.3,27.2 1139.1,25.9 1138,25.2" fill="none" stroke="#35b84e" stroke-width="0.68" stroke-linecap="round" stroke-linejoin="round" opacity="0.7"/>
<linearGradient id="rb5" gradientUnits="userSpaceOnUse" x1="1084.7" y1="63.2" x2="1104.3" y2="98.2"><stop offset="0" stop-color="#f7c832"/><stop offset="0.28" stop-color="#ffe541"/><stop offset="0.6" stop-color="#fdd334"/><stop offset="1" stop-color="#efb42a"/></linearGradient><radialGradient id="rs5" gradientUnits="userSpaceOnUse" cx="1100.7" cy="74.2" r="25"><stop offset="0" stop-color="#fffef0"/><stop offset="0.1" stop-color="#fff68c"/><stop offset="0.4" stop-color="#fedf3c"/><stop offset="0.78" stop-color="#f7c62e"/><stop offset="1" stop-color="#e3a922"/></radialGradient><path d="M1084.7,94.5 L1083.3,64.6 L1135.4,40 A7.8,15.5 -29.3 0 1 1150.6,67 L1112.3,93.7 Q1097.7,101.9 1084.7,94.5 Z" fill="url(#rb5)"/><circle cx="1091.5" cy="79.2" r="16.7" fill="url(#rs5)"/>
<path d="M1090.8,62.5 L1090.4,59.3 M1093.5,61.3 L1093,58.1 M1096.1,60.1 L1095.7,56.9 M1098.7,58.9 L1098.3,55.7 M1101.3,57.6 L1100.9,54.5 M1103.9,56.4 L1103.5,53.3 M1106.5,55.2 L1106.1,52.1 M1109.2,54 L1108.8,50.9 M1111.8,52.8 L1111.4,49.7 M1114.4,51.5 L1114,48.5 M1117,50.3 L1116.6,47.3 M1119.6,49.1 L1119.2,46.1 M1122.2,47.9 L1121.9,44.9 M1124.8,46.6 L1124.5,43.7 M1127.5,45.4 L1127.1,42.5 M1130.1,44.2 L1129.7,41.2 M1132.7,43 L1132.3,40 M1135.3,41.7 L1134.9,38.8 M1137.9,40.4 L1137.5,37.5 M1098.5,63.7 L1098.9,60.2 M1101.1,62.4 L1101.5,59 M1103.7,61.1 L1104.1,57.7 M1106.3,59.9 L1106.7,56.5 M1108.9,58.6 L1109.3,55.2 M1111.5,57.3 L1111.9,54 M1114.1,56.1 L1114.4,52.7 M1116.6,54.8 L1117,51.5 M1119.2,53.5 L1119.6,50.2 M1121.8,52.2 L1122.2,49 M1124.4,51 L1124.8,47.7 M1127,49.7 L1127.4,46.5 M1129.6,48.4 L1130,45.2 M1132.2,47.2 L1132.6,44 M1134.8,45.9 L1135.1,42.7 M1137.4,44.6 L1137.7,41.5 M1139.9,43.2 L1140.3,40.1 M1142.4,41.8 L1142.8,38.7 M1103.1,66.2 L1104,62.8 M1105.6,64.8 L1106.6,61.5 M1108.2,63.5 L1109.1,60.2 M1110.8,62.2 L1111.7,58.9 M1113.3,60.9 L1114.3,57.6 M1115.9,59.6 L1116.8,56.3 M1118.5,58.3 L1119.4,55.1 M1121,56.9 L1121.9,53.8 M1123.6,55.6 L1124.5,52.5 M1126.1,54.3 L1127.1,51.2 M1128.7,53 L1129.6,49.9 M1131.3,51.7 L1132.2,48.6 M1133.8,50.4 L1134.7,47.3 M1136.4,49 L1137.3,46 M1139,47.7 L1139.8,44.7 M1141.5,46.3 L1142.4,43.3 M1144,44.9 L1144.9,41.9 M1106.2,69.3 L1107.5,66.3 M1108.7,68 L1110.1,64.9 M1111.2,66.6 L1112.6,63.6 M1113.8,65.2 L1115.1,62.3 M1116.3,63.9 L1117.7,60.9 M1118.9,62.5 L1120.2,59.6 M1121.4,61.1 L1122.7,58.2 M1123.9,59.8 L1125.2,56.9 M1126.5,58.4 L1127.8,55.5 M1129,57.1 L1130.3,54.2 M1131.5,55.7 L1132.8,52.9 M1134.1,54.3 L1135.4,51.5 M1136.6,53 L1137.9,50.2 M1139.2,51.6 L1140.4,48.8 M1141.7,50.2 L1142.9,47.5 M1144.2,48.8 L1145.5,46.1 M1146.7,47.4 L1148,44.7 M1108.1,73.1 L1109.8,70.5 M1110.6,71.6 L1112.3,69.1 M1113.1,70.2 L1114.8,67.7 M1115.7,68.8 L1117.3,66.3 M1118.2,67.4 L1119.8,64.9 M1120.7,66 L1122.3,63.5 M1123.2,64.6 L1124.8,62.1 M1125.7,63.2 L1127.3,60.7 M1128.2,61.8 L1129.8,59.3 M1130.7,60.4 L1132.3,57.9 M1133.2,59 L1134.9,56.5 M1135.8,57.6 L1137.4,55.2 M1138.3,56.1 L1139.9,53.8 M1140.8,54.7 L1142.4,52.4 M1143.3,53.3 L1144.9,51 M1145.8,51.9 L1147.4,49.6 M1148.3,50.5 L1149.9,48.2 M1109,77.4 L1110.9,75.4 M1111.5,76 L1113.4,74 M1113.9,74.5 L1115.9,72.6 M1116.4,73.1 L1118.4,71.1 M1118.9,71.6 L1120.8,69.7 M1121.4,70.2 L1123.3,68.2 M1123.9,68.7 L1125.8,66.8 M1126.4,67.3 L1128.3,65.3 M1128.9,65.8 L1130.7,63.9 M1131.4,64.4 L1133.2,62.5 M1133.8,62.9 L1135.7,61 M1136.3,61.4 L1138.1,59.6 M1138.8,60 L1140.6,58.1 M1141.3,58.5 L1143.1,56.7 M1143.8,57.1 L1145.6,55.2 M1146.3,55.7 L1148.1,53.8 M1148.8,54.2 L1150.6,52.4 M1108.4,82.8 L1110.5,81.5 M1110.8,81.3 L1112.9,80 M1113.3,79.8 L1115.4,78.5 M1115.7,78.3 L1117.8,77 M1118.2,76.8 L1120.3,75.5 M1120.7,75.3 L1122.7,74 M1123.1,73.8 L1125.2,72.5 M1125.6,72.3 L1127.6,71 M1128,70.8 L1130.1,69.6 M1130.5,69.3 L1132.5,68.1 M1133,67.8 L1135,66.6 M1135.4,66.3 L1137.4,65.1 M1137.9,64.8 L1139.8,63.6 M1140.3,63.3 L1142.3,62.1 M1142.8,61.8 L1144.7,60.6 M1145.3,60.3 L1147.2,59.1 M1147.8,58.8 L1149.7,57.7 M1150.3,57.4 L1152.2,56.3 M1103.8,90.8 L1106,90.4 M1106.2,89.2 L1108.4,88.8 M1108.7,87.7 L1110.8,87.3 M1111.1,86.1 L1113.3,85.8 M1113.6,84.6 L1115.7,84.2 M1116,83 L1118.1,82.7 M1118.4,81.5 L1120.5,81.1 M1120.9,79.9 L1122.9,79.6 M1123.3,78.4 L1125.4,78 M1125.7,76.8 L1127.8,76.5 M1128.2,75.3 L1130.2,74.9 M1130.6,73.8 L1132.6,73.4 M1133,72.2 L1135.1,71.9 M1135.5,70.7 L1137.5,70.3 M1137.9,69.1 L1139.9,68.8 M1140.3,67.6 L1142.3,67.2 M1142.8,66 L1144.7,65.7 M1145.2,64.5 L1147.2,64.1 M1147.6,62.9 L1149.6,62.6 M1150.1,61.5 L1152.1,61.2 M1152.7,60.1 L1154.6,59.8 M1102.6,96.8 L1104.5,97.8 M1105,95.3 L1107,96.3 M1107.4,93.7 L1109.4,94.7 M1109.8,92.1 L1111.7,93.1 M1112.2,90.5 L1114.1,91.5 M1114.6,88.9 L1116.5,89.9 M1117,87.3 L1118.9,88.3 M1119.5,85.7 L1121.3,86.7 M1121.9,84.2 L1123.7,85.1 M1124.3,82.6 L1126.1,83.5 M1126.7,81 L1128.5,81.9 M1129.1,79.4 L1130.9,80.3 M1131.5,77.8 L1133.3,78.7 M1133.9,76.2 L1135.7,77.1 M1136.3,74.6 L1138.1,75.5 M1138.7,73 L1140.5,73.9 M1141.1,71.4 L1142.9,72.3 M1143.5,69.8 L1145.3,70.7 M1146,68.2 L1147.7,69.1 M1148.4,66.6 L1150.1,67.5 M1150.8,65.1 L1152.5,65.9" fill="none" stroke="#ad2d48" stroke-width="0.4" opacity="0.9"/><g fill="#ad2d48"><circle cx="1090.4" cy="59.3" r="0.7"/><circle cx="1093" cy="58.1" r="0.7"/><circle cx="1095.7" cy="56.9" r="0.7"/><circle cx="1098.3" cy="55.7" r="0.7"/><circle cx="1100.9" cy="54.5" r="0.7"/><circle cx="1103.5" cy="53.3" r="0.7"/><circle cx="1106.1" cy="52.1" r="0.7"/><circle cx="1108.8" cy="50.9" r="0.7"/><circle cx="1111.4" cy="49.7" r="0.7"/><circle cx="1114" cy="48.5" r="0.7"/><circle cx="1116.6" cy="47.3" r="0.7"/><circle cx="1119.2" cy="46.1" r="0.7"/><circle cx="1121.9" cy="44.9" r="0.7"/><circle cx="1124.5" cy="43.7" r="0.7"/><circle cx="1127.1" cy="42.5" r="0.7"/><circle cx="1129.7" cy="41.2" r="0.7"/><circle cx="1132.3" cy="40" r="0.7"/><circle cx="1134.9" cy="38.8" r="0.7"/><circle cx="1137.5" cy="37.5" r="0.7"/><circle cx="1098.9" cy="60.2" r="0.7"/><circle cx="1101.5" cy="59" r="0.7"/><circle cx="1104.1" cy="57.7" r="0.7"/><circle cx="1106.7" cy="56.5" r="0.7"/><circle cx="1109.3" cy="55.2" r="0.7"/><circle cx="1111.9" cy="54" r="0.7"/><circle cx="1114.4" cy="52.7" r="0.7"/><circle cx="1117" cy="51.5" r="0.7"/><circle cx="1119.6" cy="50.2" r="0.7"/><circle cx="1122.2" cy="49" r="0.7"/><circle cx="1124.8" cy="47.7" r="0.7"/><circle cx="1127.4" cy="46.5" r="0.7"/><circle cx="1130" cy="45.2" r="0.7"/><circle cx="1132.6" cy="44" r="0.7"/><circle cx="1135.1" cy="42.7" r="0.7"/><circle cx="1137.7" cy="41.5" r="0.7"/><circle cx="1140.3" cy="40.1" r="0.7"/><circle cx="1142.8" cy="38.7" r="0.7"/><circle cx="1104" cy="62.8" r="0.7"/><circle cx="1106.6" cy="61.5" r="0.7"/><circle cx="1109.1" cy="60.2" r="0.7"/><circle cx="1111.7" cy="58.9" r="0.7"/><circle cx="1114.3" cy="57.6" r="0.7"/><circle cx="1116.8" cy="56.3" r="0.7"/><circle cx="1119.4" cy="55.1" r="0.7"/><circle cx="1121.9" cy="53.8" r="0.7"/><circle cx="1124.5" cy="52.5" r="0.7"/><circle cx="1127.1" cy="51.2" r="0.7"/><circle cx="1129.6" cy="49.9" r="0.7"/><circle cx="1132.2" cy="48.6" r="0.7"/><circle cx="1134.7" cy="47.3" r="0.7"/><circle cx="1137.3" cy="46" r="0.7"/><circle cx="1139.8" cy="44.7" r="0.7"/><circle cx="1142.4" cy="43.3" r="0.7"/><circle cx="1144.9" cy="41.9" r="0.7"/><circle cx="1107.5" cy="66.3" r="0.7"/><circle cx="1110.1" cy="64.9" r="0.7"/><circle cx="1112.6" cy="63.6" r="0.7"/><circle cx="1115.1" cy="62.3" r="0.7"/><circle cx="1117.7" cy="60.9" r="0.7"/><circle cx="1120.2" cy="59.6" r="0.7"/><circle cx="1122.7" cy="58.2" r="0.7"/><circle cx="1125.2" cy="56.9" r="0.7"/><circle cx="1127.8" cy="55.5" r="0.7"/><circle cx="1130.3" cy="54.2" r="0.7"/><circle cx="1132.8" cy="52.9" r="0.7"/><circle cx="1135.4" cy="51.5" r="0.7"/><circle cx="1137.9" cy="50.2" r="0.7"/><circle cx="1140.4" cy="48.8" r="0.7"/><circle cx="1142.9" cy="47.5" r="0.7"/><circle cx="1145.5" cy="46.1" r="0.7"/><circle cx="1148" cy="44.7" r="0.7"/><circle cx="1109.8" cy="70.5" r="0.7"/><circle cx="1112.3" cy="69.1" r="0.7"/><circle cx="1114.8" cy="67.7" r="0.7"/><circle cx="1117.3" cy="66.3" r="0.7"/><circle cx="1119.8" cy="64.9" r="0.7"/><circle cx="1122.3" cy="63.5" r="0.7"/><circle cx="1124.8" cy="62.1" r="0.7"/><circle cx="1127.3" cy="60.7" r="0.7"/><circle cx="1129.8" cy="59.3" r="0.7"/><circle cx="1132.3" cy="57.9" r="0.7"/><circle cx="1134.9" cy="56.5" r="0.7"/><circle cx="1137.4" cy="55.2" r="0.7"/><circle cx="1139.9" cy="53.8" r="0.7"/><circle cx="1142.4" cy="52.4" r="0.7"/><circle cx="1144.9" cy="51" r="0.7"/><circle cx="1147.4" cy="49.6" r="0.7"/><circle cx="1149.9" cy="48.2" r="0.7"/><circle cx="1110.9" cy="75.4" r="0.7"/><circle cx="1113.4" cy="74" r="0.7"/><circle cx="1115.9" cy="72.6" r="0.7"/><circle cx="1118.4" cy="71.1" r="0.7"/><circle cx="1120.8" cy="69.7" r="0.7"/><circle cx="1123.3" cy="68.2" r="0.7"/><circle cx="1125.8" cy="66.8" r="0.7"/><circle cx="1128.3" cy="65.3" r="0.7"/><circle cx="1130.7" cy="63.9" r="0.7"/><circle cx="1133.2" cy="62.5" r="0.7"/><circle cx="1135.7" cy="61" r="0.7"/><circle cx="1138.1" cy="59.6" r="0.7"/><circle cx="1140.6" cy="58.1" r="0.7"/><circle cx="1143.1" cy="56.7" r="0.7"/><circle cx="1145.6" cy="55.2" r="0.7"/><circle cx="1148.1" cy="53.8" r="0.7"/><circle cx="1150.6" cy="52.4" r="0.7"/><circle cx="1110.5" cy="81.5" r="0.7"/><circle cx="1112.9" cy="80" r="0.7"/><circle cx="1115.4" cy="78.5" r="0.7"/><circle cx="1117.8" cy="77" r="0.7"/><circle cx="1120.3" cy="75.5" r="0.7"/><circle cx="1122.7" cy="74" r="0.7"/><circle cx="1125.2" cy="72.5" r="0.7"/><circle cx="1127.6" cy="71" r="0.7"/><circle cx="1130.1" cy="69.6" r="0.7"/><circle cx="1132.5" cy="68.1" r="0.7"/><circle cx="1135" cy="66.6" r="0.7"/><circle cx="1137.4" cy="65.1" r="0.7"/><circle cx="1139.8" cy="63.6" r="0.7"/><circle cx="1142.3" cy="62.1" r="0.7"/><circle cx="1144.7" cy="60.6" r="0.7"/><circle cx="1147.2" cy="59.1" r="0.7"/><circle cx="1149.7" cy="57.7" r="0.7"/><circle cx="1152.2" cy="56.3" r="0.7"/><circle cx="1106" cy="90.4" r="0.7"/><circle cx="1108.4" cy="88.8" r="0.7"/><circle cx="1110.8" cy="87.3" r="0.7"/><circle cx="1113.3" cy="85.8" r="0.7"/><circle cx="1115.7" cy="84.2" r="0.7"/><circle cx="1118.1" cy="82.7" r="0.7"/><circle cx="1120.5" cy="81.1" r="0.7"/><circle cx="1122.9" cy="79.6" r="0.7"/><circle cx="1125.4" cy="78" r="0.7"/><circle cx="1127.8" cy="76.5" r="0.7"/><circle cx="1130.2" cy="74.9" r="0.7"/><circle cx="1132.6" cy="73.4" r="0.7"/><circle cx="1135.1" cy="71.9" r="0.7"/><circle cx="1137.5" cy="70.3" r="0.7"/><circle cx="1139.9" cy="68.8" r="0.7"/><circle cx="1142.3" cy="67.2" r="0.7"/><circle cx="1144.7" cy="65.7" r="0.7"/><circle cx="1147.2" cy="64.1" r="0.7"/><circle cx="1149.6" cy="62.6" r="0.7"/><circle cx="1152.1" cy="61.2" r="0.7"/><circle cx="1154.6" cy="59.8" r="0.7"/><circle cx="1104.5" cy="97.8" r="0.7"/><circle cx="1107" cy="96.3" r="0.7"/><circle cx="1109.4" cy="94.7" r="0.7"/><circle cx="1111.7" cy="93.1" r="0.7"/><circle cx="1114.1" cy="91.5" r="0.7"/><circle cx="1116.5" cy="89.9" r="0.7"/><circle cx="1118.9" cy="88.3" r="0.7"/><circle cx="1121.3" cy="86.7" r="0.7"/><circle cx="1123.7" cy="85.1" r="0.7"/><circle cx="1126.1" cy="83.5" r="0.7"/><circle cx="1128.5" cy="81.9" r="0.7"/><circle cx="1130.9" cy="80.3" r="0.7"/><circle cx="1133.3" cy="78.7" r="0.7"/><circle cx="1135.7" cy="77.1" r="0.7"/><circle cx="1138.1" cy="75.5" r="0.7"/><circle cx="1140.5" cy="73.9" r="0.7"/><circle cx="1142.9" cy="72.3" r="0.7"/><circle cx="1145.3" cy="70.7" r="0.7"/><circle cx="1147.7" cy="69.1" r="0.7"/><circle cx="1150.1" cy="67.5" r="0.7"/><circle cx="1152.5" cy="65.9" r="0.7"/></g>
<path d="M1112.8,68.5 1114,68.2 1115.1,68.4 1116,69.1 1116.4,69.8 1116.4,70.3 1116,70.4 1115.5,69.9 1115.3,68.9 1115.4,67.8 1116,66.8 1117.1,66.2 1118.2,66.2 1119.3,66.7 1120,67.4 1120.1,68.1 1119.9,68.4 1119.4,68.1 1119,67.4 1118.9,66.3 1119.3,65.2 1120.2,64.3 1121.3,64.1 1122.5,64.3 1123.3,65 1123.8,65.7 1123.7,66.2 1123.4,66.3 1122.9,65.8 1122.6,64.8 1122.7,63.6 1123.4,62.6 1124.4,62.1 1125.6,62.1 1126.6,62.5 1127.3,63.3 1127.5,64 1127.2,64.3 1126.8,64 1126.4,63.3 1126.3,62.2 1126.7,61.1 1127.5,60.2 1128.6,59.9 1129.8,60.2 1130.7,60.8 1131.1,61.6 1131.1,62.1 1130.7,62.2 1130.2,61.6 1129.9,60.7 1130.1,59.5 1130.7,58.5 1131.7,58 1132.9,58 1133.9,58.4 1134.6,59.2 1134.8,59.9 1134.6,60.2 1134.1,59.9 1133.7,59.2 1133.6,58.1 1134,56.9 1134.8,56.1 1136,55.8 1137.1,56.1 1138,56.7 1138.4,57.5 1138.4,58 1138,58.1 1137.5,57.5 1137.3,56.6 1137.4,55.4 1138,54.4 1139,53.9 1140.2,53.8 1141.3,54.3 1141.9,55.1 1142.1,55.7 1141.9,56 1141.4,55.8 1141,55 1140.9,54 1141.3,52.8 1142.2,52 1143.3,51.7 1144.4,52 1145.3,52.6 1145.8,53.4 1145.7,53.9 1145.3,53.9" fill="none" stroke="#14762a" stroke-width="2.4" stroke-linecap="round"/><path d="M1112.8,68.5 1114,68.2 1115.1,68.4 1116,69.1 1116.4,69.8 1116.4,70.3 1116,70.4 1115.5,69.9 1115.3,68.9 1115.4,67.8 1116,66.8 1117.1,66.2 1118.2,66.2 1119.3,66.7 1120,67.4 1120.1,68.1 1119.9,68.4 1119.4,68.1 1119,67.4 1118.9,66.3 1119.3,65.2 1120.2,64.3 1121.3,64.1 1122.5,64.3 1123.3,65 1123.8,65.7 1123.7,66.2 1123.4,66.3 1122.9,65.8 1122.6,64.8 1122.7,63.6 1123.4,62.6 1124.4,62.1 1125.6,62.1 1126.6,62.5 1127.3,63.3 1127.5,64 1127.2,64.3 1126.8,64 1126.4,63.3 1126.3,62.2 1126.7,61.1 1127.5,60.2 1128.6,59.9 1129.8,60.2 1130.7,60.8 1131.1,61.6 1131.1,62.1 1130.7,62.2 1130.2,61.6 1129.9,60.7 1130.1,59.5 1130.7,58.5 1131.7,58 1132.9,58 1133.9,58.4 1134.6,59.2 1134.8,59.9 1134.6,60.2 1134.1,59.9 1133.7,59.2 1133.6,58.1 1134,56.9 1134.8,56.1 1136,55.8 1137.1,56.1 1138,56.7 1138.4,57.5 1138.4,58 1138,58.1 1137.5,57.5 1137.3,56.6 1137.4,55.4 1138,54.4 1139,53.9 1140.2,53.8 1141.3,54.3 1141.9,55.1 1142.1,55.7 1141.9,56 1141.4,55.8 1141,55 1140.9,54 1141.3,52.8 1142.2,52 1143.3,51.7 1144.4,52 1145.3,52.6 1145.8,53.4 1145.7,53.9 1145.3,53.9" fill="none" stroke="#2ab040" stroke-width="1.5" stroke-linecap="round"/>
<path d="M1110.5,80.7 1111.6,80.4 1112.7,80.5 1113.6,81.1 1114,81.8 1114,82.3 1113.6,82.4 1113.2,81.9 1112.9,81 1113,79.9 1113.6,78.9 1114.6,78.3 1115.8,78.2 1116.8,78.6 1117.5,79.3 1117.7,79.9 1117.4,80.2 1117,80 1116.5,79.3 1116.5,78.2 1116.8,77.1 1117.6,76.3 1118.8,76 1119.9,76.1 1120.8,76.7 1121.2,77.4 1121.2,77.9 1120.8,78 1120.3,77.5 1120,76.6 1120.2,75.5 1120.8,74.5 1121.8,73.9 1122.9,73.8 1124,74.2 1124.6,74.9 1124.8,75.5 1124.6,75.8 1124.1,75.6 1123.7,74.9 1123.6,73.8" fill="none" stroke="#14762a" stroke-width="2.3" stroke-linecap="round"/><path d="M1110.5,80.7 1111.6,80.4 1112.7,80.5 1113.6,81.1 1114,81.8 1114,82.3 1113.6,82.4 1113.2,81.9 1112.9,81 1113,79.9 1113.6,78.9 1114.6,78.3 1115.8,78.2 1116.8,78.6 1117.5,79.3 1117.7,79.9 1117.4,80.2 1117,80 1116.5,79.3 1116.5,78.2 1116.8,77.1 1117.6,76.3 1118.8,76 1119.9,76.1 1120.8,76.7 1121.2,77.4 1121.2,77.9 1120.8,78 1120.3,77.5 1120,76.6 1120.2,75.5 1120.8,74.5 1121.8,73.9 1122.9,73.8 1124,74.2 1124.6,74.9 1124.8,75.5 1124.6,75.8 1124.1,75.6 1123.7,74.9 1123.6,73.8" fill="none" stroke="#2ab040" stroke-width="1.4" stroke-linecap="round"/>
<path d="M1149,49.5 1150,49.7 1150.9,49.7 1151.1,48.3 1151.2,46.6 1151.9,46.1 1153.2,46.9 1154.6,48.1 1155.7,48.6 1156.2,47.6 1156.2,45.7 1156.3,44.1 1157.1,43.7 1158.4,44.6 1159.9,45.9 1160.9,46.2 1161.3,45.1" fill="none" stroke="#1b8a30" stroke-width="1.5" stroke-linecap="round" stroke-linejoin="round"/><path d="M1149,49.5 1150,49.7 1150.9,49.7 1151.1,48.3 1151.2,46.6 1151.9,46.1 1153.2,46.9 1154.6,48.1 1155.7,48.6 1156.2,47.6 1156.2,45.7 1156.3,44.1 1157.1,43.7 1158.4,44.6 1159.9,45.9 1160.9,46.2 1161.3,45.1" fill="none" stroke="#35b84e" stroke-width="0.60" stroke-linecap="round" stroke-linejoin="round" opacity="0.7"/>
<path d="M1128.8,80.6 Q1148.4,78.3 1160,62 M1131.7,79.5 Q1150.6,79 1161.5,64.5 M1134.5,78.5 Q1152.7,79.7 1163,67 M1137.3,77.4 Q1154.9,80.4 1164.5,69.5 M1140.1,76.2 Q1157.1,81.1 1166,72" fill="none" stroke="#23552d" stroke-width="0.7" opacity="0.8"/>
<path d="M1032.2,195.8 1032.6,196.5 1033.3,197.1 1034.4,197.4 1035.5,197.8 1036.2,198.4 1036.6,199.1 1036.5,200.1 1036.1,201.2 1035.8,202.3 1035.8,203.2 1036.2,203.9 1037.1,204.4 M1038.6,190.1 1039.7,190.4 1040.6,190.8 1041.1,191.4 1041.2,192.3 1041,193.4 1040.7,194.5 1040.6,195.4 1040.9,196.2 1041.6,196.7 1042.6,197.1 1043.7,197.3 1044.6,197.8 1045.1,198.4 1045.2,199.3 1045,200.3 1044.7,201.4 1044.6,202.4 M1046.5,187.6 1047.3,188 1047.7,188.7 1047.7,189.7 1047.5,190.8 1047.4,191.9 1047.5,192.8 1048.1,193.4 1049.1,193.8 1050.2,194 1051.3,194.3 1052,194.8 1052.3,195.6 1052.2,196.6 1052,197.8 1051.9,198.9 M1048.7,180.3 1049.9,180.5 1051,180.8 1051.7,181.3 1052,182.1 1052,183.2 1051.8,184.4 1051.8,185.5 1052.2,186.2 1053,186.7 1054.2,186.9 1055.3,187.1 M1055.9,176 1057.1,176.1 1058.2,176.2 1059,176.6 1059.4,177.4 1059.5,178.5 1059.4,179.6 1059.5,180.7 1059.9,181.4 1060.8,181.8 1061.9,181.9 1063,182 1064,182.2 1064.6,182.8 M1063,171.3 1063.9,171.5 1064.6,172.1 1064.8,173 1064.9,174.2 1064.9,175.3 1065.2,176.2 1065.8,176.7 1066.8,176.9 1068,176.9 1069.1,177 1069.9,177.3 1070.4,178 1070.6,179 1070.6,180.2 1070.7,181.3 1071.1,182 1071.9,182.4 M1066.2,167.4 1067.4,167.4 1068.5,167.5 1069.3,167.8 1069.7,168.6 1069.8,169.7 1069.8,170.9 1070,171.9 1070.5,172.6 1071.4,172.9 1072.6,173 1073.7,173 1074.7,173.2 1075.3,173.8 1075.5,174.7 1075.6,175.9 1075.7,177.1 1076,177.9 M1071,160.5 1071.2,161.5 1071.8,162.2 1072.6,162.4 1073.7,162.4 1074.9,162.3 1075.9,162.4 1076.6,162.8 1077,163.7 1077.1,164.8 1077.2,165.9 1077.5,166.9 1078.2,167.4 M1076.6,156.5 1077.1,157.1 1077.9,157.4 1079,157.3 1080.1,157.1 1081.1,157.1 1081.9,157.5 1082.3,158.2 1082.5,159.2 1082.7,160.4 1083,161.3 1083.5,161.9 1084.4,162.1 1085.4,162.1 1086.5,161.9 1087.5,161.9 M1081,150.5 1082.1,150.4 1083.2,150.2 1084.2,150.1 1085,150.5 1085.5,151.2 1085.8,152.3 1086,153.5 1086.4,154.4 1087,154.9 1088,155 1089.1,154.8 1090.2,154.6 M1087.6,143.5 1088.5,143.5 1089.1,144 1089.5,144.9 1089.8,146 1090.1,147.1 1090.6,147.8 1091.4,148.1 1092.4,148 1093.5,147.7 1094.6,147.5 1095.4,147.6 1096,148.2 1096.4,149.1 1096.7,150.2 1097.1,151.2 1097.6,151.9 1098.4,152.2 M1090.9,137.5 1091.8,137.6 1092.4,138.2 1092.8,139.2 1093.2,140.3 1093.5,141.3 1094.1,141.9 1095,142.1 1096.1,141.9 1097.2,141.6 1098.2,141.5 1099,141.7 1099.6,142.5 1099.9,143.6 1100.3,144.7 1100.7,145.6 1101.4,146 M1096.7,133.9 1097.7,133.7 1098.8,133.3 1099.8,133 1100.7,133.1 1101.4,133.6 1101.8,134.6 1102.2,135.7 1102.7,136.6 1103.4,137.2 1104.2,137.2 1105.3,136.9 1106.4,136.5" fill="none" stroke="#b4c2b4" stroke-width="0.7"/><path d="M1026.6,173.5 L1032.2,192.9 L1031.5,193.1 L1034,196 L1034.5,192.2 L1033.8,192.4 L1028.2,173Z M1028.7,171.2 L1036.1,192.8 L1035.3,193.1 L1038,195.9 L1038.4,192.1 L1037.6,192.3 L1030.2,170.6Z M1030.7,168.8 L1037.6,187.7 L1036.9,188 L1039.6,190.7 L1039.9,186.9 L1039.1,187.2 L1032.2,168.3Z M1032.8,166.5 L1041.1,188.1 L1040.3,188.4 L1043.1,191.1 L1043.3,187.3 L1042.6,187.6 L1034.2,165.9Z M1034.8,164.2 L1044.8,186.2 L1044,186.5 L1046.9,189 L1047,185.2 L1046.2,185.5 L1036.3,163.5Z M1036.8,161.9 L1046.9,183.6 L1046.2,183.9 L1049.1,186.4 L1049.1,182.6 L1048.4,182.9 L1038.3,161.2Z M1038.9,159.5 L1047.9,177.8 L1047.2,178.2 L1050.2,180.6 L1050.1,176.8 L1049.4,177.1 L1040.3,158.8Z M1040.9,157.2 L1051.5,175.6 L1050.8,176 L1053.9,178.2 L1053.5,174.4 L1052.9,174.8 L1042.3,156.4Z M1043,154.9 L1055.2,173.8 L1054.5,174.3 L1057.7,176.3 L1057.2,172.5 L1056.5,173 L1044.3,154Z M1045,152.6 L1058.7,172.7 L1058.1,173.1 L1061.4,175.1 L1060.7,171.3 L1060.1,171.8 L1046.3,151.7Z M1047.1,150.3 L1061.4,170.2 L1060.8,170.7 L1064.1,172.6 L1063.4,168.8 L1062.7,169.3 L1048.4,149.3Z M1049.1,147.9 L1062,166.5 L1061.3,167 L1064.6,168.9 L1063.9,165.1 L1063.3,165.6 L1050.4,147Z M1051.1,145.6 L1065.5,165.4 L1064.9,165.9 L1068.2,167.8 L1067.4,164 L1066.8,164.5 L1052.4,144.6Z M1053.2,143.2 L1067.2,162.6 L1066.5,163 L1069.9,164.9 L1069.1,161.2 L1068.5,161.6 L1054.5,142.3Z M1055.2,140.9 L1070.2,158.5 L1069.6,159 L1073,160.6 L1072,156.9 L1071.4,157.5 L1056.5,139.9Z M1057.3,138.6 L1074.7,157.2 L1074.1,157.7 L1077.7,159.2 L1076.5,155.5 L1075.9,156.1 L1058.5,137.5Z M1059.3,136.3 L1076.2,154.2 L1075.6,154.7 L1079.2,156.2 L1077.9,152.5 L1077.3,153.1 L1060.5,135.2Z M1061.4,133.9 L1077.9,150.3 L1077.3,150.8 L1080.9,152.1 L1079.6,148.5 L1079,149.1 L1062.5,132.8Z M1063.4,131.6 L1080.4,148.2 L1079.9,148.8 L1083.5,150.1 L1082.1,146.5 L1081.6,147.1 L1064.5,130.5Z M1065.5,129.3 L1082.8,144.8 L1082.3,145.4 L1086,146.5 L1084.4,143 L1083.9,143.6 L1066.5,128.1Z M1067.5,126.9 L1086.1,142.9 L1085.5,143.5 L1089.2,144.5 L1087.6,141 L1087.1,141.6 L1068.6,125.7Z M1069.6,124.6 L1086.9,137.9 L1086.4,138.5 L1090.1,139.4 L1088.3,136 L1087.8,136.6 L1070.6,123.4Z M1071.6,122.3 L1089.3,136.9 L1088.8,137.5 L1092.5,138.5 L1090.8,135.1 L1090.3,135.7 L1072.6,121Z M1073.6,119.9 L1094,136.7 L1093.4,137.3 L1097.2,138.3 L1095.5,134.8 L1095,135.4 L1074.6,118.7Z M1075.7,117.6 L1096.2,131.7 L1095.7,132.4 L1099.5,133 L1097.5,129.7 L1097.1,130.4 L1076.6,116.3Z M1077.8,115.3 L1098.3,130.7 L1097.8,131.3 L1101.6,132.1 L1099.7,128.7 L1099.3,129.4 L1078.7,114Z" fill="#24a53b" stroke="#17882c" stroke-width="0.35"/>
<path d="M1011.4,163.7 L1066,106" stroke="#e7b7dc" stroke-width="55.2" opacity="0.36" fill="none"/><circle cx="1008" cy="163" r="24" fill="#e7b7dc" opacity="0.36"/>
<path d="M997.5,148.5 L991,144.4 M999.6,146.5 L993.9,140.9 M1001.6,144.6 L996.1,140 M1003.7,142.6 L998.1,138.7 M1005.8,140.6 L1001.5,134.8 M1007.8,138.7 L1002.9,133.1 M1009.9,136.7 L1005.3,131.9 M1012,134.7 L1007.7,129.4 M1014,132.8 L1008,128.8 M1016.1,130.8 L1009.7,126.9 M1018.2,128.8 L1012.7,125 M1020.2,126.9 L1016.2,121.3 M1022.3,124.9 L1016,120.7 M1024.4,122.9 L1017.9,119.3 M1026.4,120.9 L1021,117.4 M1028.5,119 L1023.2,115.1 M1030.6,117 L1026.4,112.3 M1032.6,115 L1026.4,111.4 M1034.7,113.1 L1029.3,109.2 M1036.8,111.1 L1031.6,107.6 M1038.8,109.1 L1034.5,103.9 M1040.9,107.2 L1036.6,102 M1043,105.2 L1038.8,99.9 M1045,103.2 L1039.4,99.7 M1047.1,101.3 L1043.7,96.2 M1049.2,99.3 L1044.8,93.8 M1051.2,97.3 L1046.5,92.8 M1053.3,95.3 L1050,90.3 M1055.3,93.3 L1050.6,89 M1057.2,91.2 L1053,86.4 M1027.3,176.7 L1033.1,180.3 M1029.2,174.6 L1033.5,180.7 M1031,172.4 L1035,178.2 M1032.9,170.2 L1038.6,174.9 M1034.7,168 L1040,174 M1036.6,165.9 L1041.9,170.7 M1038.4,163.7 L1043.5,168 M1040.3,161.5 L1046.4,166.2 M1042.1,159.4 L1048,164.1 M1044,157.2 L1049.4,161.3 M1045.9,155 L1050.6,159.8 M1047.7,152.8 L1052.4,158 M1049.6,150.7 L1054.1,155.3 M1051.4,148.5 L1056.5,153.6 M1053.3,146.3 L1057.7,151.1 M1055.1,144.2 L1060.6,147.5 M1057,142 L1062.3,145.6 M1058.8,139.8 L1062.9,145.7 M1060.7,137.6 L1066.4,141.6 M1062.5,135.5 L1067.7,140 M1064.4,133.3 L1068.6,138 M1066.2,131.1 L1070.9,136.3 M1068.1,129 L1073.8,133.2 M1069.9,126.8 L1075.7,131.2 M1071.8,124.6 L1076.7,128.8 M1073.6,122.4 L1078.3,126.6 M1075.5,120.3 L1080.3,124.2 M1077.3,118.1 L1081.4,123.8 M1079.3,116 L1083.9,121 M1081.2,113.9 L1086.4,118.4 M1021.9,172.8 L1027.5,177.9 M1019.1,175.9 L1023.9,181.8 M1015.7,178.2 L1019.7,184.3 M1011.8,179.6 L1012.9,187.3 M1007.7,180 L1008.1,186.8 M1003.6,179.4 L1002,186.7 M999.8,177.9 L997.2,184.3 M996.4,175.5 L991.1,181 M993.8,172.3 L988.3,176.6 M992,168.6 L985.4,171.8 M991.1,164.6 L983.7,165.8 M991.2,160.5 L984.2,159.7 M992.3,156.5 L986,153.5 M994.3,152.9 L988.3,148.3 M1061.5,94 L1058.3,88.7 M1064.5,92.2 L1063.5,86.2 M1067.8,92.3 L1069,86.1 M1070.7,94.2 L1074.5,88.4 M1073.1,97.8 L1078.8,93.7 M1074.5,102.4 L1080.7,100.8 M1074.7,107.6 L1081.6,108.4 M1073.7,112.5 L1079.7,115.7" fill="none" stroke="#cf9ccf" stroke-width="0.4"/><g fill="#ad2d48"><circle cx="991" cy="144.4" r="0.7"/><circle cx="993.9" cy="140.9" r="0.7"/><circle cx="996.1" cy="140" r="0.7"/><circle cx="998.1" cy="138.7" r="0.7"/><circle cx="1001.5" cy="134.8" r="0.7"/><circle cx="1002.9" cy="133.1" r="0.7"/><circle cx="1005.3" cy="131.9" r="0.7"/><circle cx="1007.7" cy="129.4" r="0.7"/><circle cx="1008" cy="128.8" r="0.7"/><circle cx="1009.7" cy="126.9" r="0.7"/><circle cx="1012.7" cy="125" r="0.7"/><circle cx="1016.2" cy="121.3" r="0.7"/><circle cx="1016" cy="120.7" r="0.7"/><circle cx="1017.9" cy="119.3" r="0.7"/><circle cx="1021" cy="117.4" r="0.7"/><circle cx="1023.2" cy="115.1" r="0.7"/><circle cx="1026.4" cy="112.3" r="0.7"/><circle cx="1026.4" cy="111.4" r="0.7"/><circle cx="1029.3" cy="109.2" r="0.7"/><circle cx="1031.6" cy="107.6" r="0.7"/><circle cx="1034.5" cy="103.9" r="0.7"/><circle cx="1036.6" cy="102" r="0.7"/><circle cx="1038.8" cy="99.9" r="0.7"/><circle cx="1039.4" cy="99.7" r="0.7"/><circle cx="1043.7" cy="96.2" r="0.7"/><circle cx="1044.8" cy="93.8" r="0.7"/><circle cx="1046.5" cy="92.8" r="0.7"/><circle cx="1050" cy="90.3" r="0.7"/><circle cx="1050.6" cy="89" r="0.7"/><circle cx="1053" cy="86.4" r="0.7"/><circle cx="1033.1" cy="180.3" r="0.7"/><circle cx="1033.5" cy="180.7" r="0.7"/><circle cx="1035" cy="178.2" r="0.7"/><circle cx="1038.6" cy="174.9" r="0.7"/><circle cx="1040" cy="174" r="0.7"/><circle cx="1041.9" cy="170.7" r="0.7"/><circle cx="1043.5" cy="168" r="0.7"/><circle cx="1046.4" cy="166.2" r="0.7"/><circle cx="1048" cy="164.1" r="0.7"/><circle cx="1049.4" cy="161.3" r="0.7"/><circle cx="1050.6" cy="159.8" r="0.7"/><circle cx="1052.4" cy="158" r="0.7"/><circle cx="1054.1" cy="155.3" r="0.7"/><circle cx="1056.5" cy="153.6" r="0.7"/><circle cx="1057.7" cy="151.1" r="0.7"/><circle cx="1060.6" cy="147.5" r="0.7"/><circle cx="1062.3" cy="145.6" r="0.7"/><circle cx="1062.9" cy="145.7" r="0.7"/><circle cx="1066.4" cy="141.6" r="0.7"/><circle cx="1067.7" cy="140" r="0.7"/><circle cx="1068.6" cy="138" r="0.7"/><circle cx="1070.9" cy="136.3" r="0.7"/><circle cx="1073.8" cy="133.2" r="0.7"/><circle cx="1075.7" cy="131.2" r="0.7"/><circle cx="1076.7" cy="128.8" r="0.7"/><circle cx="1078.3" cy="126.6" r="0.7"/><circle cx="1080.3" cy="124.2" r="0.7"/><circle cx="1081.4" cy="123.8" r="0.7"/><circle cx="1083.9" cy="121" r="0.7"/><circle cx="1086.4" cy="118.4" r="0.7"/><circle cx="1027.5" cy="177.9" r="0.7"/><circle cx="1023.9" cy="181.8" r="0.7"/><circle cx="1019.7" cy="184.3" r="0.7"/><circle cx="1012.9" cy="187.3" r="0.7"/><circle cx="1008.1" cy="186.8" r="0.7"/><circle cx="1002" cy="186.7" r="0.7"/><circle cx="997.2" cy="184.3" r="0.7"/><circle cx="991.1" cy="181" r="0.7"/><circle cx="988.3" cy="176.6" r="0.7"/><circle cx="985.4" cy="171.8" r="0.7"/><circle cx="983.7" cy="165.8" r="0.7"/><circle cx="984.2" cy="159.7" r="0.7"/><circle cx="986" cy="153.5" r="0.7"/><circle cx="988.3" cy="148.3" r="0.7"/><circle cx="1058.3" cy="88.7" r="0.7"/><circle cx="1063.5" cy="86.2" r="0.7"/><circle cx="1069" cy="86.1" r="0.7"/><circle cx="1074.5" cy="88.4" r="0.7"/><circle cx="1078.8" cy="93.7" r="0.7"/><circle cx="1080.7" cy="100.8" r="0.7"/><circle cx="1081.6" cy="108.4" r="0.7"/><circle cx="1079.7" cy="115.7" r="0.7"/></g>
<path d="M992.3,152.4 991.6,151.4 991.9,150.9 993.2,150 993.4,148.7 992.4,147.8 990.9,147.7 989.4,147.6 988.6,146.6 988.9,145.3 990.2,144.5 991.4,143.6 991.5,142.3 990.6,141.4 989,141.4 987.6,141.3 986.7,140.3 987,139 988.3,138.2 989.4,137.2 989.5,135.9 988.5,135.1 M1000.2,144.9 999.2,143.8 999.1,143 1000.2,142.3 1001.1,141.2 1000.8,140 999.6,139.4 998,139.4 996.8,138.9 996.4,137.6 997.3,136.6 998.7,135.9 999.6,134.8 999.3,133.6 998.1,133 996.5,133 995.3,132.4 995,131.1 995.9,130.1 997.3,129.4 998.2,128.4 997.9,127.1 M1008,136.7 1007.9,136.4 1006.8,136 1005.7,135 1006.1,133.8 1007.5,133.1 1008.7,132.3 1009,131.1 1008.3,130.1 1006.8,129.9 1005.4,129.6 1004.6,128.6 1005,127.3 1006.3,126.6 1007.6,126 1008.2,124.8 1007.6,123.7 1006.2,123.3 1004.7,123.1 1003.9,122.1 1004.1,120.8 M1016.1,129.6 1016.2,128.2 1015.6,127.7 1014.2,127.8 1013,127.2 1012.8,126 1013.7,124.9 1015,123.9 1015.4,122.6 1014.6,121.6 1013.1,121.5 1011.6,121.8 1010.4,121.1 1010.3,119.8 1011.3,118.7 1012.5,117.7 1012.7,116.4 1011.8,115.5 1010.3,115.5 1008.8,115.7 1007.7,115 1007.6,113.7 M1024,121.9 1024.3,121.3 1024.8,120 1024.6,118.9 1023.2,118.7 1021.7,118.7 1020.8,117.8 1020.9,116.6 1022,115.7 1023.3,114.9 1023.8,113.8 1023.2,112.7 1021.9,112.3 1020.4,112.3 1019.3,111.6 1019.2,110.3 1020.2,109.4 1021.6,108.7 1022.4,107.7 1022.2,106.5 1021,105.9 1019.5,105.8 1018.3,105.2 M1032.1,114.4 1031.1,113.4 1031,112.7 1032.1,111.9 1032.8,110.8 1032.3,109.6 1031.1,109.2 1029.5,109.3 1028.3,108.9 1027.9,107.6 1028.7,106.5 1030,105.8 1030.8,104.7 1030.5,103.5 1029.3,102.9 1027.7,103 1026.4,102.6 1026,101.4 1026.7,100.3 1028,99.5 1029,98.5 1028.8,97.3 1027.7,96.6 M1040,106.9 1040.5,106 1040.9,104.7 1040.4,104 1038.9,103.8 1037.7,103.1 1037.5,101.9 1038.4,100.9 1039.8,100.4 1040.9,99.7 1041.1,98.4 1040.2,97.5 1038.7,97.2 1037.5,96.7 1037.1,95.5 1037.8,94.4 1039.2,93.9 1040.5,93.4 1041,92.3 1040.4,91.2 1039.1,90.7 1037.7,90.2 1037.1,89 1037.7,87.9 1039.1,87.4 1040.5,87.1 M1047.8,98.8 1047.9,98.4 1048.5,97.4 1048.8,96 1047.8,95.4 1046.3,95.5 1044.9,95.3 1044.2,94.3 1044.6,93 1045.9,92.2 1047,91.3 1047.1,90.1 1046.2,89.2 1044.7,89.1 1043.3,89 1042.4,88 1042.7,86.8 1043.9,86 1045.2,85.2 1045.7,84.1 1045,83 M1055.8,91.5 1055,90.4 1055.1,89.6 1056.3,89 1057,87.9 1056.6,86.7 1055.2,86.2 1053.7,86.2 1052.6,85.5 1052.4,84.2 1053.4,83.3 1054.9,82.6 1055.7,81.5 1055.3,80.3 1054,79.8 1052.5,79.7 1051.3,79 1051.2,77.8 1052.1,76.8 1053.6,76.2 1054.4,75.1 1054.1,73.9 1052.9,73.3 1051.3,73.2 M1011.9,144.6 1011.9,143.8 1011,143.7 1009.6,143.2 1009.3,141.9 1010.3,140.8 1011.7,140.1 1012.4,139.1 1012.1,137.8 1010.8,137.3 1009.2,137.3 1008.1,136.6 1007.9,135.3 1008.9,134.3 1010.4,133.7 1011.2,132.7 1011,131.5 1009.7,130.9 1008.2,130.7 1007,130 1007,128.7 1008,127.8 1009.5,127.3 M1021.9,134.7 1022,134.3 1022.8,133.5 1023.4,132.1 1022.4,131.3 1020.8,131.2 1019.5,130.7 1019.1,129.5 1019.8,128.4 1021.3,127.8 1022.4,126.9 1022.4,125.6 1021.3,124.8 1019.8,124.7 1018.4,124.3 1017.9,123.1 1018.6,122 1020,121.3 1021.1,120.4 1021.2,119.1 1020.1,118.3 1018.6,118.2 1017.2,117.9 1016.6,116.7 1017.3,115.5 1018.6,114.8 1019.7,114 1019.8,112.7 1018.8,111.8 M1031.9,125.4 1031.2,124.5 1030.6,123.3 1031.1,122.6 1032.6,122.1 1033.5,121.2 1033.3,119.9 1032.1,119.2 1030.6,119 1029.5,118.1 1029.6,116.9 1030.6,116 1032.1,115.6 1033.2,114.8 1033.1,113.5 1032.1,112.7 1030.6,112.4 1029.5,111.6 1029.3,110.4 1030.3,109.5 1031.8,109.1 1033,108.4 1033.2,107.2 1032.3,106.2 1030.8,105.8 M1041.7,115 1041.7,114.3 1040.8,114.1 1039.4,113.4 1039.4,112.1 1040.5,111.2 1041.9,110.5 1042.6,109.3 1042.1,108.1 1040.7,107.8 1039.1,107.7 1038.1,106.8 1038.1,105.5 1039.3,104.7 1040.7,104 1041.3,102.8 1040.8,101.7 1039.4,101.3 1037.8,101.2 1036.8,100.3 1036.9,99 1038.1,98.2 1039.5,97.5 1040.1,96.3 1039.5,95.2 M1051.8,105.7 1052.1,104.5 1052.2,103.3 1051.3,102.9 1049.8,102.9 1048.8,102 1048.9,100.8 1050,99.9 1051.3,99.1 1051.9,98 1051.3,96.9 1050,96.5 1048.4,96.5 1047.3,95.7 1047.3,94.5 1048.3,93.5 1049.7,92.9 1050.4,91.8 1050.1,90.6 1048.8,90.1 1047.3,90 1046.1,89.4 1045.9,88.1 1046.8,87.1 1048.2,86.5 1049.2,85.6 1049,84.3 M1061.6,95.5 1061,94.3 1061.2,93.7 1062.5,93.3 1063.4,92.3 1063.1,91.1 1061.9,90.4 1060.4,90.1 1059.5,89.2 1059.6,87.9 1060.8,87.2 1062.3,86.9 1063.3,86.1 1063.4,84.8 1062.4,84 1061,83.5 1059.9,82.7 1059.9,81.4 1060.9,80.6 1062.4,80.4 1063.7,79.8 1064,78.7 1063.3,77.6 1061.9,77 1060.8,76.3 1060.6,75" fill="none" stroke="#1b8a30" stroke-width="1.7" stroke-linecap="round" stroke-linejoin="round"/><path d="M992.3,152.4 991.6,151.4 991.9,150.9 993.2,150 993.4,148.7 992.4,147.8 990.9,147.7 989.4,147.6 988.6,146.6 988.9,145.3 990.2,144.5 991.4,143.6 991.5,142.3 990.6,141.4 989,141.4 987.6,141.3 986.7,140.3 987,139 988.3,138.2 989.4,137.2 989.5,135.9 988.5,135.1 M1000.2,144.9 999.2,143.8 999.1,143 1000.2,142.3 1001.1,141.2 1000.8,140 999.6,139.4 998,139.4 996.8,138.9 996.4,137.6 997.3,136.6 998.7,135.9 999.6,134.8 999.3,133.6 998.1,133 996.5,133 995.3,132.4 995,131.1 995.9,130.1 997.3,129.4 998.2,128.4 997.9,127.1 M1008,136.7 1007.9,136.4 1006.8,136 1005.7,135 1006.1,133.8 1007.5,133.1 1008.7,132.3 1009,131.1 1008.3,130.1 1006.8,129.9 1005.4,129.6 1004.6,128.6 1005,127.3 1006.3,126.6 1007.6,126 1008.2,124.8 1007.6,123.7 1006.2,123.3 1004.7,123.1 1003.9,122.1 1004.1,120.8 M1016.1,129.6 1016.2,128.2 1015.6,127.7 1014.2,127.8 1013,127.2 1012.8,126 1013.7,124.9 1015,123.9 1015.4,122.6 1014.6,121.6 1013.1,121.5 1011.6,121.8 1010.4,121.1 1010.3,119.8 1011.3,118.7 1012.5,117.7 1012.7,116.4 1011.8,115.5 1010.3,115.5 1008.8,115.7 1007.7,115 1007.6,113.7 M1024,121.9 1024.3,121.3 1024.8,120 1024.6,118.9 1023.2,118.7 1021.7,118.7 1020.8,117.8 1020.9,116.6 1022,115.7 1023.3,114.9 1023.8,113.8 1023.2,112.7 1021.9,112.3 1020.4,112.3 1019.3,111.6 1019.2,110.3 1020.2,109.4 1021.6,108.7 1022.4,107.7 1022.2,106.5 1021,105.9 1019.5,105.8 1018.3,105.2 M1032.1,114.4 1031.1,113.4 1031,112.7 1032.1,111.9 1032.8,110.8 1032.3,109.6 1031.1,109.2 1029.5,109.3 1028.3,108.9 1027.9,107.6 1028.7,106.5 1030,105.8 1030.8,104.7 1030.5,103.5 1029.3,102.9 1027.7,103 1026.4,102.6 1026,101.4 1026.7,100.3 1028,99.5 1029,98.5 1028.8,97.3 1027.7,96.6 M1040,106.9 1040.5,106 1040.9,104.7 1040.4,104 1038.9,103.8 1037.7,103.1 1037.5,101.9 1038.4,100.9 1039.8,100.4 1040.9,99.7 1041.1,98.4 1040.2,97.5 1038.7,97.2 1037.5,96.7 1037.1,95.5 1037.8,94.4 1039.2,93.9 1040.5,93.4 1041,92.3 1040.4,91.2 1039.1,90.7 1037.7,90.2 1037.1,89 1037.7,87.9 1039.1,87.4 1040.5,87.1 M1047.8,98.8 1047.9,98.4 1048.5,97.4 1048.8,96 1047.8,95.4 1046.3,95.5 1044.9,95.3 1044.2,94.3 1044.6,93 1045.9,92.2 1047,91.3 1047.1,90.1 1046.2,89.2 1044.7,89.1 1043.3,89 1042.4,88 1042.7,86.8 1043.9,86 1045.2,85.2 1045.7,84.1 1045,83 M1055.8,91.5 1055,90.4 1055.1,89.6 1056.3,89 1057,87.9 1056.6,86.7 1055.2,86.2 1053.7,86.2 1052.6,85.5 1052.4,84.2 1053.4,83.3 1054.9,82.6 1055.7,81.5 1055.3,80.3 1054,79.8 1052.5,79.7 1051.3,79 1051.2,77.8 1052.1,76.8 1053.6,76.2 1054.4,75.1 1054.1,73.9 1052.9,73.3 1051.3,73.2 M1011.9,144.6 1011.9,143.8 1011,143.7 1009.6,143.2 1009.3,141.9 1010.3,140.8 1011.7,140.1 1012.4,139.1 1012.1,137.8 1010.8,137.3 1009.2,137.3 1008.1,136.6 1007.9,135.3 1008.9,134.3 1010.4,133.7 1011.2,132.7 1011,131.5 1009.7,130.9 1008.2,130.7 1007,130 1007,128.7 1008,127.8 1009.5,127.3 M1021.9,134.7 1022,134.3 1022.8,133.5 1023.4,132.1 1022.4,131.3 1020.8,131.2 1019.5,130.7 1019.1,129.5 1019.8,128.4 1021.3,127.8 1022.4,126.9 1022.4,125.6 1021.3,124.8 1019.8,124.7 1018.4,124.3 1017.9,123.1 1018.6,122 1020,121.3 1021.1,120.4 1021.2,119.1 1020.1,118.3 1018.6,118.2 1017.2,117.9 1016.6,116.7 1017.3,115.5 1018.6,114.8 1019.7,114 1019.8,112.7 1018.8,111.8 M1031.9,125.4 1031.2,124.5 1030.6,123.3 1031.1,122.6 1032.6,122.1 1033.5,121.2 1033.3,119.9 1032.1,119.2 1030.6,119 1029.5,118.1 1029.6,116.9 1030.6,116 1032.1,115.6 1033.2,114.8 1033.1,113.5 1032.1,112.7 1030.6,112.4 1029.5,111.6 1029.3,110.4 1030.3,109.5 1031.8,109.1 1033,108.4 1033.2,107.2 1032.3,106.2 1030.8,105.8 M1041.7,115 1041.7,114.3 1040.8,114.1 1039.4,113.4 1039.4,112.1 1040.5,111.2 1041.9,110.5 1042.6,109.3 1042.1,108.1 1040.7,107.8 1039.1,107.7 1038.1,106.8 1038.1,105.5 1039.3,104.7 1040.7,104 1041.3,102.8 1040.8,101.7 1039.4,101.3 1037.8,101.2 1036.8,100.3 1036.9,99 1038.1,98.2 1039.5,97.5 1040.1,96.3 1039.5,95.2 M1051.8,105.7 1052.1,104.5 1052.2,103.3 1051.3,102.9 1049.8,102.9 1048.8,102 1048.9,100.8 1050,99.9 1051.3,99.1 1051.9,98 1051.3,96.9 1050,96.5 1048.4,96.5 1047.3,95.7 1047.3,94.5 1048.3,93.5 1049.7,92.9 1050.4,91.8 1050.1,90.6 1048.8,90.1 1047.3,90 1046.1,89.4 1045.9,88.1 1046.8,87.1 1048.2,86.5 1049.2,85.6 1049,84.3 M1061.6,95.5 1061,94.3 1061.2,93.7 1062.5,93.3 1063.4,92.3 1063.1,91.1 1061.9,90.4 1060.4,90.1 1059.5,89.2 1059.6,87.9 1060.8,87.2 1062.3,86.9 1063.3,86.1 1063.4,84.8 1062.4,84 1061,83.5 1059.9,82.7 1059.9,81.4 1060.9,80.6 1062.4,80.4 1063.7,79.8 1064,78.7 1063.3,77.6 1061.9,77 1060.8,76.3 1060.6,75" fill="none" stroke="#35b84e" stroke-width="0.68" stroke-linecap="round" stroke-linejoin="round" opacity="0.7"/>
<linearGradient id="rb4" gradientUnits="userSpaceOnUse" x1="995.8" y1="148.8" x2="1027.1" y2="178.5"><stop offset="0" stop-color="#f7c832"/><stop offset="0.28" stop-color="#ffe541"/><stop offset="0.6" stop-color="#fdd334"/><stop offset="1" stop-color="#efb42a"/></linearGradient><radialGradient id="rs4" gradientUnits="userSpaceOnUse" cx="1017.9" cy="157.6" r="27"><stop offset="0" stop-color="#fffef0"/><stop offset="0.1" stop-color="#fff68c"/><stop offset="0.4" stop-color="#fedf3c"/><stop offset="0.78" stop-color="#f7c62e"/><stop offset="1" stop-color="#e3a922"/></radialGradient><path d="M1005.9,180.9 L994.9,150.6 L1053.3,94 A8.8,17.5 -46.6 0 1 1078.7,118 L1033.9,171.3 Q1021.6,184.4 1005.9,180.9 Z" fill="url(#rb4)"/><circle cx="1008" cy="163" r="18" fill="url(#rs4)"/>
<path d="M1002.1,145.7 L1001.1,142.9 M1005,142.9 L1004,140.1 M1007.9,140.1 L1006.9,137.3 M1010.8,137.3 L1009.8,134.6 M1013.7,134.5 L1012.7,131.8 M1016.6,131.8 L1015.6,129 M1019.5,129 L1018.5,126.3 M1022.3,126.2 L1021.4,123.5 M1025.2,123.4 L1024.3,120.7 M1028.1,120.6 L1027.2,118 M1031,117.9 L1030.1,115.2 M1033.9,115.1 L1033,112.5 M1036.8,112.3 L1035.9,109.7 M1039.7,109.5 L1038.8,106.9 M1042.6,106.7 L1041.7,104.2 M1045.5,103.9 L1044.6,101.4 M1048.3,101.2 L1047.5,98.6 M1051.2,98.4 L1050.3,95.9 M1054.1,95.6 L1053.2,93.1 M1056.9,92.7 L1056,90.2 M1010.3,144.3 L1010.3,141.1 M1013.2,141.5 L1013.2,138.3 M1016,138.7 L1016,135.6 M1018.9,135.9 L1018.9,132.8 M1021.7,133 L1021.7,130 M1024.6,130.2 L1024.6,127.2 M1027.4,127.4 L1027.4,124.4 M1030.3,124.6 L1030.3,121.6 M1033.2,121.8 L1033.1,118.8 M1036,119 L1036,116 M1038.9,116.2 L1038.8,113.2 M1041.7,113.4 L1041.7,110.4 M1044.6,110.5 L1044.6,107.6 M1047.4,107.7 L1047.4,104.8 M1050.3,104.9 L1050.3,102 M1053.1,102.1 L1053.1,99.2 M1056,99.3 L1056,96.4 M1058.8,96.4 L1058.8,93.6 M1061.5,93.5 L1061.5,90.7 M1015.8,145.4 L1016.5,142.3 M1018.7,142.6 L1019.3,139.5 M1021.5,139.7 L1022.1,136.6 M1024.3,136.9 L1025,133.8 M1027.1,134 L1027.8,131 M1029.9,131.2 L1030.6,128.2 M1032.8,128.4 L1033.4,125.3 M1035.6,125.5 L1036.2,122.5 M1038.4,122.7 L1039,119.7 M1041.2,119.8 L1041.9,116.9 M1044,117 L1044.7,114 M1046.9,114.1 L1047.5,111.2 M1049.7,111.3 L1050.3,108.4 M1052.5,108.4 L1053.1,105.5 M1055.3,105.6 L1055.9,102.7 M1058.1,102.7 L1058.8,99.9 M1060.9,99.9 L1061.6,97.1 M1063.7,97 L1064.3,94.2 M1020.1,147.7 L1021.3,144.8 M1022.9,144.9 L1024.1,141.9 M1025.7,142 L1026.9,139.1 M1028.4,139.1 L1029.7,136.2 M1031.2,136.2 L1032.5,133.4 M1034,133.4 L1035.2,130.5 M1036.8,130.5 L1038,127.6 M1039.6,127.6 L1040.8,124.8 M1042.4,124.7 L1043.6,121.9 M1045.2,121.8 L1046.3,119.1 M1048,119 L1049.1,116.2 M1050.7,116.1 L1051.9,113.4 M1053.5,113.2 L1054.7,110.5 M1056.3,110.3 L1057.5,107.6 M1059.1,107.5 L1060.2,104.8 M1061.9,104.6 L1063,101.9 M1064.7,101.7 L1065.8,99 M1067.4,98.8 L1068.5,96.1 M1023.4,151 L1025.1,148.4 M1026.1,148.1 L1027.9,145.5 M1028.9,145.2 L1030.6,142.6 M1031.6,142.3 L1033.3,139.8 M1034.4,139.4 L1036.1,136.9 M1037.1,136.5 L1038.8,134 M1039.9,133.6 L1041.6,131.1 M1042.7,130.7 L1044.3,128.2 M1045.4,127.8 L1047,125.3 M1048.2,124.9 L1049.8,122.4 M1050.9,121.9 L1052.5,119.5 M1053.7,119 L1055.3,116.6 M1056.4,116.1 L1058,113.7 M1059.2,113.2 L1060.8,110.8 M1061.9,110.3 L1063.5,107.9 M1064.7,107.4 L1066.2,105 M1067.4,104.5 L1069,102.1 M1070.2,101.6 L1071.7,99.2 M1025.7,155.4 L1027.9,153.2 M1028.5,152.4 L1030.6,150.3 M1031.2,149.5 L1033.3,147.4 M1033.9,146.5 L1036,144.4 M1036.6,143.6 L1038.7,141.5 M1039.3,140.6 L1041.4,138.6 M1042.1,137.7 L1044.1,135.6 M1044.8,134.8 L1046.8,132.7 M1047.5,131.8 L1049.5,129.8 M1050.2,128.9 L1052.2,126.9 M1052.9,125.9 L1054.9,123.9 M1055.7,123 L1057.6,121 M1058.4,120.1 L1060.3,118.1 M1061.1,117.1 L1063,115.2 M1063.8,114.2 L1065.7,112.2 M1066.5,111.2 L1068.4,109.3 M1069.3,108.3 L1071.2,106.4 M1072,105.4 L1073.9,103.5 M1026.9,161.1 L1029.3,159.6 M1029.5,158.1 L1031.9,156.6 M1032.2,155.1 L1034.6,153.6 M1034.9,152.2 L1037.3,150.7 M1037.6,149.2 L1040,147.7 M1040.3,146.2 L1042.6,144.7 M1043,143.2 L1045.3,141.8 M1045.7,140.3 L1048,138.8 M1048.3,137.3 L1050.6,135.9 M1051,134.3 L1053.3,132.9 M1053.7,131.4 L1056,129.9 M1056.4,128.4 L1058.7,127 M1059.1,125.4 L1061.3,124 M1061.8,122.4 L1064,121 M1064.5,119.5 L1066.7,118.1 M1067.1,116.5 L1069.3,115.1 M1069.8,113.5 L1072,112.1 M1072.5,110.6 L1074.7,109.2 M1075.3,107.6 L1077.4,106.3 M1024.7,170.7 L1027.3,170 M1027.3,167.7 L1029.9,167 M1030,164.7 L1032.6,164 M1032.6,161.7 L1035.2,161 M1035.3,158.7 L1037.8,158 M1037.9,155.7 L1040.5,155 M1040.6,152.7 L1043.1,152 M1043.2,149.7 L1045.7,149 M1045.9,146.6 L1048.4,146 M1048.5,143.6 L1051,143 M1051.2,140.6 L1053.6,140 M1053.8,137.6 L1056.3,137 M1056.5,134.6 L1058.9,134 M1059.1,131.6 L1061.5,131 M1061.8,128.6 L1064.2,128 M1064.4,125.6 L1066.8,125 M1067.1,122.6 L1069.5,122 M1069.7,119.6 L1072.1,119 M1072.4,116.6 L1074.7,116 M1075.1,113.6 L1077.4,113 M1077.8,110.7 L1080.1,110.1 M1025.3,177.3 L1027.8,177.8 M1027.9,174.3 L1030.4,174.8 M1030.5,171.2 L1033,171.7 M1033.2,168.2 L1035.7,168.7 M1035.8,165.2 L1038.3,165.7 M1038.4,162.1 L1040.9,162.6 M1041,159.1 L1043.5,159.6 M1043.6,156.1 L1046.1,156.5 M1046.2,153 L1048.7,153.5 M1048.9,150 L1051.3,150.5 M1051.5,146.9 L1053.9,147.4 M1054.1,143.9 L1056.5,144.4 M1056.7,140.9 L1059.1,141.3 M1059.3,137.8 L1061.7,138.3 M1062,134.8 L1064.3,135.3 M1064.6,131.8 L1066.9,132.2 M1067.2,128.7 L1069.5,129.2 M1069.8,125.7 L1072.1,126.1 M1072.4,122.6 L1074.7,123.1 M1075,119.6 L1077.3,120.1 M1077.7,116.6 L1079.9,117" fill="none" stroke="#ad2d48" stroke-width="0.4" opacity="0.9"/><g fill="#ad2d48"><circle cx="1001.1" cy="142.9" r="0.7"/><circle cx="1004" cy="140.1" r="0.7"/><circle cx="1006.9" cy="137.3" r="0.7"/><circle cx="1009.8" cy="134.6" r="0.7"/><circle cx="1012.7" cy="131.8" r="0.7"/><circle cx="1015.6" cy="129" r="0.7"/><circle cx="1018.5" cy="126.3" r="0.7"/><circle cx="1021.4" cy="123.5" r="0.7"/><circle cx="1024.3" cy="120.7" r="0.7"/><circle cx="1027.2" cy="118" r="0.7"/><circle cx="1030.1" cy="115.2" r="0.7"/><circle cx="1033" cy="112.5" r="0.7"/><circle cx="1035.9" cy="109.7" r="0.7"/><circle cx="1038.8" cy="106.9" r="0.7"/><circle cx="1041.7" cy="104.2" r="0.7"/><circle cx="1044.6" cy="101.4" r="0.7"/><circle cx="1047.5" cy="98.6" r="0.7"/><circle cx="1050.3" cy="95.9" r="0.7"/><circle cx="1053.2" cy="93.1" r="0.7"/><circle cx="1056" cy="90.2" r="0.7"/><circle cx="1010.3" cy="141.1" r="0.7"/><circle cx="1013.2" cy="138.3" r="0.7"/><circle cx="1016" cy="135.6" r="0.7"/><circle cx="1018.9" cy="132.8" r="0.7"/><circle cx="1021.7" cy="130" r="0.7"/><circle cx="1024.6" cy="127.2" r="0.7"/><circle cx="1027.4" cy="124.4" r="0.7"/><circle cx="1030.3" cy="121.6" r="0.7"/><circle cx="1033.1" cy="118.8" r="0.7"/><circle cx="1036" cy="116" r="0.7"/><circle cx="1038.8" cy="113.2" r="0.7"/><circle cx="1041.7" cy="110.4" r="0.7"/><circle cx="1044.6" cy="107.6" r="0.7"/><circle cx="1047.4" cy="104.8" r="0.7"/><circle cx="1050.3" cy="102" r="0.7"/><circle cx="1053.1" cy="99.2" r="0.7"/><circle cx="1056" cy="96.4" r="0.7"/><circle cx="1058.8" cy="93.6" r="0.7"/><circle cx="1061.5" cy="90.7" r="0.7"/><circle cx="1016.5" cy="142.3" r="0.7"/><circle cx="1019.3" cy="139.5" r="0.7"/><circle cx="1022.1" cy="136.6" r="0.7"/><circle cx="1025" cy="133.8" r="0.7"/><circle cx="1027.8" cy="131" r="0.7"/><circle cx="1030.6" cy="128.2" r="0.7"/><circle cx="1033.4" cy="125.3" r="0.7"/><circle cx="1036.2" cy="122.5" r="0.7"/><circle cx="1039" cy="119.7" r="0.7"/><circle cx="1041.9" cy="116.9" r="0.7"/><circle cx="1044.7" cy="114" r="0.7"/><circle cx="1047.5" cy="111.2" r="0.7"/><circle cx="1050.3" cy="108.4" r="0.7"/><circle cx="1053.1" cy="105.5" r="0.7"/><circle cx="1055.9" cy="102.7" r="0.7"/><circle cx="1058.8" cy="99.9" r="0.7"/><circle cx="1061.6" cy="97.1" r="0.7"/><circle cx="1064.3" cy="94.2" r="0.7"/><circle cx="1021.3" cy="144.8" r="0.7"/><circle cx="1024.1" cy="141.9" r="0.7"/><circle cx="1026.9" cy="139.1" r="0.7"/><circle cx="1029.7" cy="136.2" r="0.7"/><circle cx="1032.5" cy="133.4" r="0.7"/><circle cx="1035.2" cy="130.5" r="0.7"/><circle cx="1038" cy="127.6" r="0.7"/><circle cx="1040.8" cy="124.8" r="0.7"/><circle cx="1043.6" cy="121.9" r="0.7"/><circle cx="1046.3" cy="119.1" r="0.7"/><circle cx="1049.1" cy="116.2" r="0.7"/><circle cx="1051.9" cy="113.4" r="0.7"/><circle cx="1054.7" cy="110.5" r="0.7"/><circle cx="1057.5" cy="107.6" r="0.7"/><circle cx="1060.2" cy="104.8" r="0.7"/><circle cx="1063" cy="101.9" r="0.7"/><circle cx="1065.8" cy="99" r="0.7"/><circle cx="1068.5" cy="96.1" r="0.7"/><circle cx="1025.1" cy="148.4" r="0.7"/><circle cx="1027.9" cy="145.5" r="0.7"/><circle cx="1030.6" cy="142.6" r="0.7"/><circle cx="1033.3" cy="139.8" r="0.7"/><circle cx="1036.1" cy="136.9" r="0.7"/><circle cx="1038.8" cy="134" r="0.7"/><circle cx="1041.6" cy="131.1" r="0.7"/><circle cx="1044.3" cy="128.2" r="0.7"/><circle cx="1047" cy="125.3" r="0.7"/><circle cx="1049.8" cy="122.4" r="0.7"/><circle cx="1052.5" cy="119.5" r="0.7"/><circle cx="1055.3" cy="116.6" r="0.7"/><circle cx="1058" cy="113.7" r="0.7"/><circle cx="1060.8" cy="110.8" r="0.7"/><circle cx="1063.5" cy="107.9" r="0.7"/><circle cx="1066.2" cy="105" r="0.7"/><circle cx="1069" cy="102.1" r="0.7"/><circle cx="1071.7" cy="99.2" r="0.7"/><circle cx="1027.9" cy="153.2" r="0.7"/><circle cx="1030.6" cy="150.3" r="0.7"/><circle cx="1033.3" cy="147.4" r="0.7"/><circle cx="1036" cy="144.4" r="0.7"/><circle cx="1038.7" cy="141.5" r="0.7"/><circle cx="1041.4" cy="138.6" r="0.7"/><circle cx="1044.1" cy="135.6" r="0.7"/><circle cx="1046.8" cy="132.7" r="0.7"/><circle cx="1049.5" cy="129.8" r="0.7"/><circle cx="1052.2" cy="126.9" r="0.7"/><circle cx="1054.9" cy="123.9" r="0.7"/><circle cx="1057.6" cy="121" r="0.7"/><circle cx="1060.3" cy="118.1" r="0.7"/><circle cx="1063" cy="115.2" r="0.7"/><circle cx="1065.7" cy="112.2" r="0.7"/><circle cx="1068.4" cy="109.3" r="0.7"/><circle cx="1071.2" cy="106.4" r="0.7"/><circle cx="1073.9" cy="103.5" r="0.7"/><circle cx="1029.3" cy="159.6" r="0.7"/><circle cx="1031.9" cy="156.6" r="0.7"/><circle cx="1034.6" cy="153.6" r="0.7"/><circle cx="1037.3" cy="150.7" r="0.7"/><circle cx="1040" cy="147.7" r="0.7"/><circle cx="1042.6" cy="144.7" r="0.7"/><circle cx="1045.3" cy="141.8" r="0.7"/><circle cx="1048" cy="138.8" r="0.7"/><circle cx="1050.6" cy="135.9" r="0.7"/><circle cx="1053.3" cy="132.9" r="0.7"/><circle cx="1056" cy="129.9" r="0.7"/><circle cx="1058.7" cy="127" r="0.7"/><circle cx="1061.3" cy="124" r="0.7"/><circle cx="1064" cy="121" r="0.7"/><circle cx="1066.7" cy="118.1" r="0.7"/><circle cx="1069.3" cy="115.1" r="0.7"/><circle cx="1072" cy="112.1" r="0.7"/><circle cx="1074.7" cy="109.2" r="0.7"/><circle cx="1077.4" cy="106.3" r="0.7"/><circle cx="1027.3" cy="170" r="0.7"/><circle cx="1029.9" cy="167" r="0.7"/><circle cx="1032.6" cy="164" r="0.7"/><circle cx="1035.2" cy="161" r="0.7"/><circle cx="1037.8" cy="158" r="0.7"/><circle cx="1040.5" cy="155" r="0.7"/><circle cx="1043.1" cy="152" r="0.7"/><circle cx="1045.7" cy="149" r="0.7"/><circle cx="1048.4" cy="146" r="0.7"/><circle cx="1051" cy="143" r="0.7"/><circle cx="1053.6" cy="140" r="0.7"/><circle cx="1056.3" cy="137" r="0.7"/><circle cx="1058.9" cy="134" r="0.7"/><circle cx="1061.5" cy="131" r="0.7"/><circle cx="1064.2" cy="128" r="0.7"/><circle cx="1066.8" cy="125" r="0.7"/><circle cx="1069.5" cy="122" r="0.7"/><circle cx="1072.1" cy="119" r="0.7"/><circle cx="1074.7" cy="116" r="0.7"/><circle cx="1077.4" cy="113" r="0.7"/><circle cx="1080.1" cy="110.1" r="0.7"/><circle cx="1027.8" cy="177.8" r="0.7"/><circle cx="1030.4" cy="174.8" r="0.7"/><circle cx="1033" cy="171.7" r="0.7"/><circle cx="1035.7" cy="168.7" r="0.7"/><circle cx="1038.3" cy="165.7" r="0.7"/><circle cx="1040.9" cy="162.6" r="0.7"/><circle cx="1043.5" cy="159.6" r="0.7"/><circle cx="1046.1" cy="156.5" r="0.7"/><circle cx="1048.7" cy="153.5" r="0.7"/><circle cx="1051.3" cy="150.5" r="0.7"/><circle cx="1053.9" cy="147.4" r="0.7"/><circle cx="1056.5" cy="144.4" r="0.7"/><circle cx="1059.1" cy="141.3" r="0.7"/><circle cx="1061.7" cy="138.3" r="0.7"/><circle cx="1064.3" cy="135.3" r="0.7"/><circle cx="1066.9" cy="132.2" r="0.7"/><circle cx="1069.5" cy="129.2" r="0.7"/><circle cx="1072.1" cy="126.1" r="0.7"/><circle cx="1074.7" cy="123.1" r="0.7"/><circle cx="1077.3" cy="120.1" r="0.7"/><circle cx="1079.9" cy="117" r="0.7"/></g>
<path d="M1024,160.4 1025.3,160 1026.6,160.6 1027.1,161.4 1026.6,161.5 1025.7,160.5 1025.5,159.1 1026.3,158.2 1027.7,158.3 1028.8,159.1 1028.7,159.6 1027.9,159.2 1027.2,157.9 1027.5,156.6 1028.8,156.2 1030.1,156.7 1030.6,157.5 1030.1,157.6 1029.2,156.6 1029,155.2 1029.8,154.3" fill="none" stroke="#14762a" stroke-width="2.4" stroke-linecap="round"/><path d="M1024,160.4 1025.3,160 1026.6,160.6 1027.1,161.4 1026.6,161.5 1025.7,160.5 1025.5,159.1 1026.3,158.2 1027.7,158.3 1028.8,159.1 1028.7,159.6 1027.9,159.2 1027.2,157.9 1027.5,156.6 1028.8,156.2 1030.1,156.7 1030.6,157.5 1030.1,157.6 1029.2,156.6 1029,155.2 1029.8,154.3" fill="none" stroke="#2ab040" stroke-width="1.5" stroke-linecap="round"/>
<path d="M1033.4,150.1 1034.7,149.7 1036,150.2 1036.6,151 1036,151.1 1035.1,150.1 1034.9,148.7 1035.7,147.8 1037.1,147.9 1038.2,148.7 1038.1,149.3 1037.3,148.8 1036.6,147.5 1036.9,146.2 1038.2,145.8 1039.5,146.4 1040.1,147.2 1039.5,147.2 1038.6,146.3 1038.4,144.9 1039.2,143.9" fill="none" stroke="#14762a" stroke-width="2.4" stroke-linecap="round"/><path d="M1033.4,150.1 1034.7,149.7 1036,150.2 1036.6,151 1036,151.1 1035.1,150.1 1034.9,148.7 1035.7,147.8 1037.1,147.9 1038.2,148.7 1038.1,149.3 1037.3,148.8 1036.6,147.5 1036.9,146.2 1038.2,145.8 1039.5,146.4 1040.1,147.2 1039.5,147.2 1038.6,146.3 1038.4,144.9 1039.2,143.9" fill="none" stroke="#2ab040" stroke-width="1.5" stroke-linecap="round"/>
<path d="M1042.8,139.7 1044.1,139.3 1045.4,139.9 1046,140.6 1045.4,140.7 1044.6,139.8 1044.3,138.3 1045.1,137.4 1046.6,137.6 1047.6,138.4 1047.6,138.9 1046.7,138.4 1046,137.1 1046.3,135.8 1047.6,135.4 1048.9,136 1049.5,136.8 1048.9,136.9 1048,135.9 1047.8,134.5 1048.6,133.6" fill="none" stroke="#14762a" stroke-width="2.4" stroke-linecap="round"/><path d="M1042.8,139.7 1044.1,139.3 1045.4,139.9 1046,140.6 1045.4,140.7 1044.6,139.8 1044.3,138.3 1045.1,137.4 1046.6,137.6 1047.6,138.4 1047.6,138.9 1046.7,138.4 1046,137.1 1046.3,135.8 1047.6,135.4 1048.9,136 1049.5,136.8 1048.9,136.9 1048,135.9 1047.8,134.5 1048.6,133.6" fill="none" stroke="#2ab040" stroke-width="1.5" stroke-linecap="round"/>
<path d="M1052.2,129.3 1053.5,128.9 1054.9,129.5 1055.4,130.3 1054.9,130.4 1054,129.4 1053.7,128 1054.5,127.1 1056,127.2 1057,128 1057,128.5 1056.1,128.1 1055.5,126.8 1055.7,125.5 1057,125.1 1058.3,125.6 1058.9,126.4 1058.4,126.5 1057.5,125.5 1057.2,124.1 1058,123.2" fill="none" stroke="#14762a" stroke-width="2.4" stroke-linecap="round"/><path d="M1052.2,129.3 1053.5,128.9 1054.9,129.5 1055.4,130.3 1054.9,130.4 1054,129.4 1053.7,128 1054.5,127.1 1056,127.2 1057,128 1057,128.5 1056.1,128.1 1055.5,126.8 1055.7,125.5 1057,125.1 1058.3,125.6 1058.9,126.4 1058.4,126.5 1057.5,125.5 1057.2,124.1 1058,123.2" fill="none" stroke="#2ab040" stroke-width="1.5" stroke-linecap="round"/>
<path d="M1061.7,119 1062.9,118.6 1064.3,119.1 1064.8,119.9 1064.3,120 1063.4,119 1063.1,117.6 1063.9,116.7 1065.4,116.8 1066.4,117.6 1066.4,118.2 1065.5,117.7 1064.9,116.4 1065.2,115.1 1066.4,114.7 1067.8,115.3 1068.3,116.1 1067.8,116.1 1066.9,115.2 1066.6,113.8 1067.4,112.8" fill="none" stroke="#14762a" stroke-width="2.4" stroke-linecap="round"/><path d="M1061.7,119 1062.9,118.6 1064.3,119.1 1064.8,119.9 1064.3,120 1063.4,119 1063.1,117.6 1063.9,116.7 1065.4,116.8 1066.4,117.6 1066.4,118.2 1065.5,117.7 1064.9,116.4 1065.2,115.1 1066.4,114.7 1067.8,115.3 1068.3,116.1 1067.8,116.1 1066.9,115.2 1066.6,113.8 1067.4,112.8" fill="none" stroke="#2ab040" stroke-width="1.5" stroke-linecap="round"/>
<path d="M1014.4,149.9 1015.8,148.8 1014,148.3 1012.4,147.7 1014,146.6 1015.2,145.6 1013.2,145.1 1011.8,144.5 1013.7,143.4 1014.6,142.4 1012.4,141.9 1011.3,141.3 M1024.2,139.9 1025.6,138.8 1023.8,138.3 1022.2,137.8 1023.8,136.6 1025,135.6 1023,135.1 1021.6,134.5 1023.5,133.4 1024.4,132.4 1022.2,131.9 1021.1,131.3 M1034,129.9 1035.4,128.8 1033.6,128.3 1032,127.8 1033.6,126.6 1034.8,125.6 1032.8,125.1 1031.5,124.5 1033.3,123.4 1034.2,122.4 1032,121.9 1031,121.3 M1043.8,119.9 1045.2,118.8 1043.4,118.3 1041.8,117.8 1043.4,116.6 1044.6,115.6 1042.6,115.1 1041.3,114.5 1043.1,113.4 1044,112.4 1041.8,111.9 1040.8,111.3 M1053.6,109.9 1055,108.8 1053.2,108.3 1051.6,107.8 1053.2,106.6 1054.4,105.6 1052.4,105.1 1051.1,104.5 1052.9,103.4 1053.8,102.4 1051.6,101.9 1050.6,101.3" fill="none" stroke="#1fa336" stroke-width="1.5" stroke-linecap="round" stroke-linejoin="round"/><path d="M1014.4,149.9 1015.8,148.8 1014,148.3 1012.4,147.7 1014,146.6 1015.2,145.6 1013.2,145.1 1011.8,144.5 1013.7,143.4 1014.6,142.4 1012.4,141.9 1011.3,141.3 M1024.2,139.9 1025.6,138.8 1023.8,138.3 1022.2,137.8 1023.8,136.6 1025,135.6 1023,135.1 1021.6,134.5 1023.5,133.4 1024.4,132.4 1022.2,131.9 1021.1,131.3 M1034,129.9 1035.4,128.8 1033.6,128.3 1032,127.8 1033.6,126.6 1034.8,125.6 1032.8,125.1 1031.5,124.5 1033.3,123.4 1034.2,122.4 1032,121.9 1031,121.3 M1043.8,119.9 1045.2,118.8 1043.4,118.3 1041.8,117.8 1043.4,116.6 1044.6,115.6 1042.6,115.1 1041.3,114.5 1043.1,113.4 1044,112.4 1041.8,111.9 1040.8,111.3 M1053.6,109.9 1055,108.8 1053.2,108.3 1051.6,107.8 1053.2,106.6 1054.4,105.6 1052.4,105.1 1051.1,104.5 1052.9,103.4 1053.8,102.4 1051.6,101.9 1050.6,101.3" fill="none" stroke="#35b84e" stroke-width="0.60" stroke-linecap="round" stroke-linejoin="round" opacity="0.7"/>
<path d="M1032.3,172.4 Q1044.3,170.7 1050.3,159.1 M1035.6,168.6 Q1047.8,166.5 1054.1,154.5 M1038.8,164.8 Q1051.4,162.3 1058,149.8 M1042.1,161 Q1054.9,158.1 1061.8,145.2 M1045.3,157.2 Q1058.5,153.9 1065.6,140.6 M1048.6,153.4 Q1062,149.7 1069.5,136" fill="none" stroke="#23552d" stroke-width="0.7" opacity="0.8"/>
</g>
<g id="panelB">
<defs><filter id="bnoise" x="0" y="0" width="100%" height="100%"><feTurbulence type="fractalNoise" baseFrequency="0.4" numOctaves="2" seed="3" result="n"/><feColorMatrix type="matrix" values="0 0 0 0 0.6  0 0 0 0 0.6  0 0 0 0 0.6  0.5 0.5 0 0 -0.32"/></filter>
<linearGradient id="bbg" x1="1" y1="0" x2="0" y2="1"><stop offset="0" stop-color="#959595"/><stop offset="0.5" stop-color="#9a9a9a"/><stop offset="1" stop-color="#a3a3a3"/></linearGradient>
<clipPath id="bclip"><rect x="17.7" y="243" width="393.1" height="322.3"/></clipPath></defs>
<rect x="17.7" y="243.0" width="393.1" height="322.3" fill="url(#bbg)"/>
<g clip-path="url(#bclip)">
<defs><path id="bfib" d="M17.5,325.7 18.9,326.5 20.1,326.7 20.9,325.7 21.8,324.6 23,324.9 24.3,325.8 25.2,324.5 26.2,323.9 27.3,324.1 28.5,324.5 29.3,322.7 30.5,323.1 31.8,324 32.7,323 33.7,322.5 34.8,322.4 36.1,323 37.1,322.3 37.7,320.4 38.9,320.5 40.4,321.9 41.1,320.4 42,319.2 43.3,319.9 44.5,320.2 45.4,319.3 46.2,318.3 47.7,319.5 48.9,319.4 49.6,318 50.4,317.1 52,318.1 53,317.8 53.5,316 54.8,316.3 56.3,317.2 57.2,316.4 57.7,314.6 58.7,314.2 60.1,314.7 60.9,313.8 61.3,312.1 63,312.9 64.2,313 65,312.1 65.3,310.3 67,311.2 68.3,311.2 68.2,308.9 68.9,308 70.9,309.1 71.8,308.4 72.4,307.2 72.8,305.9 74.3,306.1 75.5,306 75.8,304.5 76.5,303.6 78,303.8 78.9,303.1 79.5,302.1 80.6,301.7 81.8,301.5 82.3,300.4 82.6,298.8 84,298.9 85.8,299.7 85.8,297.7 86.6,296.8 88.1,297.1 89.1,296.7 89.7,295.6 90.1,294.2 92,295.2 92.8,294.3 93.3,292.9 94.1,292.2 95.7,292.8 97,292.8 97.3,291 98.2,290.4 100,291.5 100.4,289.9 101,288.6 102.5,289.3 103.9,289.6 104.3,287.8 105.3,287.4 106.4,287.2 107.7,287.5 108.5,286.5 109.1,285.1 110.6,285.8 111.7,285.5 112.2,283.9 113.4,283.8 114.8,284.3 115.9,284.3 116.4,282.4 117.5,282.3 119.2,283.6 119.9,282.4 120.5,280.9 121.9,281.4 123,281.4 123.8,280.3 124.8,279.8 126.1,280.2 127.2,280.1 127.9,278.7 128.9,278.2 130.4,279.2 131.4,278.7 132.3,278 133.2,277.2 134.6,277.9 135.6,277.6 136.3,275.7 137.3,275.4 139,277.4 139.8,276.2 140.7,275.2 141.8,274.8 143.2,276.4 144.1,275.5 145,273.8 146.2,274.3 147.5,275.7 148.4,274 149.4,273.2 150.6,274.5 151.8,275.5 152.8,274 153.9,273 155,275 156.1,274.6 157.2,273.1 158.4,273.3 159.3,274.9 160.5,274.6 161.7,273.6 162.8,274.1 163.6,275.8 164.8,275.1 166.1,274.4 167,275.7 167.7,277.2 169,276.4 170.4,275.7 171.2,276.7 172.2,277.4 173.5,276.7 174.8,276.3 175.2,278.6 176.2,279.3 177.5,278.8 179,277.9 179.4,280.1 180.4,280.5 181.8,280 183,279.9 183.2,282.3 184.7,281.6 186,281.3 186.7,282.3 187.2,284 188.5,283.8 190,283.2 190.6,284.4 191.1,285.9 192.8,285 194,285 194.5,286.6 195.2,287.7 196.8,286.7 197.9,287 198.3,288.7 199.3,289.2 200.8,288.7 202,288.8 202.2,290.6 203.1,291.2 205,290.1 205.6,291.4 205.6,293.4 206.8,293.6 208.5,293.1 209.3,293.8 209.3,295.7 210.7,295.6 212.3,295.3 212.4,297 213.3,297.7 214.3,298.2 216.1,297.6 215.9,299.7 216.5,300.7 218.3,300.2 219.1,301 219.3,302.5 220,303.4 221.4,303.3 222.8,303.4 223,304.9 223.8,305.7 225.2,305.7 226.1,306.2 226.3,307.8 227.1,308.7 228.8,308.2 229.4,309.2 229.4,311.1 231.1,310.5 232.3,310.8 232.9,311.9 233.2,313.3 234.5,313.4 235.6,313.7 235.8,315.3 236.7,315.9 238.2,315.7 239.4,316 239.6,317.6 240.2,318.6 241.7,318.5 242.4,319.4 242.5,320.9 243.5,321.5 245.6,320.7 246.2,321.7 246.1,323.5 247.6,323.5 249.1,323.3 249.3,324.8 249.5,326.4 251.1,326.1 252.5,326 252.4,328 252.8,329.3 254.8,328.5 256.2,328.4 256.4,330.1 256.6,331.6 258.8,330.4 259.3,331.6 259.6,333.1 260.8,333.3 262.2,333.2 263.4,333.3 263.7,335 264.8,335.3 266.5,334.3 266.8,336.2 267.6,337 269,336.5 270.4,336 270.8,338 271.6,338.9 273,338.4 274.2,338.3 274.8,339.9 275.7,340.9 277.2,339.7 278.5,339.4 279,341.2 280.2,341.3 281.7,340.2 282.5,341.3 283,343.1 M220.5,243 222,243.3 221.8,244.8 221.7,246.2 223,246.6 224.3,247 224.5,248.3 224.1,249.9 225.6,250.2 227.5,250.2 226.4,252.3 226.9,253.3 229.1,253.1 229.7,254 229.1,255.8 229.4,256.9 231.6,256.7 232,257.7 231.4,259.6 232.3,260.2 233.9,260.5 234.6,261.3 234.1,263 235.7,263.2 236.8,263.8 236.7,265.2 236.7,266.6 238.1,266.9 239.9,267 239.1,269 239.1,270.3 240.8,270.4 242.2,270.7 241.6,272.5 242.5,273.3 243.7,273.8 244.4,274.6 244.5,275.9 245.5,276.5 246.8,276.9 247.2,278 246.6,279.8 247.9,280.2 249.9,280.1 249.4,281.9 249.8,282.9 250.5,283.8 252.5,283.7 252.2,285.2 251.8,286.9 253.9,286.7 255.1,287.2 254.5,289 254.6,290.3 256.2,290.5 257.2,291.1 256.6,292.9 257.6,293.5 259,293.9 260.3,294.2 259.8,296 260.5,296.9 262.4,296.8 262.3,298.3 262.2,299.8 263.5,300.1 264.8,300.5 265.1,301.7 265.3,303 266.7,303.2 267.6,303.9 267.5,305.4 268.3,306.2 269.4,306.7 270.4,307.3 270.5,308.6 271,309.7 273,309.3 273.6,310.3 273.4,312 274.1,312.8 276.3,312.3 276.1,314 276.3,315.3 277.5,315.7 278.8,316 279.3,317 279.3,318.5 280.5,318.9 282.5,318.5 282.2,320.3 282.5,321.6 283.6,322 284.8,322.3 285.3,323.4 285.6,324.7 287.5,324.3 288.3,325.1 287.9,327.1 288.5,328 290.6,327.5 291.4,328.2 291.4,329.8 292.1,330.7 293.5,330.7 294.6,331.2 294.1,333.3 295.9,333 297.4,333 297.6,334.4 297.5,336.2 299.2,335.9 300.5,336 300.5,337.8 301.3,338.5 302.5,338.8 304.1,338.5 304,340.5 305,341.1 306.6,340.4 307.5,341.2 307.9,342.8 308.9,343.1 310.5,342.4 311.3,343.3 311.9,344.5 313.1,344.6 314.4,344.5 315.1,345.6 315.5,347 316.7,347.1 318.3,346.7 318.5,348.4 319.3,349.1 320.5,349.4 321.7,349.6 321.8,351.3 322.7,351.8 324.4,351.5 325,352.5 325.5,353.6 325.7,355.1 327.5,354.7 328.8,354.9 328.7,356.7 329.4,357.6 331.4,356.9 332,357.9 331.5,360.1 333.1,360 334.4,360.2 335.1,361 335.1,362.7 336.4,362.9 338.2,362.4 338.2,364.1 338.3,365.7 339.8,365.7 340.9,366.1 341.5,367 342,368.3 343.5,368.1 344.6,368.5 344.5,370.4 345.8,370.5 347.5,370 348.2,370.9 348.4,372.5 349.3,373.2 350.9,372.8 351.4,374.1 351.9,375.2 353.3,375.2 354.7,375 354.7,377 355.1,378.4 356.6,378.1 358.4,377.4 358.7,379 358.8,380.8 360.7,379.9 361.6,380.6 362,381.9 M318.4,347.4 319.8,347.4 321.3,347.6 321.1,345.6 321.9,344.8 323.6,345.1 324.4,344.3 324.6,342.9 325.4,342.1 326.8,342.1 327.7,341.4 327.7,339.7 328.8,339.3 330.1,339.2 331.5,339.3 331.6,337.5 332.7,337.1 334.4,337.7 334.9,336.6 335.2,334.8 336.6,335.1 338,335.6 338.9,334.9 339.6,333.5 340.7,333.5 342.2,334.6 342.9,333.1 343.8,332.3 345.2,333.2 346.3,333 347.2,332.1 348.2,331.6 349.5,332.5 350.6,332.5 351.5,331 352.6,330.6 353.8,332.2 354.8,331.1 355.9,330 357,330.6 358.1,331.3 359.2,331 360.3,330.2 361.4,331.1 362.5,331.7 363.6,331.6 364.8,330.6 365.8,331.6 366.7,332.8 368,331.7 369.2,331.5 369.9,332.9 370.7,334.2 372.3,333 373.3,333.4 373.8,335.1 374.7,335.6 376.7,334 377.3,335.3 377.6,337.1 379,336.7 380.5,336.3 381.3,337.1 381.6,338.8 382.9,338.8 384.5,338.4 384.8,340 384.8,341.9 386.5,341.3 387.8,341.4 387.6,343.4 388.5,344.2 389.8,344.3 391.1,344.5 390.8,346.4 392.1,346.6 393.4,346.9 393.9,348 394.2,349.1 394.3,350.4 396.7,350.1 396.6,351.5 396.4,352.9 397.1,353.7 398.4,354.4 398.5,355.6 396.8,357 398.3,357.9 398.9,359.1 397.4,360 396.5,360.7 397,362.2 396.3,363.2 394.7,363.2 393.9,363.9 393.6,365.2 393,366.3 391.5,366.2 390.5,366.6 390.4,368.5 389.2,368.7 387.3,367.6 386.8,368.9 386.1,370 384.9,370.1 383.8,370.3 382.7,370.7 382.2,372.1 381.2,372.6 379.5,371.5 379.2,373.4 378.5,374.5 376.8,373.4 375.9,374.2 375.3,375.5 374.2,375.8 372.8,375.3 371.9,375.9 371.2,377 370.2,377.5 368.8,377 368,378.1 367.3,379.2 366.2,379.3 364.8,378.9 364.1,380 363.2,381 362.1,381 360.6,380.1 359.8,381.2 359.1,382.5 357.8,382.1 356.4,381.5 355.8,383.1 354.8,383.5 353.4,383 352.1,382.5 351.5,384.1 350.6,384.8 349.3,384.4 348.3,384.9 347.4,385.6 346.3,385.8 344.9,385 344,386 343.3,387.6 342,386.8 340.7,386.1 339.8,387.1 338.9,388.3 337.6,387.5 336.5,387.6 335.7,388.8 334.6,388.9 333.2,388.1 332.1,387.8 331.4,390.2 330.4,390.7 329,389.4 327.9,389.3 327,390.6 326,391.2 324.6,389.6 323.7,390.6 322.7,391.9 321.5,391 320.3,390.1 319.3,390.7 318.3,392.2 317.1,391.4 316,390.8 314.9,391.7 313.8,392.1 312.7,391 311.6,391.2 310.5,392.3 309.4,392.1 308.3,391 307.2,390.5 306.1,392.4 305,392.3 303.9,391.1 302.9,390.5 301.7,392.3 300.6,391.6 299.6,389.9 298.4,391 297.3,391.8 296.2,390.9 295.3,389.5 294,390.7 292.8,391.6 291.8,390.9 290.9,389.1 289.6,390.9 288.4,391.4 287.5,389.6 286.5,389 285.3,389.9 284.1,390.5 283.2,388.6 282.1,389.1 280.8,390.1 279.8,389.3 278.8,388.5 277.7,388.4 276.5,389 275.5,388.4 274.5,387.4 273.3,388 272.1,388.7 271.2,387.3 270.3,386.5 268.9,387.5 267.8,387.5 266.9,386.4 266,385.1 264.7,386 263.6,386.3 262.6,385.4 261.7,384.5 260.2,386 259.1,385.9 258.4,384.3 257.4,383.6 256,384.7 254.9,384.9 254.1,383.3 252.9,383.5 M406.6,359.9 405.6,360.2 404.2,359.5 403.1,359.7 402.3,361 401.2,361.2 399.7,360 399,361.3 398.4,363.1 396.9,362.1 395.5,361.3 395,363.2 394.3,364.6 392.7,363.4 391.4,363.1 390.8,364.5 389.7,364.9 388.4,364.4 387.2,364.3 386.8,366.6 385.7,366.6 384.1,365.5 383.4,366.6 382.7,368.2 381.4,367.7 379.9,366.7 379.3,368.3 378.4,369.2 377.4,369.5 375.7,368.2 375,369.4 374.5,371.2 373.1,370.7 371.6,369.7 371,371.4 370.2,372.2 368.9,371.9 367.7,371.8 366.9,372.8 366.1,373.8 364.6,373.2 363.6,373.4 362.9,374.8 361.9,375.2 360.3,374.2 359.6,375.3 358.9,376.5 357.7,376.6 356.2,375.7 355.4,376.8 354.8,378.2 353.5,377.8 352.1,377.2 351.5,378.7 350.8,380.1 349.3,379.2 348,378.9 347.5,380.7 346.7,381.6 345.3,381.1 343.9,380.5 343.2,381.8 342.4,382.9 341.1,382.2 340,382.6 339.3,383.9 338.2,384.1 336.6,382.5 335.9,384.2 335.1,385.4 333.9,385.2 332.4,383.8 331.5,384.7 330.8,386.5 329.5,386 328.2,384.9 327.3,386 326.3,386.5 325.1,386.5 324,386.1 323,387.4 322,387.8 320.7,386.6 319.5,386.1 318.6,387.7 317.6,388.1 316.3,387 315.3,387.2 314.3,388.7 313.1,387.7 311.9,387.1 310.9,387.5 309.8,388.4 308.7,388 307.6,387.3 306.5,387.6 305.4,388.5 304.3,388.1 303.2,387.2 302.1,388 301,389.1 299.9,388.2 298.8,388 297.7,388.4 296.6,388.7 295.5,387.8 294.4,387.7 293.3,389 292.2,389 291.2,386.9 290,387.6 288.8,389.2 287.7,388.8 286.8,387 285.6,387.8 284.5,388.3 283.5,387.3 282.4,386.4 281.2,387.9 280,388.4 279.1,387 278,386.4 276.9,386.8 275.7,387.5 M315,352.1 314.1,352.9 313.7,353.9 314.7,355.6 313.2,356.1 312.4,356.9 311.8,357.8 312.3,359.3 311.1,359.9 310.5,360.9 310.9,362.2 310.8,363.4 310.1,364.3 308.8,365.1 309.7,366.4 309.5,367.5 308.5,368.5 307.9,369.6 309.8,370.7 309.4,371.8 308.5,373 308.2,374.1 310.5,375 309.5,376.2 309,377.4 309.3,378.4 310.7,379.4 310.6,380.5 308.9,381.8 310.5,382.7 311.6,383.6 311.1,384.8 310.2,386.1 311.3,387 M283.8,395.2 283.2,396.9 285.1,397 286.2,397.6 285.9,399.1 285.4,400.7 287.1,400.9 288.3,401.4 288.5,402.6 288.5,404 289.8,404.4 291.1,404.9 290.3,406.7 291,407.6 293.1,407.5 292.6,409.1 292.4,410.6 293.8,411 295.1,411.5 295.5,412.5 295.1,414.1 296.2,414.7 297.9,414.9 297.7,416.3 297.5,417.8 298.7,418.3 300.3,418.5 300,420.1 299.7,421.6 301.7,421.6 302.1,422.7 302,424.1 302.3,425.2 304.3,425.1 304.5,426.3 304.7,427.5 305.4,428.4 307.2,428.5 306.9,430 306.5,431.6 308.1,431.9 309.4,432.3 309,433.9 309,435.3 310.8,435.4 312,435.9 311.8,437.3 311.9,438.6 313.2,439.1 314.5,439.5 313.3,441.6 314.1,442.4 315.7,442.7 316.3,443.6 315.6,445.3 316.2,446.3 318.3,446.3 318.7,447.3 318.1,449 319.4,449.5 320.7,450 320.4,451.4 319.8,453.1 321.1,453.5 322.7,453.9 322.5,455.3 322.9,456.3 324,456.9 325.2,457.5 324.5,459.2 325.1,460.2 326.4,460.6 327.2,461.5 M17.4,348.7 18.2,349.5 20,348.6 20.8,349.4 21,351.2 22.1,351.6 23.8,350.8 24.7,351.5 25.1,352.9 25.9,353.8 27.3,353.5 28.3,354 28.5,355.8 29.7,356 31.6,354.9 31.7,356.9 32.3,358 34,357.4 35.4,357.1 35.8,358.7 36.2,360.2 37.6,359.9 39.1,359.6 39,361.8 40.1,362.1 41.7,361.7 42.9,361.7 42.7,364.2 44.1,364 45.3,364.1 46.4,364.5 46.7,366.2 47.8,366.4 49.5,365.6 49.8,367.3 50.2,368.9 51.6,368.6 53.2,368.1 54,369 54.1,370.9 55.8,370.1 56.8,370.6 57.6,371.5 58,372.9 59.5,372.6 61,372.3 61,374.3 62.2,374.6 63.8,373.9 64.7,374.7 64.5,377.1 65.6,377.4 67.3,376.6 68.3,377.2 68.4,379.2 69.6,379.3 71.3,378.5 71.8,379.9 72.1,381.5 74,380.5 75.2,380.4 75.6,382.1 76.4,383 77.8,382.7 78.9,382.9 79.5,384.1 80.1,385.3 81.8,384.4 82.7,385 83.3,386.4 84.1,387.2 86,385.9 86.6,387.1 87.3,388.2 88.1,389.1 89.8,388.1 90.6,388.9 91.2,390.3 92.5,390.2 93.8,389.7 94.5,391 95.3,392.2 96.7,391.3 97.8,391.5 98.6,392.8 99.4,393.6 101,392.4 102.2,392.4 102.8,394.1 103.7,394.9 105.2,393.6 106.3,394 107,395.5 107.9,396.1 109.5,394.6 110.6,395 111,397.2 112.2,397.2 113.6,396.3 114.5,397.2 115.1,398.7 116.6,397.7 117.9,397.5 118.7,398.4 119.5,399.5 120.8,399.1 122,399 122.7,400.5 123.7,400.8 124.9,400.7 126.1,400.8 126.7,402.2 127.7,402.7 129.2,402 130.2,402.5 130.7,404 131.4,404.9 132.9,404.4 133.8,405.1 134.2,406.8 135.7,406.2 137,406.2 137.8,407 138.1,408.8 139.6,408.2 140.8,408.5 141.6,409.2 141.9,410.9 143.8,409.8 144.7,410.4 144.8,412.5 146.2,412.3 147.6,412 148.5,412.6 148.8,414.4 150,414.5 151.1,414.8 151.9,415.6 152.4,416.9 153.7,416.9 155.1,416.8 155.9,417.5 156.3,418.9 157.2,419.6 158.9,418.9 159.2,420.5 159.4,422.1 161,421.8 162.5,421.5 162.9,422.9 163.6,423.9 164.8,423.9 165.9,424.4 166.5,425.4 167.1,426.6 169,425.6 169.7,426.5 170.1,427.9 170.9,428.8 172.4,428.5 173.5,428.8 173.5,430.8 175.1,430.3 176.2,430.7 177.1,431.3 177.5,432.7 178.6,433 180.2,432.6 180.1,434.7 180.7,435.8 182.4,435.2 183.9,435 183.7,437.2 184.4,438.2 186.4,437.3 187.5,437.6 187.6,439.4 188.6,439.9 189.9,439.8 190.9,440.3 191.2,441.9 192.4,442.1 193.7,442.2 194.1,443.5 194.7,444.6 195.9,444.8 197.2,444.8 197.7,446.1 198.4,446.9 199.9,446.7 200.8,447.4 201.1,448.8 202.1,449.4 203.5,449.2 204.8,449.2 204.5,451.7 205.7,451.8 207.3,451.4 208.1,452.2 208.6,453.4 209.4,454.2 211.2,453.5 211.8,454.6 211.8,456.6 213.6,456 214.9,455.9 215,457.7 215.8,458.6 217.3,458.3 218.4,458.6 218.9,459.8 219.1,461.5 220.6,461.2 222.3,460.6 222.3,462.7 222.9,463.7 224.8,462.9 225.4,464 225.8,465.3 227,465.5 228.4,465.3 229.1,466.4 229.5,467.7 230.6,468.1 232,467.9 232.7,468.9 233,470.4 234.3,470.5 235.8,470.2 236.2,471.6 236.4,473.2 238.5,472.1 239.3,472.8 239.9,473.9 240.4,475.2 242.2,474.4 243.1,475.1 243.1,477.1 244,477.7 245.6,477.2 246.8,477.5 246.8,479.4 248.1,479.5 249.5,479.4 250.1,480.4 250.7,481.6 251.7,482.1 253.1,481.9 253.6,483.2 253.8,484.8 255.7,484 257,484 257.4,485.4 257.7,486.9 259.3,486.5 260.4,486.8 260.7,488.4 261.1,489.6 263.2,488.6 263.6,490 263.9,491.4 265,491.8 266.5,491.6 267.5,492.1 267.7,493.7 268.8,494 270.6,493.5 270.8,495 270.9,496.7 272.4,496.5 274,496.2 274.1,498 274.9,498.8 276,499.2 277.6,498.8 277.7,500.5 278.5,501.3 279.8,501.4 280.7,502 280.9,503.7 282.2,503.6 283.7,503.5 284.5,504.2 284.7,505.8 285.4,506.8 287.6,505.5 287.9,507 288,508.8 289.2,509 291.2,507.9 291.5,509.6 291.8,511.2 293.7,510.2 294.9,510.4 294.8,512.5 295.9,512.9 297.4,512.6 298.5,512.7 298.8,514.5 299.8,514.9 301.5,514.3 301.9,515.7 302.3,517.2 303.4,517.5 305.3,516.5 306,517.4 306.2,519.3 307.6,519 309,518.7 309.4,520.4 310.2,521.2 311.6,520.9 312.6,521.3 313.3,522.4 314.2,523 315.6,522.8 316.7,523.1 317.4,524.1 318,525.2 319.4,525 320.4,525.5 320.9,526.9 321.7,527.7 323.5,526.6 324.4,527.3 324.5,529.3 325.9,529.1 M59.1,330.4 59.6,331.6 61.3,331 62.2,331.6 62.7,332.9 63.5,333.7 65.1,333.2 65.9,334 66.2,335.5 67.2,336.1 68.5,336.1 69.4,336.7 69.6,338.5 71.2,338 72.6,337.8 73.3,338.7 73.3,340.8 74.9,340.3 76.4,340 76.9,341.2 77.4,342.6 78.8,342.4 80,342.5 80,344.7 80.8,345.4 82.7,344.5 83.7,345 84,346.5 84.5,347.8 86.5,346.8 87.1,347.9 87.3,349.5 88.3,350 90.4,348.7 90.9,350 91.2,351.7 92.7,351.4 93.7,351.8 94.5,352.6 94.6,354.4 96.2,353.9 97.9,353.5 98,355.3 98.7,356.3 100.4,355.7 101.5,356 101.4,358.1 102.5,358.4 104,358.1 104.9,358.8 105,360.6 106.3,360.7 107.6,360.8 108.6,361.3 108.5,363.3 109.7,363.4 111.6,362.6 112.1,363.9 112.4,365.4 113.5,365.7 115.1,365.3 115.5,366.7 115.7,368.4 117.6,367.5 118.8,367.7 119,369.4 119.7,370.2 121.5,369.7 122.5,370.1 122.3,372.3 123.2,372.9 124.7,372.7 125.4,373.6 126,374.7 126.9,375.4 128.3,375.3 129.4,375.7 129.3,377.7 130.6,377.8 131.9,377.8 132.4,379.1 133.1,379.9 134.3,380.1 136,379.6 136,381.5 136.6,382.6 138.4,382 139.3,382.6 139.5,384.2 140.1,385.2 141.9,384.6 142.9,385.1 142.9,387 143.8,387.6 145.7,387 146,388.4 146.4,389.6 147.7,389.7 149.1,389.7 149.5,391 149.9,392.3 151.1,392.6 152.4,392.6 152.8,394 153.1,395.4 155.1,394.6 156.1,395.1 156.3,396.7 157.1,397.4 158.5,397.4 159.8,397.5 159.5,399.6 160.3,400.4 162.1,399.9 163,400.6 163.1,402.2 164.4,402.3 165.8,402.3 166,403.8 166.4,405.1 167.9,405 169.2,405.1 169.9,406 170,407.7 171.4,407.7 172.5,408 173.1,409 173.5,410.4 174.8,410.4 176.1,410.6 176.3,412.1 177,413 178.8,412.5 179.7,413.1 179.8,414.8 180.3,415.8 182,415.6 182.9,416.2 182.5,418.3 184.3,417.9 185.9,417.9 185.9,419.5 186.1,420.8 187.4,421.1 188.4,421.7 189,422.6 189.1,423.9 190.7,424.1 191.5,424.8 191.6,426.2 192.2,427.1 193.4,427.6 194.4,428.2 194.1,429.8 194.5,430.9 196.1,431.1 196.6,432 196.1,433.7 197.1,434.4 198.5,434.8 198.5,436.1 198.6,437.3 199.8,437.9 200.8,438.6 201.1,439.6 200.5,441.3 201.9,441.7 203.1,442.3 202.4,444 202.5,445.1 204.8,445.2 205.2,446.2 204.7,447.7 205,448.8 206.8,449.1 207.4,450 206.3,451.8 207.1,452.6 209.1,452.9 209.3,454 208.5,455.6 209.6,456.3 210.8,457 211,458.1 210.5,459.5 211.7,460.2 212.9,460.9 211.8,462.5 212,463.6 213.1,464.4 213.6,465.4 213.1,466.7 213.4,467.8 214.2,468.7 214.8,469.7 214.7,470.8 214.8,472 216.1,472.7 216,473.9 215.5,475.2 215.9,476.2 217.9,476.7 217.3,478.1 217,479.4 218,480.2 219,481 218.5,482.3 218.1,483.7 219.7,484.2 221.1,484.8 220.2,486.4 220.2,487.6 221.6,488.2 222.5,489 222.5,490.2 222.5,491.4 223.9,492 224.9,492.7 224.2,494.3 225,495.1 226.1,495.7 226,497.1 225.4,498.6 227.2,498.9 228.2,499.6 228.3,500.8 227.7,502.4 229.2,502.8 230,503.6 229.6,505.1 230.4,506 231.2,506.7 232.9,507.1 232.4,508.6 232.3,509.9 233.6,510.5 234.1,511.5 234.3,512.6 234.6,513.7 236.6,513.8 236.5,515.1 236,516.7 236.9,517.4 238.6,517.7 238.2,519.2 237.7,520.8 239.4,521.1 240.8,521.6 240.4,523.1 240,524.6 241.2,525.1 243,525.3 242.3,527 242.5,528.2 243.8,528.7 245.4,529 244.8,530.6 245.3,531.7 246.2,532.4 247.4,532.9 246.7,534.7 247.7,535.3 249.2,535.7 249.8,536.6 248.9,538.5 250.3,538.9 251.4,539.5 251.8,540.6 251.5,542 252.6,542.6 254.1,543 254,544.4 254.2,545.6 255.7,545.9 256.1,546.9 256.2,548.2 256.7,549.2 258.3,549.4 258.8,550.4 257.9,552.4 259.2,552.8 260.3,553.4 261.1,554.1 260.8,555.7 261.3,556.7 263.3,556.6 263.8,557.6 263.1,559.5 264.2,560.1 265.7,560.3 265.9,561.5 265.2,563.4 266.7,563.7 267.8,564.2 M17.6,430.4 18.8,430.5 20,430.7 20.7,429.4 21.6,428.3 22.9,428.9 24.2,429.3 25,428.3 26,427.8 27.3,428.2 28.5,428.5 29,426.5 30.1,426.1 31.7,427.8 32.5,426.6 33.3,425.5 34.5,425.6 36,426.5 36.9,425.8 37.4,423.9 38.8,424.4 40.2,425.2 41,424.1 41.7,423 42.7,422.4 44.4,423.8 44.9,421.9 45.7,421 46.9,421.1 48.5,421.9 48.6,419.5 49.6,419.1 50.9,419.3 52.1,419.2 52.4,417.4 53.4,417.1 55.2,417.7 55.7,416.5 56,415.1 56.9,414.4 58.5,414.7 59.4,414.1 59.1,412 60.2,411.6 62,411.9 62.5,410.9 62.3,409 64.2,409.5 65.4,409.1 65.6,407.7 65.5,406.1 67.1,406.1 68.2,405.7 68.3,404.2 69,403.3 70.4,403.2 71.6,402.9 71.4,401.1 72.2,400.3 74.1,400.7 75,400 74.4,397.8 76,397.9 77.2,397.6 77.9,396.8 77.5,394.7 79.6,395.3 80.6,394.9 81.2,393.9 81,391.9 82.7,392.2 84.2,392.3 83.9,390.2 84.5,389.2 86.4,389.8 87.6,389.5 87.2,387.3 87.9,386.4 89.7,386.9 90.9,386.6 90.3,384.2 91.7,384.2 93.2,384.2 93.9,383.3 93.7,381.4 95.3,381.5 97,381.9 97.3,380.5 97.4,378.9 98.7,378.8 100.1,378.8 100,376.9 100.9,376.3 102.4,376.4 103.4,375.8 103.6,374.3 104.1,373.2 105.7,373.5 106.5,372.7 106.8,371.3 107.7,370.7 109.3,370.9 109.6,369.6 110.1,368.4 111.1,367.9 112.8,368.2 113.2,367 113.6,365.8 M55.5,474.4 55.4,473.1 56.1,472.1 57.2,471.4 57.4,470.3 57.1,469 57.6,468 59.4,467.6 58.2,465.9 58.7,464.9 59.6,464.1 60.5,463.3 60.5,462.1 60.4,460.8 62.3,460.6 63,459.7 62.4,458.1 62.7,457 64.9,457.2 64.7,455.7 65.1,454.6 65.9,453.8 67.3,453.6 68.2,453.1 68.1,451.2 69.5,451.1 71.1,451.8 71.4,450 72,448.8 73.6,449.6 74.7,449.4 75.5,448.5 76.5,447.8 77.8,448.3 78.9,448.2 79.8,447.4 80.8,446.9 82.1,447.8 83.2,447.5 84.1,446.4 85.1,446.1 86.3,446.5 87.4,446.3 88.2,444.6 89.4,444.8 90.7,446.2 91.8,446 92.7,444.7 93.8,444.5 95.1,445.5 96.1,444.6 97.1,444.2 98.3,444.9 99.5,445.7 100.4,443.6 101.5,443.9 102.7,444.2 103.8,444.9 104.8,443.8 105.9,443.4 107.1,444 108.2,444.4 109.1,442.7 110.2,442.4 111.5,443.9 112.5,443.3 113.5,442.4 114.6,442.5 115.9,443.9 116.9,443.1 117.9,441.4 119,442.2 120.3,443.5 121.2,442.1 122.2,441 123.4,442 124.7,443.3 125.6,441.6 126.7,440.9 127.9,442 129,442.9 130,441.2 131.1,441.2 132.3,442 133.3,441.6 134.4,440.4 135.5,440.5 136.7,442.2 137.7,441.3 138.8,440.5 139.9,440.8 141,441.8 142.1,440.9 143.2,440.5 144.3,440.8 145.4,441.9 146.5,440.2 147.6,440 148.7,440.9 149.8,441.8 150.9,439.9 152,440.3 153.1,441.5 154.2,441.1 155.3,440.3 156.4,440 157.5,441.7 158.6,441.1 159.7,439.7 160.8,439.9 161.9,441.4 163,440.5 164.1,439.7 165.2,441.2 166.3,441.4 167.4,440.8 168.5,440.1 169.6,440.8 170.7,441.5 171.8,440 172.9,440.6 174,441.2 175.1,441.6 176.2,440.2 177.3,440.8 178.3,442.2 179.5,441.8 180.6,440.5 181.7,440.5 182.7,442.7 183.9,441.3 185.1,440.5 186.1,441.4 187.1,442.9 188.3,442 189.5,440.9 190.4,442.7 191.4,443.6 192.7,441.5 193.8,441.8 194.8,443.1 195.8,443.4 197.1,442.4 198.2,442.3 199,444.2 200.1,444.3 201.4,443.6 202.4,444.1 203.2,445.6 204.5,444.8 205.7,444.3 206.7,445 207.4,446.5 208.6,446.3 210.2,444.7 210.9,446.3 211.7,447.4 213,447 214.4,446.2 214.8,448.5 215.9,448.5 217.3,447.9 218.6,447.8 219,449.6 219.8,450.6 221.6,449.1 222.6,449.7 222.8,451.8 223.9,452 225.4,451.5 226.5,451.9 226.6,454 227.9,453.9 229.4,453.5 230.3,454.1 230.6,455.9 232.2,455.2 233.1,455.8 233.5,457.4 234.1,458.5 236.1,457.3 237.1,457.8 237.2,459.6 238,460.5 239.9,459.7 240.4,460.9 240.8,462.2 241.5,463 243.5,462.3 243.9,463.6 244.2,464.9 245.4,465.2 246.7,465.4 247.3,466.4 247,468.4 248.7,468.1 250.1,468.2 250.6,469.4 250.7,470.9 252,471 253.2,471.3 253.3,472.9 253.5,474.3 255.7,473.6 256.1,474.7 256.6,475.8 256.7,477.3 258.7,476.8 259.5,477.5 259.3,479.3 260.1,480.1 261.7,480 262.6,480.6 262.9,482 264,482.4 265.1,482.8 265.4,484.1 265.6,485.5 267.4,485.1 268.6,485.5 269,486.6 269.4,487.9 270.8,487.9 271.5,488.8 271.7,490.2 272.2,491.4 274.5,490.5 275.1,491.4 275.3,492.8 276,493.7 277.8,493.3 277.9,494.9 278.3,496.1 279.3,496.6 280.8,496.6 281.1,497.9 281.1,499.6 282.7,499.4 284.3,499.3 284.2,501.1 284.8,502 286.4,501.9 287.4,502.4 287.8,503.6 288.2,504.8 289.8,504.7 290.8,505.2 290.8,506.8 291.5,507.7 293.2,507.4 294.3,507.9 293.7,510.2 295.3,510.1 296.6,510.2 297.1,511.3 297.3,512.8 298.7,512.9 300.3,512.7 300.5,514.2 300.7,515.6 302,515.7 303.6,515.5 303.5,517.5 304.1,518.5 306,517.8 306.9,518.4 306.7,520.5 308,520.6 309.3,520.7 310,521.6 310.5,522.8 311.3,523.5 313.1,522.9 313.9,523.7 313.9,525.6 M107.2,398.9 106.2,400.6 106.6,401.6 108.1,402.2 109.1,402.9 108.3,404.4 109,405.4 110.5,405.8 110,407.3 109.8,408.6 110.5,409.5 112.4,409.9 112.2,411.2 111.4,412.7 113.4,413 113.6,414.1 113.2,415.5 113.6,416.5 115.2,417 115.5,418.1 114.9,419.6 115.2,420.6 117.5,420.8 117.3,422.1 117.2,423.4 117.2,424.6 118.9,425 118.6,426.3 118.2,427.7 119.8,428.3 120.3,429.2 120.3,430.4 119.9,431.8 121.7,432.2 122.2,433.2 122,434.5 121.3,435.9 122.4,436.7 123.5,437.5 123.6,438.6 122.8,440 124.7,440.5 125,441.6 124.5,442.9 124.7,444 126.3,444.6 126.8,445.6 125.7,447.1 125.9,448.2 128.1,448.7 127.9,449.9 126.4,451.5 127.5,452.3 129,453 128.9,454.2 128.4,455.5 129.4,456.4 129.8,457.4 129.4,458.6 128.8,460 131,460.5 131.5,461.5 130.4,462.9 130.1,464.1 132.5,464.7 132,465.9 131.4,467.2 132.3,468.1 133.4,469 133.4,470.1 132.2,471.6 132.7,472.6 134.6,473.2 133.9,474.5 133.5,475.8 134.1,476.7 136,477.4 134.6,478.9 134.6,480 135.5,480.9 136.7,481.8 135.6,483.2 135.5,484.3 136.8,485.2 136.9,486.3 135.9,487.6 136.2,488.6 137.4,489.5 137.2,490.7 136.6,491.9 136.8,493 138.4,493.8 137.5,495.1 137.2,496.3 137.7,497.3 139.4,498.1 138.7,499.4 137.5,500.7 138.8,501.6 140.1,502.4 139.5,503.7 138.3,505 140.2,505.8 140.5,506.8 139.8,508.1 139.6,509.3 141.3,510 141.2,511.2 140.3,512.6 141.2,513.5 142.8,514.1 143.1,515.2 141.8,516.8 143.3,517.4 144.6,518.1 143.8,519.6 144.1,520.7 144.6,521.6 146,522.2 145.6,523.6 145.6,524.8 147.2,525.3 147.5,526.4 147,527.8 147.1,529 149.4,529.1 149.5,530.3 149.4,531.6 149.9,532.5 151.2,533.1 151.6,534.1 151.4,535.5 151.7,536.6 153.5,536.8 153.3,538.2 152.8,539.8 154.2,540.2 156,540.5 155.2,542.2 155.2,543.5 157.1,543.6 157.8,544.5 157.5,545.9 158,546.9 159.7,547.2 160.9,547.7 160,549.6 160.7,550.5 162.4,550.6 163.1,551.4 162.8,553 163.3,554 165.2,553.9 165.7,555 165.4,556.6 166.3,557.3 167.6,557.6 168.4,558.4 167.8,560.4 169.2,560.7 170.8,560.7 170.8,562.1 170.8,563.6 172.5,563.5 173.6,564.1 M16.9,453.2 18.4,453.4 20.2,453.3 19.7,455.2 20.1,456.3 21.1,456.8 23,456.6 22.8,458.3 23,459.6 24.3,459.9 25.3,460.5 25.5,461.8 25.8,462.9 27.7,462.8 28.7,463.4 27.8,465.6 29.1,465.9 30.1,466.5 31,467.2 31.1,468.5 31.3,469.7 33.7,469.3 33.5,470.8 33.6,472.1 34,473.2 36.1,473.1 35.4,474.8 36,475.8 36.8,476.6 38.6,476.8 38.2,478.3 37.6,479.9 38.8,480.5 40,481.1 39.2,482.7 39.5,483.8 41.4,484.1 42.4,484.9 41.2,486.6 42.1,487.4 43.4,488 43.8,489.1 42.9,490.7 44.1,491.3 45.2,492.1 45.3,493.2 44.7,494.7 46.4,495.2 47.3,495.9 46.8,497.4 46.1,498.9 48,499.2 49.5,499.7 48.8,501.3 48.8,502.5 50.1,503.1 50.6,504.1 50,505.7 50.5,506.7 52.2,507 52.7,507.9 52,509.6 53.7,509.9 54.9,510.5 54.9,511.7 54.4,513.3 55.6,513.9 57.1,514.3 56.7,515.8 57.2,516.8 58.2,517.5 59.1,518.2 59.6,519.2 59.5,520.5 60.4,521.3 61.3,522 61.7,523.1 62,524.1 63,524.8 63.8,525.6 63.4,527.2 64.1,528.1 65.6,528.4 65.9,529.5 66.2,530.6 67.1,531.3 68.1,532 68,533.4 67.8,534.9 69.5,535 71,535.4 70.8,536.8 71,538 71.9,538.7 73.5,538.9 72.9,540.7 73.2,541.9 75.1,541.9 75.6,542.8 75.4,544.3 76.2,545.1 77.4,545.6 78.6,546.1 78.2,547.7 79.1,548.5 80.5,548.7 80.6,550.1 80.7,551.4 82,551.8 83.2,552.3 83.5,553.4 83.2,555 84.9,555.1 85.7,555.9 86.1,556.9 86.3,558.2 87.8,558.4 88.9,559 88.2,560.9 88.7,561.9 90.3,562 M18.1,541.8 18.6,544 19.7,544.2 21.1,543.3 22.2,543.6 22.6,545.8 23.9,545.5 25.3,544.6 26.1,545.6 26.8,547.3 28.1,546.7 29.6,545.6 30.3,547.1 31,548.5 32.4,547.7 33.6,547.5 34.5,548.2 35.4,549.3 36.6,549 37.8,548.7 38.7,549.8 39.4,551.1 41.1,549.4 42.1,549.8 42.8,551.2 43.9,551.4 45.1,551.3 46.4,550.7 47.1,552.3 48,553.2 49.4,552.2 50.4,552.8 51.3,553.6 52.4,554 53.9,552.2 54.7,553.7 55.5,555.2 56.9,553.8 58.2,553.1 58.9,554.9 59.8,556.1 61.2,555.1 62.3,554.9 63.3,555.8 64.3,556.4 65.6,555.1 66.7,555.2 67.4,557.4 68.7,556.7 70,555.7 71,556.2 71.9,557.3 73,557.5 74.3,556.2 75.3,556.8 76.2,558.6 77.4,558 78.6,557.1 79.6,558.3 80.6,559.1 81.8,558.7 83,557 84,558.4 85.1,558.9 86.2,558 87.3,558.1 88.3,559.6 89.4,559.5 90.6,557.8 91.7,558 92.8,559.6 93.9,559.2 95,558.4 96.1,558.9 97.2,559.6 98.3,559.3 99.4,558.3 100.5,558.6 101.6,559.3 102.7,559.3 103.8,558.3 104.9,558.2 106,559.8 107.1,558.3 108.1,557.2 109.3,558.5 110.4,558.9 111.5,558.2 112.5,557.3 113.7,558.3 114.8,558.6 115.8,557.8 116.9,557.6 118.1,559 119.2,558.4 120.2,556.8 121.3,557 122.5,558.4 123.5,557.4 124.6,556.5 125.8,557.7 126.9,558.3 127.9,557.3 129,556.6 130.1,557.3 131.3,557.9 132.3,557.2 133.4,556.4 134.6,557.4 135.7,557.7 136.7,556.2 137.8,556 139,557.8 140,556.9 141.1,556.3 142.2,556.5 143.4,557.7 144.4,556.3 145.4,555.4 146.6,556.6 147.7,556.8 148.8,555.8 M120.5,243 119,244 120.4,245.2 120.4,246.3 120,247.4 119.5,248.5 120,249.6 120.9,250.7 119.3,251.8 119,252.8 119.7,254 120.2,255.1 118.9,256.1 119.2,257.2 119.7,258.5 119.5,259.6 117.6,260.2 117.7,261.4 118.6,262.9 118,263.8 116.1,264.3 116.5,265.6 116.8,266.9 115.1,267.4 114.6,268.4 114.9,269.7 115.4,271.2 113.1,271.2 112.7,272.2 112.6,273.5 112.3,274.6 111.1,275.1 109.8,275.5 110.5,277.4 109.8,278.3 108,278.2 107.2,278.9 107.7,280.9 106.6,281.4 105.1,281.5 104.4,282.2 104.5,284.1 103.3,284.3 101.9,284.4 101.6,285.8 100.9,286.6 99.4,286.5 98,286.4 97.8,288.1 97.4,289.3 95.7,288.8 94.7,289.3 94.4,290.9 93.6,291.6 92.3,291.7 91.1,291.8 91.2,294 90.2,294.4 88.1,293.3 88,295.1 87.5,296.3 86.3,296.5 84.5,295.8 84.1,297.2 83.5,298.4 82.1,298.1 80.9,298.3 80.9,300.3 80,300.9 78.7,301 77,300.4 76.8,302.1 76.4,303.5 74.8,303.1 73.5,303.1 73.3,304.8 72.2,305.1 70.7,304.9 70.2,306.1 69.6,307.2 68.8,308 66.8,306.8 66.2,307.9 65.8,309.4 64.4,309.2 63.1,309.2 62.4,310.2 62,311.7 60.6,311.5 59.4,311.5 59,313.1 58.4,314.4 56.8,313.7 55.4,313.3 55.3,315.5 54.1,315.7 52.5,314.9 51.6,315.5 51.3,317.4 50.3,317.8 48.7,317.2 48,318.2 47.3,319.3 46,319.1 44.4,318.3 44,320.1 43.2,320.8 41.8,320.4 40.7,320.7 39.8,321.4 39.2,322.8 37.6,321.8 36.5,322 36.1,324 35.3,324.8 33.6,323.7 32.6,324.1 32.3,326.2 30.9,325.7 29.5,325.2 28.6,325.9 27.9,327.2 27,327.7 25.5,327.1 24.6,327.7 24.1,329.5 M17.4,353.2 18.3,352.5 19.9,353.6 21,353.4 21.7,352.3 22.7,351.7 24.1,352.3 25,351.5 25.5,349.8 26.8,350.1 28.5,351.3 28.9,349.4 29.6,348.3 31.1,349 32.5,349.5 33,347.9 33.8,346.8 35.4,347.7 36.6,347.8 36.8,345.6 37.7,345 39.5,346.1 40.4,345.3 40.5,343.3 41.8,343.3 43,343.3 44,342.7 44.5,341.4 45.5,340.9 47.3,341.8 48,340.8 48.1,338.9 49.6,339.3 51,339.5 51.5,338.2 51.8,336.6 53.2,336.8 54.4,336.5 54.9,335.3 55.7,334.5 57.2,334.8 57.8,333.7 57.9,332.1 58.8,331.4 60.7,332.1 61.4,331.2 61.2,329.2 62.3,328.8 64.1,329.2 64.9,328.4 64.6,326.4 65.9,326.3 67.6,326.4 67.9,325.1 67.5,323.1 69.4,323.6 70.4,323 70.5,321.5 71.1,320.5 72.3,320.2 73.6,319.9 73.8,318.5 74.3,317.5 75.7,317.4 77.3,317.5 77.1,315.7 77.6,314.6 79.4,314.9 79.9,313.8 80.3,312.7 80.7,311.5 82.5,311.8 M17.5,458.8 19.1,458 19.8,459.2 20.4,460.5 21.6,460.5 23.2,459.7 23.4,461.8 24.2,462.6 25.9,461.7 27.1,461.8 27.5,463.5 28.4,464.1 30,463.1 30.9,463.9 31.5,465.3 32.7,465.4 34,465 35,465.5 35.6,467 36.8,467.1 38.2,465.9 39.1,466.8 40,468.5 41.2,467.8 42.4,466.8 43.5,467.5 44.5,468.5 45.7,467.5 46.8,466.4 47.9,468.1 49,468.7 50,467 51.1,466.8 52.3,467.8 53.4,467.9 54.4,466 55.5,466.8 56.7,467.7 57.8,467.6 58.7,465.6 59.9,466.5 61.1,466.8 62.1,466.3 M17.7,333.1 19.1,333.7 19.5,331.8 20.4,331.1 22.2,332.5 23,331.6 23.8,330.7 24.5,329.3 26.2,330.6 27.3,330.5 27.8,328.8 28.8,328.2 30.3,329.2 31.3,328.5 31.9,327 33.1,327.2 34.5,327.7 35.1,326.2 35.9,325.3 37.2,325.6 38.5,326 39.4,325.1 39.8,323.1 41.5,324.4 42.5,324 43.2,322.9 44.2,322.4 45.4,322.4 46.6,322.5 47.1,320.8 48.1,320.3 49.5,320.8 50.6,320.6 51.2,319.2 52.3,319 53.6,319.3 54.6,318.8 55,316.9 56.2,316.9 57.8,317.9 58.4,316.4 59.1,315.3 60.7,316.2 61.8,316 62.5,314.9 63.1,313.4 64.7,314.4 65.6,313.6 66.2,312.2 67.3,312 68.8,312.7 69.9,312.4 70.1,310.3 71.1,309.9 72.7,310.6 73.6,309.9 73.8,307.9 75.2,308.2 76.8,309 77.2,307.3 77.8,306.1 79.5,306.9 80.9,307.1 80.9,305 81.4,303.8 82.9,304.1 84.1,304 84.8,303 85.5,302 86.8,302 88,301.7 88.2,300.2 88.7,299 90.9,300.1 91.7,299.3 91.3,297 92.8,297.1 94.4,297.4 94.7,295.9 95.2,294.9 96.1,294.2 97.8,294.6 98,293 M205.2,444.4 205.3,445.6 204.7,447 205.4,447.9 207.5,448.2 207,449.6 206.3,451.1 208.2,451.5 208.3,452.7 208.3,453.9 208.1,455.1 209.7,455.7 210,456.7 209.1,458.3 209.6,459.2 211.8,459.6 211.9,460.7 210.8,462.3 212,463.1 212.9,463.9 212.8,465.1 212.8,466.3 213.7,467.1 215.3,467.6 214.4,469.2 214.7,470.3 215.3,471.2 217.2,471.6 215.8,473.4 216,474.5 217.5,475.1 218.8,475.6 218.2,477.1 218.1,478.4 219.1,479.1 220.1,479.9 219.1,481.6 220.5,482.1 222.1,482.5 222.4,483.6 221.2,485.5 222.7,486 224.2,486.4 223.8,487.9 223.4,489.4 225,489.7 226.2,490.2 226.2,491.6 225.8,493.1 227.5,493.3 228.6,493.9 228.3,495.4 228.5,496.6 230.2,496.8 231.2,497.4 230.5,499.2 230.8,500.4 232.8,500.4 233.4,501.2 232.3,503.3 233.5,503.8 235.1,504.1 235.5,505.2 234.6,507.1 235.9,507.5 237.5,507.8 237.4,509.2 237.1,510.7 238.7,510.9 240.1,511.4 239.7,512.9 239.6,514.2 241.2,514.6 242.2,515.3 241.6,516.9 241.7,518.1 243.3,518.5 244.5,519 244.1,520.5 244.5,521.6 246.4,521.8 246,523.3 245.6,524.8 246.8,525.3 248.5,525.6 247.8,527.3 247.4,528.8 248.8,529.2 250.2,529.7 249.8,531.2 249.9,532.4 251.5,532.8 252.4,533.5 251.6,535.2 251.7,536.5 253.4,536.8 254.3,537.5 254.4,538.7 254.7,539.8 255.8,540.5 256.6,541.2 256.1,542.8 257.2,543.5 258.3,544.1 258.8,545 258,546.9 260,546.9 260.7,547.8 261.5,548.6 261.1,550.1 262.3,550.6 263.4,551.2 263.6,552.4 263.3,554 264.5,554.5 266,554.8 265.3,556.6 265.8,557.6 267.5,557.7 268.6,558.3 267.9,560.2 268.2,561.3 270.1,561.3 270.9,562.1 270.2,563.9 271.2,564.6"/></defs>
<use href="#bfib" fill="none" stroke="#d8d8d8" stroke-width="2.8" opacity="0.32" stroke-linejoin="round"/>
<use href="#bfib" fill="none" stroke="#2a2a2a" stroke-width="0.8" opacity="0.55"/>
<use href="#bfib" fill="none" stroke="#1c1c1c" stroke-width="1.4" opacity="0.62" stroke-linejoin="round" stroke-linecap="round" stroke-dasharray="1.6 1.5 0.6 1.9 2.4 1.3 0.3 1.7 1.1 2.2"/>
<g fill="#2a2a2a" opacity="0.8"><circle cx="161.4" cy="374.5" r="0.9"/><circle cx="228.4" cy="379.6" r="0.9"/><circle cx="183.1" cy="394.6" r="0.9"/><circle cx="342.6" cy="399.3" r="0.9"/><circle cx="320.9" cy="367.8" r="0.9"/><circle cx="374.1" cy="487.9" r="0.9"/><circle cx="399.7" cy="311.9" r="0.9"/><circle cx="244.1" cy="381.6" r="0.9"/><circle cx="252" cy="382.8" r="0.9"/><circle cx="226.4" cy="267.4" r="0.9"/><circle cx="78.8" cy="356" r="0.9"/><circle cx="303.7" cy="380.5" r="0.8"/><circle cx="254.8" cy="382.8" r="0.8"/><circle cx="284.9" cy="379.9" r="0.8"/><circle cx="303.3" cy="382.7" r="0.7"/><circle cx="267.6" cy="384.5" r="0.6"/><circle cx="377.1" cy="368" r="0.8"/><circle cx="260.8" cy="381.5" r="0.8"/><circle cx="273.6" cy="381.7" r="0.5"/><circle cx="277.1" cy="382.9" r="0.9"/><circle cx="301.4" cy="379.1" r="0.8"/><circle cx="280.3" cy="383.5" r="0.7"/><circle cx="395.7" cy="359.9" r="0.7"/><circle cx="310.8" cy="380.9" r="0.6"/><circle cx="361.8" cy="368.4" r="0.7"/><circle cx="400.7" cy="359.7" r="0.6"/><circle cx="392.9" cy="364" r="0.5"/><circle cx="280.7" cy="381.2" r="0.6"/><circle cx="381.7" cy="366.8" r="0.9"/><circle cx="354.9" cy="372.2" r="0.7"/><circle cx="362.2" cy="370" r="0.5"/><circle cx="327.6" cy="375.9" r="0.7"/><circle cx="259.5" cy="381.6" r="0.9"/><circle cx="309" cy="378.4" r="0.6"/><circle cx="343" cy="376.1" r="0.6"/><circle cx="328.8" cy="376.3" r="0.8"/><circle cx="338.8" cy="373.1" r="0.6"/><circle cx="363.3" cy="367.5" r="0.8"/><circle cx="257.2" cy="382.5" r="0.7"/><circle cx="381.6" cy="366.4" r="0.8"/><circle cx="368.9" cy="369.8" r="0.5"/><circle cx="378.8" cy="364.5" r="0.6"/><circle cx="257.8" cy="381.6" r="0.9"/><circle cx="310.5" cy="376.9" r="0.5"/><circle cx="382" cy="366.2" r="0.9"/><circle cx="257.8" cy="382.1" r="0.6"/><circle cx="281.3" cy="380.5" r="0.6"/><circle cx="350.4" cy="370.6" r="0.6"/><circle cx="334.3" cy="374.7" r="0.6"/><circle cx="339.3" cy="374.5" r="0.7"/><circle cx="324.9" cy="374.4" r="0.7"/><circle cx="281.7" cy="381.7" r="0.5"/><circle cx="388.3" cy="364.7" r="0.7"/><circle cx="335.2" cy="377.6" r="0.6"/><circle cx="310.9" cy="380.2" r="0.6"/><circle cx="360.6" cy="372.6" r="0.5"/><circle cx="295.7" cy="379.9" r="0.8"/></g>
<rect x="17.7" y="243.0" width="393.1" height="322.3" filter="url(#bnoise)" opacity="0.3"/>
</g>
<rect x="292.5" y="529.8" width="118.3" height="36.1" fill="#fdfdfd"/>
<rect x="295.7" y="553.3" width="111.7" height="8.3" fill="#000"/>
<text x="352" y="550.6" font-size="23.4" font-weight="bold" text-anchor="middle" fill="#000" textLength="48.5" lengthAdjust="spacingAndGlyphs">2µm</text>
</g>
<g id="panelC">
<defs><filter id="cblur" x="-20%" y="-20%" width="140%" height="140%"><feGaussianBlur stdDeviation="0.9"/></filter>
<filter id="cnoise" x="0" y="0" width="100%" height="100%"><feTurbulence type="fractalNoise" baseFrequency="0.55" numOctaves="2" seed="8"/><feColorMatrix type="matrix" values="0 0 0 0 0.5  0 0 0 0 0.5  0 0 0 0 0.5  0.6 0.6 0 0 -0.42"/></filter>
<clipPath id="cclip"><rect x="415.4" y="243.2" width="322.8" height="321.9"/></clipPath>
<linearGradient id="cgold" x1="0" y1="0" x2="0" y2="1"><stop offset="0" stop-color="#c9a227"/><stop offset="0.35" stop-color="#fbe04a"/><stop offset="0.6" stop-color="#f2c832"/><stop offset="1" stop-color="#c79a1e"/></linearGradient>
</defs>
<rect x="415.4" y="243.2" width="322.8" height="321.9" fill="#f0f0f0"/>
<g clip-path="url(#cclip)">
<rect x="415.4" y="243.2" width="322.8" height="321.9" filter="url(#cnoise)" opacity="0.7"/>
<g filter="url(#cblur)">
<rect x="-16" y="-7.8" width="32" height="15.5" rx="7.8" transform="translate(728.5,254) rotate(-40)" fill="#fafafa" opacity="0.6"/>
<rect x="-15.5" y="-7.5" width="31" height="15" rx="7.5" transform="translate(707.9,276.5) rotate(-30)" fill="#fafafa" opacity="0.6"/>
<rect x="-15.5" y="-7.5" width="31" height="15" rx="7.5" transform="translate(681.5,285.6) rotate(-25)" fill="#fafafa" opacity="0.6"/>
<rect x="-16" y="-7.8" width="32" height="15.5" rx="7.8" transform="translate(658.2,296.8) rotate(-50)" fill="#fafafa" opacity="0.6"/>
<rect x="-16" y="-7.5" width="32" height="15" rx="7.5" transform="translate(647.1,324.1) rotate(-65)" fill="#fafafa" opacity="0.6"/>
<rect x="-16.5" y="-7.8" width="33" height="15.5" rx="7.8" transform="translate(622.8,341.3) rotate(-35)" fill="#fafafa" opacity="0.6"/>
<rect x="-16.5" y="-7.8" width="33" height="15.5" rx="7.8" transform="translate(597.5,357.5) rotate(-45)" fill="#fafafa" opacity="0.6"/>
<rect x="-16.5" y="-7.8" width="33" height="15.5" rx="7.8" transform="translate(587.3,383.9) rotate(-65)" fill="#fafafa" opacity="0.6"/>
<rect x="-15" y="-7.5" width="30" height="15" rx="7.5" transform="translate(567,403.5) rotate(-42)" fill="#fafafa" opacity="0.6"/>
<rect x="-15.5" y="-7.5" width="31" height="15" rx="7.5" transform="translate(551.8,422.3) rotate(-55)" fill="#fafafa" opacity="0.6"/>
<rect x="-15.5" y="-7.8" width="31" height="15.5" rx="7.8" transform="translate(547.7,444.6) rotate(-60)" fill="#fafafa" opacity="0.6"/>
<rect x="-16" y="-7.8" width="32" height="15.5" rx="7.8" transform="translate(524.4,457.7) rotate(-30)" fill="#fafafa" opacity="0.6"/>
<rect x="-15" y="-7.5" width="30" height="15" rx="7.5" transform="translate(503.2,467.9) rotate(-28)" fill="#fafafa" opacity="0.6"/>
<rect x="-13" y="-7" width="26" height="14" rx="7" transform="translate(496.1,483) rotate(-28)" fill="#fafafa" opacity="0.6"/>
<rect x="-15.5" y="-7.5" width="31" height="15" rx="7.5" transform="translate(473.8,503.3) rotate(-42)" fill="#fafafa" opacity="0.6"/>
<rect x="-16.5" y="-7.8" width="33" height="15.5" rx="7.8" transform="translate(451.5,518.5) rotate(-57)" fill="#fafafa" opacity="0.6"/>
<rect x="-14" y="-7.2" width="28" height="14.5" rx="7.2" transform="translate(439.4,540.8) rotate(-40)" fill="#fafafa" opacity="0.6"/>
<rect x="-14" y="-7.5" width="28" height="15" rx="7.5" transform="translate(423.2,556) rotate(-38)" fill="#fafafa" opacity="0.6"/>
<rect x="-16.5" y="-7.5" width="33" height="15" rx="7.5" transform="translate(459.2,427.3) rotate(-2)" fill="#fafafa" opacity="0.6"/>
<rect x="-14.5" y="-7.2" width="29" height="14.5" rx="7.2" transform="translate(525,408) rotate(78)" fill="#fafafa" opacity="0.6"/>
<rect x="-14.2" y="-6" width="28.5" height="12.1" rx="6" transform="translate(728.5,254) rotate(-40)" fill="#0a0a0a" />
<rect x="-13.8" y="-5.8" width="27.5" height="11.6" rx="5.8" transform="translate(707.9,276.5) rotate(-30)" fill="#6a6a6a" />
<rect x="-13.8" y="-5.8" width="27.5" height="11.6" rx="5.8" transform="translate(681.5,285.6) rotate(-25)" fill="#3a3a3a" />
<rect x="-14.2" y="-6" width="28.5" height="12.1" rx="6" transform="translate(658.2,296.8) rotate(-50)" fill="#0c0c0c" />
<rect x="-14.2" y="-5.8" width="28.5" height="11.6" rx="5.8" transform="translate(647.1,324.1) rotate(-65)" fill="#7d7d7d" />
<rect x="-14.8" y="-6" width="29.5" height="12.1" rx="6" transform="translate(622.8,341.3) rotate(-35)" fill="#0a0a0a" />
<rect x="-14.8" y="-6" width="29.5" height="12.1" rx="6" transform="translate(597.5,357.5) rotate(-45)" fill="#0e0e0e" />
<rect x="-14.8" y="-6" width="29.5" height="12.1" rx="6" transform="translate(587.3,383.9) rotate(-65)" fill="#0c0c0c" />
<rect x="-13.2" y="-5.8" width="26.5" height="11.6" rx="5.8" transform="translate(567,403.5) rotate(-42)" fill="#8a8a8a" />
<rect x="-13.8" y="-5.8" width="27.5" height="11.6" rx="5.8" transform="translate(551.8,422.3) rotate(-55)" fill="#6e6e6e" />
<rect x="-13.8" y="-6" width="27.5" height="12.1" rx="6" transform="translate(547.7,444.6) rotate(-60)" fill="#0a0a0a" />
<rect x="-14.2" y="-6" width="28.5" height="12.1" rx="6" transform="translate(524.4,457.7) rotate(-30)" fill="#0e0e0e" />
<rect x="-13.2" y="-5.8" width="26.5" height="11.6" rx="5.8" transform="translate(503.2,467.9) rotate(-28)" fill="#8c8c8c" />
<rect x="-11.2" y="-5.3" width="22.5" height="10.6" rx="5.3" transform="translate(496.1,483) rotate(-28)" fill="#333" />
<rect x="-13.8" y="-5.8" width="27.5" height="11.6" rx="5.8" transform="translate(473.8,503.3) rotate(-42)" fill="#7c7c7c" />
<rect x="-14.8" y="-6" width="29.5" height="12.1" rx="6" transform="translate(451.5,518.5) rotate(-57)" fill="#0a0a0a" />
<rect x="-12.2" y="-5.5" width="24.5" height="11.1" rx="5.5" transform="translate(439.4,540.8) rotate(-40)" fill="#7a7a7a" />
<rect x="-12.2" y="-5.8" width="24.5" height="11.6" rx="5.8" transform="translate(423.2,556) rotate(-38)" fill="#555" />
<rect x="-14.8" y="-5.8" width="29.5" height="11.6" rx="5.8" transform="translate(459.2,427.3) rotate(-2)" fill="#5c5c5c" />
<rect x="-12.8" y="-5.5" width="25.5" height="11.1" rx="5.5" transform="translate(525,408) rotate(78)" fill="#3a3a3a" />
</g>
</g>
<path d="M453.5,569 L467.5,547 L468.5,540 L484.5,528 L505.2,519.5 L519.2,497.5 L520.2,490.5 L536.2,478.5 L560.9,469.9 L574.9,447.9 L575.9,440.9 L591.9,428.9 L615.6,418.3 L629.6,396.3 L630.6,389.3 L646.6,377.3 L670.4,366.7 L684.4,344.7 L685.4,337.7 L701.4,325.7 L724,315 L738,293 L742.3,285.6" fill="none" stroke="#4fd657" stroke-width="10" stroke-linejoin="round" stroke-linecap="round" opacity="0.62"/>
<path d="M453.5,569 L467.5,547 L468.5,540 L484.5,528 L505.2,519.5 L519.2,497.5 L520.2,490.5 L536.2,478.5 L560.9,469.9 L574.9,447.9 L575.9,440.9 L591.9,428.9 L615.6,418.3 L629.6,396.3 L630.6,389.3 L646.6,377.3 L670.4,366.7 L684.4,344.7 L685.4,337.7 L701.4,325.7 L724,315 L738,293 L742.3,285.6" fill="none" stroke="#8df07c" stroke-width="4" stroke-linejoin="round" stroke-linecap="round" opacity="0.55"/>
<rect x="-11" y="-4.7" width="22" height="9.4" rx="4.7" transform="translate(462,556.5) rotate(-62)" fill="url(#cgold)" />
<rect x="-11" y="-4.7" width="22" height="9.4" rx="4.7" transform="translate(474.5,532) rotate(-33)" fill="url(#cgold)" />
<rect x="-11" y="-4.7" width="22" height="9.4" rx="4.7" transform="translate(513.7,507) rotate(-62)" fill="url(#cgold)" />
<rect x="-11" y="-4.7" width="22" height="9.4" rx="4.7" transform="translate(526.2,482.5) rotate(-33)" fill="url(#cgold)" />
<rect x="-11" y="-4.7" width="22" height="9.4" rx="4.7" transform="translate(569.4,457.4) rotate(-62)" fill="url(#cgold)" />
<rect x="-11" y="-4.7" width="22" height="9.4" rx="4.7" transform="translate(581.9,432.9) rotate(-33)" fill="url(#cgold)" />
<rect x="-11" y="-4.7" width="22" height="9.4" rx="4.7" transform="translate(624.1,405.8) rotate(-62)" fill="url(#cgold)" />
<rect x="-11" y="-4.7" width="22" height="9.4" rx="4.7" transform="translate(636.6,381.3) rotate(-33)" fill="url(#cgold)" />
<rect x="-11" y="-4.7" width="22" height="9.4" rx="4.7" transform="translate(678.9,354.2) rotate(-62)" fill="url(#cgold)" />
<rect x="-11" y="-4.7" width="22" height="9.4" rx="4.7" transform="translate(691.4,329.7) rotate(-33)" fill="url(#cgold)" />
<rect x="-11" y="-4.7" width="22" height="9.4" rx="4.7" transform="translate(732.5,302.5) rotate(-62)" fill="url(#cgold)" />
<circle cx="506.2" cy="520.5" r="3" fill="#e8c030" opacity="0.85"/>
<circle cx="561.9" cy="470.9" r="3" fill="#e8c030" opacity="0.85"/>
<circle cx="616.6" cy="419.3" r="3" fill="#e8c030" opacity="0.85"/>
<circle cx="671.4" cy="367.7" r="3" fill="#e8c030" opacity="0.85"/>
<circle cx="725" cy="316" r="3" fill="#e8c030" opacity="0.85"/>
<path d="M446,566 l8,8 l4,-5 z" fill="#e8c030"/>
<ellipse cx="0" cy="0" rx="40" ry="15.5" transform="translate(456.7,517.4) rotate(-44)" fill="none" stroke="#5b9bd5" stroke-width="1.8" stroke-dasharray="5.4 2.8"/>
<ellipse cx="0" cy="0" rx="37" ry="15" transform="translate(511.3,466.8) rotate(-41)" fill="none" stroke="#c00000" stroke-width="1.8" stroke-dasharray="5.4 2.8"/>
<ellipse cx="0" cy="0" rx="36" ry="14.5" transform="translate(555.9,420.3) rotate(-52)" fill="none" stroke="#7030a0" stroke-width="1.8" stroke-dasharray="5.4 2.8"/>
<ellipse cx="0" cy="0" rx="46" ry="15" transform="translate(606.0,358.0) rotate(-47.7)" fill="none" stroke="#ed7d31" stroke-width="1.8" stroke-dasharray="5.4 2.8"/>
<ellipse cx="0" cy="0" rx="39.8" ry="15" transform="translate(665.3,299.3) rotate(-42.4)" fill="none" stroke="#1f4e5c" stroke-width="1.8" stroke-dasharray="5.4 2.8"/>
<ellipse cx="0" cy="0" rx="39" ry="16" transform="translate(476.9,539.7) rotate(-42.5)" fill="none" stroke="#5b9bd5" stroke-width="1.8" stroke-dasharray="5.4 2.8"/>
<ellipse cx="0" cy="0" rx="39" ry="16" transform="translate(528.7,492.3) rotate(-42)" fill="none" stroke="#c00000" stroke-width="1.8" stroke-dasharray="5.4 2.8"/>
<ellipse cx="0" cy="0" rx="39" ry="16" transform="translate(584.2,440.5) rotate(-43)" fill="none" stroke="#7030a0" stroke-width="1.8" stroke-dasharray="5.4 2.8"/>
<ellipse cx="0" cy="0" rx="39" ry="16" transform="translate(642.0,387.5) rotate(-43.5)" fill="none" stroke="#ed7d31" stroke-width="1.8" stroke-dasharray="5.4 2.8"/>
<ellipse cx="0" cy="0" rx="39" ry="16.5" transform="translate(694.1,336.3) rotate(-44.5)" fill="none" stroke="#1f4e5c" stroke-width="1.8" stroke-dasharray="5.4 2.8"/>
<rect x="679.5" y="538.2" width="58.7" height="26.9" fill="#f8f8f8" opacity="0.92"/>
<rect x="683" y="553.9" width="47" height="4.4" fill="#000"/>
<text x="705.2" y="551.8" font-size="13.3" font-weight="bold" text-anchor="middle" fill="#000" textLength="45.8" lengthAdjust="spacingAndGlyphs">100 nm</text>
</g>
<g id="panelD">
<path d="M861.8,443.3 L871.2,443.3 L883.7,443.3 L898.6,443.3 L915.2,443.2 L932.7,443.2 L950.5,443.2 L967.8,443.3 L983.9,443.3 L999.5,443.3 L1015.8,443.4 L1032.3,443.4 L1048.7,443.5 L1064.6,443.6 L1079.7,443.7 L1093.6,443.7 L1105.9,443.9 L1116.5,444 L1125.5,443.7 L1133.3,443.7 L1140.3,444.1 L1146.8,444.1 L1153.1,444.1 L1159.8,443.9 L1167,444.1 L1175,444.2 L1183.7,444.3 L1192.5,444 L1201.3,444.3 L1209.6,444.3 L1217,444.7 L1223.3,444.9 L1228,444.9" fill="none" stroke="#7d9fd3" stroke-width="3.0" stroke-linejoin="round" stroke-linecap="round"/>
<path d="M861.8,443.4 L871.6,443.4 L885.2,443.4 L901.3,443.5 L919,443.5 L937.2,443.5 L954.8,443.5 L970.7,443.5 L983.9,443.5 L994.6,443.5 L1004,443.5 L1012.3,443.5 L1019.7,443.5 L1026.5,443.5 L1032.8,443.5 L1038.9,443.5 L1044.9,443.4 L1050.7,443.4 L1055.9,443.3 L1060.7,443.2 L1065.1,443.2 L1069.3,443.1 L1073.4,443 L1077.4,442.9 L1081.5,442.8 L1085.5,442.6 L1089,442.4 L1092.3,442.2 L1095.6,442 L1099.1,441.9 L1102.8,441.7 L1107.1,441.6 L1112,441.5 L1117.7,441.3 L1123.9,441.3 L1130.6,441.6 L1137.6,441.4 L1144.8,441.4 L1152.2,441.9 L1159.6,441.7 L1167,442 L1174.7,441.7 L1183.2,441.9 L1192.1,441.6 L1200.9,442 L1209.3,442.2 L1216.9,441.9 L1223.2,442.1 L1228,442.1" fill="none" stroke="#45d4ee" stroke-width="3.0" stroke-linejoin="round" stroke-linecap="round"/>
<path d="M861.8,442.6 L866.5,442.6 L872.8,442.7 L880.2,442.7 L888.5,442.7 L897.3,442.7 L906.1,442.7 L914.8,442.8 L922.8,442.8 L930.5,442.8 L938.2,442.7 L946,442.7 L953.7,442.7 L961.4,442.7 L969,442.6 L976.5,442.6 L983.9,442.6 L991.3,442.6 L998.9,442.6 L1006.5,442.6 L1014,442.6 L1021.1,442.6 L1027.8,442.6 L1033.7,442.7 L1038.8,442.8 L1042.8,442.9 L1045.9,443.1 L1048.3,443.3 L1050.2,443.5 L1051.8,443.8 L1053.3,444.1 L1055,444.3 L1057.1,444.6 L1059.5,444.9 L1062,445.2 L1064.4,445.6 L1066.9,446 L1069.4,446.3 L1071.9,446.6 L1074.3,446.8 L1076.6,446.9 L1078.9,446.9 L1081.1,446.8 L1083.2,446.6 L1085.3,446.4 L1087.3,446.1 L1089.4,445.9 L1091.5,445.6 L1093.7,445.4 L1095.7,445.1 L1097.4,444.9 L1098.9,444.6 L1100.5,444.4 L1102.4,444.1 L1104.9,443.9 L1108,443.8 L1112,443.6 L1117.1,443.5 L1123.1,443.2 L1129.7,443.2 L1136.8,443 L1144.3,442.9 L1151.9,442.8 L1159.6,442.8 L1167,443.4 L1174.7,443.3 L1183.2,443.3 L1192.1,443.4 L1200.9,443 L1209.3,443.2 L1216.9,443.5 L1223.2,443.7 L1228,443.8" fill="none" stroke="#9bbb59" stroke-width="3.4" stroke-linejoin="round" stroke-linecap="round"/>
<path d="M861.8,444.5 L865.1,444.5 L869.5,444.5 L874.8,444.5 L880.7,444.5 L886.8,444.5 L893.1,444.5 L899,444.5 L904.5,444.5 L909.7,444.5 L914.8,444.5 L920,444.6 L925,444.6 L930,444.7 L934.9,444.6 L939.6,444.6 L944.2,444.5 L948.6,444.3 L952.9,444 L957.1,443.8 L961.2,443.5 L965.1,443.1 L968.9,442.7 L972.5,442.2 L975.9,441.7 L979.2,441.1 L982.3,440.4 L985.3,439.6 L988.1,438.8 L990.8,437.9 L993.3,437.2 L995.7,436.4 L997.9,435.9 L999.9,435.3 L1001.7,434.9 L1003.3,434.5 L1004.8,434.1 L1006.2,433.8 L1007.6,433.6 L1009,433.4 L1010.5,433.4 L1012.1,433.4 L1013.6,433.6 L1015,433.8 L1016.5,434.1 L1018,434.5 L1019.6,434.9 L1021.2,435.3 L1022.9,435.9 L1024.8,436.4 L1026.7,437.1 L1028.8,437.8 L1030.8,438.6 L1032.9,439.4 L1035,440.2 L1036.9,441 L1038.8,441.7 L1040.5,442.4 L1042.2,442.9 L1043.8,443.5 L1045.4,444 L1047,444.6 L1048.5,445.2 L1050,446 L1051.6,446.9 L1053.2,448.1 L1054.8,449.4 L1056.3,450.8 L1057.9,452.3 L1059.4,453.8 L1061,455.3 L1062.6,456.7 L1064.1,458 L1065.7,459.2 L1067.2,460.3 L1068.7,461.5 L1070.2,462.5 L1071.7,463.5 L1073.3,464.4 L1074.9,465.2 L1076.6,466 L1078.5,466.6 L1080.4,467.1 L1082.3,467.5 L1084.4,467.8 L1086.4,468 L1088.5,468.2 L1090.5,468.3 L1092.5,468.4 L1094.5,468.5 L1096.4,468.4 L1098.3,468.3 L1100.2,468.2 L1102.1,467.9 L1104.1,467.7 L1106.1,467.1 L1108.3,466.9 L1110.4,466.6 L1112.7,465.9 L1115,465.4 L1117.3,464.3 L1119.7,463.8 L1122.1,462.9 L1124.6,462.4 L1127.2,461.8 L1129.7,460.8 L1132.3,460.3 L1134.8,459.8 L1137.4,459.9 L1140.2,459.2 L1143,457.9 L1146,458.2 L1149.3,456.9 L1152.8,457.1 L1156.6,455.9 L1160.6,455.2 L1164.8,456.3 L1169,454.8 L1173.1,454.4 L1177,455.5 L1180.7,454.9 L1184.2,453.5 L1187.5,454.4 L1190.7,453.3 L1193.9,453.3 L1197,452.1 L1200,453.1 L1202.9,452.4 L1205.9,452.6 L1209,452.2 L1212.2,450.8 L1215.4,450.5 L1218.5,449.9 L1221.5,449.5 L1224.1,449.1 L1226.3,449.3 L1228,449.7" fill="none" stroke="#f3a53f" stroke-width="3.9" stroke-linejoin="round" stroke-linecap="round"/>
<path d="M861.8,441.3 L864.6,441.4 L868.4,441.4 L872.9,441.4 L877.9,441.5 L883.1,441.6 L888.2,441.7 L893,441.9 L897.2,442.2 L900.9,442.6 L904.3,443.1 L907.6,443.7 L910.7,444.3 L913.7,445 L916.6,445.7 L919.5,446.3 L922.2,446.9 L924.9,447.6 L927.6,448.2 L930.2,448.9 L932.7,449.6 L935,450.3 L937.2,450.8 L939.3,451.4 L941.1,451.8 L942.8,452 L944.1,452.3 L945.3,452.4 L946.3,452.5 L947.3,452.5 L948.3,452.5 L949.4,452.4 L950.7,452.3 L952.1,452.1 L953.6,451.9 L955.1,451.6 L956.7,451.3 L958.3,450.9 L959.9,450.4 L961.5,449.8 L963.1,449.1 L964.7,448.4 L966.3,447.7 L967.9,446.9 L969.5,446 L971.1,445 L972.7,443.8 L974.3,442.3 L975.9,440.7 L977.5,438.7 L979.2,436.5 L980.8,434 L982.4,431.4 L984,428.7 L985.6,425.8 L987.1,423 L988.5,420.1 L989.8,417.1 L991.1,413.9 L992.3,410.6 L993.4,407.2 L994.5,403.9 L995.6,400.7 L996.7,397.6 L997.9,394.8 L999.1,392.2 L1000.3,389.6 L1001.6,387.1 L1002.8,384.7 L1004,382.5 L1005.2,380.6 L1006.3,378.9 L1007.4,377.5 L1008.3,376.4 L1009.1,375.6 L1009.9,375.1 L1010.7,374.9 L1011.4,374.8 L1012.1,374.8 L1012.9,375 L1013.8,375.3 L1014.7,375.6 L1015.6,375.9 L1016.5,376.4 L1017.4,377 L1018.4,377.8 L1019.4,378.9 L1020.4,380.4 L1021.6,382.2 L1022.8,384.5 L1024.1,387.3 L1025.4,390.5 L1026.8,394 L1028.3,397.5 L1029.7,401 L1031.2,404.4 L1032.7,407.4 L1034.2,410.3 L1035.8,413.1 L1037.4,415.8 L1039.1,418.4 L1040.7,421 L1042.3,423.4 L1043.8,425.8 L1045.2,428 L1046.5,430.1 L1047.8,431.8 L1049,433.5 L1050.1,435 L1051.3,436.6 L1052.4,438.3 L1053.5,440.1 L1054.7,442.2 L1055.8,444.6 L1057,447.3 L1058.1,450.1 L1059.2,453 L1060.4,456 L1061.5,458.9 L1062.8,461.7 L1064.1,464.4 L1065.5,467 L1067,469.6 L1068.4,472.2 L1070,474.7 L1071.6,477.2 L1073.2,479.5 L1074.9,481.5 L1076.6,483.4 L1078.5,485 L1080.4,486.5 L1082.3,487.7 L1084.4,488.8 L1086.4,489.8 L1088.5,490.7 L1090.5,491.4 L1092.5,492.1 L1094.5,492.8 L1096.4,493.3 L1098.3,493.7 L1100.2,494 L1102.1,494.2 L1104.1,494.3 L1106.1,494.4 L1108.3,494.4 L1110.4,494.2 L1112.7,494 L1115,493.6 L1117.3,493.4 L1119.7,492.9 L1122.1,492.5 L1124.6,491.7 L1127.2,491.4 L1129.7,490.4 L1132.3,490.1 L1134.8,489.2 L1137.4,488.1 L1140.2,487.3 L1143,486.6 L1146,485.2 L1149.3,484.8 L1152.9,484.3 L1156.8,482.5 L1161.1,482.5 L1165.4,481.4 L1169.7,480.8 L1173.7,479 L1177.5,477.8 L1180.7,478.9 L1183.4,478.6 L1185.7,477.7 L1187.7,476.9 L1189.5,477.2 L1191.1,478.4 L1192.7,477.8 L1194.4,479.5 L1196.3,478.8 L1198.2,478 L1200.2,479.1 L1202.2,478.5 L1204.2,479.9 L1206.2,480 L1208.2,479.2 L1210.1,479.7 L1212.1,480 L1214.2,480.5 L1216.5,481.1 L1218.8,479.2 L1221.1,480.3 L1223.2,481.2 L1225.1,480.8 L1226.8,481.7 L1228,480.8" fill="none" stroke="#ef3f45" stroke-width="3.9" stroke-linejoin="round" stroke-linecap="round"/>
<path d="M861.8,441.3 L864.6,441.4 L868.4,441.4 L872.9,441.4 L877.9,441.5 L883.1,441.6 L888.2,441.7 L893,441.9 L897.2,442.2 L900.9,442.6 L904.3,443.1 L907.6,443.7 L910.7,444.3 L913.7,445 L916.6,445.7 L919.5,446.3 L922.2,446.9 L924.9,447.6 L927.6,448.2 L930.2,448.9 L932.7,449.6 L935,450.3 L937.2,450.8 L939.3,451.4 L941.1,451.8 L942.8,452 L944.1,452.3 L945.3,452.4 L946.3,452.5 L947.3,452.5 L948.3,452.5 L949.4,452.4 L950.7,452.3 L952.1,452.1 L953.6,451.9 L955.1,451.6 L956.7,451.3 L958.3,450.9 L959.9,450.4 L961.5,449.8 L963.1,449.1 L964.7,448.5 L966.3,447.8 L967.9,447.2 L969.5,446.4 L971.1,445.4 L972.7,444.2 L974.3,442.6 L975.9,440.7 L977.6,438.4 L979.2,435.9 L980.8,433.1 L982.4,430.1 L984.1,426.7 L985.7,422.9 L987.4,418.6 L989.1,413.8 L990.8,408.4 L992.6,402.2 L994.4,395.4 L996.2,388.3 L998,381 L999.7,373.8 L1001.3,366.7 L1002.8,360.1 L1004.1,353.8 L1005.4,347.3 L1006.6,340.8 L1007.7,334.5 L1008.8,328.4 L1009.8,322.7 L1010.7,317.4 L1011.6,312.7 L1012.5,308.6 L1013.3,304.9 L1014.1,301.6 L1014.8,298.7 L1015.5,296.2 L1016.2,293.9 L1016.8,291.8 L1017.4,289.9 L1018,288.3 L1018.6,286.9 L1019.1,285.9 L1019.6,285.1 L1020.1,284.5 L1020.5,284.1 L1021.1,283.9 L1021.6,283.8 L1022.1,283.7 L1022.7,283.7 L1023.2,283.8 L1023.8,284.1 L1024.4,284.7 L1025,285.7 L1025.6,287.2 L1026.3,289.3 L1027,292 L1027.8,295.4 L1028.6,299.3 L1029.4,303.5 L1030.2,308.1 L1031,312.8 L1031.8,317.5 L1032.6,322.2 L1033.4,327 L1034.1,331.8 L1034.9,336.9 L1035.6,342 L1036.4,347.3 L1037.1,352.6 L1037.9,357.9 L1038.8,363.3 L1039.7,368.8 L1040.7,374.5 L1041.6,380.3 L1042.7,386.2 L1043.7,391.9 L1044.7,397.6 L1045.7,402.9 L1046.7,407.8 L1047.7,412.4 L1048.7,416.7 L1049.6,420.8 L1050.6,424.7 L1051.6,428.4 L1052.6,432 L1053.6,435.6 L1054.7,439.1 L1055.8,442.6 L1056.9,446 L1058,449.4 L1059.1,452.6 L1060.3,455.8 L1061.5,458.8 L1062.8,461.7 L1064.1,464.4 L1065.5,467 L1067,469.5 L1068.4,471.9 L1070,474.1 L1071.6,476.2 L1073.2,478.2 L1074.9,480 L1076.6,481.7 L1078.5,483.2 L1080.4,484.6 L1082.3,485.8 L1084.4,486.9 L1086.4,487.9 L1088.5,488.7 L1090.5,489.5 L1092.5,490.2 L1094.5,490.8 L1096.4,491.3 L1098.3,491.7 L1100.2,492.1 L1102.1,492.3 L1104.1,492.5 L1106.1,492.5 L1108.3,492.5 L1110.4,492.5 L1112.7,492.2 L1115,492 L1117.3,491.6 L1119.7,491.1 L1122.1,490.7 L1124.6,490 L1127.2,489.6 L1129.7,488.8 L1132.3,488.1 L1134.8,487.5 L1137.4,487 L1140.2,485.6 L1143,484.8 L1146,484.3 L1149.3,483.9 L1152.8,482.7 L1156.6,481.7 L1160.6,481.7 L1164.8,479.6 L1169,480.1 L1173.1,478.5 L1177,477.5 L1180.7,476.9 L1184.2,476.7 L1187.5,477.2 L1190.7,475.7 L1193.9,476.1 L1197,475.8 L1200,475 L1202.9,475 L1205.9,473.6 L1209,473.1 L1212.2,472.7 L1215.4,472.9 L1218.5,471.7 L1221.5,470.9 L1224.1,470.8 L1226.3,470 L1228,469.4" fill="none" stroke="#c2444a" stroke-width="4.3" stroke-linejoin="round" stroke-linecap="round"/>
<path d="M861.8,259.40000000000003 V521.2 H1229.2" fill="none" stroke="#000" stroke-width="2.7" stroke-linejoin="miter"/>
<path d="M856.1999999999999,260.6 H861.8 M858.1999999999999,286.7 H861.8 M856.1999999999999,312.7 H861.8 M858.1999999999999,338.8 H861.8 M856.1999999999999,364.8 H861.8 M858.1999999999999,390.9 H861.8 M856.1999999999999,417 H861.8 M858.1999999999999,443 H861.8 M856.1999999999999,469.1 H861.8 M858.1999999999999,495.1 H861.8 M856.1999999999999,521.2 H861.8 M861.8,521.2 v5.6 M892.3,521.2 v4.4 M922.8,521.2 v5.6 M953.3,521.2 v4.4 M983.9,521.2 v5.6 M1014.4,521.2 v4.4 M1044.9,521.2 v5.6 M1075.4,521.2 v4.4 M1105.9,521.2 v5.6 M1136.5,521.2 v4.4 M1167,521.2 v5.6 M1197.5,521.2 v4.4 M1228,521.2 v5.6 " fill="none" stroke="#000" stroke-width="2.2"/>
<text x="845.4" y="266.2" font-size="17.7" font-weight="normal" text-anchor="end" fill="#000" >0.14</text>
<text x="845.4" y="318.3" font-size="17.7" font-weight="normal" text-anchor="end" fill="#000" >0.1</text>
<text x="845.4" y="370.4" font-size="17.7" font-weight="normal" text-anchor="end" fill="#000" >0.06</text>
<text x="845.4" y="422.6" font-size="17.7" font-weight="normal" text-anchor="end" fill="#000" >0.02</text>
<text x="845.4" y="474.7" font-size="17.7" font-weight="normal" text-anchor="end" fill="#000" >-0.02</text>
<text x="845.4" y="526.8" font-size="17.7" font-weight="normal" text-anchor="end" fill="#000" >-0.06</text>
<text x="861.8" y="548.4" font-size="18.0" font-weight="normal" text-anchor="middle" fill="#000" >400</text>
<text x="922.8" y="548.4" font-size="18.0" font-weight="normal" text-anchor="middle" fill="#000" >500</text>
<text x="983.9" y="548.4" font-size="18.0" font-weight="normal" text-anchor="middle" fill="#000" >600</text>
<text x="1044.9" y="548.4" font-size="18.0" font-weight="normal" text-anchor="middle" fill="#000" >700</text>
<text x="1105.9" y="548.4" font-size="18.0" font-weight="normal" text-anchor="middle" fill="#000" >800</text>
<text x="1167" y="548.4" font-size="18.0" font-weight="normal" text-anchor="middle" fill="#000" >900</text>
<text x="1228" y="548.4" font-size="18.0" font-weight="normal" text-anchor="middle" fill="#000" >1000</text>
<text x="1044.5" y="579.5" font-size="21.3" font-weight="normal" text-anchor="middle" fill="#000" >Wavelength (nm)</text>
<text transform="translate(797,391) rotate(-90)" font-size="21.8" text-anchor="middle"><tspan font-style="italic">g</tspan>-factor</text>
<path d="M1107,280.6 H1145" stroke="#7d9fd3" stroke-width="3.6" stroke-linecap="round"/>
<text x="1146.3" y="286.8" font-size="17.4" font-weight="normal" text-anchor="start" fill="#000" >0 day</text>
<path d="M1107,304.2 H1145" stroke="#45d4ee" stroke-width="3.6" stroke-linecap="round"/>
<text x="1146.3" y="310.4" font-size="17.4" font-weight="normal" text-anchor="start" fill="#000" >6 days</text>
<path d="M1107,327.8 H1145" stroke="#9bbb59" stroke-width="3.6" stroke-linecap="round"/>
<text x="1146.3" y="334" font-size="17.4" font-weight="normal" text-anchor="start" fill="#000" >7 days</text>
<path d="M1107,351.8 H1145" stroke="#f3a53f" stroke-width="3.6" stroke-linecap="round"/>
<text x="1146.3" y="358" font-size="17.4" font-weight="normal" text-anchor="start" fill="#000" >8 days</text>
<path d="M1107,375.4 H1145" stroke="#ef3f45" stroke-width="3.6" stroke-linecap="round"/>
<text x="1146.3" y="381.6" font-size="17.4" font-weight="normal" text-anchor="start" fill="#000" >9 days</text>
<path d="M1107,399.3 H1145" stroke="#c2444a" stroke-width="3.6" stroke-linecap="round"/>
<text x="1146.3" y="405.5" font-size="17.4" font-weight="normal" text-anchor="start" fill="#000" >10 days</text>
</g>
<g id="panelE">
<defs>
<linearGradient id="edisc" x1="0" y1="0" x2="1" y2="1"><stop offset="0" stop-color="#a9a9a9"/><stop offset="1" stop-color="#a2a2a2"/></linearGradient>
<linearGradient id="eplate" x1="0" y1="0" x2="1" y2="0"><stop offset="0" stop-color="#8d8d8d"/><stop offset="0.3" stop-color="#9a9a9a"/><stop offset="1" stop-color="#a3a3a3"/></linearGradient>
<linearGradient id="ebeam" x1="0" y1="0" x2="0" y2="1"><stop offset="0" stop-color="#cfcfcf"/><stop offset="0.25" stop-color="#fff"/><stop offset="0.62" stop-color="#e6e6e6"/><stop offset="0.8" stop-color="#777"/><stop offset="1" stop-color="#3a3a3a"/></linearGradient>
<linearGradient id="ered" x1="0" y1="0" x2="0" y2="1"><stop offset="0" stop-color="#d06060"/><stop offset="0.5" stop-color="#b43a3a"/><stop offset="1" stop-color="#7a2020"/></linearGradient>
</defs>
<path d="M28.1,717.7 L28.1,694.7" stroke="#222" stroke-width="1.5" fill="none"/><path d="M28.1,689.7 L30.6,695.9 L25.6,695.9 Z" fill="#222"/>
<path d="M28.1,717.7 L38.3,698.1" stroke="#222" stroke-width="1.5" fill="none"/><path d="M40.6,693.7 L40,700.4 L35.5,698 Z" fill="#222"/>
<path d="M28.1,717.7 L41.4,713.6" stroke="#222" stroke-width="1.5" fill="none"/><path d="M46.1,712.2 L40.9,716.4 L39.4,711.6 Z" fill="#222"/>
<path d="M28.1,717.7 L38.2,728.6" stroke="#222" stroke-width="1.5" fill="none"/><path d="M41.6,732.2 L35.5,729.4 L39.2,726 Z" fill="#222"/>
<path d="M28.1,717.7 L28.9,740.7" stroke="#222" stroke-width="1.5" fill="none"/><path d="M29.1,745.7 L26.4,739.6 L31.4,739.4 Z" fill="#222"/>
<path d="M28.1,717.7 L19.1,738.2" stroke="#222" stroke-width="1.5" fill="none"/><path d="M17.1,742.7 L17.3,736 L21.9,738 Z" fill="#222"/>
<path d="M28.1,717.7 L14.7,722.9" stroke="#222" stroke-width="1.5" fill="none"/><path d="M10.1,724.7 L15,720.1 L16.8,724.8 Z" fill="#222"/>
<path d="M28.1,717.7 L18,706.8" stroke="#222" stroke-width="1.5" fill="none"/><path d="M14.6,703.2 L20.7,706 L17,709.4 Z" fill="#222"/>
<rect x="0" y="-1.4" width="64.1" height="2.8" transform="translate(6.8,715.4) rotate(9.41)" fill="url(#ebeam)"/>
<ellipse cx="0" cy="0" rx="42.4" ry="73.6" transform="translate(100.4,730.7) rotate(8)" fill="#0a0a0a"/><ellipse cx="0" cy="0" rx="35.6" ry="65.5" transform="translate(104.0,731.2) rotate(8)" fill="#3c3c3c"/><ellipse cx="0" cy="0" rx="34.0" ry="64.3" transform="translate(102.60000000000001,731.2) rotate(8)" fill="url(#edisc)"/>
<rect x="0" y="-1.5" width="87.2" height="3.0" transform="translate(100,730.8) rotate(9.41)" fill="url(#ebeam)"/>
<path d="M89.2,736.4 L114,726" stroke="#4a4a4a" stroke-width="1.5" fill="none"/><path d="M118.8,724 L113.8,728.9 L111.8,724.1 Z" fill="#4a4a4a"/><path d="M84.4,738.4 L91.4,738.3 L89.4,733.5 Z" fill="#4a4a4a"/>
<path d="M146.9,746.9 L170.4,735.3" stroke="#1a1a1a" stroke-width="1.4" fill="none"/><path d="M175.1,733 L170.4,738.2 L168.1,733.5 Z" fill="#1a1a1a"/><path d="M142.2,749.2 L149.2,748.7 L146.9,744 Z" fill="#1a1a1a"/>
<path d="M180.6,650.3 L214,638.7 L214,799.5 L180.6,820 Z" fill="url(#eplate)"/>
<g fill="#f3d657" stroke="#e0b93a" stroke-width="0.3"><rect x="-1.3" y="-2.3" width="2.6" height="4.6" rx="0.8" transform="translate(194.7,667) rotate(23)"/><rect x="-1.3" y="-2.3" width="2.6" height="4.6" rx="0.8" transform="translate(196.1,673.2) rotate(-2)"/><rect x="-1.3" y="-2.3" width="2.6" height="4.6" rx="0.8" transform="translate(194.4,679.4) rotate(-24)"/><rect x="-1.3" y="-2.3" width="2.6" height="4.6" rx="0.8" transform="translate(191.6,685.6) rotate(-19)"/><rect x="-1.3" y="-2.3" width="2.6" height="4.6" rx="0.8" transform="translate(191.1,691.8) rotate(10)"/><rect x="-1.3" y="-2.3" width="2.6" height="4.6" rx="0.8" transform="translate(193.4,698) rotate(26)"/><rect x="-1.3" y="-2.3" width="2.6" height="4.6" rx="0.8" transform="translate(195.8,704.2) rotate(12)"/><rect x="-1.3" y="-2.3" width="2.6" height="4.6" rx="0.8" transform="translate(195.5,710.4) rotate(-17)"/><rect x="-1.3" y="-2.3" width="2.6" height="4.6" rx="0.8" transform="translate(192.9,716.6) rotate(-25)"/><rect x="-1.3" y="-2.3" width="2.6" height="4.6" rx="0.8" transform="translate(190.9,722.8) rotate(-5)"/><rect x="-1.3" y="-2.3" width="2.6" height="4.6" rx="0.8" transform="translate(192,729) rotate(22)"/><rect x="-1.3" y="-2.3" width="2.6" height="4.6" rx="0.8" transform="translate(194.8,735.2) rotate(22)"/><rect x="-1.3" y="-2.3" width="2.6" height="4.6" rx="0.8" transform="translate(196.1,741.4) rotate(-3)"/><rect x="-1.3" y="-2.3" width="2.6" height="4.6" rx="0.8" transform="translate(194.3,747.6) rotate(-25)"/><rect x="-1.3" y="-2.3" width="2.6" height="4.6" rx="0.8" transform="translate(191.6,753.8) rotate(-18)"/><rect x="-1.3" y="-2.3" width="2.6" height="4.6" rx="0.8" transform="translate(191.1,760) rotate(11)"/><rect x="-1.3" y="-2.3" width="2.6" height="4.6" rx="0.8" transform="translate(193.5,766.2) rotate(26)"/><rect x="-1.3" y="-2.3" width="2.6" height="4.6" rx="0.8" transform="translate(195.8,772.4) rotate(12)"/><rect x="-1.3" y="-2.3" width="2.6" height="4.6" rx="0.8" transform="translate(195.5,778.6) rotate(-17)"/><rect x="-1.3" y="-2.3" width="2.6" height="4.6" rx="0.8" transform="translate(192.8,784.8) rotate(-25)"/><rect x="-1.3" y="-2.3" width="2.6" height="4.6" rx="0.8" transform="translate(209.3,681) rotate(-17)"/><rect x="-1.3" y="-2.3" width="2.6" height="4.6" rx="0.8" transform="translate(206.4,687.2) rotate(-27)"/><rect x="-1.3" y="-2.3" width="2.6" height="4.6" rx="0.8" transform="translate(204.3,693.4) rotate(-6)"/><rect x="-1.3" y="-2.3" width="2.6" height="4.6" rx="0.8" transform="translate(205.3,699.6) rotate(22)"/><rect x="-1.3" y="-2.3" width="2.6" height="4.6" rx="0.8" transform="translate(208.3,705.8) rotate(24)"/><rect x="-1.3" y="-2.3" width="2.6" height="4.6" rx="0.8" transform="translate(209.8,712) rotate(-2)"/><rect x="-1.3" y="-2.3" width="2.6" height="4.6" rx="0.8" transform="translate(208,718.2) rotate(-26)"/><rect x="-1.3" y="-2.3" width="2.6" height="4.6" rx="0.8" transform="translate(205,724.4) rotate(-20)"/><rect x="-1.3" y="-2.3" width="2.6" height="4.6" rx="0.8" transform="translate(204.4,730.6) rotate(11)"/><rect x="-1.3" y="-2.3" width="2.6" height="4.6" rx="0.8" transform="translate(206.8,736.8) rotate(27)"/><rect x="-1.3" y="-2.3" width="2.6" height="4.6" rx="0.8" transform="translate(209.5,743) rotate(13)"/><rect x="-1.3" y="-2.3" width="2.6" height="4.6" rx="0.8" transform="translate(209.2,749.2) rotate(-18)"/><rect x="-1.3" y="-2.3" width="2.6" height="4.6" rx="0.8" transform="translate(206.3,755.4) rotate(-27)"/><rect x="-1.3" y="-2.3" width="2.6" height="4.6" rx="0.8" transform="translate(204.2,761.6) rotate(-5)"/><rect x="-1.3" y="-2.3" width="2.6" height="4.6" rx="0.8" transform="translate(205.4,767.8) rotate(23)"/><rect x="-1.3" y="-2.3" width="2.6" height="4.6" rx="0.8" transform="translate(208.4,774) rotate(24)"/><rect x="-1.3" y="-2.3" width="2.6" height="4.6" rx="0.8" transform="translate(209.8,780.2) rotate(-3)"/><rect x="-1.3" y="-2.3" width="2.6" height="4.6" rx="0.8" transform="translate(209.5,675) rotate(20)"/><rect x="-1.3" y="-2.3" width="2.6" height="4.6" rx="0.8" transform="translate(212,668.5) rotate(25)"/><rect x="-1.3" y="-2.3" width="2.6" height="4.6" rx="0.8" transform="translate(214,661.5) rotate(10)"/></g>
<rect x="0" y="-1.55" width="68.9" height="3.1" transform="translate(194,746.4) rotate(9.41)" fill="url(#ebeam)"/>
<path d="M226,776.6 L245.3,732.5" stroke="#2a2a2a" stroke-width="1.4" fill="none"/><path d="M247.4,727.7 L247.2,734.7 L242.4,732.6 Z" fill="#2a2a2a"/><path d="M223.9,781.4 L228.9,776.5 L224.1,774.4 Z" fill="#2a2a2a"/>
<ellipse cx="0" cy="0" rx="33.4" ry="81.7" transform="translate(284.2,762.6) rotate(10)" fill="#0a0a0a"/><ellipse cx="0" cy="0" rx="29.6" ry="71.8" transform="translate(287.90000000000003,762.4) rotate(10)" fill="#3c3c3c"/><ellipse cx="0" cy="0" rx="28.0" ry="70.6" transform="translate(286.5,762.4) rotate(10)" fill="url(#edisc)"/>
<path d="M284.3,735.8 L284.3,788.9" stroke="#4a4a4a" stroke-width="1.5" fill="none"/><path d="M284.3,794.5 L281.5,787.5 L287.1,787.5 Z" fill="#4a4a4a"/><path d="M284.3,730.2 L281.5,737.2 L287.1,737.2 Z" fill="#4a4a4a"/>
<rect x="0" y="-1.55" width="41.6" height="3.1" transform="translate(252,756) rotate(9.41)" fill="url(#ebeam)"/>
<g transform="translate(292.5,762.7) rotate(9.41)"><rect x="0" y="-1.6" width="84.6" height="3.2" fill="url(#ered)"/><path d="M83.6,-5.6 L103.6,0.3 L83.6,5.6 Z" fill="url(#ered)"/></g>
<path d="M339.3,744.5 L337.9,798.8" stroke="#1a1a1a" stroke-width="1.4" fill="none"/><path d="M337.7,804.4 L335.2,797.3 L340.6,797.5 Z" fill="#1a1a1a"/><path d="M339.5,738.9 L336.6,745.8 L342,746 Z" fill="#1a1a1a"/>
</g>
<g id="panelF">
<defs>
<linearGradient id="fwall" x1="0" y1="0" x2="0" y2="1"><stop offset="0" stop-color="#8f8f8f"/><stop offset="0.6" stop-color="#9a9a9a"/><stop offset="1" stop-color="#8a8a8a"/></linearGradient>
<linearGradient id="fledge" x1="0" y1="0" x2="0" y2="1"><stop offset="0" stop-color="#8a8a8a"/><stop offset="0.6" stop-color="#969696"/><stop offset="1" stop-color="#707070"/></linearGradient>
<linearGradient id="flow" x1="0" y1="0" x2="0" y2="1"><stop offset="0" stop-color="#3d3d3d"/><stop offset="0.15" stop-color="#353535"/><stop offset="1" stop-color="#2c2c2c"/></linearGradient>
<linearGradient id="fring" x1="0" y1="0" x2="1" y2="1"><stop offset="0" stop-color="#6e6e6e"/><stop offset="0.45" stop-color="#4c4c4c"/><stop offset="1" stop-color="#a8a8a8"/></linearGradient><linearGradient id="fring2" x1="0" y1="0" x2="1" y2="1"><stop offset="0" stop-color="#3a3a3a"/><stop offset="0.6" stop-color="#4a4a4a"/><stop offset="1" stop-color="#8c8c8c"/></linearGradient>
<linearGradient id="fstrip" x1="0" y1="0" x2="0" y2="1"><stop offset="0" stop-color="#7c7c7c" stop-opacity="0"/><stop offset="0.25" stop-color="#7c7c7c"/><stop offset="1" stop-color="#747474"/></linearGradient>
<linearGradient id="fedge" x1="0" y1="0" x2="0" y2="1"><stop offset="0" stop-color="#fff" stop-opacity="0.35"/><stop offset="0.6" stop-color="#fff" stop-opacity="0.5"/><stop offset="0.85" stop-color="#fff" stop-opacity="0.95"/><stop offset="1" stop-color="#fff" stop-opacity="0"/></linearGradient>
<radialGradient id="fhole"><stop offset="0" stop-color="#120a0a"/><stop offset="1" stop-color="#0a0808"/></radialGradient>
<linearGradient id="fcuv" x1="0" y1="0" x2="1" y2="0"><stop offset="0" stop-color="#c9c9cd"/><stop offset="0.1" stop-color="#b4b4b8"/><stop offset="0.9" stop-color="#b4b4b8"/><stop offset="1" stop-color="#cdcdd1"/></linearGradient>
</defs>
<rect x="413.7" y="604.6" width="324.6" height="268.6" fill="#333"/>
<clipPath id="fc0"><rect x="413.7" y="604.6" width="160.9" height="268.6"/></clipPath>
<g clip-path="url(#fc0)">
<rect x="413.7" y="604.6" width="160.9" height="84" fill="url(#fwall)"/>
<rect x="413.7" y="672" width="160.9" height="15" fill="url(#fstrip)"/>
<rect x="413.7" y="686.5" width="160.9" height="20" fill="url(#fledge)"/>
<rect x="413.7" y="686.5" width="160.9" height="2.6" fill="#161616" opacity="0.95"/>
<rect x="413.7" y="705.5" width="160.9" height="170" fill="url(#flow)"/>
<ellipse cx="494.5" cy="797.2" rx="78.5" ry="75.0" fill="#262626" opacity="0.7"/>
<ellipse cx="494.5" cy="795.7" rx="76" ry="72.5" fill="#2b2b2b"/>
<ellipse cx="494.5" cy="795.7" rx="75.2" ry="71.7" fill="none" stroke="url(#fring)" stroke-width="1.7"/>
<ellipse cx="494.5" cy="795.2" rx="72.4" ry="68.7" fill="#1b1b1b"/>
<ellipse cx="495.3" cy="793.3" rx="68.9" ry="65.6" fill="none" stroke="url(#fring2)" stroke-width="1.2"/>
<ellipse cx="495.3" cy="792.5" rx="66.7" ry="63" fill="url(#fhole)"/>
<path d="M465.3,740.5 V846.5 M519.3,738.5 V848.5" stroke="#262020" stroke-width="1.2" opacity="0.8"/>
<radialGradient id="fs0"><stop offset="0" stop-color="#56200f"/><stop offset="0.55" stop-color="#4a1b0e"/><stop offset="0.85" stop-color="#2a0f0a" stop-opacity="0.7"/><stop offset="1" stop-color="#2a0f0a" stop-opacity="0"/></radialGradient>
<ellipse cx="487.8" cy="797.4" rx="14" ry="12.9" fill="url(#fs0)"/>
<rect x="450" y="609.4" width="78.4" height="81.6" fill="#c4c4cc" fill-opacity="0.42" stroke="#f0f0f6" stroke-width="1.1" stroke-opacity="0.55"/>
<rect x="457" y="612.4" width="65.4" height="77.6" fill="#b2b2bc" fill-opacity="0.30" stroke="#f2f2f8" stroke-width="0.8" stroke-opacity="0.5"/>
<rect x="450" y="609.4" width="78.4" height="2.2" fill="#eef0ff" opacity="0.55"/>
<rect x="522.4" y="611.4" width="6" height="95.6" fill="url(#fedge)" opacity="0.8"/>
<rect x="450" y="611.4" width="3" height="79.6" fill="#fff" opacity="0.35"/>
<rect x="462" y="610.9" width="52.4" height="1.6" fill="#5a78f0" opacity="0.5"/>
<rect x="463.9" y="637.6" width="12.3" height="12.8" fill="#5585ee"/>
<rect x="503.8" y="637.6" width="12.3" height="12.8" fill="#6c9af6"/>
<rect x="465.9" y="639.6" width="8" height="9" fill="#9dbcfa" opacity="0.45"/>
<rect x="505.8" y="639.6" width="8" height="9" fill="#b8d0fc" opacity="0.5"/>
<text x="490.2" y="631" font-size="11.7" font-weight="normal" text-anchor="middle" fill="#f8f8f8" stroke="#f8f8f8" stroke-width="0.35">283</text>
<text x="489.7" y="650.8" font-size="18.3" font-weight="bold" text-anchor="middle" fill="#fafafa" >QS</text>
<text x="489.7" y="667.1" font-size="11.2" font-weight="normal" text-anchor="middle" fill="#f8f8f8" stroke="#f8f8f8" stroke-width="0.35">1.00 mm</text>
</g>
<clipPath id="fc1"><rect x="575.4" y="604.6" width="162.9" height="268.6"/></clipPath>
<g clip-path="url(#fc1)">
<rect x="575.4" y="604.6" width="162.9" height="84" fill="url(#fwall)"/>
<rect x="575.4" y="672" width="162.9" height="15" fill="url(#fstrip)"/>
<rect x="575.4" y="686.5" width="162.9" height="20" fill="url(#fledge)"/>
<rect x="575.4" y="686.5" width="162.9" height="2.6" fill="#161616" opacity="0.95"/>
<rect x="575.4" y="705.5" width="162.9" height="170" fill="url(#flow)"/>
<ellipse cx="656.6" cy="799.0" rx="80.1" ry="74.1" fill="#262626" opacity="0.7"/>
<ellipse cx="656.6" cy="797.5" rx="77.6" ry="71.6" fill="#2b2b2b"/>
<ellipse cx="656.6" cy="797.5" rx="76.8" ry="70.8" fill="none" stroke="url(#fring)" stroke-width="1.7"/>
<ellipse cx="656.6" cy="797.0" rx="74.0" ry="67.8" fill="#1b1b1b"/>
<ellipse cx="657.5" cy="795.3" rx="71.8" ry="63.2" fill="none" stroke="url(#fring2)" stroke-width="1.2"/>
<ellipse cx="657.5" cy="794.5" rx="69.6" ry="60.6" fill="url(#fhole)"/>
<path d="M627.5,742.5 V848.5 M681.5,740.5 V850.5" stroke="#262020" stroke-width="1.2" opacity="0.8"/>
<radialGradient id="fs1"><stop offset="0" stop-color="#c8361e"/><stop offset="0.55" stop-color="#e0432a"/><stop offset="0.85" stop-color="#8a1e10" stop-opacity="0.7"/><stop offset="1" stop-color="#8a1e10" stop-opacity="0"/></radialGradient>
<ellipse cx="650.7" cy="795.1" rx="15.5" ry="14.3" fill="url(#fs1)"/>
<rect x="610" y="606" width="80" height="83.5" fill="#c4c4cc" fill-opacity="0.42" stroke="#f0f0f6" stroke-width="1.1" stroke-opacity="0.55"/>
<rect x="617" y="609" width="67" height="79.5" fill="#b2b2bc" fill-opacity="0.30" stroke="#f2f2f8" stroke-width="0.8" stroke-opacity="0.5"/>
<rect x="610" y="606" width="80" height="2.2" fill="#eef0ff" opacity="0.55"/>
<rect x="684" y="608" width="6" height="97.5" fill="url(#fedge)" opacity="0.8"/>
<rect x="610" y="608" width="3" height="81.5" fill="#fff" opacity="0.35"/>
<rect x="622" y="607.5" width="54" height="1.6" fill="#5a78f0" opacity="0.5"/>
<rect x="624.7" y="634.2" width="12.3" height="12.8" fill="#5585ee"/>
<rect x="664.6" y="634.2" width="12.3" height="12.8" fill="#6c9af6"/>
<rect x="626.7" y="636.2" width="8" height="9" fill="#9dbcfa" opacity="0.45"/>
<rect x="666.6" y="636.2" width="8" height="9" fill="#b8d0fc" opacity="0.5"/>
<text x="651" y="627.6" font-size="11.7" font-weight="normal" text-anchor="middle" fill="#f8f8f8" stroke="#f8f8f8" stroke-width="0.35">283</text>
<text x="650.5" y="647.4" font-size="18.3" font-weight="bold" text-anchor="middle" fill="#fafafa" >QS</text>
<text x="650.5" y="663.7" font-size="11.2" font-weight="normal" text-anchor="middle" fill="#f8f8f8" stroke="#f8f8f8" stroke-width="0.35">1.00 mm</text>
</g>
<rect x="574.4" y="604.6" width="1.2" height="268.6" fill="#c8c8c8"/>
<text x="492.3" y="743.4" font-size="28" font-weight="bold" text-anchor="middle" fill="#fff" >Gold NRs</text>
<text x="650" y="729.6" font-size="28" font-weight="bold" text-anchor="middle" fill="#fff" >NR-hIAPP</text>
<text x="655.8" y="763.3" font-size="28" font-weight="bold" text-anchor="middle" fill="#fff" >assemblies</text>
</g>
<g id="panelG">
<defs>
<radialGradient id="gg00" cx="0.5" cy="0.5" r="0.5"><stop offset="0" stop-color="#b33e24"/><stop offset="0.45" stop-color="#b33e24"/><stop offset="0.74" stop-color="#c14629"/><stop offset="0.82" stop-color="#c14629" stop-opacity="0.8"/><stop offset="0.92" stop-color="#c14629" stop-opacity="0.25"/><stop offset="1" stop-color="#c14629" stop-opacity="0"/></radialGradient>
<radialGradient id="gg01" cx="0.5" cy="0.5" r="0.5"><stop offset="0" stop-color="#512015"/><stop offset="0.45" stop-color="#512015"/><stop offset="0.74" stop-color="#5e2619"/><stop offset="0.82" stop-color="#5e2619" stop-opacity="0.8"/><stop offset="0.92" stop-color="#5e2619" stop-opacity="0.25"/><stop offset="1" stop-color="#5e2619" stop-opacity="0"/></radialGradient>
<radialGradient id="gg02" cx="0.5" cy="0.5" r="0.5"><stop offset="0" stop-color="#451810"/><stop offset="0.45" stop-color="#451810"/><stop offset="0.74" stop-color="#4f1c13"/><stop offset="0.82" stop-color="#4f1c13" stop-opacity="0.8"/><stop offset="0.92" stop-color="#4f1c13" stop-opacity="0.25"/><stop offset="1" stop-color="#4f1c13" stop-opacity="0"/></radialGradient>
<radialGradient id="gg03" cx="0.5" cy="0.5" r="0.5"><stop offset="0" stop-color="#22100b"/><stop offset="0.45" stop-color="#22100b"/><stop offset="0.74" stop-color="#27130d"/><stop offset="0.82" stop-color="#27130d" stop-opacity="0.8"/><stop offset="0.92" stop-color="#27130d" stop-opacity="0.25"/><stop offset="1" stop-color="#27130d" stop-opacity="0"/></radialGradient>
<radialGradient id="gg04" cx="0.5" cy="0.5" r="0.5"><stop offset="0" stop-color="#1d100b"/><stop offset="0.45" stop-color="#1d100b"/><stop offset="0.74" stop-color="#21120c"/><stop offset="0.82" stop-color="#21120c" stop-opacity="0.8"/><stop offset="0.92" stop-color="#21120c" stop-opacity="0.25"/><stop offset="1" stop-color="#21120c" stop-opacity="0"/></radialGradient>
<radialGradient id="gg10" cx="0.5" cy="0.5" r="0.5"><stop offset="0" stop-color="#a0341f"/><stop offset="0.45" stop-color="#a0341f"/><stop offset="0.74" stop-color="#b23d24"/><stop offset="0.82" stop-color="#b23d24" stop-opacity="0.8"/><stop offset="0.92" stop-color="#b23d24" stop-opacity="0.25"/><stop offset="1" stop-color="#b23d24" stop-opacity="0"/></radialGradient>
<radialGradient id="gg11" cx="0.5" cy="0.5" r="0.5"><stop offset="0" stop-color="#732416"/><stop offset="0.45" stop-color="#732416"/><stop offset="0.74" stop-color="#842a19"/><stop offset="0.82" stop-color="#842a19" stop-opacity="0.8"/><stop offset="0.92" stop-color="#842a19" stop-opacity="0.25"/><stop offset="1" stop-color="#842a19" stop-opacity="0"/></radialGradient>
<radialGradient id="gg12" cx="0.5" cy="0.5" r="0.5"><stop offset="0" stop-color="#581c12"/><stop offset="0.45" stop-color="#581c12"/><stop offset="0.74" stop-color="#662115"/><stop offset="0.82" stop-color="#662115" stop-opacity="0.8"/><stop offset="0.92" stop-color="#662115" stop-opacity="0.25"/><stop offset="1" stop-color="#662115" stop-opacity="0"/></radialGradient>
<radialGradient id="gg13" cx="0.5" cy="0.5" r="0.5"><stop offset="0" stop-color="#631f13"/><stop offset="0.45" stop-color="#631f13"/><stop offset="0.74" stop-color="#732516"/><stop offset="0.82" stop-color="#732516" stop-opacity="0.8"/><stop offset="0.92" stop-color="#732516" stop-opacity="0.25"/><stop offset="1" stop-color="#732516" stop-opacity="0"/></radialGradient>
<radialGradient id="gg14" cx="0.5" cy="0.5" r="0.5"><stop offset="0" stop-color="#732316"/><stop offset="0.45" stop-color="#732316"/><stop offset="0.74" stop-color="#842818"/><stop offset="0.82" stop-color="#842818" stop-opacity="0.8"/><stop offset="0.92" stop-color="#842818" stop-opacity="0.25"/><stop offset="1" stop-color="#842818" stop-opacity="0"/></radialGradient>
<radialGradient id="ggsh"><stop offset="0" stop-color="#000" stop-opacity="0.16"/><stop offset="1" stop-color="#000" stop-opacity="0"/></radialGradient>
<linearGradient id="ggtop" x1="0" y1="0" x2="0" y2="1"><stop offset="0" stop-color="#fff" stop-opacity="0.10"/><stop offset="0.35" stop-color="#fff" stop-opacity="0"/><stop offset="1" stop-color="#000" stop-opacity="0.25"/></linearGradient>
</defs>
<rect x="793.2" y="651.2" width="91.5" height="89.9" fill="#0c0706"/>
<clipPath id="gc00"><rect x="793.2" y="651.2" width="91.5" height="89.9"/></clipPath>
<g clip-path="url(#gc00)"><ellipse cx="839" cy="699.2" rx="44.5" ry="43.5" fill="url(#gg00)"/><ellipse cx="839" cy="713.2" rx="38" ry="36" fill="url(#ggsh)"/></g>
<rect x="887.9" y="651.2" width="90.7" height="89.9" fill="#0c0706"/>
<clipPath id="gc01"><rect x="887.9" y="651.2" width="90.7" height="89.9"/></clipPath>
<g clip-path="url(#gc01)"><ellipse cx="933.2" cy="699.2" rx="44.5" ry="43.5" fill="url(#gg01)"/><ellipse cx="933.2" cy="713.2" rx="38" ry="36" fill="url(#ggsh)"/></g>
<rect x="981" y="651.2" width="90.8" height="89.9" fill="#0c0706"/>
<clipPath id="gc02"><rect x="981" y="651.2" width="90.8" height="89.9"/></clipPath>
<g clip-path="url(#gc02)"><ellipse cx="1026.4" cy="699.2" rx="44.5" ry="43.5" fill="url(#gg02)"/><ellipse cx="1026.4" cy="713.2" rx="38" ry="36" fill="url(#ggsh)"/></g>
<rect x="1074.1" y="651.2" width="90.8" height="89.9" fill="#0c0706"/>
<clipPath id="gc03"><rect x="1074.1" y="651.2" width="90.8" height="89.9"/></clipPath>
<g clip-path="url(#gc03)"><ellipse cx="1119.5" cy="699.2" rx="44.5" ry="43.5" fill="url(#gg03)"/><ellipse cx="1119.5" cy="713.2" rx="38" ry="36" fill="url(#ggsh)"/></g>
<rect x="1167.7" y="651.2" width="91.1" height="89.9" fill="#0c0706"/>
<clipPath id="gc04"><rect x="1167.7" y="651.2" width="91.1" height="89.9"/></clipPath>
<g clip-path="url(#gc04)"><ellipse cx="1213.2" cy="699.2" rx="44.5" ry="43.5" fill="url(#gg04)"/><ellipse cx="1213.2" cy="713.2" rx="38" ry="36" fill="url(#ggsh)"/></g>
<rect x="793.2" y="778.7" width="91.5" height="89.9" fill="#0c0706"/>
<clipPath id="gc10"><rect x="793.2" y="778.7" width="91.5" height="89.9"/></clipPath>
<g clip-path="url(#gc10)"><ellipse cx="839" cy="826.7" rx="44.5" ry="43.5" fill="url(#gg10)"/><ellipse cx="839" cy="840.7" rx="38" ry="36" fill="url(#ggsh)"/></g>
<rect x="887.9" y="778.7" width="90.7" height="89.9" fill="#0c0706"/>
<clipPath id="gc11"><rect x="887.9" y="778.7" width="90.7" height="89.9"/></clipPath>
<g clip-path="url(#gc11)"><ellipse cx="933.2" cy="826.7" rx="44.5" ry="43.5" fill="url(#gg11)"/><ellipse cx="933.2" cy="840.7" rx="38" ry="36" fill="url(#ggsh)"/></g>
<rect x="981" y="778.7" width="90.8" height="89.9" fill="#0c0706"/>
<clipPath id="gc12"><rect x="981" y="778.7" width="90.8" height="89.9"/></clipPath>
<g clip-path="url(#gc12)"><ellipse cx="1026.4" cy="826.7" rx="44.5" ry="43.5" fill="url(#gg12)"/><ellipse cx="1026.4" cy="840.7" rx="38" ry="36" fill="url(#ggsh)"/></g>
<rect x="1074.1" y="778.7" width="90.8" height="89.9" fill="#0c0706"/>
<clipPath id="gc13"><rect x="1074.1" y="778.7" width="90.8" height="89.9"/></clipPath>
<g clip-path="url(#gc13)"><ellipse cx="1119.5" cy="826.7" rx="44.5" ry="43.5" fill="url(#gg13)"/><ellipse cx="1119.5" cy="840.7" rx="38" ry="36" fill="url(#ggsh)"/></g>
<rect x="1167.7" y="778.7" width="91.1" height="89.9" fill="#0c0706"/>
<clipPath id="gc14"><rect x="1167.7" y="778.7" width="91.1" height="89.9"/></clipPath>
<g clip-path="url(#gc14)"><ellipse cx="1213.2" cy="826.7" rx="44.5" ry="43.5" fill="url(#gg14)"/><ellipse cx="1213.2" cy="840.7" rx="38" ry="36" fill="url(#ggsh)"/></g>
<text transform="translate(836.4,644.8) scale(0.97,1)" font-size="25.2" font-weight="bold" text-anchor="middle" letter-spacing="0.3" stroke="#000" stroke-width="0.3">1:0</text>
<text transform="translate(924.5,646.4) scale(0.97,1)" font-size="25.2" font-weight="bold" text-anchor="middle" letter-spacing="0.3" stroke="#000" stroke-width="0.3">1:0.2</text>
<text transform="translate(1021.3,644.8) scale(0.97,1)" font-size="25.2" font-weight="bold" text-anchor="middle" letter-spacing="0.3" stroke="#000" stroke-width="0.3">1:1</text>
<text transform="translate(1112.5,644.0) scale(0.97,1)" font-size="25.2" font-weight="bold" text-anchor="middle" letter-spacing="0.3" stroke="#000" stroke-width="0.3">1:5</text>
<text transform="translate(1206.6,644.0) scale(0.97,1)" font-size="25.2" font-weight="bold" text-anchor="middle" letter-spacing="0.3" stroke="#000" stroke-width="0.3">1:10</text>
<text x="1249.4" y="767.6" font-size="25.2" font-weight="bold" text-anchor="end" fill="#000" textLength="188.8" lengthAdjust="spacingAndGlyphs">([hIAPP]:[Drug])</text>
<text transform="translate(788.8,701) rotate(-90) scale(0.935,1)" font-size="26.3" font-weight="bold" text-anchor="middle">EGCG</text>
<text transform="translate(788.8,815.3) rotate(-90) scale(0.935,1)" font-size="26.3" font-weight="bold" text-anchor="middle">D-NFGAIL</text>
</g>
<g id="labels"><text transform="translate(52.0,86.6) scale(1.03,1)" x="0" y="0" font-size="40.4" font-weight="bold" fill="#000">A</text><text transform="translate(29.6,284.9) scale(0.95,1)" x="0" y="0" font-size="45" font-weight="bold" fill="#000">B</text><text transform="translate(419.0,283.1) scale(0.95,1)" x="0" y="0" font-size="45" font-weight="bold" fill="#000">C</text><text transform="translate(759.6,284.0) scale(0.95,1)" x="0" y="0" font-size="45" font-weight="bold" fill="#000">D</text><text transform="translate(25.3,622.9) scale(0.95,1)" x="0" y="0" font-size="45" font-weight="bold" fill="#000">E</text><text transform="translate(402.0,607.8) scale(0.95,1)" x="0" y="0" font-size="45" font-weight="bold" fill="#000">F</text><text transform="translate(766.5,612.4) scale(0.95,1)" x="0" y="0" font-size="45" font-weight="bold" fill="#000">G</text></g>
</svg>
</body></html>
